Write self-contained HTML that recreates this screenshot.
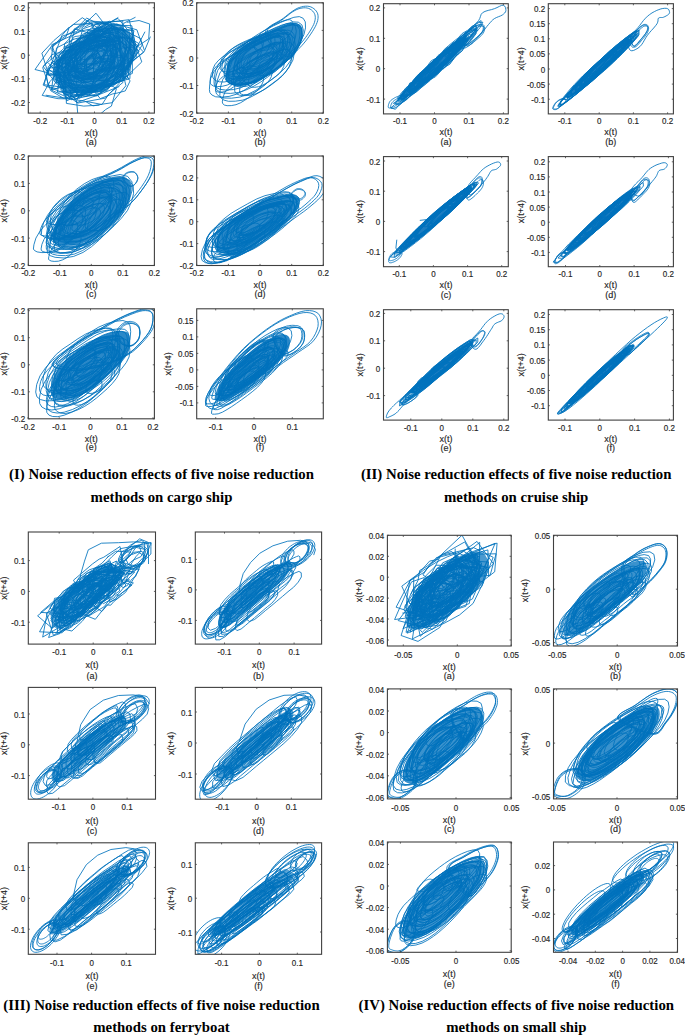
<!DOCTYPE html><html><head><meta charset="utf-8"><style>html,body{margin:0;padding:0;background:#fff;width:685px;height:1036px;overflow:hidden}svg{display:block}</style></head><body>
<svg width="685" height="1036" viewBox="0 0 685 1036">
<rect width="685" height="1036" fill="#fff"/>
<g fill="none" stroke="#0072BD" stroke-width="0.6" stroke-linejoin="round">
<g clip-path="url(#c_I_a)">
<g transform="scale(0.1)"><path fill="#3A92CD" stroke="none" d="M545 743l6-46 12-54 20-50 31-40 39-37 42-35 41-32 44-31 46-30 48-33 51-34 50-27 51-19 50-13 49-5 47 5 45 13 39 19 31 26 25 32 18 36 13 41 6 45 0 45-6 44-13 44-18 42-26 40-32 37-36 36-40 34-44 31-47 28-47 23-50 19-52 14-56 11-58 7-54 1-49-7-44-13-38-18-31-22-25-26-19-26-12-22-7-23z"/><path stroke-width="8.5" d="M1504 366l-62 151-105 88-141 51-142 27-142-118 36-107 100-146 122-74 96 75 139 73 38 116 M777 977l42-57 88-41 127-73 130 80-50 175-57 34-77 66-119 29-82-33-13-152 72-119 M1212 694l89 115-48 100-82 22-44 8-124 47-96-114 72-133 71-24 53-11 128-48 56 138 M1052 419l80 34-32 165-10 69-82 31-71 57-140-30-77-72 40-124 68-36 69-20 69-27 116-96 M976 442l216-35-50 154-34 96-34 85-106 19-103 19-108-82 57-147 101-50 82-60 M712 335l155-154 121 59 95 177-29 139-60 95-102 147-212-49-206-2 96-260 49-132 71-83 M1173 548l-43 121-96 162-169 80-157-32-83-189 121-115 24-138 151-36 79 37 151 63-13 225 M743 683l3-118 110-59 45-47 75-11 219-68-37 190-63 138-91 77-155 1-134-105 M953 630l-115 57-88-7-44-114 70-63 37-82 60-36 59 10 103-43 22 99-18 81-40 85-73 37 M929 603l98-45 68-4 146 31-80 165-28 55-56 63-55-12-70 45-103-21-78-113 118-101 88-70 M1182 811l-161 79-114-3-211-54-116-210 113-102 129-177 250-89 315 179-123 286-176 143 M566 752l91-212 125-154 130-15 207 38 48 98-45 147-135 66-112 86-96-42-236-12 M1186 740l-115 59-145 71-298 3 108-222-28-121 168-76 173-142 92 89 95 198-114 176 M1050 837l-165 103-242 12-63-280 94-186 81-65 196-173 157-22 150 269-32 260-218 153 M1181 414l86 44-33 139-74 80-134 21-57-52-45-96 66-72 77-38 58-30 71-11 M866 301l140 12 226-24 45 253 8 204-156 115-266 27-220 62-116-275 81-139 97-94 110-64 281-168 M903 479l136 43-10 134-73 123-72 41-77 8-124-26-38-89 43-127 75-77 54-66 170-18 M905 354l193-106 200 83-15 346-111 115-179 110-330 24-45-296 129-187 175-53 M1239 655l-113 104-149 140-117 67-164-36-165-142 108-243 100-122 204-20 189-140 185 191-150 256 M871 823l-172-91 64-135 103-96 102-20 223-49 23 206-127 75-43 114-135 57-145-136 M816 824l-99 125-31 40-105-2-159-33 79-140 64-69 106-41 89 84 14 105 M1123 702l-59 45-60 26-67 71-185-56 26-157-11-78 75-95 120-45 170-18 53 118-85 132-83 79 M1252 574l-86 131-94 111-105 37-323 65-75-218 210-197 62-75 98-127 241-117 139 166 31 154-79 277 M687 572l168-102 95-50 78-23 163-13 14 229 24 129-122 65-123-2-154 20-226-129 184-123 M1005 673l-64 60-164 57-89-170 127-122 64-32 72-50 92-7 73 105-77 135-38 57 M886 357l115-11 311-57 43 257-158 208-133 158-212-11-278 20 58-346 142-184 235-64 M661 936l-26-155 120-114 181-118 169 111 118 44 36 153-137 170-101 15-91 17-80-47-393-60 M661 611l-17-173 106-104 54-27 70-98 232 15 52 226-111 92-128 95-162 11-106-67 M1268 223l123-18 106 35-10 149-124 81-52 3-130 11-84-56 95-128 48-69 115-59 M787 922l-132-243 77-205 143-21 206-173 107 140 135 140 1 174-277 122-250 101-177-144 M1304 602l-5 185-196 53-244 10-187-136 158-142 107-130 190-210 242 66 53 152-154 247 M1051 848l-131 69-226 55-59-104 15-191 115-142 158-81 230 3 55 257-170 118-148 118 M1017 445l173 40 58 171-153 209-123 93-138-18-201 41-126-74-80-230 92-131 175-50 55-207 191 57 156 26 M793 450l52-11 67-57 186 73-112 154-70 77-136 39-111-121 57-93 68-93 M1282 598l-44 205-245 80-290 105-191-88 141-244 42-156 198-76 153-138 294 21-73 300 M937 300l42 228-117 189-180-1-193 41-70-225 119-126 118-101 81-61 174-6 83 213 M697 700l116-42 32-54 87-68 142 77 36 118-101 123-63 19-169 81-56-96-79-113 146-109 M571 889l-88-23-19-114 22-71 97-9 77-46 70 21 64 77-67 87-47 49-58 20-53-11 M863 428l140-63 118 22 6 138-30 93-102-3-54 60-145 77-36-185 52-91 54-59 M553 647l170-161 182-110 269-87 192 172-95 260-122 122-247 42-180-12-240-245 M901 467l81-34 166 11 33 195-80 133-123 83-90-68-130 33-130-49 41-130 77-107 135-35 93-130 M937 375l291-2 163 139-175 232-155 94-131 17-243 5-104-116 7-203 203-78 193-213 M996 238l184 16 256 267-212 168-160 215-158-42-193 25-177-145 29-263 175-87 136-37 307-181 M961 305l221 31 156 188-65 209-196 118-97 71-219 8-272-239 171-167 137-45 73-136 198-66 M842 273l78-45 24 63 1 91-69 47-46 43-123 38-15-129 48-89 51-30 100-66 M1272 790l-128-73-209 108 0-205 12-163 104-37 79-143 102 31 135 163-6 106-108 121-106 80 M1012 849l-147 12-158-30-58-247 155-98 148-91 249 26 32 259-139 108-141 26 M1122 610l-192 29-59 76-95-36-86-18-184-170 119-131 142-45 193-183 148 191-57 223-66 128 M1073 692l-65 40-41 47-67 20-87-10-48-63 33-75 51-40 30-45 99-37 72 89 11 53-60 42 M1201 342l6 246 27 194-249 133-336 11-76-241 79-200 137-52 38-144 183-65 218-13-2 211 M652 847l-116-63 37-184-56-153 187-85 116-55 225-39 91 132-2 193-74 79-156 77-161-40-234-83 M1321 371l-97 323-162 105-92 64-168 9-195-65 95-167-5-127 112-33 168-150 115 67 157 82 M942 818l-40 72-108 92-61-137-217 52 25-207 45-86 105-78 132-55 160 45 33 90-66 158-56 147 M784 474l48-47 166-18-37 147-21 80-106 61-62 65-80-103-97-45 130-104 47-45 82-48 M995 1051l-158 10-173-27-10-256 77-116 124-35 66-62 218 34 70 79 21 146-142 116-68 105-153-30 M919 487l62-19 157-26 37 90-116 76-36 82-63 56-148-49-8-129 53-54 89-76 M1097 361l14 258-115 78-145 53-160 31-341-86 168-238 150-106 180-115 152-13 168 55 30 162 M823 538l75-66 105-26 80 113-14 91-33 43-95 73-80-17-100-69 65-100 67-65 M569 682l51-140 39-69 87-108 96-11 90-51 247-23 28 204-175 178-68 97-126 6-273 67 4-264 M979 476l99 37 65 91-59 72-73 15-45 36-93 4-13-123 66-54 43-45 121-80 M837 690l49-104 42-22 81-59 101-3 32 134-56 46-25 31-49 51-53-23-93-4-3-113 M988 473l242 98-100 258-166 128-243 4-290-110 88-228 180-57 74-32 149-188 154 71 M1193 865l-222 89-202 71-157-117-21-136 137-158 123-20 159-16 142 60-40 138-109 144 M858 740l-117-24 47-159 80-57 61-23 99-19 91 64-25 116-51 52-63 39-84 12-41-40 M1450 317l-135 261-121 225-182 127-298 68-40-315-40-134 81-86 141-60 162-172 209 23 103 315 M957 364l127-31 138 54 48 202-116 67-120 117-196 17 12-231 47-114 123-93 M837 612l120-114 84-63 118-57 62 51 76 68-88 142-74 70-106-2-77-17-134-29 101-119 M782 584l40-79 49-16 186-50 29 154-115 113-46 23-72 74-133-75-24-124 95-58 M944 239l348-42 54 224 72 198-201 193-133 53-268 92-260-221 163-238 160-117 154-123 M1258 593l-69 243-135 145-279 50-95-152-238-32 41-179 186-197 186-32 276-175 104 284 20 246 M632 473l109-45 180-99 152-25 203 162-141 243-119 208-130 0-128 72-193-149-134-177 210-180 140-26 M1117 679l-104 88-103 9-160 40-64-172 39-119 76-45 123-66 248-8-47 160-33 137 M637 719l-125-125 17-134 128-85 35-99 131-99 172 114 123 110-99 199-173 58-154 73-231-26 M903 520l102-87 68 25 77 142-89 115-44 38-98-4-65 7-100-68 50-80 36-86 48-23 49-2 M1227 525l7 280-162 10-70 65-90 14-186-3-44-236 71-132 101-50 213-120 208 30-44 265 M1080 718l-42 70-112 10-177-30 17-141-17-88 83-46 136-83 164 17 43 120-95 140-97 115 M1007 765l-182 8-106-122 104-185 97-97 143-39 233 58 13 184-81 74-131 39-105 37 M849 811l-70-37-46-96 9-58 61-49 43-50 119-16 41 78 23 83-56 82-62 23-91 15 M813 765l-117-16-20-108 133-149 39-70 142-65 113 29 12 156-57 76-89 102-86 29-110-62 M871 402l224-152 223 7 34 176-60 197-103 129-88 82-119 20-315 147-62-220-33-175 138-138 128-110 123-36"/></g>
</g>
<g clip-path="url(#c_I_b)">
<g transform="scale(0.1)"><path fill="#2A88C8" stroke="none" d="M2259 749l3-28 4-34 8-35 13-34 20-32 25-31 28-30 30-28 30-26 32-24 34-22 35-22 36-20 37-19 38-18 38-18 38-17 38-18 38-16 36-14 35-13 35-11 33-8 28-2 24 5 20 11 16 15 11 22 4 29 0 35-5 39-11 37-15 36-21 36-25 35-26 33-30 30-32 28-34 27-35 27-36 27-38 28-38 25-38 23-37 20-38 19-37 15-37 11-39 8-41 4-38 0-32-2-25-6-21-8-16-11-13-13-7-12-4-14 0-17z"/><path stroke-width="8.5" d="M2381 806l38-19 39-18 38-17 37-14 35-12 30-4 22 7 14 18 4 32-7 38-17 36-25 35-31 31-35 28-38 30-41 28-41 24-43 18-47 9-42 1-28-7-16-14-4-17 4-24 8-37 16-39 27-34 33-31 34-26 36-22 M2773 802l-52 40-55 40-56 32-55 25-57 14-58 4-44-5-29-13-17-18-4-22 2-38 9-52 25-50 42-47 46-41 51-34 53-31 57-28 57-26 56-25 53-19 49-14 37 5 24 21 10 37-6 55-19 53-32 51-40 46-47 40 M2552 792l-36 25-37 20-37 13-38 4-32-3-19-9-12-12-6-13 0-17 1-28 8-33 20-31 28-28 31-24 34-21 36-19 36-17 37-17 36-16 36-13 30-5 21 8 11 20-1 33-11 37-19 34-24 32-27 27-32 26-34 27 M2427 822l25-25 27-22 29-19 33-17 33-16 32-14 32-13 29-9 25-3 17 8 10 16 1 28-7 31-16 30-21 28-25 24-29 22-30 22-31 21-31 16-31 12-34 5-30 0-20-5-13-9-6-11 0-16 3-27 8-30 20-27 M2107 783l30-64 52-61 58-54 66-46 71-42 75-35 75-34 74-33 69-25 65-17 49 4 33 28 10 51-12 74-31 69-48 66-54 57-60 48-62 48-66 48-67 42-69 35-74 22-77 8-57-4-38-18-20-23-5-30 3-47 10-67 M2680 567l30-17 31-15 32-16 32-13 30-12 27-5 20 6 12 15 2 29-7 33-17 31-22 29-26 25-30 23-31 24-33 22-33 17-33 12-33 3-29-3-16-8-9-12-2-13 2-16 4-25 8-27 17-25 22-24 24-20 28-18 M2636 385l67-31 64-26 60-20 52-7 38 14 23 32 6 55-11 65-29 62-44 61-54 53-61 48-67 49-68 44-68 34-67 24-71 10-64-1-42-12-25-21-10-25 3-35 9-57 21-61 41-56 52-51 55-44 59-38 64-34 67-32 M2799 359l8 37-7 54-21 51-35 49-40 43-45 36-48 35-50 34-49 29-49 23-51 14-54 4-41-3-27-11-16-16-4-20 1-34 8-48 22-46 37-43 42-39 46-33 51-30 54-27 54-26 55-24 51-19 48-14 36 4 24 20 M2748 382l2 33-8 39-19 37-26 34-31 30-35 28-37 28-39 25-39 20-39 15-41 5-36-1-23-8-14-12-4-15 2-20 4-32 12-35 23-31 29-29 31-25 34-22 37-20 38-19 38-18 38-16 36-13 32-5 22 8 13 19 M2290 737l9-58 21-63 43-57 53-53 56-44 61-39 66-36 68-33 70-35 70-32 69-27 62-13 46 11 29 34 6 62-16 75-38 70-53 66-62 56-68 49-69 50-71 43-69 35-68 25-74 10-65-1-43-12-27-22-9-25 3-36 M2913 346l11 36-6 54-19 52-34 50-40 44-47 39-49 37-53 37-52 32-54 25-55 16-58 5-44-3-28-14-16-18-2-23 4-37 10-51 25-48 40-44 44-39 48-34 51-29 54-26 54-25 54-24 51-19 48-14 37 2 26 19 M2441 811l-1-13 1-19 5-27 13-25 20-24 23-22 26-18 28-16 30-14 29-14 29-13 28-10 27-9 22 0 17 9 7 19-2 30-10 30-20 29-24 25-27 21-29 21-29 19-29 17-28 13-30 8-31 2-23-2-14-8-8-9 M2999 358l-15 71-33 66-46 64-55 55-64 53-70 54-73 48-73 40-74 27-79 11-69-1-46-14-28-23-11-27 3-39 10-62 24-68 46-61 58-55 60-46 65-40 69-37 71-34 71-34 70-30 67-23 57-9 40 16 23 37 2 61 M3032 183l21 36 2 60-16 68-33 65-46 61-55 53-63 48-66 48-68 42-66 34-67 25-73 13-68 3-47-8-32-18-13-24 2-37 10-60 24-66 47-59 55-53 58-44 61-39 66-37 69-35 71-34 69-29 65-23 54-7 39 17 M2333 896l-77 5-57-8-36-19-20-25-3-31 4-49 12-68 33-64 53-61 59-53 65-45 70-39 73-35 73-32 71-31 67-23 62-17 48 4 34 25 15 46-4 69-23 69-41 67-52 61-62 53-68 53-73 52-74 43-73 34-76 19 M2653 743l-36 28-37 24-37 21-38 13-39 5-35-1-22-8-13-12-6-13 0-19 2-30 9-34 22-32 30-29 33-25 34-20 37-18 36-16 36-17 36-15 35-13 32-7 24 5 14 18 2 33-9 38-20 36-26 34-31 28-33 26 M2445 734l-29-8-18-15-7-16 2-25 6-38 14-43 28-38 36-35 38-30 41-26 44-23 46-21 44-20 43-17 41-13 35-5 26 8 16 22 4 37-8 44-21 42-29 41-37 35-41 33-44 33-46 30-45 24-46 17-50 8-43-1 M2205 625l40-28 44-26 46-24 47-23 48-22 45-17 43-12 32 2 22 18 9 32-5 46-17 46-28 44-34 39-41 34-44 34-47 33-47 28-47 22-49 12-49 3-36-5-23-13-12-16-1-20 3-32 9-43 22-41 33-38 37-33 M2617 378l15 21 2 37-9 43-22 41-30 39-35 32-39 30-41 30-42 26-42 21-41 15-43 6-39-1-26-7-16-13-8-14 1-21 3-34 12-39 26-35 33-33 35-27 38-24 40-21 42-19 42-21 41-18 41-15 35-7 27 8 M2506 689l-19-6-12-9-6-11 0-15 2-26 10-29 19-27 25-24 26-20 28-19 31-17 32-16 33-17 33-14 31-12 27-5 20 8 10 16 2 29-7 33-16 31-22 30-26 26-31 24-32 24-34 21-32 15-32 9-32 3-28-2 M2515 475l37-24 41-21 41-20 41-18 40-17 38-13 33-5 24 8 15 20 2 35-9 42-21 39-29 36-33 31-37 29-39 29-40 26-40 21-41 15-43 6-38 0-24-8-15-13-6-15 1-20 3-33 11-37 24-34 30-32 34-27 M2366 782l-19-10-10-13-2-16 3-26 7-35 16-34 27-31 30-29 34-24 37-22 39-19 40-18 38-17 37-12 34-10 27 1 21 12 11 24 0 38-12 38-24 39-31 34-37 29-39 28-40 26-39 21-38 17-39 10-41 3-30-4 M2585 440l76-36 74-30 70-25 62-10 47 13 30 35 9 64-11 76-33 74-52 73-65 62-74 58-79 58-81 51-80 40-79 28-84 11-74-2-48-15-28-26-9-30 6-43 12-65 25-71 48-64 59-58 63-49 67-44 73-39 76-36 M2220 573l43-29 46-27 48-24 50-24 50-24 49-20 47-16 37 1 25 17 9 35-6 52-19 49-31 48-37 42-43 37-47 37-51 35-51 29-49 20-49 9-47-2-32-9-20-15-12-15-4-18 0-30 4-42 18-41 33-40 39-35 M2767 585l-12 28-20 27-25 24-29 21-29 21-30 19-30 16-31 12-33 7-30 1-21-5-11-10-3-12 3-18 6-26 11-28 19-25 22-22 24-19 26-18 29-15 29-14 30-13 27-11 26-8 23-3 17 6 12 13 4 23-4 29 M2708 428l-15 45-27 44-32 40-40 37-44 37-49 39-52 32-53 26-54 13-54 1-37-8-22-16-10-20 0-22 4-33 9-46 22-43 37-40 40-35 44-28 46-24 47-21 45-20 46-20 43-17 42-13 34 1 23 15 10 30-3 46 M2467 586l30-30 33-27 37-22 38-20 40-18 38-17 37-14 36-12 32-6 25 6 18 16 6 32-4 39-18 39-27 38-35 33-39 29-42 29-41 25-40 19-39 13-42 5-36-1-24-7-16-13-6-13 1-21 3-32 11-36 24-34 M2577 740l-30 16-31 12-32 5-29-1-18-6-11-11-2-12 3-17 5-25 10-27 18-24 22-21 23-19 26-17 28-15 29-14 29-14 28-11 27-10 23-3 17 5 11 14 3 24-5 29-13 28-20 27-24 23-27 22-29 22-31 20 M2371 671l5-38 13-41 25-37 34-36 36-31 42-27 45-25 47-22 47-20 44-17 41-13 36-5 26 9 17 22 4 38-9 46-23 44-32 41-38 35-42 31-44 32-44 29-45 24-45 18-50 9-44 0-28-8-17-16-4-17 3-25 M2328 724l23-48 38-45 44-40 49-34 53-30 55-25 54-23 53-22 49-18 47-13 38 1 29 16 13 35-4 53-20 52-35 52-42 44-48 38-50 37-52 36-51 31-53 26-55 16-58 5-43-4-28-13-15-19-2-22 3-36 8-50 M2377 681l-4-18 1-30 7-43 20-41 32-38 36-35 41-31 45-30 50-28 53-27 55-28 53-21 49-15 37 3 24 20 8 38-7 54-21 51-33 50-40 43-47 37-49 35-51 32-49 25-46 19-46 9-47 0-35-5-23-11-13-15 M2635 643l34-16 35-15 33-14 32-11 30-6 23 4 16 15 5 29-6 37-18 35-26 33-31 28-34 25-35 26-36 22-36 19-35 13-38 6-33-2-20-8-10-13-2-14 2-19 4-28 9-30 19-28 25-27 27-23 32-20 34-18 M2685 764l-76 55-78 47-75 36-74 23-77 9-67-3-45-14-29-22-12-26 0-37 5-60 20-68 44-63 58-58 62-50 68-43 74-38 75-34 74-33 70-28 67-22 58-8 45 13 29 34 10 60-10 73-32 71-49 70-62 61-73 55 M3033 301l-9 77-28 73-46 72-56 63-65 56-71 55-76 55-77 44-76 34-77 18-78 3-57-9-38-19-23-24-7-29 0-49 10-71 33-68 57-65 64-55 70-47 74-41 76-35 76-36 77-34 73-29 70-21 54 3 36 27 14 52 M2278 904l-29 12-32 5-29 1-19-5-11-9-3-12 2-16 4-24 9-27 18-24 22-23 23-19 26-17 29-16 29-14 30-14 29-12 28-9 23-4 18 6 11 14 2 25-6 30-15 29-22 26-24 23-28 20-28 20-29 19-28 15 M2890 240l61-8 43 18 24 40 0 67-19 77-38 72-53 67-62 57-68 51-72 52-73 45-71 35-70 23-73 8-64-3-41-14-26-22-11-24 1-35 5-57 16-64 39-59 52-56 58-49 65-46 72-42 78-38 78-38 77-33 72-24 M2645 394l52-23 50-19 47-16 42-6 31 9 22 23 8 42-5 52-21 51-35 50-44 44-52 41-56 41-57 35-56 29-56 20-61 10-55 1-37-9-24-16-9-21 3-31 9-49 20-53 37-47 46-42 47-35 49-30 52-27 53-24 M2484 415l62-36 66-34 67-33 70-33 66-27 62-18 47 4 30 26 9 48-10 68-25 64-40 63-47 55-56 50-61 50-68 50-69 41-69 32-70 16-71 2-50-10-32-19-17-23-3-28 4-45 11-62 31-59 50-54 54-48 59-40 M2445 774l-60 13-61 2-43-8-27-17-13-20-1-25 4-38 9-53 25-49 40-47 45-42 50-35 55-32 58-28 58-27 58-26 55-21 53-17 43 0 32 18 16 37-1 58-19 59-36 58-46 51-55 45-59 43-61 42-60 33-59 26 M2690 273l37-19 39-18 38-16 35-13 32-8 26-2 19 9 11 18 3 30-5 34-14 34-23 32-28 29-34 27-36 28-38 24-38 21-38 15-43 8-39 2-27-5-18-11-7-14 2-21 6-35 14-37 26-34 32-30 33-25 35-23 M2494 633l2-18 4-24 12-23 19-22 21-20 24-16 25-14 27-13 26-12 27-12 25-10 24-7 20 0 14 9 6 17-2 27-10 26-16 26-21 23-23 20-26 19-27 19-27 16-27 13-28 7-29 1-20-3-13-7-7-10 0-12 M2210 980l-12-25 2-37 8-60 21-66 44-61 56-55 60-47 65-41 69-37 72-34 72-34 71-30 68-25 60-11 45 13 28 35 5 62-15 74-37 71-52 66-61 56-69 51-70 50-72 44-70 36-70 26-75 11-68 1-46-12-29-21 M2652 334l8-32 25-28 35-25 41-23 39-21 32-21 25-20 25-20 23-18 23-16 22-14 21-12 22-9 21-6 21-5 20-2 19 0 17 2 17 5 16 8 15 10 13 11 11 13 8 13 6 14 3 15 1 16-1 17-3 19-6 19-8 21-11 23-14 24-15 25-16 24-16 23-16 23-17 22-18 22-19 22-20 21-20 20-19 23-20 26-20 25-21 20-24 10-25-4-34-24-42-40-44-50-39-54-29-51-12-41 M2669 326l8-29 23-25 32-23 37-21 35-19 30-20 23-18 23-18 21-17 21-15 20-12 20-11 19-8 20-6 19-4 18-2 17 0 16 2 15 4 15 7 14 9 12 11 10 12 7 12 5 12 3 14 1 15-1 16-3 16-5 18-7 19-11 21-12 22-14 23-14 22-15 21-15 21-16 20-16 21-17 19-18 19-18 19-18 20-18 24-18 24-20 18-21 9-24-4-31-22-38-37-40-46-36-49-27-46-11-38"/></g>
</g>
<g clip-path="url(#c_I_c)">
<g transform="scale(0.1)"><path fill="#2A88C8" stroke="none" d="M523 2372l6-42 13-53 18-54 26-51 32-50 36-49 39-45 44-44 48-41 54-41 58-39 56-33 52-24 50-19 47-13 48-9 45-4 38 4 32 14 26 23 17 28 8 34-1 38-7 41-13 42-19 45-24 43-28 39-32 37-33 37-36 38-37 38-40 36-41 34-44 31-45 28-49 24-50 19-51 13-53 5-52-1-45-4-32-6-24-10-18-12-13-10-6-13z"/><path stroke-width="8.5" d="M488 2566l12-44 23-41 31-38 37-36 46-33 44-24 41-13 38-6 30 7 18 22 3 29-8 35-19 37-25 31-29 31-32 30-35 26-38 20-41 13-42 2-31-4-18-9-8-9 3-26 M396 2318l47-58 57-52 69-49 66-34 59-19 56-8 44 11 27 30 7 43-10 51-25 54-37 48-44 48-49 47-54 42-60 31-64 21-66 2-48-7-26-14-11-15 5-42 20-67 37-63 M1295 1978l-7 46-20 49-28 45-36 41-39 44-45 40-51 35-56 23-57 7-51-5-30-10-18-12-5-18 8-53 25-58 40-55 47-48 56-43 61-38 56-25 53-16 50-4 34 20 13 35 M581 2309l24-90 47-85 64-80 78-71 95-67 91-47 82-27 78-13 61 15 36 43 6 61-17 71-36 74-50 64-58 64-65 64-73 57-81 43-85 25-87 0-62-11-34-19-16-18 2-53 M1100 1971l50 32 22 52-7 68-28 76-45 71-58 63-63 64-69 59-76 49-83 36-87 16-83-4-49-12-28-18-6-30 15-82 38-89 58-86 72-76 87-71 98-61 88-36 81-20 73-1 M522 2232l66-94 79-84 96-77 107-66 95-39 89-21 78-1 55 34 25 57-5 73-29 83-48 77-62 70-70 73-78 66-85 55-93 39-97 18-92-4-55-14-30-20-7-34 18-92 43-99 M896 1948l65-28 60-13 52 2 35 25 15 40-5 49-20 55-32 51-42 47-46 47-51 43-55 36-61 26-65 13-61-2-37-9-20-13-4-23 12-61 28-66 42-62 52-57 64-54 74-46 M810 2169l-44-3-25-9-14-10-2-17 9-44 20-47 31-45 38-41 46-38 52-35 48-22 47-13 41-2 28 18 12 30-5 39-17 42-24 39-32 35-34 36-39 34-42 27-47 19-47 7 M736 2309l-15-8-3-16 10-42 22-44 31-41 36-35 40-32 45-28 41-18 38-9 33 0 22 15 9 25-3 31-11 34-18 33-25 30-29 32-34 30-38 25-41 17-43 8-41-2-26-5 M732 2320l-44 34-48 25-52 16-53 1-38-6-20-12-8-12 4-34 16-53 28-50 37-47 45-43 56-40 54-28 48-13 43-4 32 11 20 25 5 33-7 39-18 43-27 37-33 39-40 39 M995 2241l-58 49-63 40-69 28-70 10-64-6-37-13-20-15-6-23 9-64 25-71 43-70 57-67 74-63 86-56 77-33 71-16 61 3 41 30 16 47-8 59-25 64-38 60-49 53-53 54 M545 2466l17-69 29-72 44-70 56-65 73-63 84-52 74-28 66-12 57 3 41 26 21 41-1 54-21 64-39 60-50 53-54 53-58 49-63 43-72 35-77 17-73-2-40-14-16-21 2-30 M725 2179l56-62 71-58 79-50 71-30 66-15 56 3 35 29 12 45-9 54-23 58-32 53-39 49-45 53-55 53-63 45-71 31-73 11-65-8-35-16-18-17-3-26 12-64 28-70 45-68 M705 2526l-101 0-68-19-29-29-9-27 11-63 30-97 52-90 68-83 82-74 98-67 94-48 85-29 84-17 69 9 47 40 11 63-18 78-40 83-56 70-63 71-71 73-81 69-93 54-102 33 M698 2182l38-37 47-36 47-25 43-14 40-5 29 9 18 23 2 31-9 35-18 38-25 32-30 32-33 31-36 27-40 21-42 13-43 1-31-5-17-9-8-10 3-27 12-44 23-42 30-39 M992 1925l44-6 34 10 20 25 3 34-8 40-20 42-28 37-33 37-39 37-42 31-46 24-48 14-49 1-37-5-22-9-11-9 0-31 14-53 28-50 38-47 46-42 55-39 53-27 48-14 M568 2452l-34-5-19-9-9-10 3-29 14-48 26-44 34-41 40-37 49-35 47-25 43-14 40-6 31 8 19 22 3 32-9 36-19 39-26 33-30 32-34 33-37 28-41 23-45 14-46 3 M804 2085l-31 35-36 36-39 32-42 28-46 20-49 10-47-2-27-8-12-12 0-19 11-45 21-47 29-46 37-42 46-41 55-36 50-21 45-9 38 2 25 20 12 29-3 36-13 41-24 39 M937 1912l78-27 76-14 61 11 37 39 7 58-16 69-34 72-47 63-56 63-64 64-73 56-80 41-82 22-83-2-59-12-34-17-18-16 0-51 23-87 49-84 65-76 76-67 90-60 84-45 M774 2290l-15 39-23 37-29 33-33 34-36 33-41 28-45 21-49 9-46-1-27-7-16-10-3-17 8-45 21-50 33-47 40-42 48-38 54-32 47-19 42-9 38 1 25 18 11 28-4 36 M592 2018l84-62 83-46 75-24 70-9 52 15 33 39 7 54-13 62-31 68-46 59-55 57-62 55-65 46-69 33-71 19-73 1-53-8-30-15-14-16 3-46 20-75 38-72 52-70 65-65 M1158 2148l-61 66-68 66-75 59-84 46-90 29-94 4-70-9-39-17-20-19 3-59 27-97 52-93 70-87 84-78 103-72 98-51 89-28 82-10 62 18 37 48 4 65-19 74-39 78-52 67 M660 2492l-48-14-25-20-4-31 16-82 37-88 57-84 70-77 87-71 98-60 87-36 80-19 71 1 49 31 23 52-6 67-28 75-44 70-56 62-63 65-69 60-76 50-84 38-89 16-83-5 M906 1947l63-27 58-12 49 3 30 27 11 39-5 47-17 50-25 48-35 46-43 50-51 47-58 39-64 25-64 9-59-7-33-12-17-15-4-22 12-59 27-64 41-61 51-55 62-51 71-45 M593 2341l-1-26 14-63 28-67 41-64 53-60 67-55 76-46 67-27 61-13 54 0 39 23 20 38-4 52-22 59-36 54-46 48-49 48-52 44-56 40-65 31-70 15-66-2-36-12-17-17 M446 2359l-27-5-16-8-5-16 8-44 21-48 31-46 39-41 47-37 52-32 46-17 41-8 34 3 23 18 10 27-3 33-13 38-21 35-28 32-32 33-35 30-39 26-43 19-45 9-45-1 M488 2512l-24-20-2-32 17-80 39-86 56-80 68-71 82-66 91-55 81-34 75-17 67-1 47 28 23 48-4 62-24 71-40 66-53 61-60 64-67 59-74 51-84 36-87 16-81-5-46-15 M995 2079l51-37 50-28 46-15 42-7 32 10 18 26 1 33-10 38-20 40-26 34-31 34-34 33-39 29-42 22-45 14-46 2-36-4-21-8-10-9 2-30 15-49 27-46 35-43 41-39 M489 2411l41-95 62-91 77-80 93-73 102-62 91-38 85-22 79-4 58 29 29 53-4 72-29 83-49 77-64 70-69 71-76 66-84 57-94 40-96 16-90-7-50-17-25-23-5-34 18-88 M765 1893l77-55 75-41 69-24 66-11 51 12 31 35 5 51-15 60-32 62-44 53-49 52-54 50-58 46-65 37-72 25-76 6-57-6-30-15-12-18 7-48 25-77 43-71 53-64 62-59 M496 2258l57-103 76-97 94-88 116-83 112-59 100-32 94-12 68 23 38 56 3 74-20 83-38 86-54 76-66 79-79 80-90 71-100 51-103 27-103-3-72-16-41-22-21-21 2-63 27-107 M1116 1938l-19 66-32 67-43 58-51 60-60 60-67 54-77 44-84 31-92 8-70-3-42-15-16-20 11-61 36-94 56-85 66-74 73-66 87-63 86-49 80-29 75-12 54 19 29 45 0 59 M645 2109l66-79 79-70 94-65 89-47 81-26 77-12 59 15 36 41 6 60-17 70-37 73-50 63-58 61-64 60-70 53-76 41-83 28-88 6-67-5-40-14-20-17 3-56 28-93 52-87 M633 2154l75-95 91-89 116-86 113-62 103-33 94-10 68 24 39 56 4 74-20 84-42 89-60 76-71 75-79 72-85 62-92 48-98 32-105 7-80-6-47-18-21-21 6-67 33-109 58-103 M1151 1841l70 14 42 45 6 68-22 79-43 83-56 69-64 68-70 69-78 60-86 46-91 28-93 0-67-11-38-19-20-19 1-57 25-97 53-93 71-86 85-77 102-70 97-51 89-32 87-17 M932 2251l-31 28-32 24-36 19-38 13-41 3-31-3-17-8-7-9 3-26 12-41 23-39 29-36 35-33 43-30 41-21 37-11 34-5 27 7 18 18 5 26-7 32-16 34-24 29-27 29 M844 2363l-65 10-58-5-32-13-13-17 1-25 15-57 29-60 41-55 47-48 56-42 61-36 52-21 50-12 46-3 35 15 21 29 2 41-13 49-27 48-38 45-43 48-50 44-55 38-62 27 M640 2144l26-39 33-36 41-33 46-29 41-16 37-9 34 0 24 14 11 24-3 32-13 35-22 33-27 30-29 30-32 27-36 24-39 18-42 8-39-2-22-7-11-10-2-14 7-38 17-42 M872 1971l68-29 63-15 55 1 36 26 14 42-8 52-23 57-34 52-42 47-46 47-51 44-56 38-62 26-65 12-61-3-36-10-20-14-5-22 10-60 27-66 42-64 53-59 66-54 75-48 M745 2013l94-77 107-67 96-42 90-23 80-1 55 35 26 56-2 73-26 84-45 80-62 75-73 78-83 72-92 59-99 40-101 14-92-9-52-19-26-24-3-38 21-92 45-99 65-92 77-83 M704 2079l6-37 18-42 27-39 34-34 40-31 44-26 38-15 35-7 31 0 23 13 11 21 0 29-10 33-19 32-25 30-30 31-33 27-35 23-39 15-40 7-37-3-23-5-13-8-3-14 M1297 1986l-46 91-59 78-69 78-79 79-89 70-99 51-102 26-102-3-72-15-43-20-25-18-2-62 25-109 58-105 81-99 96-87 117-82 112-60 103-36 99-18 76 19 43 55 3 79-26 88 M487 2178l31-48 49-50 57-49 56-46 55-42 57-40 60-37 60-35 63-32 66-30 64-27 57-27 50-26 44-26 41-24 39-20 38-18 36-15 33-11 28-4 24 1 20 6 15 12 8 19 1 29-5 36-10 41-15 39-19 38-23 40-27 39-27 37-27 36-27 34-30 33-32 32-35 30-37 28-40 28-42 30-45 33-47 35-49 35-52 32-56 30-60 29-59 23-56 14-55 3-54-5-48-14-36-22-26-34-17-44-6-48 10-48 M512 2155l30-45 46-48 54-46 54-44 52-40 54-38 56-36 58-33 60-30 62-28 61-27 55-25 47-25 42-25 39-22 37-20 36-16 35-15 31-10 26-4 23 1 19 5 15 12 8 18 1 27-5 35-10 38-14 38-18 36-23 38-25 37-26 36-25 33-26 33-28 32-31 30-33 28-35 27-38 27-40 28-43 32-44 33-47 33-50 30-53 29-57 27-57 23-53 13-52 3-51-5-46-13-34-22-25-32-16-41-6-46 10-46 M474 2175l32-49 49-51 59-51 57-47 56-43 59-40 60-39 62-35 64-33 68-30 65-28 59-28 51-27 45-26 42-24 39-21 39-18 37-15 34-11 28-5 25 1 20 6 16 13 8 19 2 29-6 38-11 41-14 40-20 39-24 40-27 40-28 39-27 36-28 35-30 34-33 33-36 30-38 29-41 28-43 31-45 34-48 36-51 36-53 32-57 30-61 30-61 24-57 14-56 3-55-5-49-14-37-23-27-34-18-45-5-50 10-48 M1236 1786l0-6 1-7 2-6 3-6 4-6 4-5 5-5 6-5 5-4 6-3 6-3 6-3 7-2 8-2 8-1 8-1 8 0 7 0 7 1 6 2 5 3 5 3 5 5 4 5 4 6 4 6 3 6 2 7 2 6 1 6 0 6-1 7-2 6-2 7-3 7-3 7-4 6-4 6-4 5-4 5-4 4-4 4-5 3-6 3-5 3-6 2-5 1-6 0-6 0-6-2-6-4-7-5-8-7-8-7-7-8-7-9-7-8-5-9-4-7-3-7 M1226 1786l-1-7 1-7 3-6 3-7 4-6 5-6 6-5 5-5 6-5 6-3 6-4 7-2 8-3 9-2 8-1 9-1 8 0 8 0 7 1 6 2 6 3 5 4 6 5 4 6 5 6 4 6 3 7 3 7 1 7 1 6 0 7-1 7-1 7-3 7-3 8-4 7-4 7-4 6-4 6-4 5-5 4-5 4-5 4-6 3-5 3-6 2-7 2-6 0-6-1-6-2-7-4-8-6-8-7-8-8-9-8-7-10-7-9-6-9-5-8-2-7"/></g>
</g>
<g clip-path="url(#c_I_d)">
<g transform="scale(0.1)"><path fill="#2A88C8" stroke="none" d="M2166 2447l2-28 7-34 12-36 16-33 22-29 27-29 31-28 32-26 34-24 37-24 39-22 40-23 41-25 43-25 43-24 41-20 39-15 38-12 37-10 35-9 36-10 35-10 32-7 28-1 25 3 21 8 18 11 11 15 5 19 0 24-5 26-9 24-15 23-20 23-23 23-26 25-30 27-33 29-34 29-34 27-33 25-32 23-32 23-34 22-36 25-38 24-38 24-38 21-37 18-39 16-37 13-36 9-36 4-37-1-32-5-26-7-18-11-11-14-6-19z"/><path stroke-width="8.5" d="M2375 2183l87-50 83-37 77-24 74-20 69-17 54 2 40 20 16 36-7 51-26 49-45 47-58 53-69 58-67 52-65 46-71 47-75 47-75 38-74 29-72 11-68-4-44-18-18-32-1-50 17-68 37-63 57-56 67-52 75-46 82-49 M2839 2181l-34 45-52 49-65 55-70 55-64 44-64 42-69 46-72 43-75 37-76 27-78 10-66-7-34-23-9-42 13-65 33-72 55-59 67-54 72-46 77-44 82-47 81-42 74-26 69-18 68-19 60-10 48 8 32 23 9 41-12 49 M2150 2517l-52-6-31-16-12-26 1-40 14-53 28-47 43-43 50-40 59-36 63-38 67-38 63-28 58-16 54-13 50-11 38 3 27 16 12 26-3 37-17 36-30 34-40 39-51 45-50 42-51 37-56 38-60 38-60 31-59 21-55 8 M2493 2246l34-10 30-5 24 5 14 13 3 21-8 24-16 23-24 23-30 28-33 28-31 25-34 24-38 26-40 24-40 19-39 11-38 1-30-6-15-14-5-21 5-32 15-36 27-31 34-28 38-24 41-23 42-23 42-21 37-12 35-9 M2482 2513l-52 23-50 14-48 1-39-9-19-18-5-27 6-42 18-46 32-40 43-36 48-33 54-31 57-35 58-31 54-19 50-14 49-14 42-6 31 9 18 20 1 31-13 35-24 31-34 32-41 37-45 38-43 33-45 32-51 34-52 31 M2135 2578l-18-30-1-49 17-66 38-61 56-54 65-49 73-43 77-46 82-46 77-35 72-22 70-20 66-16 52 0 39 18 18 33-4 48-23 46-42 45-54 51-67 57-66 52-64 44-69 46-73 45-73 36-72 27-68 11-66-5-42-17 M2420 2356l-35-7-18-15-5-24 5-37 15-41 29-35 37-32 43-29 48-28 51-29 50-25 45-15 42-10 40-10 36-6 28 6 19 14 5 24-7 30-21 27-30 29-39 33-41 33-38 28-39 26-43 29-45 27-45 21-44 14-43 2 M2327 2534l-72 1-55-15-25-29-3-42 12-63 28-66 46-57 59-53 68-48 77-47 85-51 85-44 77-26 70-15 63-13 53-3 39 13 26 26 8 39-8 45-27 42-43 45-58 56-67 57-64 49-68 47-76 51-78 45-78 35-74 21 M2818 2168l-42 38-50 42-49 37-47 32-50 33-53 32-53 27-53 21-52 10-51-2-34-10-17-21-3-36 11-50 28-46 44-42 51-38 57-33 59-33 62-34 57-24 52-14 49-13 48-12 39-1 30 12 15 23-1 34-16 34-31 34 M2690 2224l-26 22-26 21-25 17-27 19-30 19-29 16-31 12-30 6-29-1-18-7-7-13 1-21 10-29 17-25 25-22 26-19 29-18 31-18 33-20 32-15 30-10 29-9 28-6 20 1 14 8 5 15-3 20-10 19-17 18-22 20 M2771 2179l-52 43-48 36-50 34-56 38-57 33-58 27-55 16-55 1-43-10-21-19-5-31 7-47 20-50 35-44 46-41 53-37 59-36 65-40 67-37 62-23 59-16 56-15 47-6 35 11 19 22 1 36-15 40-29 36-39 37-48 42 M2812 2018l57-11 44 7 28 21 6 38-14 46-33 41-45 43-56 49-60 50-57 42-59 41-65 43-66 38-65 28-62 15-59 0-47-12-24-22-8-33 5-52 21-57 40-50 55-47 62-41 68-38 72-42 71-36 66-24 62-18 63-19 M2513 2417l-27 17-27 14-27 10-25 4-25-1-15-7-7-11-1-18 6-24 14-23 21-20 24-18 27-17 29-16 31-18 29-12 26-8 26-7 24-6 18 1 14 7 6 12-3 18-9 17-15 16-20 18-23 21-24 18-22 16-25 17 M2693 2218l-38 34-44 39-44 35-42 32-48 34-53 36-54 29-55 22-53 10-51-2-35-12-17-20-6-35 9-51 26-48 44-44 54-39 60-35 63-34 65-34 57-23 53-13 49-13 48-11 37 1 26 14 9 26-7 36-20 34-33 32 M2655 2393l-65 42-67 38-67 30-66 21-68 6-57-8-29-21-8-36 11-59 30-63 47-53 58-47 62-43 69-42 74-46 78-43 71-26 66-16 60-13 47-2 32 17 18 26 2 38-10 41-24 36-36 40-50 49-60 51-57 43-61 40 M2341 2521l-78 30-75 13-72-5-46-19-20-33 0-53 20-73 41-65 61-59 70-53 79-47 83-49 89-51 84-37 78-24 74-20 70-17 55 2 40 20 17 36-5 51-25 50-45 47-58 54-70 60-69 55-67 48-73 49-79 50-79 40 M2512 2167l74-44 74-39 68-25 65-18 63-18 56-9 43 9 27 23 7 38-13 45-30 41-45 44-57 52-62 51-59 44-62 42-67 45-70 40-69 31-66 18-64 2-51-13-24-24-5-37 10-57 26-60 45-52 55-47 63-42 68-40 M2727 2120l24 8 18 13 7 22-3 27-16 25-28 28-39 34-42 32-39 26-39 23-40 25-40 23-41 19-42 15-45 6-38-3-20-12-6-23 5-36 18-41 29-34 36-31 41-29 45-27 50-31 51-26 45-15 41-8 37-8 31-2 M2414 2292l12-28 20-24 26-22 29-19 31-18 34-20 34-18 32-12 30-9 30-9 26-4 20 4 13 10 3 18-6 21-15 20-22 20-27 24-29 23-27 20-28 18-30 19-30 17-30 13-29 9-30 1-24-4-13-9-4-16 4-25 M2369 2207l75-42 80-45 78-40 71-25 68-19 67-20 60-11 47 9 28 24 3 42-17 49-36 44-48 45-59 52-62 52-59 46-62 43-70 48-72 42-71 32-68 18-65 0-51-14-27-23-9-36 5-57 23-63 44-54 59-51 68-46 M2603 2296l-39 26-41 23-40 18-39 11-38 2-30-8-14-14-1-23 7-33 16-36 26-29 31-27 36-25 39-23 43-27 44-23 40-16 39-10 38-11 33-5 25 5 17 13 5 22-6 27-18 25-27 26-35 31-38 31-36 26-37 24 M2493 2306l-39 15-37 7-37-2-25-8-11-15 0-27 10-37 23-33 33-29 36-25 39-22 40-22 41-23 39-18 37-12 36-11 35-10 28 0 21 9 9 16-2 25-12 24-21 24-28 26-35 30-34 27-34 23-36 24-38 24-38 20 M2564 2311l-41 26-40 20-40 15-38 5-36-3-24-9-11-16-2-26 8-37 19-34 31-31 37-28 41-26 45-27 48-29 47-22 44-15 43-12 41-10 30 1 20 13 5 23-7 30-17 28-27 26-31 28-36 32-36 28-35 25-38 25 M2716 2057l58-7 41 14 23 29 0 44-18 49-35 44-47 44-57 53-62 52-59 47-63 46-72 51-76 46-78 37-74 22-71 1-55-15-23-29-3-42 14-62 29-66 47-55 59-51 66-46 74-45 81-50 82-45 77-28 73-20 69-18 M2957 2121l-43 46-57 52-69 58-68 52-64 45-70 47-75 48-76 40-76 30-72 12-69-5-42-20-16-33 2-51 18-68 37-62 55-56 65-51 76-47 81-48 87-49 80-33 74-20 68-17 65-15 52 1 41 17 20 32-2 48-22 47 M2548 2064l83-44 77-27 72-19 71-20 61-9 48 9 31 26 5 43-15 51-37 47-52 48-64 56-68 56-63 47-66 46-73 51-78 47-78 37-76 23-72 1-56-15-25-29-3-43 12-62 29-68 47-56 60-53 69-48 77-45 84-50 M2371 2491l-59 22-56 9-54-5-34-15-16-25-1-39 13-55 30-50 46-45 54-41 61-36 65-38 68-38 64-29 60-18 58-17 56-14 43 1 31 15 12 29-6 41-21 38-35 37-44 41-53 46-52 42-52 37-56 38-61 39-61 30 M2380 2390l4-26 12-29 20-24 26-22 29-20 33-20 35-21 36-19 33-12 30-8 29-7 25-3 18 5 11 12 2 18-6 21-14 18-20 20-26 24-28 23-27 20-28 19-30 21-32 18-32 15-31 9-31 1-24-5-12-11-2-17 M2721 1940l65-13 59-10 45 5 34 20 14 32-5 46-22 44-41 42-53 48-63 53-61 47-59 41-63 43-69 46-72 40-75 35-76 19-76 1-51-13-25-29-4-51 17-72 38-66 61-59 71-55 81-48 87-49 90-48 81-32 72-17 M2533 2336l-61 41-62 34-64 26-61 12-57-4-35-17-13-28 4-43 18-57 33-51 49-45 54-40 61-35 63-36 67-37 61-26 56-17 54-14 51-12 40 1 29 15 12 26-5 38-19 36-33 35-41 38-50 44-48 40-49 37-54 39 M2392 2417l-61 11-58-4-36-16-15-27 1-43 15-58 32-52 47-47 54-44 63-40 69-41 75-44 70-33 67-20 63-17 59-14 46 1 35 17 15 30-4 44-21 42-40 41-50 46-61 50-59 45-57 38-59 39-64 40-63 32-63 24 M2402 2412l-8-17 1-27 10-36 18-32 28-29 34-26 40-25 43-24 45-25 41-17 38-11 36-9 34-8 29-1 22 8 11 17-2 26-13 25-24 24-31 28-36 29-34 27-33 23-36 25-39 26-40 22-40 16-38 6-36-3-20-12 M2205 2622l-29 2-24-4-13-9-5-15 2-25 9-27 20-24 26-23 30-20 33-18 35-21 34-17 32-11 29-8 29-8 26-4 18 4 11 12 0 18-8 21-15 19-22 19-25 22-26 22-25 18-25 18-28 19-30 18-30 13-29 9 M2910 2120l-17 49-35 45-49 46-60 52-65 53-60 45-63 43-69 46-71 42-71 32-69 20-69 3-56-10-29-23-10-37 8-59 26-65 48-56 62-51 69-45 74-42 79-47 78-41 73-27 70-20 69-21 61-11 46 10 27 26 3 43 M2640 2316l7 15-2 22-11 21-20 21-24 23-30 25-30 23-28 21-31 21-35 23-34 18-34 13-32 5-30-3-19-10-6-15 1-22 8-31 16-27 25-25 29-23 33-21 36-21 39-22 36-16 34-9 31-9 30-7 23 1 18 9 M2120 2473l10-65 30-71 52-60 65-55 74-49 80-46 85-50 86-44 78-28 74-20 71-20 62-9 47 12 29 26 5 44-15 51-35 47-51 48-64 57-69 57-65 48-68 46-74 49-76 46-78 36-76 23-75 5-62-11-32-25-8-42 M2369 2479l3-31 12-35 23-30 32-29 38-26 42-24 46-27 45-22 40-13 37-9 35-9 31-4 24 6 16 12 4 22-6 26-17 23-25 25-33 30-36 30-35 25-35 24-39 26-40 22-39 17-37 10-36 0-29-7-15-12-6-20 M2337 2383l-42 29-44 26-45 21-43 13-43 2-34-7-17-14-5-24 6-37 17-40 30-34 38-31 42-27 45-25 47-27 47-23 42-14 38-10 39-11 33-5 27 5 18 13 4 23-6 28-19 25-27 27-36 32-38 31-36 28-38 26 M2704 2259l-43 33-46 32-50 33-52 29-50 21-47 12-45 0-37-9-20-16-7-25 3-41 17-44 31-39 42-37 48-32 53-31 57-34 57-30 53-20 51-15 50-15 43-6 32 8 18 19 1 32-13 36-25 31-34 32-42 38-45 38 M2691 2203l-31 26-30 23-32 22-35 22-35 20-34 15-34 10-34 2-29-5-14-11-4-19 6-30 15-32 24-27 29-24 32-22 35-21 39-24 39-22 37-14 35-10 33-8 26-2 18 7 11 14 1 20-7 23-13 20-21 21-27 26 M2528 2401l-59 30-58 22-55 9-52-5-32-15-13-25 1-39 14-53 29-47 43-43 50-39 58-36 62-37 66-39 63-28 59-17 55-15 52-12 40 3 28 16 11 27-5 38-18 37-33 35-42 39-52 44-50 40-50 36-54 37-58 37 M2145 2413l7-59 26-65 47-56 62-51 69-46 75-42 79-46 79-40 71-24 66-16 64-18 56-8 45 8 31 22 11 37-7 46-28 42-44 46-61 56-69 57-65 47-67 44-73 46-72 40-71 30-68 18-68 2-56-10-29-23-10-37 M2083 2480l18-42 30-48 38-49 43-45 48-40 56-37 59-35 58-36 60-38 63-38 61-37 56-35 51-31 47-29 45-26 42-24 40-22 37-20 36-17 34-15 35-15 34-14 32-9 29-3 26 7 25 13 20 19 12 20 3 24-5 28-11 30-15 29-21 28-27 27-30 28-33 28-33 27-36 27-38 27-40 29-43 31-45 33-47 33-50 33-53 32-55 32-57 33-56 32-57 34-56 36-56 33-53 26-52 19-52 14-46 7-34-3-24-16-14-26-5-32 6-37 M2072 2465l18-41 29-47 38-48 42-45 47-39 54-36 58-34 58-36 59-37 61-37 60-37 55-34 50-30 46-28 44-26 41-24 39-22 37-19 35-17 34-15 34-14 33-14 32-9 28-2 26 6 24 13 20 18 11 21 3 23-4 28-11 29-15 28-20 27-27 27-30 28-31 27-33 27-35 26-38 27-39 28-42 31-44 32-47 32-48 32-52 32-55 32-56 31-55 32-55 34-56 35-54 32-52 26-51 18-51 14-45 7-34-3-23-15-14-26-5-32 6-36 M2038 2515l20-45 32-52 41-53 46-48 52-43 60-39 63-39 63-38 65-41 67-41 66-40 60-37 55-34 51-31 48-28 45-26 43-24 40-21 38-18 38-17 37-16 37-15 34-10 31-2 28 7 27 14 21 20 13 22 3 26-5 30-11 32-17 31-22 30-29 30-33 30-35 29-36 30-38 29-41 29-44 32-46 33-48 35-51 35-53 36-57 34-60 35-61 35-60 35-61 37-61 38-60 36-57 28-56 20-55 16-50 7-37-4-26-16-15-28-5-36 6-39 M2913 1943l0-4 1-5 3-5 4-5 5-6 5-5 6-5 7-5 6-5 6-4 6-3 5-2 5-2 6-1 6 0 6 0 5 0 6 1 6 1 6 2 5 2 5 2 4 2 4 2 3 3 3 2 3 4 3 3 2 4 2 4 2 5 1 4 1 4 0 4-1 4-1 4-2 4-3 5-3 5-4 5-4 5-5 5-5 4-6 4-5 4-6 2-6 2-5 1-7-1-7-1-8-3-9-3-8-4-9-5-8-4-8-5-7-6-5-4-4-5-2-5 M2912 1955l0-5 1-5 3-5 4-6 5-6 6-5 6-6 7-5 6-4 7-4 6-4 6-2 5-2 6-1 5 0 7 0 6 0 6 1 6 1 6 2 5 2 5 2 5 2 4 2 3 3 3 3 3 3 3 4 3 4 2 5 1 4 2 4 0 5 0 4 0 4-2 5-2 4-2 5-4 5-4 5-4 5-5 5-6 5-5 4-6 4-6 2-6 2-6 1-7-1-7-2-9-2-9-4-9-4-9-4-8-5-8-6-7-5-6-5-4-5-2-4"/></g>
</g>
<g clip-path="url(#c_I_e)">
<g transform="scale(0.1)"><path fill="#2A88C8" stroke="none" d="M504 3902l3-32 7-38 11-40 17-39 22-38 27-39 30-38 33-35 34-30 37-28 39-27 39-27 42-29 42-30 43-29 42-24 39-19 38-15 36-13 36-9 36-7 36-5 33-1 26 4 19 9 13 15 9 18 6 23 3 29 0 34-4 35-9 33-13 29-18 28-21 27-22 28-25 28-28 28-29 28-31 28-31 29-32 28-33 29-34 26-36 26-37 25-38 23-39 20-42 18-44 17-44 13-38 8-34 2-30-3-27-7-21-11-17-13-11-16-7-20z"/><path stroke-width="8.5" d="M563 3543l66-54 73-48 78-54 76-46 69-30 65-19 65-11 54 2 30 20 14 37 3 57-12 62-29 52-40 50-48 51-53 51-56 52-61 51-67 48-72 41-80 34-76 19-58-3-43-17-25-28-8-42 8-64 25-73 44-71 58-67 M468 4124l-2-48 16-68 35-66 51-66 58-55 65-45 68-46 71-47 65-32 59-19 55-10 52-2 34 11 18 26 8 39-1 53-15 49-31 44-39 44-47 44-50 43-51 43-54 39-56 36-64 33-71 28-63 15-53-2-37-14-21-27 M700 3829l-22-4-13-10-7-15 1-23 7-30 14-30 22-30 25-26 30-22 32-22 34-23 32-16 28-9 28-6 26-3 19 5 10 11 5 19 0 27-9 25-16 22-20 23-24 21-24 22-26 22-26 20-30 20-32 16-35 12-29 4 M823 3773l-23 0-18-5-12-9-5-15 2-25 9-30 19-29 24-26 27-21 29-19 31-21 30-19 27-12 27-8 26-6 22 1 12 8 5 15 1 23-4 25-11 21-16 20-19 20-22 21-23 21-25 20-26 17-28 15-30 11-29 7 M605 3787l-4-21 5-32 14-37 22-35 29-32 33-26 35-24 37-26 38-23 34-16 32-9 32-6 27 1 15 10 8 17 2 28-4 31-14 26-19 25-24 26-28 26-29 26-31 26-34 23-35 20-40 16-38 9-29-1-21-8-13-14 M904 3558l31-19 28-12 26-7 25-4 20 2 11 9 5 15 1 22-4 24-11 21-16 19-19 20-21 20-23 19-23 19-25 17-27 15-30 13-30 9-25 2-20-4-12-9-6-16 3-26 11-30 19-29 25-27 27-22 29-19 31-22 M658 3797l-41 10-31-3-24-10-14-15-5-22 4-35 14-41 24-39 33-37 37-29 40-27 42-30 43-27 40-20 38-13 40-10 34-1 18 12 8 23 0 34-8 38-19 30-24 29-28 30-31 29-32 30-35 29-38 26-41 22-44 17 M1045 3654l-36 35-39 36-43 34-45 30-47 26-52 20-50 13-39-1-31-9-18-17-7-28 6-43 18-50 32-47 39-44 44-36 47-32 51-37 52-32 47-22 45-14 44-8 36 2 19 16 8 26 2 38-8 42-18 34-25 34-32 34 M1116 3620l-55 60-64 60-69 60-72 56-76 50-79 42-88 36-86 23-69 2-55-14-34-27-12-47 10-76 33-86 56-82 70-75 76-60 81-54 86-60 86-54 79-36 75-24 75-14 62 2 34 24 16 42 5 64-10 71-31 59-44 58 M689 3833l-10-21-1-33 11-46 22-45 33-44 40-38 45-31 47-31 48-31 44-22 41-14 39-10 40-5 28 4 16 16 8 28-1 39-12 37-24 32-30 33-34 32-35 31-37 32-40 30-42 29-47 23-51 18-43 6-33-5-22-14 M704 3768l1-27 8-37 18-37 27-36 31-31 36-27 38-27 42-30 39-21 37-14 35-9 34-3 22 7 10 17 4 26-3 34-12 30-19 27-23 27-28 26-29 28-31 27-34 25-36 23-39 19-42 14-34 4-27-5-17-12-8-18 M902 3495l54-28 50-19 48-11 46-5 32 8 17 21 8 33 1 46-11 42-25 38-31 40-40 41-44 42-48 43-52 38-55 34-59 26-61 19-49 4-37-11-23-19-10-27 3-41 14-53 26-52 39-52 45-43 51-37 54-37 57-40 M1124 3395l-18 36-28 34-34 34-38 34-39 33-40 31-43 29-45 25-50 20-48 13-37-1-27-11-15-18-3-28 6-40 17-46 27-43 35-42 39-34 45-32 49-35 50-32 45-20 42-12 43-8 36 1 21 12 11 23 5 36-6 41 M1070 3376l34 11 17 26 6 40-3 53-17 48-30 42-38 43-44 43-47 42-50 43-53 39-56 36-61 30-67 23-55 8-44-7-30-17-14-28 0-44 14-59 28-59 44-59 51-51 58-42 62-44 67-46 62-33 58-22 55-12 53-4 M805 3646l35-29 38-27 42-30 43-27 38-17 36-10 35-5 28 3 14 13 6 21 0 31-6 33-15 28-21 26-25 27-28 27-31 28-32 27-36 25-38 22-43 18-41 11-32 0-24-9-13-14-5-23 5-35 15-40 24-38 31-36 M761 4015l-81 41-88 32-74 12-60-8-40-22-21-35-3-57 16-80 37-79 58-80 68-69 79-59 86-61 92-63 86-46 78-27 74-14 67-1 40 20 16 39 1 56-10 71-25 61-39 53-46 53-53 53-57 54-61 55-67 52-73 49 M1025 3768l-43 41-45 40-47 41-50 38-54 34-58 28-63 20-50 6-39-9-26-17-13-26 0-40 11-55 26-54 39-55 47-48 55-39 59-41 62-43 58-31 55-20 53-14 52-6 35 7 19 24 7 37-3 53-18 47-31 41-38 41 M928 3637l-31 40-35 38-40 38-41 38-44 40-47 37-53 36-57 28-62 21-49 5-38-9-23-19-12-25 0-39 11-53 24-53 39-54 46-45 54-38 56-38 60-39 54-29 51-19 51-13 49-7 36 6 18 21 7 36-5 51-19 45 M549 4090l-5-36 8-54 21-61 37-59 47-56 54-45 60-43 66-49 68-45 63-31 62-22 63-15 54-2 32 17 16 34 5 53-10 60-28 51-40 49-48 49-54 48-55 47-59 45-60 39-63 32-68 25-63 14-48-4-35-17-20-24 M686 3749l10-41 20-41 31-41 35-34 40-29 42-31 46-32 43-24 41-15 38-9 37-2 22 8 10 20 3 28-4 37-12 33-21 28-25 29-29 28-32 29-33 29-36 26-38 24-41 20-45 16-38 6-31-3-21-11-11-18-1-30 M695 3639l54-40 58-41 62-43 59-32 55-21 53-13 51-6 35 9 18 23 8 38-2 51-15 47-29 41-36 42-44 43-46 42-50 42-52 38-56 34-59 27-63 21-52 5-40-8-26-18-13-27 0-41 14-56 27-55 41-55 48-47 M978 3448l31-8 30-4 21 5 9 14 3 23-3 30-11 27-18 23-21 24-23 22-25 24-27 23-29 23-31 20-34 17-37 12-29 3-23-5-15-10-6-16 1-24 8-32 15-31 24-31 26-27 31-22 33-23 35-25 33-19 32-13 M788 3462l91-62 89-53 79-32 73-19 71-8 57 6 30 26 12 43 2 63-13 68-31 57-43 55-52 55-59 56-62 57-67 56-73 52-79 47-90 40-88 26-71 3-55-15-34-28-13-48 8-75 30-86 53-85 70-79 79-63 86-57 M1032 3408l56-11 53-4 35 12 17 26 7 40-3 54-17 49-31 44-38 43-44 44-48 44-50 46-56 43-60 40-66 33-71 24-57 7-43-12-25-22-10-32 4-47 15-60 29-59 41-58 49-51 58-44 63-46 69-48 64-34 59-21 M880 3903l-70 43-76 34-81 27-66 8-54-9-36-21-19-33-1-53 16-73 35-73 53-72 62-63 72-53 77-56 84-59 79-44 74-29 72-17 68-7 45 14 22 33 9 51-5 69-21 62-39 55-48 55-58 55-61 55-65 53-68 48 M1013 3813l6 15 1 23-4 25-11 20-15 20-19 21-22 21-23 21-25 21-27 18-29 16-31 12-30 6-22-1-18-6-10-10-4-16 2-25 10-29 17-29 23-27 27-22 29-19 31-22 31-20 29-12 26-7 26-4 21 1 11 9 M1068 3697l25-6 24-2 17 4 9 11 4 18 0 24-7 23-13 20-17 20-21 21-23 21-25 22-26 19-28 17-29 13-32 10-26 3-20-3-14-9-7-13 0-21 6-28 14-28 22-28 24-24 28-19 29-20 31-21 28-15 27-9 M629 3805l34-55 43-52 50-42 56-40 61-46 63-40 58-28 55-16 53-9 42 4 21 21 6 34-2 47-12 50-24 41-32 38-36 39-41 39-43 41-48 39-51 36-54 31-62 25-58 15-45-1-34-13-19-20-7-33 7-49 19-56 M577 3922l-28-23-13-32 2-50 17-65 31-64 48-63 54-55 63-46 67-47 72-49 67-35 61-21 57-10 52-2 33 15 14 29 6 41-4 54-15 49-28 42-34 45-43 46-48 48-54 50-59 46-65 43-70 34-76 25-60 6-47-11 M1113 3613l-38 42-45 43-48 44-52 41-55 36-57 31-64 25-60 16-49-1-36-12-22-21-7-34 8-53 22-60 39-57 47-53 53-43 56-39 62-45 62-41 59-27 55-18 54-10 44 3 23 20 10 32 1 47-9 51-22 42-31 41 M1273 3406l19 37 7 59-8 67-28 56-42 56-52 57-61 58-65 59-70 57-74 51-79 42-86 33-80 17-59-6-42-22-21-33-2-48 14-68 31-75 47-70 59-65 64-53 70-48 75-55 77-49 71-35 69-23 71-16 60-2 35 19 M557 4039l-18-29-2-46 14-66 31-65 49-65 57-56 65-45 69-47 72-48 67-35 61-23 60-13 56-5 37 12 17 28 5 44-6 58-20 51-32 44-39 45-45 45-49 45-52 47-56 43-61 40-67 32-72 26-60 9-48-8-33-18 M1203 3647l-19 57-33 51-43 51-52 53-57 54-62 54-67 49-70 43-76 36-82 27-67 9-54-9-36-21-17-35 1-54 19-73 36-73 55-71 61-60 69-51 75-54 81-57 77-43 71-27 68-15 63-4 40 16 17 34 6 49-4 64 M637 3999l-19-11-10-18-1-28 8-39 20-38 30-39 34-32 37-26 40-28 42-30 41-23 39-17 39-12 37-5 26 5 12 18 4 28-4 37-13 34-21 29-26 28-29 29-32 29-33 30-37 26-38 24-40 18-43 13-35 3-28-5 M1253 3329l16 30 6 45-5 59-18 53-34 47-41 47-48 47-52 48-55 47-58 45-63 40-70 34-75 27-63 10-50-7-34-19-17-31-1-50 15-67 32-67 49-68 57-58 66-49 73-51 77-53 72-38 65-22 62-12 57-2 37 15 M1048 3488l53-14 50-7 40 4 22 19 10 29 2 45-8 48-22 41-32 39-38 39-44 39-44 39-48 37-49 34-53 31-61 26-59 18-48 2-36-11-21-20-6-33 8-51 22-57 35-55 44-52 49-42 56-39 61-45 61-39 56-25 M460 3811l22-83 44-81 62-78 68-66 76-56 82-60 89-65 86-52 83-35 81-22 76-8 49 16 22 38 7 58-7 77-26 68-43 60-53 59-63 59-66 58-69 56-72 51-75 46-81 38-89 32-76 14-63-6-43-21-22-36 1-61 M1244 3521l-19 53-33 46-41 46-48 47-51 47-55 46-58 43-61 39-68 33-74 27-64 13-53-4-37-17-21-29-2-49 15-69 33-69 52-68 59-59 67-50 73-51 78-55 73-39 67-24 63-12 58-1 35 16 14 33 4 47-6 60 M866 3821l-30 16-32 13-31 8-24-1-18-7-10-11-4-17 4-27 10-29 18-30 25-27 27-22 29-19 32-22 31-19 28-13 27-8 27-5 23 0 14 7 6 15 2 24-4 26-13 22-17 21-20 21-23 22-24 21-26 21-27 20 M889 3590l56-14 46-1 27 15 13 29 4 47-8 51-22 44-33 42-40 43-46 43-49 44-52 40-55 36-57 29-61 21-56 11-42-5-30-15-16-22-4-33 9-49 21-54 34-51 42-47 47-39 51-36 55-41 57-39 55-29 54-20 M990 3812l-18 25-22 25-26 24-27 25-29 25-30 24-34 21-35 17-39 12-31 4-23-6-15-11-8-16 1-25 7-33 16-34 24-33 29-28 32-24 36-24 37-26 35-19 33-12 32-8 31-4 21 5 11 14 5 22-3 32-10 28 M844 3858l-58 35-66 28-63 17-49-1-35-15-19-23-4-36 9-53 21-59 37-57 46-53 53-43 57-40 62-43 62-39 57-25 53-16 53-9 44 1 25 17 11 30 2 46-10 52-24 42-34 41-39 40-43 41-46 42-49 41-53 39 M527 3639l20-32 43-38 54-42 54-40 53-39 57-38 59-38 58-37 58-36 59-34 57-33 54-30 52-26 49-23 46-20 43-16 38-14 35-10 32-7 28-1 25 2 22 7 17 12 11 20 5 31-2 38-8 43-14 40-21 39-28 39-32 39-32 35-30 32-31 28-33 28-39 26-47 26-52 25-55 23-55 21-56 18-59 16-58 13-54 10-52 5-49 2-47-2-42-5-44-8-45-11-33-16-11-22 M519 3643l19-31 42-38 54-41 52-39 53-38 56-38 58-38 57-36 57-35 58-34 56-32 53-29 51-26 48-22 46-20 42-16 38-14 34-10 31-6 27-2 25 3 22 6 17 13 11 19 4 30-2 38-7 42-14 39-21 39-28 38-31 38-32 35-29 31-30 28-33 27-38 26-46 25-51 25-54 23-54 20-56 18-58 16-56 13-54 9-51 5-48 2-46-2-42-5-43-8-44-11-33-15-10-22 M561 3628l19-30 40-36 51-39 51-38 50-36 54-37 56-36 54-34 55-34 55-33 54-31 51-28 49-24 46-22 44-18 40-16 36-13 33-10 30-6 26-1 24 2 21 6 16 12 11 19 4 28-2 37-7 40-13 38-20 37-27 37-30 36-31 33-28 30-29 27-31 26-37 24-43 25-50 23-51 22-52 20-54 17-55 15-55 13-51 8-49 6-46 1-44-1-40-6-42-7-42-10-31-15-10-21 M1180 3349l2-11 3-12 6-13 7-12 8-11 9-11 9-10 9-8 9-6 11-6 11-5 12-4 12-3 11-2 11 0 11 0 10 2 10 3 10 4 10 5 9 6 9 7 7 8 5 9 4 10 2 13 2 13 1 15-1 15-2 14-2 13-4 12-5 11-7 11-9 11-9 10-10 9-10 8-10 6-10 4-11 3-11 1-11-1-12-2-12-3-11-4-11-5-9-6-9-8-9-9-9-11-8-12-7-12-6-12-3-13-2-11 M1160 3339l2-12 4-13 6-14 7-13 9-13 10-11 10-11 9-8 11-8 11-6 12-5 13-5 13-3 12-2 13-1 11 1 11 2 11 3 11 4 11 6 10 7 9 7 7 9 6 10 4 11 3 13 2 15 1 16-1 16-2 16-3 14-4 13-6 12-7 12-9 12-10 11-11 9-11 9-11 7-11 4-11 3-13 1-12 0-13-2-13-4-12-4-11-6-11-7-9-8-10-10-10-12-9-13-7-13-6-13-4-14-2-12 M1165 3349l2-12 4-13 5-13 8-12 9-13 9-11 9-10 10-9 10-7 11-6 12-5 12-4 13-3 12-2 12-1 11 1 10 1 11 3 11 5 10 5 10 6 9 8 7 8 6 10 4 11 3 13 1 14 1 16-1 15-1 15-3 14-4 13-6 12-7 11-9 12-10 10-10 10-11 8-11 7-10 4-11 3-12 1-12-1-13-2-12-3-12-4-11-6-10-6-10-8-9-10-9-12-9-12-8-13-5-13-4-13-2-12"/></g>
</g>
<g clip-path="url(#c_I_f)">
<g transform="scale(0.1)"><path fill="#2A88C8" stroke="none" d="M2147 3977l4-21 8-28 11-32 14-31 19-31 22-33 25-34 28-33 29-33 33-32 34-33 35-33 36-33 37-34 38-33 38-30 38-28 39-25 38-22 35-19 31-15 29-12 27-8 25-2 23 2 22 7 18 12 12 16 5 23 0 28-5 31-10 30-14 28-20 28-24 28-26 28-29 28-32 28-35 28-35 29-36 28-38 29-39 28-36 27-34 25-33 24-32 23-32 21-34 22-34 21-33 18-30 14-28 8-26 3-22 0-17-2-12-2-6-4-2-8z"/><path stroke-width="8.5" d="M2182 4138l-36 4-23-1-8-6 2-26 14-43 25-46 35-49 42-48 48-48 52-48 55-50 56-42 55-33 47-23 38-11 32 2 27 15 13 26-1 41-13 39-27 39-38 41-49 42-54 42-58 42-52 37-47 32-46 29-47 27-42 16 M2662 3731l-20 7-17 1-11-1-4-3 0-12 5-20 11-23 18-24 22-25 25-23 26-23 27-23 26-19 26-16 23-12 21-8 18-2 16 5 7 13-2 22-10 21-16 20-20 20-24 20-25 20-27 21-25 18-23 17-24 16-23 13 M2401 3791l23-28 28-28 31-30 33-30 34-26 34-21 29-15 25-8 20 1 16 9 6 18-3 27-11 25-19 24-23 24-29 24-30 25-33 25-31 23-29 21-29 20-30 17-25 9-20 0-11-3-1-7 3-16 9-26 13-26 20-28 M2518 3852l-32 32-39 32-41 32-43 33-41 30-37 26-37 25-38 22-32 12-27 1-15-4-4-7 4-21 11-33 18-35 27-37 31-36 36-37 39-38 44-40 44-35 46-29 40-22 34-12 28 0 23 12 8 25-5 36-16 35-26 33 M2728 3508l-2 32-12 36-21 31-27 30-32 30-36 30-40 31-40 30-37 28-35 24-37 23-35 18-31 7-24 2-14 0-6-9 3-26 13-36 24-39 32-40 38-40 42-39 44-39 45-37 46-31 42-24 36-15 28-5 24 8 12 20 M2506 3553l10 10 1 18-6 22-11 19-17 19-20 19-24 20-26 21-27 21-25 18-23 16-25 15-22 11-19 3-14-1-6-2-1-7 3-18 10-23 16-23 19-24 23-23 25-23 25-22 26-22 26-18 26-15 21-10 19-4 16 3 M2619 3745l-41 37-46 38-51 38-50 36-44 31-41 27-42 26-40 19-35 8-27 0-13-2-3-12 5-31 16-41 27-43 35-44 41-43 45-45 50-46 52-44 53-38 51-29 41-18 34-5 28 9 18 21 2 36-11 41-22 37-32 37 M2117 3979l8-38 23-63 38-65 50-67 58-65 65-63 69-63 72-65 73-55 74-46 63-32 54-18 45 0 38 18 18 37-3 55-20 55-39 53-52 55-66 56-71 56-76 57-71 52-65 47-66 44-69 42-61 24-51 5-30-3-8-13 M2276 3700l27-39 33-38 38-39 42-39 45-40 45-33 44-26 38-19 31-9 26 1 21 11 9 24-4 34-16 33-25 32-32 31-37 30-39 31-41 31-39 29-35 27-38 26-39 24-34 13-29 3-17-1-5-7 2-20 11-34 18-36 M2746 3516l-3 39-15 38-27 37-36 37-45 38-48 39-52 38-48 35-44 32-45 30-47 29-42 17-36 4-22-1-6-8 4-25 15-43 25-45 34-47 40-45 46-45 49-45 52-47 52-39 52-32 44-21 36-11 31 2 24 13 12 26 M2268 3948l-44 4-27-1-10-8 1-29 15-52 29-55 43-60 52-59 60-58 63-58 66-57 66-49 66-40 56-29 48-15 40 0 32 18 13 34-6 52-21 49-37 47-46 47-55 47-60 48-65 48-60 44-55 41-56 37-58 34-50 20 M2572 3492l68-45 58-30 48-16 40 2 32 18 15 33-1 50-17 48-34 48-47 50-61 50-66 50-68 48-61 42-52 35-52 31-53 30-46 17-40 4-23-4-5-11 8-30 18-49 29-50 37-52 42-50 49-52 55-55 61-59 66-53 M2530 3791l-31 19-27 11-22 1-14-1-4-5 1-16 7-26 14-29 21-31 26-31 32-33 35-32 37-33 37-28 37-22 31-15 26-8 23 0 19 8 9 19-2 28-13 28-22 28-28 27-32 26-34 26-35 25-32 23-29 21-30 20 M2438 3893l-63 41-62 36-53 18-42 0-23-7-6-13 6-33 17-54 30-57 42-60 52-60 61-61 65-61 70-62 70-52 69-42 59-29 49-15 40 3 33 19 12 36-5 53-21 50-36 49-45 49-57 50-63 52-70 54-67 51-62 45 M2650 3461l-8 31-17 28-24 28-30 28-35 28-38 29-38 27-33 23-31 21-32 19-29 15-26 5-20 0-10-2-1-10 5-24 14-31 21-32 27-32 30-31 32-31 35-32 36-32 39-28 37-23 32-15 26-6 23 5 13 16 2 26 M2804 3634l-37 49-48 50-59 50-64 51-69 51-63 46-58 42-58 37-59 34-50 18-41 1-24-5-6-11 4-31 16-51 28-54 40-58 49-58 59-58 63-59 67-60 68-51 67-41 58-29 49-16 42 0 34 16 16 34-4 52-20 51 M2637 3579l38-19 32-12 27 1 21 12 7 23-4 35-15 32-24 32-30 30-37 31-39 32-43 32-39 29-36 26-37 24-38 23-33 12-28 3-17-2-5-6 3-20 11-34 19-36 28-38 33-37 37-36 39-37 43-39 43-33 44-28 M2396 3943l-51 30-45 21-38 5-26-5-10-8 2-17 9-37 19-46 30-46 37-48 44-48 50-48 54-51 57-49 59-42 57-33 48-23 42-11 38 5 26 20 7 39-9 48-26 44-39 46-50 46-57 46-62 47-62 44-53 38-51 33 M2698 3470l26 8 14 22 1 34-11 35-24 34-33 36-42 38-47 39-52 40-50 37-46 34-47 31-48 28-40 15-32 0-17-5-3-12 8-27 17-42 26-44 34-44 38-42 43-40 44-40 46-39 45-33 46-28 39-20 34-13 31-2 M2420 3870l-27 13-23 4-17-1-8-3-2-8 4-21 9-27 16-28 23-30 28-31 32-32 35-32 37-30 36-25 34-18 28-12 23-3 20 5 13 14 2 24-7 27-15 26-22 26-29 26-32 26-35 26-34 25-31 22-29 19-29 18 M2329 3898l-31 1-17-3-5-8 2-21 10-36 17-39 27-42 36-44 43-45 49-46 53-47 53-40 53-32 45-23 39-14 34-1 28 13 12 27-4 42-20 41-33 40-41 39-47 37-48 36-49 35-44 33-41 29-42 28-43 26-36 14 M2162 3815l52-55 58-54 62-56 63-51 62-41 58-31 48-21 43-9 38 5 28 20 9 39-9 49-28 47-42 48-53 47-60 48-63 47-62 44-54 39-53 36-55 35-52 27-45 11-34-1-16-4-3-16 9-41 21-52 33-54 45-56 M2224 3916l-38 23-34 14-27 3-20-4-8-4-2-11 4-26 11-33 20-35 29-39 35-39 41-39 44-40 46-38 45-30 44-25 36-17 32-7 29 4 19 16 5 30-9 37-20 34-31 35-37 34-43 35-46 35-47 34-40 29-38 24 M2506 3784l-34 25-32 22-34 22-32 16-28 6-21 1-10-2-2-11 5-25 14-32 22-34 28-34 32-34 35-33 38-34 38-31 38-26 36-20 30-13 25-4 20 6 13 16 0 26-8 29-16 27-23 26-28 27-33 27-36 29-37 28 M2565 3452l48-28 39-19 33-10 29 0 24 12 11 23-2 36-14 35-26 34-34 35-41 35-45 34-47 35-43 31-39 28-39 25-40 23-34 12-29 2-18-2-7-5 1-20 9-34 17-38 28-41 35-41 42-43 46-42 49-42 47-35 M2579 3599l49-26 42-16 36-1 30 14 13 29-4 44-18 43-33 41-41 42-49 41-53 42-56 43-53 39-48 36-50 33-51 30-43 16-35 0-18-6-2-12 7-28 16-44 26-46 34-47 39-46 46-46 50-48 54-49 55-42 57-36 M2469 3625l-27 18-28 17-25 12-20 2-15-2-6-4 0-8 3-19 8-24 15-26 20-27 26-28 29-28 32-29 32-27 33-22 30-17 26-11 21-3 18 4 11 13 1 22-7 26-15 23-20 23-24 23-28 23-31 24-31 23-28 22 M2380 3908l-59 35-50 19-42 3-24-5-6-11 6-32 17-51 28-53 41-57 48-56 56-56 61-57 65-59 66-50 67-42 58-30 49-17 41 0 35 16 14 35-5 52-23 51-39 49-49 48-57 48-61 48-65 48-60 45-55 40-57 39 M2722 3480l22 15 7 26-5 38-16 36-27 34-33 34-40 34-43 35-47 36-43 32-41 29-41 28-42 25-37 14-32 4-21-1-8-5 1-21 10-38 21-41 32-44 38-43 44-44 47-43 50-43 49-37 49-30 43-21 34-11 29 2 M2205 3877l28-55 41-59 52-60 61-59 65-59 67-59 68-51 68-42 60-31 52-20 45-3 37 16 15 36-7 55-25 54-40 50-49 50-59 50-62 51-69 52-64 49-60 44-61 40-60 34-50 16-40 0-23-6-7-11 3-31 14-51 M2662 3453l49-23 42-11 38 5 26 22 5 41-12 49-28 46-42 45-50 45-56 45-60 45-59 44-53 38-51 36-54 34-51 27-44 10-33 0-16-4-2-17 10-40 21-51 35-53 44-54 50-52 56-51 58-53 59-49 60-41 58-33 M2367 3814l4-21 11-26 16-27 22-28 26-27 29-28 31-29 33-27 33-22 31-18 26-12 22-4 19 3 13 12 2 22-6 26-14 24-21 24-27 25-29 24-33 25-32 23-29 21-27 19-29 18-26 13-22 3-16-1-7-3 0-9 M2531 3821l-25 15-22 11-20 5-16 0-8-1-3-6 2-17 8-23 15-25 20-26 24-26 28-26 29-27 30-24 30-19 27-15 22-8 18-2 15 5 9 12 0 19-6 23-12 20-17 19-22 21-24 20-27 21-28 20-24 18-23 16 M2330 3864l-45 17-37 2-22-4-6-10 4-27 13-46 25-48 36-52 45-52 52-52 56-53 61-54 60-46 61-37 53-26 43-15 37 1 30 16 12 32-6 47-19 46-34 43-43 44-51 43-55 44-60 45-55 40-50 37-52 34-53 31 M2549 3824l-34 28-36 29-39 29-35 26-33 24-34 21-33 20-28 9-23 1-13-4-3-7 4-18 9-29 17-30 23-32 27-32 32-32 34-33 38-33 37-29 38-24 33-17 28-10 24 0 20 9 9 19-2 30-12 29-21 27-27 29 M2282 3750l51-41 48-34 49-30 44-24 39-17 35-4 30 10 12 26-6 42-19 40-30 37-36 37-42 37-46 39-52 41-50 40-48 36-49 34-50 29-43 16-35 1-21-3-8-7 2-25 12-43 26-48 38-50 46-50 52-46 51-43 M2419 3811l-40 27-38 20-32 7-24-1-9-4 1-14 8-30 16-37 25-37 31-38 36-37 39-36 40-36 42-33 40-27 38-20 31-13 27-5 24 4 16 14 4 26-6 32-18 30-26 30-32 30-37 30-40 31-41 32-38 28-37 27 M2387 3856l-61 40-58 31-52 13-40 2-20-2-4-18 10-47 26-60 41-61 51-62 59-60 63-60 67-61 69-58 71-50 69-41 58-27 48-10 41 9 26 29 1 49-16 58-34 52-46 51-56 51-63 50-67 51-66 48-59 44-58 39 M2670 3477l-20 22-25 23-28 23-31 23-30 22-27 20-26 18-29 19-27 16-25 6-18 1-8-2 0-10 7-23 13-28 20-27 23-28 25-26 28-25 29-26 29-25 30-19 28-16 23-10 21-5 18 3 13 9 4 19-4 24-13 22 M2306 3659l59-63 67-63 71-65 73-61 74-51 71-40 60-28 53-13 46 7 32 25 7 50-15 61-35 56-52 57-63 56-70 54-73 54-71 50-62 44-58 39-62 38-57 29-50 12-39 0-19-3-5-17 8-45 22-58 38-61 50-64 M2359 3788l28-26 30-28 31-26 32-21 29-17 25-12 22-4 18 4 12 11 2 21-6 26-14 23-21 23-25 23-29 22-30 24-30 22-27 19-26 18-27 17-26 13-21 5-16-1-7-3-1-8 5-20 10-25 16-26 21-27 25-27 M2675 3649l-17 22-21 22-25 23-29 22-31 24-28 20-26 19-26 17-28 16-24 10-21 3-14 0-6-3 0-13 8-25 14-28 22-28 25-28 28-28 30-27 31-29 32-24 33-20 28-14 22-8 19 2 14 10 4 17-4 25-10 23 M2092 3946l22-47 36-55 44-60 46-59 46-60 51-62 52-61 54-56 54-52 57-48 57-45 53-39 48-34 46-29 45-25 45-23 47-22 49-19 47-15 41-8 37-2 33 4 28 10 22 15 16 21 10 27 4 31-2 32-10 35-16 38-22 39-26 35-31 30-36 27-39 26-42 28-43 30-45 31-48 32-48 36-48 39-50 42-51 43-53 41-59 40-62 39-62 36-57 33-53 31-51 31-45 22-35 8-28-11-21-25-10-34 3-41 M2062 3975l23-50 38-59 47-63 48-62 49-64 53-65 56-65 56-60 58-54 61-52 59-47 56-42 52-35 48-31 47-27 48-24 51-22 51-21 49-16 44-9 39-1 35 4 30 11 23 15 16 23 11 28 5 32-3 34-10 38-17 40-23 41-28 37-32 32-39 28-41 28-44 29-45 32-49 33-50 34-51 38-51 41-52 45-54 46-57 43-62 42-66 41-65 39-60 34-57 34-53 32-48 24-37 7-30-11-22-26-11-37 4-42 M2728 3363l2-14 6-13 8-11 11-10 13-9 13-8 14-8 13-7 13-6 15-6 15-5 16-5 16-3 16-3 15-1 14-1 13 1 14 1 13 1 13 3 11 4 11 5 8 7 7 8 5 11 4 14 2 15 0 16 0 17-2 17-4 16-5 14-7 14-8 15-11 14-11 13-13 13-13 12-14 11-13 9-14 8-15 9-16 8-16 6-16 5-15 2-15-2-13-6-13-13-14-18-13-23-13-25-11-26-8-25-6-22-2-19 M2757 3381l2-14 6-13 8-10 11-10 12-8 13-8 13-7 12-7 13-6 14-6 15-5 15-4 16-3 15-3 14-1 14-1 12 0 13 1 13 2 12 3 11 3 10 5 9 7 6 8 5 10 3 13 2 15 1 15-1 17-2 16-3 15-5 14-6 14-9 13-10 14-11 13-12 12-13 12-13 10-12 8-14 9-14 8-15 8-16 6-15 4-15 2-14-2-13-6-12-12-13-17-13-22-12-24-11-25-8-24-6-21-2-18 M2733 3372l2-14 5-12 9-11 10-9 12-9 13-7 12-7 13-7 12-6 14-6 15-5 15-4 15-3 15-2 14-2 14 0 12 0 13 1 12 1 12 3 11 4 10 5 9 6 6 8 5 10 3 13 2 14 1 16-1 16-2 16-3 15-5 14-6 13-9 13-10 14-11 13-12 12-12 11-13 10-12 9-14 8-14 8-15 7-15 7-15 4-15 2-14-2-12-6-13-12-12-17-13-21-12-24-10-25-9-23-5-22-2-17 M2746 3384l2-15 6-13 9-11 11-10 12-9 13-8 14-7 13-7 13-6 14-6 16-5 15-4 16-4 16-2 15-2 14 0 13 0 13 1 13 1 13 3 11 4 11 5 8 7 7 8 5 11 3 13 2 15 1 16-1 17-2 17-3 16-5 14-7 14-8 14-11 14-11 13-13 13-13 12-13 10-13 9-14 9-15 8-16 8-16 7-15 5-16 1-14-2-13-6-13-12-14-18-13-22-12-25-11-26-9-25-6-22-2-18"/></g>
</g>
<g clip-path="url(#c_II_a)">
<g transform="scale(0.1)"><path fill="#1C7DC2" stroke="none" d="M4015 1006l27-16 26-18 26-18 25-18 25-19 24-18 25-20 24-19 24-20 24-20 24-20 23-20 23-21 23-21 22-21 23-22 22-21 21-22 22-23 21-22 21-23 21-23 20-24 21-23 20-24 19-24 20-25 19-25 18-26-20-21-28 16-26 18-25 18-25 18-25 19-25 19-25 19-24 19-24 20-24 20-23 20-24 20-23 21-22 21-23 21-22 22-22 21-22 22-21 23-22 22-21 23-20 23-21 24-20 23-20 24-20 24-19 25-20 25-17 26z"/><path stroke-width="8.5" d="M4453 545l-3 27 25-16 33-22 24-17 24-30 33-19 17-24 33-26 22-20 35-26 18-24 29-29 23-21 19-35 24-24 2-33-38 21-33 25-20 18-24 28-31 21-25 17-28 31-34 23-19 27-24 22-20 22-22 29-22 25-20 33 M4221 730l-26 29-31 12-21 22-11 27-35 11-13 31-23 14-23 28-23 22-19 30-22 25 19 2 37-17 15-13 34-16 24-31 19-14 40-30 12-17 23-27 24-22 27-24 20-25 16-30 11-11 19-24-21 2-25 18-29 12-26 19 M4670 346l-33 38-44 40-54 28-38 38-41 37-42 32-39 42-36 40-33 45-36 38-35 39-35 43 2 46 44-32 44-27 36-29 44-32 44-41 43-28 46-49 40-41 46-40 31-31 28-41 44-39 31-40 34-46-1-42-48 28-42 23 M4338 739l30-36 30-34 42-26 29-40 30-50 33-32-39-6-36 22-48 31-34 30-34 39-43 28-32 34-37 30-36 44-34 25-35 44-34 30-27 35-36 44-36 45 44-5 42-26 31-31 48-25 38-34 39-33 40-31 31-32 29-39 M4476 595l34-29 34-37 32-16 25-48 34-37 23-43 7-32-36 24-44 42-42 13-33 33-33 30-42 31-21 35-56 27-26 37-31 40-28 32-35 32-29 43-29 30 6 39 36-31 37-27 29-23 51-34 38-28 34-42 32-20 41-28 M4279 670l-29 30-29 27-27 30-24 23-29 38-22 25-21 22-25 33 34 3 26-27 34-13 21-27 35-23 29-24 36-24 24-26 23-26 29-33 27-26 29-28 19-24 30-30 21-37-33-4-26 24-41 21-30 24-29 19-24 29-36 29 M4727 256l-51 47-54 32-40 44-42 33-54 44-44 39-37 51-45 36-39 37-40 47-27 52-46 42-47 53 60 1 45-27 39-34 59-40 42-36 40-42 55-46 43-37 30-40 48-41 42-43 45-50 43-52 47-47 30-57-43 5-59 36 M4715 356l28-39-2-38-52 33-42 27-45 36-31 34-40 22-45 37-37 40-33 30-35 33-42 37-29 43-33 42-40 33-24 36 0 48 50-28 37-34 45-31 36-25 37-40 40-28 40-37 37-42 31-29 36-44 34-37 40-41 36-30 M4415 632l40-28 22-26 20-22 23-22 10-14 41-27 16-21 16-23 28-33 14-19-33 4-14 9-27 24-33 25-22 15-18 24-25 9-32 31-19 17-22 20-21 30-19 15-17 29-26 20-16 30 24 2 23-16 26-17 21-19 30-11 M4624 443l21-52 21-35-46 24-40 27-29 22-52 40-40 35-40 34-32 29-41 38-40 34-31 42-41 44-32 29-26 51-35 28 9 35 47-24 46-38 41-33 40-27 32-33 47-30 25-26 34-45 34-32 26-27 31-38 30-35 41-39 M4432 691l52-51 46-40 37-48 54-42 28-52 48-50 39-56 44-50-55-4-55 43-48 34-57 41-43 44-51 40-48 44-51 47-38 34-32 45-46 41-45 47-28 41-37 46-45 56 48 7 46-40 43-35 49-37 52-33 38-26 51-55 M4341 714l24-28 40-17 24-38 28-40 26-29 20-29 29-27 1-32-43 25-31 27-35 8-30 44-28 16-30 29-34 25-35 33-35 27-28 41-29 32-30 42-29 28-20 31-3 37 45-29 32-28 30-24 39-40 34-28 29-22 31-24 M4582 503l41-49 35-43-50-12-49 38-49 36-47 30-52 40-47 39-52 46-37 46-51 48-52 33-45 57-39 60-56 54-32 48-47 63 51-6 57-43 57-36 54-40 47-40 52-46 47-46 51-47 46-54 43-37 49-53 30-44 47-47 M4070 885l-31 52 3 45 55-46 47-29 47-41 51-31 48-39 38-38 47-43 46-39 33-38 42-45 33-46 39-47 34-33 45-55 7-50-50 24-48 36-46 37-56 30-46 50-40 39-55 29-38 51-42 45-41 38-45 51-37 47-31 46 M4380 608l-41 19-36 43-37 25-16 34-30 32-23 31-43 40-16 36 32 2 28-17 47-26 27-38 32-25 41-26 26-31 38-31 31-32 33-30 28-35 30-31 18-30 34-32 26-40-32-3-39 18-26 27-43 35-31 27-31 31-35 35 M4495 603l41-50 32-45 38-53 38-46-43-9-39 35-49 28-56 37-43 38-50 45-45 35-48 44-41 42-42 50-39 37-41 49-35 48-41 39-31 58 40 6 44-36 54-31 48-54 46-24 53-38 50-38 39-43 32-42 49-48 39-40 M4146 917l30-27 38-32 28-30 24-23 27-29 34-36 24-27 19-31 30-26 25-33-29-3-30 17-32 26-31 29-39 14-41 31-17 31-33 25-32 29-24 23-27 31-31 35-28 30-30 36-25 45 33-8 34-25 26-21 44-31 31-25 M4621 448l40-44 28-47-36-1-60 37-29 39-56 28-40 39-44 28-39 44-50 35-33 40-38 43-39 38-46 46-27 50-44 38-31 55 38 4 43-33 48-38 49-38 38-39 54-35 40-36 45-37 34-43 41-44 34-38 40-33 41-54 M4634 442l30-54-54-3-35 32-62 40-42 41-46 35-49 34-44 49-45 46-49 38-47 37-40 55-47 50-37 48-43 40-29 59 47-1 52-37 50-45 54-35 43-33 49-45 50-32 44-40 38-61 48-26 44-53 35-42 32-50 44-39 M4311 757l36-35 24-23 36-24 24-17 28-26 24-37 24-18 18-33 18-27 28-28 18-26-21-2-31 25-28 17-30 18-23 21-31 18-28 27-23 32-37 26-23 27-25 20-19 36-33 19-22 33-24 41 35 0 31-15 25-35 37-16 M4460 605l23-26 21-24 22-33 24-23-36 1-33 27-26 16-28 16-33 27-21 27-26 14-24 31-22 22-31 27-19 21-25 25-19 27-13 28-35 22 25 12 32-20 27-19 29-17 25-28 19-28 31-23 30-15 23-31 26-24 26-26 M4576 462l-39-6-41 26-36 32-44 34-44 32-47 50-39 31-43 38-45 32-31 46-40 36-35 40-38 36-30 41-35 49 40 9 46-31 40-34 49-27 38-34 46-36 48-40 36-35 37-46 41-34 33-40 33-42 35-44 33-41 33-37 M4395 653l25-21 31-24 22-13 11-27 36-18 10-30 23-26 24-13 24-34 20-23 3-32-25 17-34 26-18 16-32 27-24 20-23 18-26 25-27 26-31 13-9 30-31 24-14 21-23 27-23 27 5 21 22-10 24-28 33-13 23-21 M4519 566l24-36 23-21 20-23 16-26-30-8-19 24-29 18-35 16-11 22-32 18-24 26-23 23-25 20-20 27-23 30-20 18-25 29-22 15-20 36 25 5 31-30 26-6 23-32 31-10 27-28 22-19 28-15 18-27 22-26 20-30 M4460 606l34-41 30-37-4-27-49 22-29 24-37 34-41 32-39 28-31 23-34 34-29 28-36 36-24 31-33 31-33 41-29 33-38 33 15 42 29-21 38-33 34-19 49-37 29-22 43-43 26-20 28-33 40-32 30-36 32-34 34-40 M4661 390l-2-37-29 28-39 14-34 31-27 24-32 29-39 16-33 34-26 36-24 29-40 40-23 22-32 29-26 41-24 39-2 34 33-31 37-29 36-24 37-26 24-28 45-35 23-22 28-31 35-33 30-24 21-32 36-31 23-28 23-32 M4329 692l-27 28-21 33 20 5 32-19 33-28 26-18 34-26 38-21 17-27 32-27 13-26 31-17 17-28 32-30 24-31 29-30 22-30-34-4-31 22-22 18-41 26-14 27-29 23-36 20-35 22-14 22-36 28-16 37-15 29-40 13 M4501 459l-31 29-50 42-26 36-39 36-36 38-35 43-34 44-28 33 1 35 45-10 40-39 39-29 39-33 41-37 42-33 31-27 46-52 41-31 33-35 32-54 39-28 40-46 29-39-2-45-44 27-39 32-50 36-46 37-34 39-42 27 M4335 726l37-26 27-26 25-24 24-32 27-33 29-31 21-29 19-28-27 2-37 30-43 12-28 26-15 24-29 17-23 30-37 21-26 30-31 31-24 24-21 29-35 35-20 30-26 33 29-3 38-21 29-17 33-17 25-40 36-17 26-37 M4117 861l1 31 53-19 36-34 35-26 32-27 40-34 32-26 44-34 27-36 41-32 27-32 25-28 27-40 36-42 30-28-3-40-38 33-37 28-34 23-33 22-43 34-31 34-33 26-39 31-36 33-28 35-38 38-32 35-37 40-22 36 M4351 738l38-34 49-47 50-40 31-41 38-42 42-47 37-41 43-46 42-51 0-52-52 36-56 32-29 29-56 39-52 54-41 30-55 38-33 45-44 43-38 43-42 35-35 41-41 56-45 50-1 51 50-35 54-33 50-35 40-36 54-45 M4677 348l-48 24-47 44-53 36-47 36-45 33-42 44-52 43-43 48-48 50-44 40-56 50-31 46-40 54-26 55 52-9 49-40 52-30 43-38 49-40 54-25 46-50 45-49 53-45 35-44 40-44 37-48 33-33 33-55 47-46-44-18 M3947 1045l-38 33 45 15 28-35 45-35 29-19 35-36 30-30 41-29 23-28 43-27 22-32 35-33 22-33 37-33 25-36 32-49-27 0-42 28-34 32-36 27-47 20-27 32-33 35-39 26-30 31-27 38-25 25-38 45-25 30-43 31 M4470 627l40-37 30-43 42-36 32-46 29-41 0-42-50 34-40 27-41 35-37 40-48 23-28 39-47 31-41 41-35 31-35 44-44 42-32 40-36 39-36 42 3 39 42-31 57-30 45-39 43-22 30-43 41-31 42-45 39-27 32-32 M4499 585l40-52 34-52-49-2-59 31-36 42-49 31-46 45-41 31-37 39-51 44-49 39-39 38-39 47-34 44-35 47-28 40-36 42 35 10 50-30 38-24 47-45 55-42 40-41 41-40 50-32 40-38 47-47 33-44 38-37 42-52 M4535 529l25-31-5-33-40 28-43 20-34 37-29 22-34 24-36 34-31 33-29 24-32 30-30 38-21 22-39 42-35 30-27 29 7 44 37-26 40-20 37-34 31-30 34-29 30-31 38-22 32-35 32-40 35-23 28-29 27-35 27-35 M4530 585l40-34 35-43 32-36 40-38 45-52 33-45 8-56-49 42-47 27-47 30-43 44-49 40-41 28-43 43-43 39-46 48-40 38-43 47-39 36-39 53-25 49 2 41 57-42 46-39 52-32 36-27 50-45 36-30 51-29 34-49 M4431 520l-26 22-31 47-47 28-22 32-31 25-34 38-34 32-41 39-28 44-32 32-30 42 41-4 51-22 33-43 45-30 43-28 27-34 29-20 34-36 40-26 20-37 32-26 30-40 31-31 32-38 30-44-35 3-47 27-19 25-49 25 M4452 624l28-31 27-35 26-33 37-46-39-1-35 23-33 26-41 32-31 27-39 31-32 37-40 24-28 35-24 29-35 37-36 26-28 39-29 35-24 40 26 13 42-31 36-25 37-30 33-33 32-34 36-22 35-34 30-33 35-35 36-37 M4374 659l38-24 46-29 26-30 39-36 35-18 20-28 35-38 43-39 18-31 33-30 30-36 28-34-3-32-35 18-29 25-40 28-37 33-33 33-41 36-29 16-40 44-19 22-35 38-33 27-31 40-30 27-25 35-5 47 44-30 38-25 M4308 660l-28 29-39 33-28 39-36 39-38 37-35 40 6 45 32-24 42-29 50-31 33-39 50-33 34-25 23-33 43-33 38-35 29-35 35-39 29-35 41-46 35-42-6-37-53 29-32 30-51 45-30 30-42 26-32 33-38 23-35 32 M4581 429l-53 38-47 43-53 36-44 41-48 33-36 33-47 46-48 41-36 46-47 43-35 51-36 43-33 36-46 45 55 4 45-21 42-40 52-31 42-40 55-40 42-35 43-46 39-38 42-42 43-42 38-51 47-46 43-50 36-44-49-15 M4221 846l51-38 55-33 39-46 35-34 48-47 43-44 52-47 29-43 39-50 28-43 40-49-49-5-47 37-53 34-39 38-54 37-40 43-51 39-39 38-39 38-49 47-38 44-51 47-35 56-42 42-33 50 49-1 58-36 50-43 46-37 M4524 581l26-34 28-24 25-25 24-33 30-23 15-36-5-22-28 30-36 14-31 23-29 19-22 28-26 21-31 29-34 17-15 31-36 23-23 29-15 28-23 31-36 38 7 30 35-21 28-33 22-13 34-23 27-22 40-28 24-26 29-28 M4490 556l6-28-38 12-26 21-20 23-43 29-28 12-27 30-31 24-29 32-24 24-28 28-22 31-29 31-21 27-23 28 6 26 35-19 30-24 24-24 25-32 36-15 34-20 24-28 23-18 26-29 24-31 21-29 30-24 21-27 24-28 M4588 403l15-23 26-25 30-25 28-25 26-26 27-25 26-25 20-23 12-22 7-21 7-20 14-16 24-13 32-10 33-8 29-9 26-11 24-12 22-10 17-2 12 7 9 15 4 18 1 15-4 12-8 11-11 10-13 10-17 9-21 8-22 9-19 10-16 12-14 14-13 15-16 18-18 22-19 25-21 26-21 26-24 26-26 27-25 25-24 21-22 17-21 14-19 8-17 0-16-11-15-19-9-25 0-24 M4626 416l3-9 5-11 8-11 10-12 10-11 12-12 11-11 10-10 10-9 11-9 11-9 12-9 11-7 11-7 11-6 9-4 10-4 9-2 9-1 9-1 7 1 7 1 6 2 4 4 3 4 1 6 0 8 0 8-2 8-3 9-3 9-5 8-5 8-7 9-8 9-9 9-10 9-10 8-10 9-10 8-10 9-11 9-12 10-11 10-12 8-11 7-10 5-9 3-9 0-10-3-9-4-8-6-7-6-6-8-3-8 0-8 M4617 400l3-9 5-11 8-11 10-12 11-12 11-12 11-11 11-10 10-9 11-10 12-9 11-8 12-8 11-7 11-6 10-4 9-4 9-2 10-1 8-1 8 1 7 1 6 2 4 4 3 4 1 7 0 7 0 8-2 9-3 9-3 9-5 8-6 9-7 8-8 9-9 9-10 9-10 9-10 9-10 8-10 9-12 10-11 9-12 10-12 9-11 7-10 5-10 3-9-1-9-2-9-4-9-6-7-7-5-8-4-8 0-8 M4603 412l3-9 6-11 8-12 10-12 11-12 12-13 11-11 11-10 11-10 11-9 12-10 12-9 12-8 11-7 11-6 10-4 10-4 10-2 9-2 9 0 8 0 7 2 6 2 4 4 3 4 2 7 0 7-1 9-1 9-3 9-4 9-5 9-5 8-8 9-8 10-10 9-10 9-10 9-10 9-11 9-10 9-12 10-12 10-12 10-12 9-12 7-10 5-10 3-9 0-10-2-10-5-8-6-8-7-5-8-4-8 0-9 M3907 1081l-1-3-1-5 1-5 1-7 1-7 3-7 3-8 3-7 4-6 4-6 5-5 6-5 7-6 7-4 8-5 8-5 8-4 7-4 8-3 6-3 6-2 7-3 6-2 7-2 6-1 6-1 5-1 4 1 3 1 3 1 1 3 1 4-1 5-1 5-1 6-3 6-2 6-4 7-4 5-4 6-5 5-6 6-7 6-7 6-8 6-8 6-8 5-7 5-7 4-7 4-6 3-7 2-6 3-7 2-6 1-6 1-5 0-4 0-3-1-3-3 M3884 1076l-1-4-1-5 1-6 1-7 1-8 3-7 3-8 3-8 4-7 5-6 5-5 7-6 7-5 8-5 8-5 8-5 9-5 8-4 8-3 7-3 6-3 7-3 7-2 7-2 6-1 6-1 6-1 4 0 4 1 2 2 2 3 0 4 0 5-1 6-2 6-2 7-3 6-4 7-4 6-4 6-5 6-7 6-7 7-8 6-8 6-9 6-8 6-8 5-8 5-7 3-6 3-7 3-7 3-7 2-7 2-6 1-5 0-5-1-3-1-3-2"/></g>
</g>
<g clip-path="url(#c_II_b)">
<g transform="scale(0.1)"><path fill="#1C7DC2" stroke="none" d="M5673 987l25-16 25-17 24-17 24-17 23-18 24-18 23-18 23-19 23-18 23-19 22-19 22-19 23-20 21-19 22-20 21-21 21-20 21-21 21-21 20-21 21-21 20-22 20-22 19-22 20-22 19-22 19-23 18-23 18-25-17-19-26 16-25 17-24 17-24 18-23 17-24 18-23 18-23 19-23 18-23 19-22 19-22 19-22 20-22 19-22 20-21 21-21 20-21 21-21 21-20 21-20 21-20 22-20 22-20 22-19 22-20 23-19 22-18 23-18 25z"/><path stroke-width="8.5" d="M6248 508l26-26 26-28 27-29 26-30 27-32 1-29-34 22-32 24-32 24-31 25-29 24-28 25-28 24-28 26-28 27-27 28-27 28-26 29-23 27-22 28 3 24 34-23 31-22 29-22 28-22 28-23 28-23 27-25 27-25 27-26 M6125 504l-20 22-18 22-18 21-16 22 23 0 24-17 22-16 22-17 22-17 22-18 23-19 22-20 22-22 21-21 20-21 18-21 19-21 17-22 18-23-21-2-23 16-22 16-23 18-23 18-23 19-22 20-23 20-21 21-22 21-20 21 M6088 581l-24 26-23 26-23 26-21 26 1 25 31-20 28-20 27-21 27-21 27-22 27-22 26-24 26-24 25-25 25-25 25-26 23-27 24-27 23-28 0-26-30 19-29 21-28 21-29 22-27 23-28 23-26 24-27 25-25 25-25 26 M6258 478l24-28 22-28 0-26-32 20-30 22-30 23-29 22-28 24-27 23-27 24-26 25-26 25-25 26-25 26-24 27-24 28-24 29-1 27 31-20 30-21 29-22 28-22 29-24 28-23 27-25 27-25 27-26 26-27 25-27 25-27 M6212 444l-28 21-28 22-27 21-25 21-26 22-25 22-24 23-24 23-23 24-23 24-22 25-21 25-22 26 0 25 27-18 27-19 26-19 27-21 26-21 26-23 25-22 25-24 25-24 24-24 23-25 24-26 22-26 22-27-1-24-30 19 M6129 484l-36 32-35 33-34 34-32 33-31 34-30 34-30 35-30 36-1 36 38-25 39-27 38-30 37-30 37-30 35-30 34-31 34-31 33-33 33-33 33-35 32-35 30-35 28-35-2-32-40 26-38 27-35 27-36 27-35 28-36 30 M6133 499l-41 32-42 34-42 36-40 36-39 38-37 37-36 37-35 37-35 40-37 41-36 44-3 41 45-28 44-32 44-34 43-34 41-34 41-35 39-35 39-37 39-37 39-39 36-39 36-40 33-39 32-40-1-38-44 28-42 29-41 31 M6073 663l43-42 42-43 40-44 39-44 37-45 35-46-44-2-48 33-46 34-46 34-46 37-46 38-45 39-44 41-43 42-41 41-40 43-40 43-39 45-40 46-38 49 43 4 49-35 50-36 48-38 46-38 45-38 44-38 43-39 42-41 M6018 599l-39 34-38 35-38 36-37 38-37 38-36 39-36 40-34 40-31 42 40 1 45-32 43-32 41-32 40-33 39-32 39-33 38-35 38-36 38-38 36-37 34-38 33-38 32-38 30-41-38-2-41 29-41 30-40 30-40 32-40 33 M5905 723l-34 38-35 39-34 41-3 40 42-26 40-28 40-30 40-31 41-33 41-34 40-36 40-37 39-38 37-39 36-39 35-39 33-39 32-40-1-37-46 30-44 32-42 32-41 33-40 33-39 34-38 34-36 34-35 35-34 35-34 36 M6362 372l-25-2-28 20-29 22-28 22-26 21-26 22-25 22-24 22-23 23-24 23-24 25-24 25-23 26-22 26-21 27 26 1 30-21 28-22 28-22 25-21 25-21 23-21 23-21 23-21 23-23 24-24 24-25 24-27 24-27 22-29 M5925 773l28-23 27-23 26-24 26-25 24-25 24-25 24-26 23-27 23-27 23-29-25-3-29 20-28 21-29 22-28 22-27 23-27 24-26 24-26 25-25 25-24 25-24 26-24 27-23 28-22 29 26 2 29-21 28-21 29-21 27-23 M6020 592l-31 31-31 32-30 33-30 34-31 35-29 38 31 4 36-25 36-26 36-27 35-28 36-29 36-31 35-32 35-34 33-33 32-34 29-33 28-33 27-32 25-35-34-1-36 26-36 26-35 27-35 28-34 29-34 29-33 30-31 31 M5960 741l23-20 22-20 23-22 22-22 22-22 20-23 20-22 18-23 18-24-22-2-24 16-23 17-24 18-24 18-24 21-24 21-24 22-23 22-22 22-21 23-21 23-22 24-21 25-20 26 24 1 27-19 26-20 26-20 24-20 24-20 M6283 386l-49 31-47 34-46 35-45 35-45 37-45 38-44 39-43 40-42 41-40 42-40 43-38 42-36 43-35 43 3 40 50-34 48-35 46-36 45-35 43-36 41-35 40-37 40-37 40-38 40-40 41-42 40-44 39-45 38-46 1-43 M6146 585l40-39 39-40 37-41 37-41 35-41 34-42-2-39-48 32-46 34-44 34-43 34-42 35-40 34-39 35-39 36-38 38-39 38-38 40-37 42-38 43-37 44-2 42 46-28 44-32 44-33 44-34 44-36 44-37 42-38 42-40 M6185 540l29-33 29-34 28-36-32-2-37 26-35 26-35 28-34 27-32 27-32 28-31 29-31 29-30 30-30 31-28 30-26 31-26 31-25 33 30 3 33-23 33-23 33-25 32-26 33-27 33-29 31-29 31-30 30-30 29-30 30-32 M5971 646l-37 32-37 33-36 34-34 34-33 34-32 34-29 34-30 35-28 36-1 34 39-25 37-26 37-27 37-28 37-30 36-32 37-32 35-33 35-34 33-35 32-35 32-35 30-36 30-36 0-35-40 25-38 27-37 28-37 29-38 30 M6120 541l-32 23-32 24-31 24-29 24-28 24-28 24-27 24-28 26-26 27-26 27-24 26-22 26-20 25-19 27 27 1 28-20 27-19 27-21 28-22 28-23 27-24 27-25 25-24 25-25 25-26 25-28 27-29 27-31 26-32-27-3 M6193 441l-37 29-36 30-35 30-35 31-33 32-33 32-31 32-30 33-29 32-27 33-26 33 2 30 38-26 36-26 35-27 34-26 33-27 32-28 32-28 32-30 32-31 33-32 32-33 32-36 32-36 31-37 1-35-39 25-38 27-38 29 M6084 576l-38 26-38 27-37 28-38 30-37 31-38 33-37 34-36 34-36 36-34 36-34 37-32 37-32 38-31 40 36 3 42-29 40-30 40-31 39-32 38-32 37-33 35-32 34-34 33-33 33-34 31-34 32-36 31-36 30-40-33-4 M5859 847l23-25 23-25 23-26 22-26 21-28-24-3-28 20-28 20-28 21-27 22-27 23-26 23-26 24-25 23-25 25-25 26-26 28-27 29-27 31-26 33 25 4 31-21 32-24 31-24 31-25 29-25 28-25 26-25 26-25 24-25 M6091 528l-47 42-45 43-44 43-43 44-41 45-40 45-39 45-38 47 1 43 52-34 50-36 48-36 47-37 47-38 46-39 45-41 44-41 44-43 44-44 43-46 42-46 42-48 41-50 1-47-52 34-51 36-50 38-50 39-49 40-48 42 M5746 927l32-23 33-24 33-26 32-26 31-27 31-28 30-28 29-29 28-29 27-29 27-30 26-31 26-31 0-29-35 22-32 24-33 24-31 25-31 25-31 26-30 27-30 28-29 28-28 30-28 29-27 30-27 31-26 32-1 31 34-22 M6006 632l-29 28-28 29-27 29-26 30-26 31-26 33 27 5 31-21 32-23 32-23 32-26 33-28 32-28 32-29 30-29 29-30 29-30 28-31 27-31 25-30 23-31-33 1-36 26-34 26-32 25-30 24-29 25-29 24-29 26-28 28 M6215 507l34-42 35-45-40-4-45 30-43 31-44 32-45 35-46 38-45 39-46 42-43 42-42 42-39 42-38 42-36 43-36 43-35 46 40 5 46-31 45-33 46-34 45-36 47-38 45-40 45-41 43-42 41-42 39-42 36-41 36-41 M6298 414l-43-4-48 33-47 35-47 35-47 37-46 39-46 40-45 41-44 42-44 44-43 45-43 46-42 47-40 48-39 50 46 3 53-36 51-38 49-39 49-39 47-40 45-41 45-40 43-42 41-42 41-43 40-43 39-45 38-45 37-48 M5870 728l-39 39-38 40-37 40-34 40-32 39-30 40 42 0 45-31 42-31 40-30 40-31 41-33 41-35 43-38 42-40 41-41 39-41 38-42 38-43 38-45 37-47-40-6-47 33-47 34-47 37-46 37-45 39-43 38-42 39-40 39 M5851 851l45-33 43-33 43-35 41-35 40-36 39-36 37-36 37-36 37-39 38-40 40-44 41-46 41-51-37-7-45 30-47 34-46 36-46 37-45 37-43 39-43 39-42 40-40 41-38 40-37 41-35 41-34 41-31 42 41 2 46-33 M6112 549l-25 24-23 24-22 24-20 23-20 23-18 22-17 24 24 0 27-19 25-19 25-19 24-20 23-19 22-20 22-20 22-21 22-21 21-22 22-24 23-25 23-26 23-29-21-5-25 17-25 18-27 20-26 21-27 22-26 23-26 24 M5989 613l-35 37-35 37-36 39-36 41-36 43-2 41 43-28 43-30 43-32 42-33 42-35 41-35 40-36 38-37 37-36 35-37 35-37 34-38 34-39 34-41 2-41-42 27-42 29-41 31-42 33-41 34-41 35-39 36-38 36-37 36 M6088 613l-25 17-24 18-23 18-23 19-22 18-22 20-22 19-22 21-21 21-21 22-20 22-19 21-17 22-17 22 23 1 23-17 23-17 22-16 23-18 22-18 23-20 22-20 21-21 21-21 20-21 19-21 19-22 20-23 18-24-21-2 M6282 406l-1-21-25 17-24 18-24 17-23 19-23 18-22 19-21 19-22 20-21 21-22 22-23 23-23 25-23 25-22 27 0 24 27-18 27-20 27-20 25-21 25-20 24-21 23-21 22-21 22-21 21-22 20-21 19-22 19-22 18-23 M6146 584l45-50 43-51 0-48-55 37-54 39-51 39-50 39-49 39-48 41-47 42-48 44-46 46-43 45-40 44-35 42-32 40-30 39 5 37 51-33 45-33 44-33 44-34 43-34 44-37 43-38 43-40 44-42 44-44 45-47 45-49 M5981 728l28-27 28-27 29-30 29-31 28-31 26-31 23-31-32 1-35 25-33 24-30 24-30 24-30 24-29 26-30 27-29 27-27 28-25 28-24 27-24 27-25 29-25 32 25 5 30-20 31-22 31-24 31-26 31-26 29-26 29-26 M5909 689l-40 39-40 40-38 42-38 41-37 43-36 45-2 42 47-30 45-32 45-33 45-35 44-36 45-37 44-39 43-41 42-41 41-43 40-42 38-43 36-43 35-43-3-40-50 34-47 34-46 35-44 35-43 35-43 37-42 37-41 39 M5679 932l-37 42-37 43-3 41 42-26 42-31 43-32 42-33 41-34 40-35 39-35 37-36 37-35 35-37 35-37 35-38 33-39 32-40-1-36-45 31-43 32-42 32-40 32-38 32-36 32-35 31-35 32-34 34-35 34-36 37-36 39 M5846 794l-27 22-26 22-25 22-24 22-25 23-24 24-24 25-24 26-23 25-22 26-19 26 27 1 28-21 28-20 26-21 25-20 26-21 25-21 25-23 25-24 25-24 23-25 24-26 22-25 22-27 21-27-25-2-29 20-28 21-27 22 M6381 353l3-48-52 33-51 37-51 39-50 40-48 40-46 40-46 40-45 42-46 44-45 45-42 46-39 45-34 42-30 39 9 34 54-37 48-36 44-33 42-32 42-33 43-36 43-38 44-40 43-41 42-43 41-44 42-46 43-48 42-51 M6014 709l36-35 35-36 35-37 33-37 33-38 30-38-1-35-44 29-41 30-40 31-39 31-37 31-37 31-35 32-35 33-33 33-33 34-32 34-32 35-31 36-30 37-2 36 39-25 38-26 37-28 38-29 37-31 38-31 37-33 36-34 M6285 390l11-23 19-22 21-23 23-23 21-23 18-23 19-25 18-24 20-22 20-20 22-17 23-16 24-13 24-12 21-8 20-7 19-4 18-2 16 0 12 3 10 6 6 9 4 12 2 11-3 10-6 8-11 9-14 8-13 7-13 6-11 3-11 0-11 0-10 2-8 4-4 8-1 9 0 11-3 13-7 16-14 19-19 23-22 24-21 24-19 24-16 24-15 25-14 25-15 22-16 18-19 15-22 13-21 10-19 4-14-4-11-13-8-21-5-27 0-28 5-25 M6294 397l2-9 5-10 6-10 8-9 9-10 9-9 9-10 9-9 8-9 10-10 10-10 10-9 10-9 10-8 9-6 9-5 7-3 8-1 7 0 7 1 6 2 5 3 4 3 3 4 2 5 1 6 0 6-1 8-2 7-2 9-4 8-4 8-4 9-6 9-7 9-7 10-8 10-8 10-8 10-8 9-9 11-10 12-10 12-11 13-10 11-10 9-9 6-7 2-8-2-7-6-7-9-6-11-5-13-3-12-2-12 0-11 M6305 385l2-9 5-10 6-9 8-9 8-10 9-9 9-9 8-8 8-9 10-10 9-9 10-9 10-9 9-8 9-6 8-4 8-3 7-1 7 0 6 1 6 2 5 3 4 3 3 4 2 4 1 6 0 6-1 7-2 8-2 8-3 8-4 8-5 8-5 9-7 9-7 9-7 10-8 9-8 10-8 9-9 10-9 12-10 12-10 12-10 10-9 9-9 6-7 2-7-2-7-6-7-9-6-10-4-12-4-12-2-12 0-10 M6313 398l2-9 4-9 6-9 8-9 8-9 9-9 8-9 8-9 9-8 9-10 9-9 10-9 10-9 9-7 9-6 7-5 8-2 7-1 7 0 6 1 6 2 5 2 3 4 3 3 2 5 1 5 0 7-1 7-2 7-2 8-3 7-4 8-4 9-6 8-6 9-7 9-7 10-8 9-8 9-8 9-8 10-9 12-10 12-10 11-9 11-10 8-8 6-7 2-7-2-7-6-7-8-5-11-5-11-4-12-1-12 0-10 M5527 1087l0-4 1-5 1-6 3-6 3-6 4-7 4-7 4-6 4-6 5-6 5-5 5-5 6-4 6-5 6-5 6-4 7-3 6-3 6-3 5-2 6-1 6-1 7 0 6 1 6 1 5 1 5 2 4 2 3 2 1 3 0 3-2 4-2 5-4 5-5 5-5 6-5 5-5 6-6 5-5 5-5 5-6 5-6 5-6 5-6 6-6 5-7 4-6 4-5 3-5 3-5 1-6 2-5 0-5 0-4 0-5-1-3-1-3-2-2-2-1-3 M5534 1082l0-4 1-4 2-5 2-6 3-6 3-7 4-6 4-6 4-5 4-5 4-5 5-4 5-5 6-4 6-4 6-4 6-3 5-3 6-2 5-2 5-1 6-1 6 0 5 1 6 0 5 2 5 1 3 2 3 2 1 3 0 3-2 4-2 4-4 4-4 5-5 5-4 5-5 5-5 5-5 5-5 4-5 5-6 5-5 5-6 5-6 4-6 4-5 4-5 3-5 2-5 2-4 1-5 0-5 1-4-1-4 0-3-2-3-1-2-3-1-2"/></g>
</g>
<g clip-path="url(#c_II_c)">
<g transform="scale(0.1)"><path fill="#1C7DC2" stroke="none" d="M4013 2498l28-16 27-18 26-18 26-18 26-19 25-19 26-19 25-19 25-19 25-20 25-20 24-20 24-21 24-20 24-21 24-21 23-22 23-22 23-21 23-23 22-22 23-23 22-22 22-23 21-24 22-23 21-24 21-24 20-25-17-20-28 17-26 17-27 18-26 19-26 18-25 19-26 19-25 20-25 19-25 20-24 20-25 20-24 20-24 21-24 21-23 21-24 22-23 21-23 22-23 22-22 23-22 22-23 23-21 23-22 23-22 24-21 24-21 24-20 25z"/><path stroke-width="8.5" d="M4294 2296l49-38 48-39 48-40 47-41 46-41 44-43 44-43 43-44 42-44 41-46 40-48-43-3-51 34-50 35-49 36-49 38-49 39-47 40-47 41-46 41-45 43-44 43-43 44-42 45-42 46-39 48 43 3 51-34 50-36 50-36 M4304 2235l27 5 34-22 35-25 35-26 35-28 34-27 32-28 31-27 31-28 31-29 31-30 31-31 29-31 28-31 25-31-33 1-37 26-35 25-32 24-32 24-31 25-31 26-32 27-30 27-30 29-29 28-28 29-29 31-30 32-30 35 M4456 2043l-44 36-45 38-45 40-44 42-45 43-43 44-42 44-42 46-40 49 41 4 51-33 50-36 50-37 50-39 49-40 47-40 44-40 42-39 41-39 39-39 38-40 38-40 37-42 35-42-40-2-47 32-45 32-44 32-43 33-43 33 M4427 2178l38-34 38-34 37-35 37-36 36-38 37-38 35-38 32-40-37-1-44 30-42 30-42 30-40 31-39 32-39 32-39 34-38 34-37 35-35 35-33 36-34 35-33 37-32 39 33 4 40-27 40-28 41-29 40-31 40-32 40-33 M4214 2287l-33 37-6 36 38-23 39-26 39-29 40-30 38-31 37-31 35-30 34-31 35-31 35-34 36-35 36-36 34-37 33-37 0-33-43 28-41 29-39 28-38 29-37 29-37 30-37 32-36 32-35 32-32 33-31 32-32 32-32 35 M4510 2035l-42 27-40 28-40 30-41 30-42 33-41 34-42 36-40 37-41 38-41 40-41 41-41 42-39 44-37 44 42 2 49-34 47-35 47-34 44-35 43-35 42-35 42-36 40-37 40-37 37-38 35-37 33-36 32-36 31-39-36-2 M4404 2078l-49 43-47 43-46 44-45 45-44 45-45 47-44 49-43 51 44 4 54-36 54-39 52-39 52-40 50-41 48-40 48-42 46-42 47-44 45-44 45-46 45-47 43-48 42-51-44-4-52 35-52 37-51 38-52 39-51 41-50 42 M4538 2051l32-37-29-4-38 25-37 28-37 28-36 28-33 27-32 28-32 27-32 28-32 30-32 31-31 31-29 31-26 31-24 30 33-1 36-25 34-25 33-24 32-25 32-25 32-27 31-27 30-27 29-28 30-29 31-31 32-33 33-35 M4229 2348l51-38 51-40 51-42 51-44 50-45 47-46 45-46 44-45 43-46 45-49 45-54-43-6-52 35-54 38-55 40-54 42-52 43-51 43-49 43-48 43-48 46-50 47-49 49-48 51-44 49-41 50 51 0 58-40 54-39 52-39 M4659 1944l36-44-38-3-47 32-45 32-45 33-44 35-44 34-42 36-42 36-41 37-40 38-40 40-40 40-39 41-39 43-36 44 39 2 48-32 46-33 45-34 45-34 44-35 42-36 42-36 41-38 40-38 40-38 38-40 39-41 37-41 M4567 2026l3-40-46 28-44 30-45 31-45 33-47 36-47 38-47 40-45 40-44 42-43 42-43 43-44 44-43 46-42 48-3 43 55-35 53-38 52-39 49-38 47-38 45-37 43-37 43-38 42-39 42-40 41-41 38-40 38-42 37-42 M4332 2147l-46 40-44 39-42 40-40 40-38 39-36 39-35 38-33 39-1 37 46-28 43-30 43-30 43-32 43-33 44-36 44-37 44-38 43-40 44-42 45-43 45-46 44-48 44-48 4-45-54 34-53 38-52 38-50 38-48 39-47 38 M4082 2406l-29 33-2 29 37-23 35-25 35-25 34-26 33-27 32-26 31-27 30-27 30-27 29-28 29-29 28-30 28-30 27-30 1-28-36 23-34 24-34 25-32 24-31 25-30 24-30 26-30 26-30 27-31 29-30 30-31 31-29 32 M4084 2448l48-34 47-34 46-34 45-36 45-36 44-37 44-39 43-40 43-41 41-42 40-42 38-41 37-42 0-39-51 33-48 33-46 34-45 34-45 35-44 36-43 37-43 37-42 39-41 40-41 41-41 42-40 43-38 44-3 40 50-31 M4124 2371l-23 27-2 25 30-19 30-20 28-21 28-21 28-22 28-22 28-24 27-24 27-25 26-25 24-25 24-25 23-26 23-26 1-24-29 18-29 20-28 20-28 21-28 22-28 22-28 24-26 24-27 24-25 25-25 25-25 26-24 26 M4218 2279l-24 26-24 26-23 27 24 3 28-19 28-20 28-21 28-21 28-22 27-23 26-23 26-24 26-24 24-24 23-24 23-25 23-25 22-27-23-2-28 18-27 19-28 20-27 21-28 22-27 23-27 24-26 23-24 24-25 24-23 24 M4518 2007l-25 19-25 19-24 19-25 20-24 21-24 21-23 22-23 23-22 23-22 23-21 24-21 25 22 2 26-18 26-18 26-19 26-20 25-21 25-21 24-21 23-21 23-22 22-22 23-22 22-24 21-23 20-25-22-1-27 18-26 19 M4088 2393l-31 33-30 33-30 33-4 33 37-22 34-23 35-24 36-26 37-28 37-30 38-32 36-33 35-33 34-33 32-33 31-33 32-34 31-36 2-33-40 25-39 28-39 29-38 29-37 29-36 30-34 29-33 30-32 30-32 31-32 31 M4255 2330l52-42 51-43 48-43 48-44 46-44 45-44 45-46 45-48 44-48 42-51-45-3-54 36-52 37-51 38-51 39-51 40-50 42-50 43-48 45-47 44-44 44-42 45-42 45-43 47-43 51 41 7 50-33 51-36 52-38 53-40 M4364 2118l-43 38-44 40-44 42-45 44-45 46-45 48-43 48-3 44 55-36 54-38 52-39 50-39 48-38 45-37 44-38 45-39 45-41 45-42 46-45 45-46 43-47 40-46 1-42-56 36-53 38-51 38-49 38-47 38-46 37-44 38 M4056 2476l51-35 50-36 50-37 49-39 50-41 49-41 47-43 46-43 45-43 45-45 45-46 44-48 43-48 2-44-57 36-54 38-52 39-51 38-48 39-48 38-46 40-47 41-47 43-47 44-45 46-43 45-42 46-40 46-2 43 53-33 M4180 2394l49-38 48-39 48-40 46-40 46-42 45-42 44-43 43-44 42-45 41-46 38-46-45-1-53 36-51 37-49 37-47 36-46 37-46 38-45 39-44 40-43 41-42 42-42 42-41 44-42 45-40 49 40 5 48-32 49-34 49-36 M4403 2196l35-33 34-34 35-36 33-36 33-37 2-33-42 26-41 29-39 29-39 29-37 30-36 30-36 30-35 31-34 32-34 33-34 33-33 35-33 35-32 36-1 33 41-26 40-28 39-29 38-29 36-29 36-30 35-29 35-31 34-31 M4367 2222l32-28 32-29 31-29 29-30 29-29 27-29 27-31 27-32-29-2-35 23-34 25-35 26-33 26-32 27-30 26-30 25-28 26-29 27-29 28-29 30-30 30-28 31-27 33 29 1 34-23 33-23 32-23 32-24 32-25 32-27 M4340 2183l-27 29-26 30-2 27 35-22 33-23 33-24 32-25 31-24 30-25 29-25 29-25 29-27 30-28 29-29 29-30 28-30 27-30 2-29-35 22-33 23-32 23-32 24-32 25-32 26-32 27-31 27-29 28-29 28-27 28-27 29 M3997 2527l47-32 47-33 45-34 44-34 44-35 42-36 42-36 42-37 41-39 41-40 39-40 39-41 37-42 36-43-40-3-47 32-45 33-45 33-45 34-44 35-43 36-42 37-41 38-41 38-39 39-40 40-38 41-39 42-36 44 39 3 M4200 2277l-35 34-34 36-33 36-33 37-3 35 42-26 40-28 40-29 39-30 39-31 38-30 36-32 37-32 35-33 35-34 34-34 34-35 34-37 33-37 2-34-41 26-41 28-39 29-40 29-38 30-38 31-37 32-36 32-35 33-35 34 M4567 2063l41-40 40-41 40-41 38-42 36-42 1-38-49 31-47 33-46 34-45 34-44 34-43 36-43 36-41 37-41 38-40 39-40 39-39 41-40 42-38 44-5 41 48-29 46-32 47-34 45-34 46-36 44-36 44-37 42-38 43-39 M4302 2192l-27 25-26 26-26 25-24 25-22 24-22 25-21 26 25 2 28-19 28-19 27-20 27-21 28-22 28-23 28-24 27-25 26-25 25-25 24-24 23-25 22-25 22-27-25-2-28 19-28 20-27 19-28 21-28 22-28 23-28 24 M4284 2302l49-39 47-40 45-39 44-39 42-39 43-41 43-43 45-45 46-48 46-51 7-47-52 31-52 37-53 38-52 40-50 41-48 40-45 40-44 40-41 39-41 40-42 41-43 43-43 46-44 49-7 46 50-30 50-35 50-37 50-38 M4523 1995l-43 31-44 34-43 35-41 35-41 36-39 35-39 37-39 38-38 39-37 39-35 39-30 38 42-2 47-33 43-32 42-30 39-31 39-30 38-32 39-33 38-35 37-35 36-35 34-36 35-37 36-40 37-43-31-7-40 26-42 29 M4017 2508l47-33 47-34 46-34 44-34 43-35 42-35 42-36 40-37 41-38 40-39 40-41 41-43 42-44 40-48-39-4-47 31-48 35-49 36-47 37-45 38-43 37-41 36-40 36-39 37-39 39-40 40-40 42-40 43-38 45 40 3 M4331 2233l30-20 28-21 28-20 28-22 28-22 27-22 27-24 26-23 25-25 25-24 25-25 24-26 24-27 23-28-24-2-30 20-29 21-28 21-29 22-27 22-27 23-27 23-26 24-26 24-25 25-25 25-24 26-24 26-22 28 25 1 M4011 2501l57-35 55-39 53-40 53-40 51-41 48-40 47-41 46-41 46-42 46-43 46-46 47-48 46-49 47-51 5-49-53 33-53 36-53 38-53 40-53 41-52 43-52 44-50 45-48 45-46 46-46 45-44 47-44 48-43 49-3 45 M4576 2054l47-48 43-46 40-45 38-45-1-42-55 35-51 35-50 36-51 37-51 40-51 43-49 42-46 43-44 42-43 42-44 43-46 47-50 52-51 55-9 52 54-34 56-38 56-42 54-41 52-42 51-41 50-42 51-44 50-47 50-47 M3949 2574l52-35 51-35 52-38 52-40 52-41 51-43 51-44 49-45 49-46 47-47 47-48 46-48 44-50 42-51-48-1-57 39-54 38-53 40-52 39-51 41-50 42-51 43-49 45-48 45-45 46-44 46-43 46-42 47-42 50 44 5 M4343 2230l31-22 30-23 29-23 30-24 30-25 29-26 28-26 26-26 25-26 25-26 24-27 26-28 3-28-30 19-31 21-31 22-31 24-30 24-29 24-28 24-28 24-28 26-28 27-29 28-28 29-27 29-25 29 0 25 35-22 32-23 M4503 2073l-28-4-35 22-35 24-36 26-36 28-37 29-36 30-35 31-34 32-34 31-32 33-32 33-32 33-30 34-29 35 33 1 39-27 38-27 36-27 36-27 35-28 35-29 34-30 33-30 32-31 30-30 30-31 30-32 30-33 30-36 M4523 2063l29-31 29-32 3-31-34 20-33 23-34 24-34 25-34 27-34 28-33 28-32 29-30 29-29 29-28 28-27 29-27 30-28 31-3 29 34-20 32-22 33-23 33-25 33-26 33-27 33-28 31-28 31-29 29-28 29-30 28-29 M4296 2278l29-26 28-26 26-26 25-24 23-25 24-26 24-27 26-30-23-4-29 18-29 21-30 22-30 23-30 24-29 24-29 25-29 26-29 27-30 28-29 30-28 30-26 29-24 30 29 0 34-23 32-23 32-23 31-24 30-24 31-26 M4681 1863l8-16 13-17 15-18 17-18 17-17 15-17 14-15 14-16 13-15 14-14 15-13 16-12 19-12 22-12 22-11 22-9 20-7 15-4 12 0 9 3 7 5 4 7 2 7 1 7-3 7-6 7-8 8-9 8-9 7-8 6-9 3-8 2-9 2-9 1-9 3-8 6-7 8-6 10-6 11-7 12-7 13-10 14-11 16-14 18-15 18-15 18-16 18-14 15-16 16-16 16-16 14-15 13-13 8-10 2-8-5-7-12-4-15-3-18 1-19 4-17 M4650 1924l3-8 6-10 6-9 8-10 8-10 9-10 9-10 8-9 9-10 10-11 10-12 11-11 10-10 10-10 9-7 8-6 7-3 6-2 6 0 5 1 5 2 4 3 3 4 2 5 1 5 1 7 0 8 0 9-2 9-2 10-3 10-5 9-5 9-7 10-8 10-9 10-9 10-10 9-9 9-9 9-10 9-10 10-11 9-11 9-10 8-10 7-8 4-7 1-5-1-5-4-5-7-3-8-2-9-1-9 0-10 2-9 M4669 1946l3-8 5-8 6-9 7-10 8-9 9-10 8-9 8-9 9-10 9-10 10-11 10-11 10-10 9-8 8-8 8-5 7-3 6-2 5 0 5 1 5 2 3 3 3 4 2 4 2 6 0 6 1 8-1 8-1 9-3 9-3 9-4 9-5 9-7 9-7 9-9 10-8 9-10 9-9 9-8 8-9 9-10 9-10 9-11 9-9 7-9 6-8 4-7 2-5-2-5-4-4-6-3-7-2-9-1-9 0-9 2-9 M4661 1921l3-8 5-8 6-9 6-8 8-9 8-9 8-9 8-9 8-9 9-10 9-10 9-10 10-10 8-8 9-7 7-5 6-3 6-1 5-1 5 1 4 2 3 3 3 4 2 4 2 5 0 6 0 7 0 8-1 8-3 9-3 9-3 8-5 8-7 9-7 9-8 9-8 9-9 9-8 8-9 8-8 8-10 9-9 8-10 9-9 7-9 6-8 3-6 2-5-2-4-3-4-6-3-7-2-9-1-8 0-9 2-8 M3886 2613l0-4 1-5 2-6 3-6 3-7 3-6 4-7 4-6 4-6 5-5 4-4 6-4 5-4 6-3 6-3 7-3 6-3 6-2 6-1 6-1 5-1 6-1 6 0 7 0 6 1 5 1 5 2 4 2 2 2 2 3-1 4-1 5-3 6-3 6-4 7-5 6-5 7-6 6-5 6-6 5-6 4-6 5-7 4-8 4-7 4-8 3-7 3-7 2-6 2-5 2-5 0-4 1-5-1-3 0-4-1-3-2-2-2-2-3-1-2 0-4 M3888 2594l0-4 1-4 2-6 2-5 3-7 3-6 4-6 3-5 4-5 4-5 4-4 5-3 5-4 6-3 6-3 5-3 6-2 6-2 5-1 5-1 5-1 6-1 6 0 5 1 6 0 5 1 4 1 4 2 2 3 1 2 0 4-1 5-3 5-3 6-4 6-4 6-5 6-5 6-5 5-5 4-5 5-6 4-7 3-7 4-6 4-7 3-7 2-6 2-6 2-5 1-4 1-4 0-4 0-3-1-4-1-2-1-2-2-2-2-1-3 0-3 M4198 2204l73-9 M3968 2397l-9 83 18 36"/></g>
</g>
<g clip-path="url(#c_II_d)">
<g transform="scale(0.1)"><path fill="#1C7DC2" stroke="none" d="M5673 2517l26-16 25-17 25-17 24-17 24-18 24-18 24-18 24-18 23-19 24-18 23-19 23-20 22-19 23-20 22-20 22-20 22-21 21-20 21-21 22-21 21-22 20-21 21-22 20-22 20-23 20-22 20-23 19-23 18-25-17-19-26 16-25 17-25 17-24 17-25 18-24 18-24 18-23 18-24 19-23 19-23 19-23 19-23 19-22 20-22 20-22 20-22 21-22 20-21 21-21 22-21 21-21 22-20 21-20 22-21 23-19 22-20 23-19 23-19 25z"/><path stroke-width="8.5" d="M5776 2354l-44 43-44 43-41 45-41 45-39 45-36 46 46 2 52-36 50-37 49-38 48-38 45-38 43-38 39-37 38-36 35-35 35-36 36-38 37-39 39-43 39-48-33-9-40 26-43 29-44 32-44 34-46 36-45 38-46 40-45 42 M6193 2004l-47 35-47 36-46 37-46 38-43 39-42 38-39 39-37 38-36 38-33 37-32 37-31 37 2 35 47-30 43-31 41-31 39-30 39-31 38-31 39-33 39-34 39-37 40-38 41-41 41-43 41-45 40-46 4-44-48 29-46 32 M6214 2038l28-29 28-29 27-29 26-30 24-31-30-2-33 23-32 23-32 24-31 24-30 25-30 26-30 26-29 27-28 27-28 28-28 29-27 30-28 32-26 32 29 3 33-23 34-24 33-25 32-25 31-26 30-25 29-26 29-27 29-28 M6136 2138l24-20 23-20 22-19 21-21 22-20 21-22 21-22 22-23 22-24 21-26-21-4-25 17-25 18-25 18-26 20-24 20-25 21-23 21-23 22-22 22-22 22-21 22-21 23-21 24-19 24 22 2 27-18 25-18 25-20 25-19 M5993 2152l-43 39-44 41-43 42-43 44-42 45-39 44-37 44 3 40 55-37 51-37 49-37 46-36 43-35 42-35 41-36 41-37 40-38 40-39 39-40 38-41 38-42 37-44 2-42-47 30-45 31-45 33-45 34-44 35-44 37-44 37 M6046 2125l-40 33-39 35-38 35-38 37-38 38-37 39-37 40-36 41-35 44 39 3 46-32 44-32 44-34 43-34 40-33 40-34 38-34 38-35 38-36 38-38 38-40 36-40 36-40 32-42-40-1-45 31-44 32-42 32-41 32-40 33 M5994 2182l-27 26-27 28-27 29-26 29-26 30-1 28 34-22 32-22 32-24 30-24 30-24 29-25 27-24 27-25 25-24 25-25 24-25 25-26 25-28 24-28 3-28-30 18-30 21-29 21-29 22-29 23-28 24-28 24-28 25-27 26 M5984 2283l44-38 43-39 41-40 38-39 36-39 35-38 34-39 34-41 2-40-45 28-44 30-43 32-44 33-43 35-42 35-41 36-41 37-40 38-42 40-42 42-42 44-41 45-39 46-1 42 52-32 49-35 47-35 46-35 45-36 44-37 M6070 2186l37-32 37-34 38-37 36-37 34-36 30-36 28-34-4-31-44 29-40 28-37 27-37 27-37 29-37 31-37 32-36 33-35 34-33 33-32 34-33 35-32 36-32 38-2 35 41-26 40-28 40-30 39-30 37-30 36-29 35-31 M6055 2104l-43 37-43 39-41 41-39 40-39 41-36 41-36 42-35 43 42 3 47-33 46-33 46-34 43-35 43-35 42-35 42-36 42-39 42-40 43-42 41-43 39-43 34-41 31-41-47 2-49 35-46 33-43 32-42 32-42 34-42 35 M6222 2052l24-26 24-26 22-27 1-26-31 20-30 21-28 21-28 22-28 22-27 22-26 23-26 23-25 24-25 25-25 26-25 26-24 27-23 27 0 26 30-20 30-21 29-21 28-22 27-21 27-23 27-23 26-24 26-24 25-25 25-26 M5633 2529l35 3 40-26 39-28 39-28 40-30 40-33 39-33 39-35 37-35 36-36 35-35 34-36 34-38 34-39 33-41-36-3-43 28-41 31-41 31-41 31-39 32-38 33-38 33-37 35-37 35-35 36-34 36-33 37-31 36-30 39 M5677 2536l41-29 39-30 38-30 36-31 36-30 34-31 33-31 32-32 31-32 30-32 30-32 29-34 30-37-31-4-36 24-36 25-36 27-37 28-36 30-35 30-34 31-33 31-33 32-34 33-33 35-34 36-34 38-32 39 35 4 40-28 M5805 2351l-30 28-29 29-29 29-28 29-27 31-27 31-26 32 29 3 34-24 34-24 33-24 32-25 31-26 31-27 31-27 30-28 29-28 28-29 28-29 27-30 27-31 26-32-29-3-33 22-33 24-33 24-32 25-32 26-31 27-31 27 M6158 2085l-33-4-38 26-38 27-38 28-37 29-37 30-36 30-36 32-35 33-34 33-33 34-33 34-31 35-31 35-29 37 35 2 40-27 39-28 37-28 37-29 36-30 35-30 35-31 34-31 33-32 32-33 32-34 32-35 32-35 30-38 M5857 2341l29-21 29-21 30-23 28-23 27-23 27-23 26-24 25-24 25-24 24-26 24-25 22-26 22-26 0-24-30 19-29 20-27 20-27 21-27 21-27 22-26 23-25 23-25 24-24 24-24 24-24 26-25 27-25 29-3 28 30-18 M5979 2255l27-23 26-24 25-25 26-25 26-26 26-27 26-29 25-29 1-28-32 21-31 22-31 23-29 23-29 23-27 23-27 24-27 23-26 25-26 26-26 27-26 27-25 28-25 29-1 27 32-20 31-22 31-23 29-23 29-23 28-24 M6175 2108l41-42 40-42 38-43 36-43-1-40-51 33-48 34-46 34-44 34-43 35-43 35-42 37-42 38-41 38-39 40-39 40-38 41-38 43-38 44-3 43 47-29 46-32 46-34 46-36 45-36 44-37 43-37 42-38 41-40 41-40 M6386 1855l-43 31-41 31-40 31-38 30-38 32-36 32-36 32-35 34-33 33-32 34-31 33-29 34-29 35 1 32 40-26 38-27 37-27 36-27 35-28 36-29 35-30 37-32 37-34 37-36 37-38 36-38 35-39 32-38-2-35-46 30 M5692 2458l-37 42-6 42 41-24 41-28 42-30 43-33 43-34 42-35 41-36 41-37 40-38 40-39 39-40 38-41 35-40 34-41-2-37-49 31-44 32-43 32-43 32-42 33-41 35-41 35-39 37-37 36-34 35-34 36-33 36-35 39 M5669 2489l42 3 49-34 48-35 47-36 46-37 43-36 42-36 41-36 41-38 40-38 41-41 40-42 41-44 40-44 37-47-42-4-48 33-48 35-47 35-45 36-45 37-43 37-42 37-40 38-40 39-40 41-40 41-41 44-39 45-38 47 M6149 2031l-40 30-41 33-41 34-40 36-39 36-37 37-36 37-33 36-33 37-32 37-31 40 36 4 41-27 40-28 40-30 40-31 41-33 41-34 40-35 39-37 38-37 36-37 34-37 32-37 32-37 30-39-37-3-41 28-40 28-39 29 M5926 2322l40-32 38-34 38-34 36-35 37-36 36-37 36-39 37-40 37-43 3-40-44 27-43 30-43 32-43 33-42 34-41 34-40 35-39 36-38 36-36 36-36 37-34 37-33 38-32 38 0 37 43-28 42-29 41-30 40-31 40-32 M5798 2431l49-36 47-37 46-38 46-38 45-40 45-42 44-42 42-43 41-44 38-43 37-43 36-46-43-3-48 32-47 33-47 34-47 37-47 38-46 40-45 40-43 41-41 41-40 41-41 43-41 44-42 47-39 49 42 5 50-34 49-36 M6087 2179l34-34 33-34 31-35 29-34 27-35-35 0-39 26-36 27-36 26-35 27-35 28-36 30-35 31-35 32-33 33-32 33-31 33-31 34-30 35-30 37 33 3 39-27 39-28 38-29 36-29 36-29 34-29 33-30 33-30 34-32 M6061 2198l26-20 25-20 25-21 24-21 24-21 23-23 23-22 22-23 22-24 22-24 21-25 1-24-27 17-27 19-26 19-26 20-25 20-25 21-24 21-24 22-23 22-23 23-23 23-22 24-22 25-22 25 0 23 28-18 27-19 26-19 M5702 2459l-26 33 31 2 35-24 35-25 33-25 33-26 32-26 31-26 32-28 31-29 32-30 31-31 30-32 30-33 29-33 27-34-33-1-37 26-36 26-35 27-34 26-33 27-32 28-31 27-30 28-30 29-29 30-29 31-29 31-28 32 M5773 2428l35-24 34-23 34-25 35-26 35-27 36-30 36-32 36-33 35-34 35-35 33-35 33-36 32-37 31-39-35-4-41 28-40 29-40 30-39 31-38 32-36 31-34 32-33 31-32 31-30 31-29 32-29 32-28 32-27 35 31 3 M5833 2333l31 4 36-24 36-26 36-26 36-28 36-29 36-31 35-31 33-31 33-33 32-32 31-33 30-33 29-34 28-35-34-2-39 27-37 27-36 27-36 28-34 28-33 29-32 29-32 29-32 31-31 31-31 33-31 33-30 35-30 37 M6087 2105l-29 28-30 30-28 30-28 30-25 30-23 30 32-1 36-25 34-25 31-24 30-24 29-24 29-24 29-25 28-26 27-27 27-27 25-27 25-28 26-29 25-31-25-5-30 20-30 21-31 22-32 24-31 26-31 26-30 27-30 28 M6149 2143l43-41 42-43 42-44 41-45 41-46 40-50-43-4-50 33-49 35-48 36-49 38-47 39-48 40-46 41-46 42-44 44-43 43-42 45-41 45-39 46-38 48 45 3 51-35 50-36 49-37 48-38 47-39 46-39 45-40 43-41 M6137 2031l-47 39-45 40-42 39-41 38-38 39-39 39-42 42-44 47-46 50-47 56 38 10 49-33 51-36 51-40 51-40 49-40 47-40 46-41 46-43 45-43 45-45 42-45 41-45 38-45 36-47-46-1-52 35-49 36-49 36-48 38 M6251 2032l35-39 35-39 32-41-39-2-44 31-43 30-41 32-40 31-39 32-39 33-38 34-38 34-37 36-37 38-37 38-36 39-36 41-34 43 37 4 44-30 44-32 43-33 43-33 40-34 39-34 38-34 38-35 37-35 36-37 37-38 M5973 2274l24-26 23-26 23-26 21-27-26-1-30 20-29 21-27 21-28 21-27 22-27 23-26 23-26 24-25 25-25 25-25 26-24 26-24 27-22 28 26 2 30-20 29-21 29-22 27-21 28-23 26-22 27-24 26-24 26-25 26-26 M5962 2303l37-37 36-37 35-38 34-40 32-41-37-3-43 29-41 30-42 31-40 32-40 33-40 33-38 34-37 35-36 36-35 35-33 36-32 36-31 36-30 38 37 2 41-28 39-29 39-29 38-29 38-31 38-31 37-33 38-35 36-35 M5820 2393l37-25 37-27 36-27 36-28 35-29 34-29 34-30 33-31 32-31 31-32 32-33 30-33 30-35 29-36-33-2-38 25-36 27-36 27-36 27-35 29-34 29-35 30-33 31-33 32-32 33-30 32-30 33-30 34-28 36 33 3 M6180 1994l-36 28-35 29-35 30-33 30-34 31-32 31-30 32-29 31-27 30-24 29-22 31 33-1 35-24 34-25 32-24 32-25 32-25 31-27 31-27 30-28 30-29 30-30 31-32 32-34 33-36 31-38-30-5-36 24-37 27-37 27 M6331 1906l-35 25-33 26-32 27-31 26-29 26-28 26-28 26-28 27-27 29-27 28-26 30-25 29 0 27 34-21 31-22 31-22 29-22 30-24 31-24 31-26 31-28 30-29 29-29 28-30 28-29 27-31 27-32 1-30-35 22-34 25 M6168 2086l29-30 29-31 29-32 28-33 2-31-37 23-36 25-34 26-34 26-32 26-31 26-32 27-32 28-31 29-31 31-30 31-28 30-26 31-25 30 0 30 35-23 34-23 33-23 33-25 33-27 33-27 31-28 31-29 30-28 29-29 M5997 2259l35-30 33-30 32-31 31-32 31-32 31-33 32-35 31-36 3-35-39 24-38 27-38 29-37 29-36 29-34 28-34 30-33 30-33 31-32 32-32 32-31 34-29 33-28 33 1 31 39-25 36-25 35-26 35-26 35-28 34-28 M6314 1899l8-17 14-20 20-22 23-22 22-22 18-19 15-18 14-18 14-17 14-16 14-14 17-13 19-12 22-12 22-10 23-8 20-7 16-4 13-1 10 1 8 3 6 4 4 5 3 6 0 6-3 7-4 9-6 8-7 7-7 6-8 4-9 3-10 1-11 2-9 3-9 5-6 7-4 9-4 10-4 10-5 12-8 13-10 14-12 15-14 17-14 17-14 17-15 16-14 18-14 20-15 20-15 18-15 13-14 7-16 0-18-6-17-11-15-13-10-15-3-16 M6305 1954l3-8 4-9 7-9 7-9 8-9 9-10 8-9 9-10 8-11 9-11 10-12 10-12 10-12 9-10 9-8 8-6 7-4 8-2 6 0 7 1 6 2 5 3 4 4 3 5 2 5 1 7 0 7-1 9-2 9-2 9-3 9-4 9-6 9-6 9-8 9-9 9-8 10-10 9-9 9-9 9-9 9-9 10-10 11-10 10-10 9-9 8-9 5-7 2-6-1-6-4-5-6-4-8-4-9-2-9-1-9 1-9 M6309 1945l3-8 5-9 6-10 8-9 8-10 9-10 9-10 9-10 9-11 9-12 10-12 10-13 10-11 10-11 9-9 9-6 7-4 8-2 7 0 7 1 6 3 5 3 4 4 3 5 2 5 1 7 0 8-1 9-1 9-3 9-3 10-5 9-5 9-7 9-8 10-9 10-9 9-9 10-10 10-9 9-9 9-10 11-11 11-10 10-10 9-10 8-8 6-8 2-6-1-6-4-5-7-5-8-4-9-2-10-1-9 1-9 M6312 1966l3-8 5-9 6-9 8-10 9-10 9-10 9-10 8-10 9-11 10-12 10-13 10-13 11-12 9-10 10-9 8-6 8-4 7-2 8 0 6 1 7 2 5 3 4 5 3 4 2 6 1 7 0 8-1 8-1 10-3 9-3 10-5 9-5 9-7 10-8 10-9 10-9 9-10 10-9 10-10 9-9 10-10 10-11 11-10 11-11 9-9 8-9 6-7 2-7-1-6-4-5-7-5-8-4-9-2-10-1-10 1-9 M5545 2628l1-4 1-6 2-6 2-7 3-7 3-7 4-8 4-7 3-6 4-5 4-5 4-4 4-4 5-4 4-4 5-3 5-3 5-2 4-2 5-1 5-1 5-1 6 0 6 1 5 1 6 1 4 2 4 2 3 3 1 2 0 4-2 4-2 4-4 5-4 6-4 5-5 6-5 5-5 5-5 5-5 5-5 4-6 5-6 5-6 5-5 4-6 5-6 3-5 3-4 2-4 2-4 1-4 1-3 0-4 0-2-1-3-1-1-2-2-2 0-3 M5549 2618l1-4 1-5 2-7 2-6 3-7 3-8 4-7 3-7 4-6 4-5 3-5 4-4 4-4 5-4 4-3 5-3 5-3 5-3 4-1 5-2 4-1 6 0 5 0 6 1 6 1 5 1 4 2 4 2 3 2 1 3-1 3-1 4-2 5-4 5-4 5-4 5-5 6-5 5-5 5-5 4-4 5-5 5-6 5-6 4-6 5-5 4-6 4-5 4-5 3-4 2-4 2-4 1-4 1-3 0-4 0-2-1-3-1-1-2-2-2 0-3"/></g>
</g>
<g clip-path="url(#c_II_e)">
<g transform="scale(0.1)"><path fill="#1C7DC2" stroke="none" d="M4114 3937l24-13 23-13 22-14 23-15 22-14 22-15 22-15 21-15 22-16 21-15 21-16 21-16 21-16 20-17 21-17 20-17 20-17 19-18 20-17 19-18 19-19 19-18 19-19 19-19 18-19 18-19 18-20 18-20 17-21-17-19-24 12-23 14-22 14-22 14-23 15-22 14-21 15-22 15-22 16-21 16-21 15-21 16-20 17-21 16-20 17-20 17-20 18-20 17-19 18-20 18-19 18-19 18-19 19-18 19-19 19-18 19-18 20-18 20-16 21z"/><path stroke-width="8.5" d="M4566 3626l33-30 33-31 33-31 32-32 33-34 31-35 1-35-41 22-39 25-38 26-38 26-37 26-36 28-36 28-36 30-37 31-36 33-36 34-34 34-32 34-31 35 2 35 43-25 41-26 40-26 38-27 38-28 38-28 36-29 35-30 M4247 3814l0 37 42-23 38-24 39-25 39-26 40-29 39-29 39-31 37-32 37-32 36-34 36-34 37-36 37-38 35-38 0-40-46 27-44 28-43 29-41 30-40 28-39 30-38 30-38 31-37 33-36 33-35 34-32 34-31 33-31 34 M4591 3571l1-44-52 29-50 32-49 33-46 33-45 33-44 34-43 34-41 35-41 36-38 36-36 35-34 36-32 35-33 37 0 39 43-23 42-26 41-26 42-29 43-31 42-32 41-33 41-34 40-35 41-37 41-38 43-41 42-43 41-45 M4321 3822l38-32 38-33 37-34 37-35 36-36 34-37 33-36-1-38-46 26-44 28-42 29-40 28-40 29-38 29-38 31-38 31-37 32-37 34-36 34-36 36-35 36-34 38 0 38 45-25 42-27 42-27 41-29 40-29 40-30 39-31 M4218 3824l-20 20-20 19-19 20-18 21 0 21 24-13 23-14 23-15 23-16 23-17 23-17 22-18 21-18 20-18 20-18 20-20 20-19 20-21 19-21-1-21-25 15-25 16-24 16-22 16-22 16-20 15-21 17-21 17-22 18-21 19 M4403 3664l-29 25-28 26-26 26-26 26-25 27-25 27 0 29 33-18 32-20 30-20 31-21 30-22 30-22 30-24 31-25 30-26 31-27 29-29 28-28 27-28 25-29-2-29-37 21-33 22-33 22-32 22-31 22-31 24-30 24-29 25 M4564 3592l33-39-38-8-44 26-43 28-42 28-42 30-41 30-42 32-40 33-41 35-40 35-40 37-39 39-39 39-38 41-36 42 41 8 47-28 46-30 46-31 45-32 43-33 43-34 41-34 39-34 38-35 37-35 36-36 35-36 35-38 M4244 3859l38-26 38-27 37-27 35-27 35-28 34-28 34-30 34-31 36-32 36-36 37-37 36-39 4-40-42 23-42 26-42 28-42 30-40 30-39 30-37 30-36 31-34 30-33 31-32 31-32 33-31 33-31 34-1 35 41-22 39-25 M4230 3805l-23 22-24 24-23 23-22 24-22 26 25 5 28-17 27-17 27-18 27-19 27-19 28-21 27-22 27-23 26-24 24-23 24-24 22-24 22-24 21-25-25-5-29 17-28 18-27 18-28 20-28 21-27 21-26 21-25 22-25 23 M4493 3653l-1-34-40 23-39 25-38 25-37 26-36 27-35 26-33 27-33 28-33 28-33 30-34 32-34 33-34 35-34 36-4 39 39-21 39-24 39-25 40-27 39-29 38-29 38-30 36-31 34-31 33-31 32-31 31-32 30-32 30-33 M4112 3914l-29 31-3 33 34-18 34-21 33-21 34-23 34-25 33-25 33-26 33-28 32-28 30-28 30-29 29-29 28-30 27-30-1-32-37 21-35 23-35 23-34 24-33 25-32 25-31 25-30 25-29 26-29 26-29 28-28 28-29 30 M4641 3460l-33 21-33 23-33 24-33 25-31 26-31 26-29 26-29 27-28 27-27 27-27 29-27 30-1 30 34-18 33-21 33-21 32-22 32-23 33-25 31-25 31-26 29-26 28-27 26-26 27-27 27-28 27-30 3-32-32 17-32 19 M4369 3769l35-29 34-30 34-31 33-32 32-33 32-33 31-34-1-35-42 24-40 26-39 27-38 27-36 26-34 27-33 27-32 27-31 28-30 28-28 28-28 28-27 29-28 30-2 34 33-18 32-18 32-21 34-22 35-25 36-26 36-29 M4517 3529l-41 30-40 31-40 32-40 34-40 35-39 37-38 37-37 38-35 38-34 41 40 7 45-27 44-29 44-29 44-31 42-32 41-33 41-33 38-34 38-34 37-35 37-36 36-37 35-38 33-39-40-6-45 27-43 29-42 28-41 29 M4425 3711l23-17 22-18 22-17 20-18 20-18 20-18 19-18 19-19 18-19 17-20-1-19-24 14-22 14-22 14-21 15-21 15-21 15-21 17-21 17-21 18-20 18-19 19-20 20-19 20-20 21-1 23 23-13 23-14 24-16 24-16 M4548 3607l23-23 22-23 22-24-1-25-30 17-28 18-27 19-26 18-26 19-24 19-24 19-24 20-23 20-23 21-22 22-23 22-22 23-22 24 0 24 28-15 26-17 26-17 26-18 26-18 25-19 24-20 25-20 24-21 24-22 24-23 M4286 3776l-24 28 28 5 31-18 30-19 30-20 30-21 31-22 30-23 30-25 30-25 30-27 29-27 28-28 27-28 27-28 25-31-29-6-33 20-33 21-32 21-32 23-33 24-32 25-31 25-30 27-28 26-26 25-25 26-24 25-24 27 M4334 3805l35-30 35-30 35-32 35-33 35-35 34-35 34-37 1-38-43 24-42 27-41 27-40 28-38 29-38 29-36 29-36 30-35 31-35 32-35 33-35 34-35 37-35 37-2 39 43-24 42-27 42-28 41-28 39-30 38-29 37-30 M4252 3767l-32 37 34 7 40-24 39-26 39-27 37-27 37-27 35-28 34-28 34-29 33-30 33-30 32-32 31-31 29-32 27-34-35-5-38 24-36 23-36 24-36 25-35 27-35 27-34 28-34 29-33 29-32 31-33 31-32 33-33 35 M4123 3919l23 6 26-16 26-16 26-17 26-18 26-20 26-20 26-21 25-22 24-22 24-22 22-22 22-23 21-23 20-24-25-4-28 18-27 17-27 18-25 18-25 19-25 19-24 20-24 20-23 21-23 22-22 22-22 22-22 23-21 25 M4583 3604l32-29 30-30 29-29 27-29 26-30 0-31-37 20-34 21-33 22-34 23-34 25-34 25-32 27-32 27-30 27-30 27-31 29-31 31-31 32-30 33-1 33 39-22 38-25 36-25 35-25 33-24 33-24 32-25 32-27 32-27 M4683 3480l34-37 34-41-40-8-45 26-44 29-45 30-44 32-44 33-42 33-41 34-39 34-40 35-41 38-43 40-42 42-42 43-37 45 45 6 50-32 49-32 46-31 45-32 43-32 44-33 44-35 43-37 42-38 39-38 36-37 35-37 M4244 3846l34-20 35-22 34-22 36-25 36-26 35-28 35-29 33-29 31-29 29-28 28-29 27-28 28-30 26-32-32-5-36 22-35 23-35 24-33 25-33 24-31 24-30 25-30 26-30 26-31 29-30 29-31 30-30 32-30 34 30 9 M4166 3870l-37 43 37 9 45-27 44-29 44-29 42-30 42-31 42-32 41-33 42-35 41-37 40-38 37-37 35-37 33-36 31-39-41-6-45 28-44 28-43 29-43 31-42 32-40 32-38 32-36 32-36 32-36 34-37 35-39 38-39 41 M4347 3729l-22 16-23 16-22 16-22 17-22 18-22 18-22 20-23 20-22 22-21 21-19 21-17 21 25 2 26-16 24-16 24-16 22-16 23-17 22-17 22-18 21-19 20-18 19-19 19-18 18-19 19-20 19-22-20-5-23 14-23 14 M4344 3769l37-27 37-28 36-29 36-30 35-31 35-32 34-33 34-33 34-36 34-37 3-39-41 22-40 25-41 27-40 28-40 29-39 30-38 31-36 31-34 31-32 30-31 31-30 31-30 31-30 34-1 35 37-20 37-23 37-23 37-25 M4516 3629l26-25 25-26 25-26 24-29-26-6-31 18-30 19-30 21-29 21-30 22-28 23-28 23-27 23-25 23-26 24-25 25-25 26-26 27-25 29 26 6 31-19 31-20 30-20 30-22 29-21 28-22 27-23 27-23 26-24 26-24 M4170 3862l-26 25-27 26-26 26-25 27-22 27 30 2 33-20 30-21 30-20 27-20 27-19 28-21 27-22 27-23 27-24 26-25 25-24 24-25 22-25 23-27-27-5-29 18-29 18-30 20-28 21-29 21-28 22-27 22-26 23-27 23 M4566 3504l-39 28-39 29-38 30-37 31-36 31-34 31-35 32-34 34-35 35-35 37-32 38 36 7 43-26 41-27 41-28 39-28 38-29 37-29 37-29 37-32 36-32 34-33 34-33 32-33 32-35 30-36-35-7-40 23-39 25-39 26 M4523 3557l-32 22-31 24-31 24-30 25-30 25-29 26-28 27-27 27-27 27-26 28-24 29 30 5 33-20 33-21 31-21 31-22 31-23 30-23 30-25 29-25 29-26 28-26 28-27 27-28 27-29 26-30-29-6-34 20-32 21-33 22 M4285 3831l37-24 39-27 38-28 38-29 37-31 37-31 38-33 37-35 38-36 37-37 34-37 30-37-42-3-47 29-43 30-41 28-39 28-37 28-37 29-36 29-34 30-33 30-31 30-30 30-30 31-30 33-31 36 30 10 35-20 36-23 M4285 3777l-25 27-1 28 31-17 30-20 31-20 30-22 29-21 27-22 25-21 25-21 24-21 23-22 24-22 23-23 23-24 22-24 0-26-28 16-27 17-26 17-27 18-26 18-27 20-27 22-27 22-26 23-26 23-25 24-24 25-25 26 M4371 3774l34-30 33-31 31-31 31-32 29-32 27-33-34-6-39 24-37 24-36 24-36 26-35 26-35 27-34 28-34 29-32 29-31 30-30 30-30 30-29 32-28 34 32 6 36-21 36-23 35-23 35-25 36-26 35-27 36-29 34-30 M4406 3718l23-18 23-19 24-20 25-22 24-23 25-23 23-25 22-24-1-25-30 18-29 18-27 19-27 19-25 18-25 19-24 20-25 20-23 21-24 21-23 22-22 22-21 23-19 22 3 21 29-17 27-18 26-18 25-17 23-17 23-17 M4253 3817l-21 24 25 4 28-17 27-18 26-18 25-17 25-19 25-19 25-20 25-21 25-22 25-23 25-24 24-24 23-25 21-26-26-3-30 18-30 20-28 19-27 20-26 20-24 19-24 20-24 20-23 21-23 22-23 22-23 23-22 24 M4538 3612l23-25 22-26-25-5-29 17-29 18-28 20-28 20-28 20-27 21-26 22-25 22-26 23-24 23-25 24-24 25-24 25-23 27 27 5 29-19 29-18 29-20 28-20 27-20 27-21 26-21 26-22 25-23 25-24 24-23 24-25 M4372 3663l-33 27-34 28-33 30-33 30-32 32-32 32-31 33-28 35 34 5 40-24 38-26 38-25 36-27 35-26 33-27 32-27 31-27 30-27 28-27 28-28 27-28 27-29 27-31-30-7-33 20-33 20-32 22-33 22-33 24-34 26 M4464 3603l-27 18-27 20-27 20-27 22-28 23-26 24-26 24-23 24-22 24-22 24-21 25 25 6 28-17 27-17 29-19 28-20 29-22 27-22 26-22 24-21 23-22 23-21 23-23 24-24 24-25 23-27-24-5-28 17-28 17-27 19 M4303 3733l-22 22-22 23-21 23-21 26 22 6 26-15 26-16 27-17 28-19 28-21 27-22 27-22 25-23 25-22 23-23 24-23 24-24 24-26 23-27-25-5-29 18-29 18-28 19-28 20-27 20-27 21-27 22-25 22-25 23-23 22 M4589 3478l-37 25-36 27-35 26-35 28-34 29-34 29-33 31-32 31-32 31-30 32-30 33 1 34 39-22 39-24 37-25 36-25 36-26 35-27 34-27 33-28 33-29 32-30 32-30 31-31 31-33 30-33 1-35-38 21-38 24-36 24 M4703 3420l7-16 13-17 17-19 19-19 18-19 17-19 15-18 15-20 14-19 15-19 16-17 16-16 18-14 19-13 20-12 20-11 17-8 15-5 12-2 10 1 9 3 6 5 5 6 3 5 2 6-1 8-2 8-4 8-6 8-7 7-9 7-12 6-14 5-14 6-13 6-10 7-8 7-6 8-5 7-4 9-6 11-8 12-10 15-11 18-12 19-13 20-13 19-13 18-14 18-14 20-14 19-15 17-13 12-12 5-12-2-14-9-12-13-10-16-6-17-1-16 M4717 3425l2-6 3-6 4-7 6-8 6-8 7-8 7-8 6-7 7-7 6-6 5-6 6-6 6-5 5-6 6-5 6-5 5-4 5-3 5-3 4-2 4-1 4 0 4 1 3 1 3 2 3 2 3 3 1 3 1 3 1 4-1 5-1 5-1 5-2 6-3 7-3 7-4 7-3 7-5 7-4 7-5 7-5 8-7 9-6 9-7 8-7 9-7 7-6 6-7 5-5 3-6 1-6-1-6-2-6-3-6-4-5-5-4-5-3-6-2-5-1-6 M4703 3432l2-6 3-7 5-8 6-8 6-9 8-8 7-8 8-8 6-8 7-6 6-7 6-6 6-6 6-6 6-5 6-5 6-5 5-3 5-3 5-2 4-1 4 0 5 0 3 1 4 2 3 3 2 3 2 3 1 4 1 4-1 5-1 5-2 6-2 7-3 7-3 7-4 8-4 7-4 8-5 7-5 8-6 8-7 10-7 9-7 10-8 9-7 8-7 6-7 5-6 3-6 1-6 0-7-2-6-4-7-4-5-5-5-6-3-6-2-6-1-6 M3863 4175l0-6 1-8 3-9 4-11 5-11 6-10 6-10 8-10 9-10 9-11 11-11 12-12 13-13 14-13 16-14 16-14 16-15 16-13 16-15 16-15 16-16 16-14 14-13 13-10 13-7 12-7 11-5 9-2 7 0 3 3 0 7-3 10-6 13-8 14-9 15-10 14-13 14-14 15-16 16-17 15-16 16-16 16-14 15-15 17-14 17-13 16-14 14-12 12-12 9-12 8-11 6-10 5-10 5-9 3-8 4-8 4-7 3-6 1-5 0-3-2 M4018 4030l2-4 4-5 4-5 6-6 6-6 7-7 6-6 7-6 7-6 7-5 7-6 8-6 8-6 8-6 9-5 8-6 8-4 7-4 7-3 6-2 5 0 5 1 5 2 4 2 4 3 3 4 2 4 1 4 0 4-1 5-3 4-4 6-6 5-6 6-8 6-8 7-8 6-8 6-8 5-7 5-8 5-8 5-8 5-8 4-9 5-8 4-8 3-7 3-6 3-6 1-4 1-4 0-4-1-3-2-2-1-2-3-1-3 0-3 0-3 2-4 M4023 4030l2-4 4-4 4-5 5-6 5-5 6-6 7-6 6-5 6-5 6-5 7-5 7-6 7-5 8-5 7-5 8-5 7-5 6-3 7-3 5-1 4 0 5 0 4 2 4 2 4 3 2 3 2 4 1 4 0 4-1 4-2 4-4 4-5 6-6 5-7 6-7 5-7 6-8 5-7 5-6 5-7 4-7 5-8 4-8 4-7 4-8 4-7 3-6 3-6 2-5 1-4 1-4-1-3 0-3-1-2-2-1-2-1-3-1-3 1-3 1-3 M4175 3827l-1-2 1-2 1-2 1-3 2-4 2-3 3-4 3-4 4-4 3-3 4-4 3-3 4-3 3-3 4-2 3-2 4-1 4-2 4-1 5-2 4-1 5-1 4-1 5 0 4-1 3 0 4 1 2 0 2 1 2 1 0 1 0 2 0 3-1 3-1 3-2 4-2 4-2 4-2 3-3 4-3 4-3 3-3 3-3 3-3 2-3 1-4 2-5 2-5 1-5 1-6 2-5 1-6 0-5 1-5 0-4 0-4 0-3 0-3-1-1-1 M4315 3693l0-1 0-2 2-2 1-2 3-3 3-3 3-3 3-4 4-3 4-3 3-3 4-3 3-3 4-2 2-2 3-2 3-1 3-2 3-1 4-1 3-1 3-1 3-1 3-1 3 0 2 0 3 0 1 0 2 0 1 1 0 2 0 1 0 2 0 3-1 3-1 3-1 3-2 3-1 4-2 3-2 3-3 3-2 2-2 3-3 2-3 1-4 2-4 1-4 2-5 1-5 1-6 1-5 1-5 0-4 1-4 0-4 0-3 0-2-1-1-1"/></g>
</g>
<g clip-path="url(#c_II_f)">
<g transform="scale(0.1)"><path fill="#1C7DC2" stroke="none" d="M5690 4045l24-15 23-16 23-17 23-17 23-17 23-17 22-18 22-17 22-18 22-18 22-18 21-19 21-18 22-19 20-19 21-20 21-19 20-20 20-19 20-20 20-21 20-20 19-21 20-20 19-21 19-22 19-21 18-22 18-22-15-17-24 16-24 16-23 17-23 17-22 17-23 17-22 17-23 18-22 18-21 18-22 18-22 18-21 19-21 19-21 19-21 19-20 20-21 19-20 20-20 20-20 20-19 21-20 20-19 21-19 21-19 21-19 22-19 21-17 23z"/><path stroke-width="8.5" d="M5764 4012l35-28 34-28 35-31 35-31 36-33 34-34 33-34 31-34 30-34 29-34 0-30-39 26-37 27-37 28-37 29-36 29-35 31-34 30-33 31-32 31-31 31-31 32-32 33-31 34-31 35-2 32 38-26 37-27 36-27 35-28 M6100 3651l-24 23-22 24-22 23-21 24-21 25-1 22 26-18 26-18 26-19 25-20 26-21 26-21 26-23 25-23 24-24 24-24 24-24 23-25 24-26 24-27 4-26-28 18-28 21-28 21-28 22-28 23-27 23-26 23-25 23-24 24 M5812 3913l-3 27 32-21 30-22 31-23 31-24 30-25 29-25 29-26 27-26 27-25 25-26 25-26 24-26 23-26 23-27 1-23-31 20-29 22-28 21-28 22-27 23-27 22-27 24-27 24-27 25-26 26-27 28-27 28-27 29-26 30 M5945 3768l-34 29-33 28-32 30-34 31-34 33-34 34-33 35-31 34-30 35-1 31 38-25 37-26 35-26 36-28 37-30 37-31 37-32 35-33 33-33 32-32 31-33 32-34 32-35 33-37 3-33-40 27-40 30-39 30-38 31-35 30 M5891 3799l-40 41-40 42-39 42-39 44-38 46 39 3 46-33 46-34 46-36 46-36 45-37 45-39 44-40 43-40 42-41 42-42 41-43 39-43 39-44 36-45-41 0-49 35-47 35-47 36-45 37-45 37-43 38-43 38-42 40-41 39 M6138 3668l21-23 20-22 18-23-21 0-25 17-24 17-23 18-23 18-24 20-23 20-24 21-22 22-21 21-21 21-19 21-21 22-20 23-21 25 19 2 24-17 25-18 25-20 24-20 24-20 23-20 22-20 22-20 22-21 22-22 21-22 M5910 3784l-36 35-35 34-31 34-30 33-29 33-28 33-1 31 39-25 36-26 35-26 36-27 36-29 38-31 37-33 38-34 36-35 35-35 33-35 33-35 31-36 32-36 2-34-40 27-39 28-38 28-38 29-38 31-39 33-38 33-37 35 M5943 3831l27-20 25-21 26-21 25-21 25-22 24-23 25-24 23-24 23-24 22-24 22-25 22-26-23-2-27 19-26 20-27 21-27 21-26 22-25 22-25 23-23 22-24 23-23 23-23 24-24 25-23 26-21 26 24 0 27-20 27-20 M5820 3866l-39 41-39 42-37 42-35 43 40 0 47-33 45-34 44-34 43-35 43-35 43-37 42-38 43-39 43-41 42-42 42-43 41-44 39-45 36-45-43 1-50 36-48 37-47 37-45 37-44 36-42 37-42 38-41 38-41 39-40 41 M6174 3644l36-37 35-38 33-37 31-36-3-31-46 32-42 32-39 30-37 29-36 29-37 31-37 32-38 34-36 35-35 35-33 34-31 35-32 35-34 39-8 38 37-22 37-25 39-29 41-32 42-34 41-36 40-36 38-35 37-36 37-36 M6051 3756l25-23 26-25 25-25 26-26 24-27 23-26 22-27-25 0-30 21-28 21-27 21-27 22-27 22-27 23-27 24-25 24-24 24-24 25-24 24-24 26-24 28-25 29 22 3 29-20 28-22 30-22 28-24 28-23 26-23 26-24 M6111 3689l33-33 31-34 31-34 32-36 31-38-31-2-38 26-37 27-38 29-38 31-38 31-37 32-36 33-35 33-34 34-34 34-33 35-34 36-34 38-34 41 31 3 39-26 39-29 39-30 40-32 40-33 39-34 37-34 35-34 34-34 M6291 3489l2-27-31 20-30 22-31 23-30 24-31 25-30 26-29 26-28 26-28 26-27 27-27 28-27 29-26 28-25 29-1 26 34-23 32-24 30-23 30-23 29-24 28-24 29-25 28-26 28-26 28-28 26-27 26-28 25-28 26-29 M6245 3551l32-40-39 1-45 33-44 33-42 33-40 33-38 32-38 33-38 34-37 34-36 35-36 37-34 36-33 36-31 35-28 36 37-2 41-29 39-30 38-29 37-29 36-30 37-32 37-32 38-35 38-36 38-38 39-39 37-40 35-40 M5995 3798l27-25 27-25 26-26 25-25 24-26 23-25 24-28 25-30-21-4-27 18-27 19-28 21-30 23-31 25-31 27-31 28-30 28-29 29-27 28-27 28-24 27-24 28-23 29 28-1 33-23 31-24 30-23 29-24 29-24 29-25 M6132 3662l32-37 2-34-41 28-39 28-40 30-39 31-38 32-37 32-37 32-35 33-34 33-34 33-34 35-33 35-33 36-31 36-2 33 41-27 39-29 38-29 37-29 37-30 36-30 37-32 37-33 36-35 35-35 34-35 33-36 33-36 M6254 3504l-37 27-37 27-37 29-37 30-37 32-37 32-34 33-32 32-31 31-31 32-32 33-33 36-34 38-6 36 38-24 39-29 39-30 38-30 37-31 36-31 34-30 35-31 34-33 35-34 34-35 33-35 31-35 30-35 2-31-40 26 M5811 3911l-22 25-1 23 29-20 28-20 27-21 26-21 26-21 24-21 25-22 24-22 23-22 24-23 23-24 22-24 23-25 22-25 2-23-27 18-27 19-27 21-26 20-25 21-26 21-25 22-24 23-25 23-24 24-24 24-23 25-22 25 M5855 3854l-23 25-21 24-20 23-19 24 25-2 29-21 26-20 26-20 24-20 24-19 24-21 24-21 24-22 24-23 24-24 23-24 22-24 22-25 21-26-23 0-27 19-26 19-26 20-25 20-26 21-25 22-26 23-26 23-25 25-24 24 M6084 3651l-24 21-24 20-22 21-23 21-22 22-22 22-22 23-22 23-22 24-19 25 22-1 27-19 25-19 25-19 24-19 23-19 24-21 23-20 23-22 22-22 22-22 21-22 20-22 20-23 20-24-20-2-25 17-24 18-25 19-25 20 M6181 3601l25-30-27-1-31 22-31 23-31 24-30 24-30 25-30 26-28 26-29 26-28 28-28 28-28 29-28 30-27 30-25 31 29-1 34-24 32-25 32-25 30-24 30-25 28-25 29-25 28-27 28-27 28-27 26-28 26-29 26-29 M5844 3906l34-26 32-25 31-25 29-23 28-24 28-25 28-25 28-26 27-27 26-27 25-27 24-27 23-27 1-25-31 20-29 22-29 22-29 22-29 23-29 25-29 25-28 26-29 27-29 28-29 29-29 30-27 31-26 29 1 26 37-26 M6174 3601l-22-1-25 17-24 17-25 19-26 20-26 22-26 23-25 22-23 23-22 22-22 23-22 22-22 24-22 25-21 25 22 1 27-20 27-19 25-20 25-20 24-20 24-20 24-22 25-22 24-24 23-23 22-24 21-23 20-23 20-24 M5821 3958l23-21 24-23 23-23 23-23 21-23 22-24 20-24 1-21-28 18-26 20-25 19-25 20-24 19-24 21-24 21-24 21-24 23-24 23-23 24-22 24-22 24-21 25-1 21 28-19 27-20 26-20 25-20 25-20 25-20 24-22 M5839 3922l37-27 36-28 35-28 34-28 33-28 31-28 32-29 32-30 33-32 33-32 32-34 31-35 31-35 3-32-37 24-36 26-36 27-37 28-36 30-36 31-35 31-32 31-31 31-30 30-29 30-30 31-30 34-31 35-4 32 37-25 M5938 3847l33-29 33-29 33-31 33-31 32-33 32-33 29-32 28-32 27-34-30-2-35 24-34 25-34 26-36 28-36 30-35 31-34 31-32 31-31 31-31 31-31 32-32 35-33 36-32 38 30 2 39-28 39-29 37-30 36-29 35-29 M6037 3761l41-36 39-37 39-38 37-38 37-39 36-39 36-40 33-41-37-1-44 31-43 33-42 32-42 34-41 34-40 35-40 35-39 37-38 37-38 38-38 40-38 40-37 42-36 43 37 2 45-31 44-33 43-34 43-34 42-36 41-36 M6150 3658l31-32 31-32 30-33 29-34 1-29-39 26-37 27-35 28-35 27-33 27-32 28-32 28-31 29-32 29-31 31-30 31-30 32-30 32-28 33-2 30 37-25 35-25 35-27 34-26 33-28 33-28 32-28 33-30 31-30 32-31 M6112 3624l-30 26-28 26-26 25-26 26-25 26-26 26-27 29-27 30-28 32 25 3 30-21 31-23 31-24 31-25 30-25 29-25 30-26 29-27 29-29 29-28 27-29 26-28 25-29 24-31-27 0-32 22-31 24-31 24-31 25-31 26 M6185 3612l19-21 17-21 0-19-25 17-23 17-22 16-22 17-23 18-23 20-23 20-23 21-22 21-21 21-20 21-19 21-17 20-17 20 1 18 25-17 23-17 22-17 22-17 21-17 21-18 22-18 22-20 23-21 21-22 22-21 19-22 M5803 3900l-35 40-33 42 39-1 44-31 43-32 42-32 41-33 42-34 42-36 42-37 41-39 41-39 40-41 39-41 38-41 37-41 34-43-40 0-47 34-46 35-44 34-43 35-42 35-42 36-40 36-40 37-40 39-39 39-37 40-37 39 M5887 3887l22-20 22-20 22-21 22-21 21-22 21-22 19-21 18-22 1-19-25 16-23 17-23 17-23 17-23 19-24 20-23 21-21 20-22 20-20 21-20 21-21 22-21 23-22 24-3 22 26-16 25-19 25-19 24-20 23-19 23-19 M5831 3947l26-23 26-23 24-24 24-24 24-24 23-25 24-26 23-27 3-24-28 18-27 19-27 20-27 21-28 22-27 23-28 24-26 25-26 25-25 25-23 25-23 24-23 25-22 26-2 24 29-18 27-20 28-21 27-22 28-22 26-23 M5999 3701l-42 37-42 38-42 40-42 41-42 42-40 43-38 43-36 42 0 36 51-34 48-36 46-35 44-35 42-35 42-36 42-36 41-37 40-39 40-39 39-40 39-41 38-42 37-43 3-39-48 31-45 34-45 34-44 35-44 35-42 36 M6087 3630l-39 35-38 35-37 36-37 37-36 37-35 37-34 38-33 38-2 35 43-28 40-29 40-30 40-31 40-32 41-34 39-35 39-36 37-36 35-36 35-36 33-36 35-38 35-40 5-38-41 27-41 29-41 31-41 32-41 34-41 34 M6069 3736l40-38 40-39 39-40 39-40 37-41 36-40 33-42-39 0-46 33-44 33-42 32-42 34-42 34-43 36-41 38-41 38-38 38-37 38-34 37-34 38-34 38-35 43 34 3 40-27 41-30 42-32 43-33 43-36 43-37 42-38 M6194 3592l3-32-38 25-37 27-37 28-37 29-36 30-35 29-34 31-33 31-33 31-33 32-32 33-32 34-30 34-30 34-1 31 39-27 37-27 36-28 36-27 35-29 34-29 34-30 34-31 33-31 32-32 32-33 32-34 31-34 30-35 M6143 3662l35-37 35-39 34-39 3-36-43 28-42 30-42 32-41 33-41 33-40 35-38 34-37 34-35 35-35 34-34 35-35 37-36 39-37 42-8 41 39-25 40-28 41-31 43-33 42-34 42-36 41-37 39-36 38-37 37-37 35-37 M5981 3735l-24 21-25 23-24 23-22 24-22 23-20 22-21 24-20 24 21 2 26-17 25-19 25-19 26-21 25-21 25-22 24-22 24-22 24-23 23-24 24-24 24-25 22-25 20-25-25 1-29 21-27 21-26 20-24 19-24 20-25 21 M5693 4000l-39 42-38 43-5 40 45-30 44-32 44-34 43-34 42-34 42-35 41-36 42-38 41-38 40-41 40-40 37-41 36-40 35-41 1-36-47 32-45 33-45 33-43 35-43 35-41 36-40 36-38 35-37 36-36 36-38 38-38 40 M5577 4127l20-25 35-37 45-46 49-49 49-49 49-50 53-54 55-55 56-56 55-54 55-53 56-53 56-52 53-49 49-44 45-38 42-33 39-30 37-27 35-24 34-22 33-19 31-16 26-12 19-8 12-3 7 0 2 5-4 9-8 12-14 16-19 20-24 24-28 27-32 30-36 34-42 38-45 41-46 42-46 42-45 42-47 43-47 43-47 44-47 43-47 44-48 45-47 44-47 43-44 39-43 38-43 37-42 34-37 30-32 22-29 18-28 14-23 8-12-1 2-12 M6223 3502l5-8 8-10 11-10 12-11 14-12 15-12 16-12 15-11 14-11 13-9 13-9 14-9 14-9 14-9 14-8 14-8 12-6 11-6 10-4 8-3 6-2 4 0 4 1 2 2 1 3 0 3-1 4-2 5-2 5-3 5-5 6-5 6-6 8-8 7-8 8-9 9-9 8-10 9-10 10-10 9-11 10-12 12-13 12-14 13-13 13-14 12-13 12-13 9-11 8-9 5-9 2-9 1-9-1-8-3-7-4-6-4-5-6-2-7-1-6 3-7 M6227 3511l5-8 8-9 11-11 13-11 14-12 14-12 16-11 15-12 14-10 13-10 13-9 14-9 14-9 14-8 14-8 13-8 13-6 11-6 10-4 7-3 6-2 5 0 3 1 2 2 2 3 0 3-1 4-2 5-3 5-3 5-4 6-5 6-7 7-7 8-8 8-9 8-9 9-10 9-10 9-10 9-11 11-12 11-13 13-14 13-13 12-14 13-13 11-12 10-12 7-9 5-9 3-9 0-9-1-8-2-7-4-6-5-4-6-3-6 0-7 2-7 M6224 3513l5-8 8-10 11-11 13-11 14-12 16-12 15-13 16-11 14-11 14-10 13-9 14-9 14-9 15-9 14-8 14-8 13-7 11-5 10-5 8-3 6-1 5-1 3 1 2 2 2 3 0 4-1 4-2 5-3 5-3 5-4 6-6 7-6 7-8 8-8 8-9 8-10 9-9 10-11 9-10 9-11 11-13 12-13 12-14 14-14 13-14 12-13 12-13 10-11 8-10 5-9 2-10 1-9-1-8-3-7-4-6-5-5-6-2-6-1-7 3-7 M5575 4138l2-3 5-5 6-6 7-7 9-8 9-8 11-9 10-9 10-8 10-9 9-7 7-6 8-7 7-6 8-6 8-6 7-6 7-6 7-5 7-5 5-4 5-3 4-2 3-1 2-1 1 1 0 2 0 2-1 3-2 3-2 4-3 5-3 4-3 5-4 5-4 5-4 5-5 6-6 6-6 7-6 7-7 7-7 7-7 7-7 7-7 6-7 6-7 4-6 5-8 4-9 5-8 4-9 3-8 4-8 2-7 3-6 1-4 0-2 0-1-2 M5583 4126l2-3 4-4 5-6 7-6 8-7 9-8 10-8 9-8 10-8 9-8 8-7 7-6 7-5 7-6 7-6 7-6 7-5 7-5 6-5 6-4 5-4 5-3 4-2 2-2 2 0 1 1 0 1 0 2-1 3-2 3-2 4-2 4-3 4-3 5-4 4-3 5-4 4-5 6-5 6-6 6-6 7-6 6-7 7-6 7-7 6-6 5-6 6-7 4-6 4-7 4-8 4-8 4-8 3-8 4-7 2-6 2-5 1-4 1-3-1 0-2"/></g>
</g>
<g clip-path="url(#c_III_a)">
<g transform="scale(0.1)"><path fill="#5FA7D8" stroke="none" d="M511 6103l14-32 23-30 26-28 27-27 27-26 28-23 29-22 29-23 29-24 29-24 28-24 27-22 25-20 23-20 22-18 25-17 28-15 30-14 30-12 30-9 32-7 34-6 31-1 26 6 21 16 17 23 10 27 3 25-9 25-18 25-22 25-23 23-21 20-24 18-24 18-26 19-27 22-29 24-30 24-27 24-24 24-22 24-22 24-24 24-27 24-29 24-29 24-29 22-29 22-30 22-30 18-26 10-26 2-23-4-21-10-16-19-12-30-7-40-2-43z"/><path stroke-width="8.5" d="M1136 5759l-42 59-147 122-157-37-55-101 189-162 67-48 47-20 162-107 38 198-67 65-69 50 M705 5886l111-62 27 151-78 75-37 36-32 29-42 42-132 126-146-125 163-134 6-41 68-10 51-59 140-89 M1022 5864l-33 90-37 34-17 4-11 11-21 26-85 42-20-85 56-44 21-16 18-8 31-33 64-32 22 84 M953 6004l-64-17 31-62 20-29 31-31 32-31 70-10-34 103-32 36-16 10-34 33-58 44 M872 5824l149-67-23 176-64 35-23 30-49 30-197 125-34-168 123-74 48-53 49-47 109-50 M555 6139l151-203 86-44 30-39 33-16 87-97 267 19-140 151-86 81-37 22-61 69-240 154-37-147 M593 6203l49-239 72-73 56-86 74-46 68 0 229-74 20 122-165 147-60 46-56 39-172 172-153-15 M937 6041l-14 19-32 26-72 77-96-11 32-99 56-59 43-32 28-8 61-58 101 60-97 70-12 20 M846 5902l96-42 16 60-61 50-8 14-13 9-9 11-34 40-73 54-26-77 38-54 30-28 21-21 25-28 M636 6202l7-244 113-102 49-16 36-37 84-40 125-102 186 62-249 195-22 37-34 59-36 22-200 96 M1139 5711l176-56-57 162-83 60-32 42-81 64-185-9 106-148 80-39 16-24 26-48 62-7 M626 6184l-41-179 118-107 100-70 80-79 230-106 63 140-158 163-50 38-35 32-73 65-131 103-168-119 M874 6014l-91 82-235-22 151-212 63-27 26-58 105-79 142-46 125 92-161 138-91 54-1 36-54 64 M1069 5576l89-64 150 9-145 133-14 20-39 28-34 26-138 88-1-127 82-56 35-37 37-39 M641 6228l77-182 150-136 83-67 68-14 90-144 283 7-136 231-118 93-31 36-40-3-114 144-191-77 M944 5783l18-43 43-30 113-64 79 35 25 73-120 109-32 20-39 28-122 119-127-105 72-86 59-57 49-34 M1067 5962l65-69 16-13 21-21 25-9 67-41 73 21-92 84-23 15-13 18-30 36-76 39-21-74 M1052 5963l-30 20-31 19-121 58-37-78 62-71 54-50 33-11 73-68 159-8-121 128-3 37-32 12-22 22 M681 6093l-41-75 72-99 29-35 57-52 76-23 69 73-95 73-35 20-10 26-20 24-136 65 M1183 5943l-20 6-23 31-105 56-61-52 71-63 19-37 41-22 47-31 47-46 60 65-59 70-18 19-14 24 M1216 5817l103 35-149 115-13 19-18 12-36 20-85 97-79-54 93-115 25-26 20-7 36-50 74-62 110-1 M1107 5969l-111 71-18 44-73 57-304 174-13-154 93-143 133-100 45-58 93-72 143-123 148 58-184 259 M746 6031l-113-22 33-86 81-44 26-21 30-23 43-38 123-29-92 142-22 22-28 23-45 51-108-6 M907 6019l-78 57-180-40 120-137 78-65 68-29 175-65 4 102-85 72-59 29-18 60-52 33 M1011 6024l-82 11-53 69-275 192 69-328 93-98 73-61 149-92 256 7-136 203-100 54-45 31 M1159 5834l-161 124-45 57-41 26-50 37-157 161-124-22 46-230 92-101 85-42 52-55 221-90-28 207 M744 6104l50-63 37-27 51-31 97-4-25 70-65 30 2 14-22 17-14 15-61 63-66 9-56-37 119-105 M850 6076l-117 119-134-85 15-115 69-59 83-38 50-37 128-77 187 9-125 171-102 50-38 27-40 67 M848 5953l56-61 59-32 31-51 130-47-11 129-47 62-25 8-27 33-96 50-143-13 120-150 M801 6211l-229-51 95-167 126-80 58-55 46-14 148-114 162-12 15 119-172 153-50 47-40 56-63 56-286 133 M1041 5667l154 64-188 192-37 38-54 44-101 125-201-14 44-133 122-119 78-52 83-83 229-56 M922 5914l47-45 58-47 139-43 30 130-83 60-50 26-38 30-36 45-234 85 149-210 12-47 M973 5684l106-51 177 54-180 169-46 61-70 59-70 60-104 15-100-117 152-112 8-44 47-26 71-24 83-86 M1056 5776l-34 29-6 18-51 39-100 35 33-112 43-43 15-11 16-19 31-19 112-48-34 113-41 43 M869 5811l55-57 164-70 2 203-92 74-60 55-107 104-253 79 142-295 97-40 12-33 71-57 M929 5938l-161 136-121-6 110-211 61-39 19-27 55-50 73-60 135-44-54 204-48 46-36 22-49 41 M1101 5789l29 142-170 149-70 50-68 83-103 97-112-25-99-79 119-148 90-81 91-45 145-106 144 136 M666 6252l-104 11-16-164 98-97 72-57 87-56 249-50-137 189-45 41-55 61-44 7-216 193 M508 6190l103-190 69-32 43-38 75-76 231-24-133 212-30 27-21 32-50 23-36 72-98 68-162-127 M864 6060l-125 149-138-113 73-137 97-87 39-49 46-27 81-79 159 106-100 131-38 44-62 48-34 18 M552 6117l153-193 77-74 48-70 135-71 200-99-68 286-109 74-36 54-72 47-248 145-16-229 M882 5925l31-66 49-28 53-43 61-47 217-43-133 212-28 53-37 34-53 70-149 90-173-62 105-146 104-111 M1150 5790l-136 106-30 39-53 58-196 84 73-203 71-45 23-19 35-21 66-50 166 30-134 126 M941 5991l-17 12-18 14-59 64-102 5 56-123 37-25 40-23 98-78 42 99-77 53-24 8 M824 6136l-43 34-43 39-117 119-226-10 109-194 48-72 97-65 70-44 86-99 243 17-139 176-68 83-38 25 M782 5898l26-12 28-10 84-62 106 52-83 80-42 31-17 18-19 24-61 59-82 26-41-95 62-67 45-44 M863 5821l43-42 116-50 237-83-176 242-36 54-48 38-30 37-57 39-252 179 67-241 83-134 64-38 M637 5956l98-53 25-41 87-53 47 11 217-175 30 141-96 146-65 47-61 35-51 44-124 159-211-66 135-229 M914 5775l51-69 34-21 24-15 71-45 64 44-69 60-25 22-20 18-20 22-35 30-95 23 14-75 M1202 5696l-19 100-61 41-27 23-10 11-31 41-124 60 2-102 78-66 26-40 48-22 77-43 51 68 M1109 5857l-20 92-56 53-28 39-27 27-24 4-40 38-140 47-1-89 88-84 20-21 32-42 65-53 195-39 M981 5940l-18 9-16 16-59 55-38-34 39-82 25-34 28-6 55-49 83-13-59 101-39 30-6 16 M973 5953l-25 47-50 36-357 181 147-323 40-57 66-24 25-41 58-39 118-51 255 50-213 164-51 28-40 71 M721 6067l-94 82-129-67 93-122 51-46 28-30 48-11 49-47 157-32-85 167-34 36-25 21-40 26-149 151 M955 5682l76-25 87-89 90-82 301-59-69 197-164 133-40 37-31 22-73 93-229 177-181-74 151-231 119-114 M608 6042l103-82 48-40 63-46 247-70 16 162-173 131-53 47-77 82-248 127-71-221 161-84 67-90 M694 5965l99-57 23-57 107-57 112-4-64 170-48 33-24 25-40 37-52 38-176 102 15-159 40-70 M981 5990l-58 68-60 58-205 145-112-138-1-114 196-123 72-41 44-105 243-133 48 179-143 183-85 46 M849 6079l-18 3-8 21-59 61-57-74 33-52 32-22 28-28 54-33 96 17-43 62-47 30-14 15 M929 5971l-92 166-28 27-34 13-21 31-38 63-138 63-12-123 67-74 50-31 19-16 31-9 44-29 120-8 M573 6231l16-12 16-16 41-26 96-24-47 96-43 30-13 9-17 20-22 27-114 40 41-120 59-33 M737 5845l101-32-26 167-67 51-26 56-85 50-228-13 187-160 40-53 53-29 113-54 M540 6033l143-107 40-75 57-15 137-77 20 182-69 64-42 15-10 26-34 35-261 198 18-232 94-93 M929 6020l-66 57-211 133 33-245 55-59 3-62 70 1 31-49 60-55 289-33-96 185-146 90-23 62 M635 6066l122-118 54-50 23-43 95-49 65-2 162 73-152 127-24 44-48 48-88 63-288 14 157-161 M913 5998l-36 30-83 28-33-66 43-54 53-28 30-26 76-50 80 59-104 72-2 19-20 31 M1191 5737l-212 229-46 65-29 42-104 99-201 2 81-202 72-99 93-44 68-118 294 14-131 200 M1278 5852l-47 24-47-39 28-62 47-34 19-17 23-27 101-38-46 107-30 18-15 18-33 44 M853 5844l135 133-161 128-61 55-60 51-38 18-241 142 43-233 57-104 77-63 88-92 139-11 212-8 M1293 5795l-64 50-26 29-40 30-75 60-127-33 53-105 77-52 40-2 66-74 149 23-98 104 M1482 5500l-32 105-94 56-73 16-79-20-9-50 50-65 99-81 92-1 46 40 M1461 5498l-34 121-57 52-44 20-59-17-66-54 68-28 53-109 65-30 74 45 M1509 5464l0 76-56 55-75 65-94-14-27-60 54-42 42-62 78-53 81-1-3 36 M1395 5466l14 47-50 54-55 85-76-29-37 6-7-38 35-76 97-46 58-5 21 2 M1441 5558l-29 84-63 32-47 67-71-35-30-32 46-63 66-64 71-25 57 36 M1447 5495l-15 80-54 58-84 45-75 17-13-43 10-81 50-63 96-34 86 20-1 1 M1457 5563l-16 18-55 98-73 58-79 5-34-21-10-63 89-85 59-50 82-10 37 50 M1447 5429l-1 72-38 66-83 38-58 54-53-56 21-73 59-72 64-38 60-16 29 25 M1483 5444l-6 92-69 95-96 47-68-2-76-43 57-90 91-89 81-66 85 36 1 20 M788 5856l19-113 38-132 38-113 131-66 170-5 151-8 131 8 19 71 0 142"/></g>
</g>
<g clip-path="url(#c_III_b)">
<g transform="scale(0.1)"><path fill="#5AA4D6" stroke="none" d="M2193 6165l18-37 27-36 30-37 35-38 38-37 39-36 37-32 37-30 37-31 37-31 37-32 37-29 37-27 37-25 37-23 38-22 38-20 34-15 29-13 25-8 19 1 13 16 7 26-4 30-17 34-27 39-31 37-35 32-38 30-38 30-37 31-37 31-37 31-37 31-37 31-37 31-38 31-37 31-37 31-37 34-38 33-36 26-35 17-33 8-23-5-9-26 2-41z"/><path stroke-width="8.5" d="M2604 5992l45-32 45-27 42-19 28-8 13 14-1 34-25 41-35 39-42 33-42 36-43 37-44 37-44 37-45 39-45 37-42 16-18-20 8-50 30-45 40-45 45-42 43-37 43-37 44-38 M2982 5822l-47 51-55 44-55 47-57 48-57 48-56 45-55 47-54 43-52 20-26-21 7-61 34-56 52-57 61-56 56-45 53-44 53-43 54-39 56-35 55-28 40-16 23 13 2 42-32 53 M2617 5970l-70 58-69 59-70 59-70 60-67 53-60 20-25-33 11-74 37-65 56-67 70-69 70-59 71-58 69-57 68-46 71-43 71-37 58-27 38 11 6 53-47 74-69 70-78 60-71 58 M2447 6035l-55 49-54 44-50 19-21-24 10-60 34-53 46-53 54-51 52-45 53-45 54-47 56-41 58-36 56-28 40-15 20 17-4 46-39 57-51 51-55 42-51 42-50 42-50 44-53 45 M2410 5993l-35 29-34 30-31 18-25 1-5-30 10-34 23-33 34-36 37-34 37-29 36-29 34-25 34-21 34-19 31-14 22-5 10 19-10 30-28 36-34 29-35 29-34 29-35 29-36 30 M2851 5579l-10 32-28 37-36 30-37 31-37 30-36 30-36 30-37 31-37 33-36 22-30 4-5-32 12-38 29-38 38-38 39-35 38-30 37-31 36-28 36-23 37-19 31-14 22-4 10 20 M2603 5901l-54 45-53 44-53 44-55 48-55 45-52 21-25-22 8-60 34-55 48-55 56-54 54-47 56-48 57-48 58-41 58-34 53-25 39-13 21 15 0 44-33 55-50 51-57 45-55 45 M2351 6081l-39 35-38 22-30 2-5-34 13-41 30-39 39-41 42-37 41-33 40-34 40-30 38-25 41-21 33-15 23-3 10 22-11 34-30 39-38 33-39 33-40 33-40 34-40 33-40 33 M2353 6049l53-63 64-63 66-56 66-55 66-53 62-41 63-37 64-32 53-25 37 8 10 46-40 67-63 65-73 56-68 56-66 55-67 57-68 59-70 60-66 52-56 17-20-35 14-75 39-63 M2697 5883l-49 41-49 41-49 41-49 40-48 42-48 38-45 17-22-19 6-53 28-48 44-49 52-49 49-42 49-39 48-38 46-32 47-27 45-23 36-15 22 10 5 34-27 46-41 44-50 40 M2154 6348l22-58 43-55 55-55 55-50 54-44 54-45 53-41 54-35 56-31 46-21 33-6 16 29-14 47-42 55-53 47-56 45-55 47-56 47-56 46-56 47-56 50-53 31-40 1-4-51 M2747 5819l-54 55-61 47-56 46-56 46-54 45-55 46-56 49-58 48-55 23-29-20 5-61 33-56 50-59 62-59 59-50 60-50 60-50 60-42 60-35 57-28 43-16 23 15 0 47-38 59 M2691 5750l38-17 25-3 9 27-14 40-35 44-42 37-43 36-44 36-44 38-44 37-45 37-45 40-43 26-35 3-4-40 18-48 36-45 46-45 45-39 43-35 42-37 44-35 45-30 47-27 M2502 5864l59-50 59-45 59-38 61-34 51-23 36-6 15 34-18 53-48 60-58 50-59 48-59 49-59 50-59 50-59 49-59 52-56 33-43 2-6-53 21-60 44-58 57-60 61-54 60-49 M2596 5806l51-30 47-22 34-12 20 13 2 37-29 48-43 46-51 41-49 41-50 41-50 42-50 43-53 46-52 43-47 17-19-24 12-59 34-51 44-50 51-48 48-41 49-43 50-42 51-36 M2341 6298l-69 41-56 4-9-64 25-75 55-72 72-75 75-69 76-63 76-65 75-56 73-46 72-36 58-23 40-4 19 39-16 60-52 71-69 61-74 62-76 63-75 62-74 61-72 59-74 65 M2434 6137l-69 59-68 55-65 25-32-28 8-74 40-69 61-70 73-71 72-61 72-60 72-60 73-52 75-45 74-38 57-25 36 15 5 56-46 75-69 71-80 62-76 61-73 60-71 57-69 57 M2677 5844l5-36 21-34 31-34 35-33 32-27 33-28 33-28 34-24 33-20 31-14 22-7 12 9 1 24-17 31-26 29-33 27-33 28-34 29-34 28-33 27-33 28-33 26-32 13-15-14 M2678 5925l35-16 23-4 10 23-13 35-33 41-39 33-40 32-38 31-37 32-38 31-38 32-38 35-36 21-28 1-3-34 14-39 28-38 37-38 38-34 38-32 38-33 39-30 40-26 41-23 M2685 5651l43-36 43-36 43-30 43-24 39-18 28-10 15 12 1 32-23 39-35 38-41 33-41 36-43 37-44 36-43 36-42 36-41 31-37 13-17-19 6-45 24-41 35-42 44-42 43-36 M2696 5785l-44 35-42 36-43 36-44 37-43 36-44 39-43 34-39 14-16-21 9-49 28-43 38-42 44-41 41-34 41-34 40-33 39-27 41-24 39-20 32-14 21 7 5 29-23 40-37 39 M2331 5976l45-46 47-41 45-36 44-38 44-32 43-28 44-23 37-17 26-5 12 25-13 38-35 44-42 37-44 36-43 36-43 37-45 38-46 39-47 42-44 27-34 2-4-42 18-47 35-46 M2647 5803l26-12 19-4 8 16-9 26-24 31-30 25-30 24-29 24-28 23-29 24-29 25-29 26-28 17-22 2-4-26 11-30 22-29 28-29 31-28 29-23 29-25 29-22 29-18 30-17 M2554 5903l-38 30-37 34-35 21-28 2-4-34 14-39 28-36 37-38 38-34 37-30 37-32 37-28 37-24 38-21 32-15 22-3 10 21-11 32-29 38-36 31-38 31-37 31-37 31-37 32 M2711 5896l-67 54-65 53-65 55-65 55-67 57-69 62-65 40-51 4-7-61 26-70 52-67 68-68 69-61 66-53 65-54 63-48 64-42 68-37 58-28 41-9 19 36-19 58-54 68-65 56 M2277 6011l29-24 28-24 29-21 27-18 29-15 24-11 17-3 8 16-8 24-22 29-28 24-29 23-28 23-28 24-28 23-28 23-28 25-27 16-21 2-3-25 10-29 20-27 28-29 29-26 M2264 6097l49-64 63-64 65-59 64-53 65-55 65-52 67-45 70-39 59-27 38-5 14 41-24 60-55 68-64 55-64 52-63 54-65 55-66 56-65 54-66 58-60 35-46 1-5-59 24-67 M2089 6217l35-57 51-57 60-55 55-47 55-45 55-46 56-40 58-36 56-28 42-18 25 14 1 43-34 56-50 53-58 46-57 47-56 48-57 47-56 47-57 48-56 46-53 20-24-24 9-62 M2395 6212l-48 40-48 42-45 27-38 4-9-41 14-48 34-47 49-52 52-47 52-43 52-43 51-40 52-33 53-29 44-19 28-3 9 32-18 46-41 51-49 42-49 39-48 41-48 41-49 40 M2343 6137l49-43 48-39 46-38 45-33 45-29 46-25 39-17 25-3 8 27-16 42-37 45-42 36-42 34-42 37-44 39-46 39-46 39-45 39-41 23-32 1-7-39 13-44 32-44 44-47 M2442 6019l57-50 59-47 61-41 65-37 54-26 39-8 17 34-16 54-50 64-62 52-63 52-62 51-61 50-61 50-61 52-64 57-60 37-46 3-3-58 28-67 52-62 61-60 59-53 57-47 M2493 5765l35-29 35-29 34-28 33-23 34-19 32-15 24-10 15 7 2 25-19 33-30 31-34 28-34 28-34 30-35 30-37 31-38 34-38 31-34 13-15-17 8-42 25-37 33-37 38-35 M2296 5946l51-45 50-42 50-43 51-38 50-33 51-27 43-19 29-5 14 28-14 44-40 51-49 43-52 41-50 41-49 42-50 41-49 41-51 46-48 29-38 2-4-45 18-52 38-49 49-51 M2463 6058l-12-12 4-32 18-27 24-28 29-28 27-24 29-24 29-24 28-20 29-17 27-12 20-8 12 7 2 21-16 27-25 27-30 23-29 24-28 23-28 23-28 23-28 24-28 23-26 11 M2198 6125l19-57 38-53 52-57 58-54 59-50 61-53 61-47 61-39 63-35 54-24 37-7 17 34-19 56-53 64-63 52-62 49-59 48-57 47-56 48-57 47-57 51-52 30-40 0-5-50 M2933 5743l-27 47-43 46-52 40-50 41-49 40-48 39-46 38-45 38-45 36-41 15-18-21 8-51 28-44 39-46 47-44 44-38 45-39 47-39 46-33 49-30 47-23 36-16 23 9 5 35 M2702 5713l37-21 31-15 22-4 10 19-10 31-27 36-34 30-36 30-36 31-37 31-37 30-35 27-32 28-29 15-23 0-4-30 10-33 24-33 33-34 35-32 35-28 34-29 34-26 35-23 M2590 5865l31-21 30-15 23-8 13 2 4 18-8 24-20 28-26 23-29 24-29 24-29 23-27 21-26 22-28 24-27 18-25 5-6-23 10-29 22-29 29-30 29-26 29-25 30-26 30-24 M3077 5432l6 9 4 12 2 13-1 14-3 15-6 16-7 17-10 17-12 16-14 16-15 16-16 15-17 13-18 12-19 11-18 9-18 7-18 4-17 3-15 1-14-2-13-4-11-6-8-8-6-9-4-12-2-13 1-14 3-15 6-16 7-17 10-17 12-16 14-16 15-16 16-15 17-13 18-12 19-11 18-9 18-7 18-4 17-3 15-1 14 2 13 4 11 6 8 8 M3136 5417l6 11 5 12 1 13-1 15-3 16-6 17-8 17-10 18-13 17-14 17-16 16-17 16-18 14-19 13-19 11-20 9-19 7-18 5-18 3-16 1-15-2-13-4-11-6-9-9-6-10-5-12-1-14 1-14 3-16 6-17 8-17 10-18 13-17 14-17 16-17 17-15 18-14 19-13 19-11 19-9 20-8 18-5 17-2 17-1 15 2 13 4 11 6 9 8 M3116 5421l5 8 4 10 1 12-1 12-3 14-4 14-7 14-9 15-10 14-12 15-13 13-15 13-15 12-16 11-16 9-16 8-16 6-15 4-15 2-14 1-12-2-11-3-9-5-8-7-5-9-4-10-1-11 0-13 3-13 5-14 7-15 9-14 10-15 12-14 13-14 14-13 16-12 15-10 17-9 16-8 16-6 15-4 15-3 13 0 13 1 11 4 9 5 8 7 M3077 5458l6 9 4 12 2 12-1 14-3 15-6 16-7 17-10 16-12 17-13 16-15 15-16 15-18 13-17 12-19 10-18 9-18 7-17 5-17 2-15 1-14-2-12-4-11-6-8-7-6-10-4-11-2-13 1-14 3-15 5-16 8-16 10-17 12-16 13-16 15-16 16-14 17-14 18-12 18-10 19-9 17-7 18-4 16-3 16-1 14 2 12 4 11 6 8 8 M3110 5449l5 9 3 9 2 11-1 13-3 13-4 13-7 14-8 15-11 14-11 14-13 13-14 13-15 11-15 11-16 9-16 7-15 6-15 4-14 2-14 1-12-2-10-3-9-5-8-7-5-8-4-10-1-11 1-12 3-13 4-14 7-14 8-14 10-14 12-14 13-14 14-12 15-12 15-10 16-9 15-8 16-5 15-5 14-2 14 0 12 1 10 3 9 6 8 6 M3081 5442l5 8 4 10 1 10-1 12-2 13-5 14-7 13-8 14-10 14-11 14-13 13-14 13-14 11-15 10-16 9-15 7-15 6-15 4-14 2-13 1-12-2-11-3-9-5-7-6-5-9-3-9-2-11 1-12 3-13 4-13 7-14 8-14 10-14 11-14 13-13 14-12 14-12 16-10 15-9 15-7 16-6 14-4 15-2 13-1 11 2 11 3 9 5 7 7 M3068 5448l6 9 3 9 2 11-1 12-3 13-5 14-6 14-9 14-10 14-11 14-13 13-14 12-14 12-16 10-15 9-16 8-15 5-15 5-14 2-13 0-12-1-11-3-9-5-7-7-6-8-3-10-1-11 0-12 3-13 5-14 6-14 9-14 10-14 11-14 13-13 14-12 15-12 15-10 15-9 16-7 15-6 15-4 15-3 13 0 12 1 10 4 9 5 7 6 M2264 6120l7 8 5 11 2 12 1 14-2 15-4 16-6 18-9 18-10 18-12 19-13 18-15 17-15 16-17 15-17 14-17 12-17 10-17 8-16 6-15 3-14 1-12-1-11-4-9-6-7-8-4-10-3-13 0-13 1-16 4-16 7-18 8-18 10-18 12-18 13-18 15-18 16-16 16-15 17-14 17-12 17-10 17-8 16-6 15-3 14-1 12 1 11 4 9 6 M2287 6076l7 8 5 10 3 12 0 14-2 16-4 16-6 18-8 18-11 18-11 19-14 18-15 17-15 16-17 16-17 13-17 12-17 11-17 8-16 5-15 4-14 1-12-2-11-3-9-6-7-9-5-10-3-12 0-14 2-15 4-17 6-18 8-18 11-18 11-18 14-18 15-18 15-16 17-15 17-14 17-12 17-10 17-8 16-6 15-3 14-2 12 2 11 4 9 6 M2295 6121l6 8 5 10 3 12 0 13-2 15-4 16-6 17-8 17-9 18-12 17-13 18-14 16-15 16-16 15-16 13-17 12-16 9-16 8-16 6-14 3-13 1-12-1-11-4-8-6-7-8-5-10-2-11-1-14 2-15 4-16 6-16 8-18 10-17 11-18 13-17 14-17 15-16 16-14 16-14 17-11 16-10 16-7 16-6 14-3 14-1 12 1 10 4 9 5 M2309 6059l7 9 6 11 2 13 1 15-2 17-4 17-7 19-9 19-11 20-12 20-15 19-16 18-16 18-18 16-18 15-19 13-18 11-18 8-17 6-16 4-15 1-13-1-12-4-10-7-7-9-5-11-3-13 0-15 2-16 4-18 7-18 8-20 11-19 13-20 14-19 16-19 17-18 18-16 18-15 18-12 18-11 18-9 18-6 16-4 15-1 13 2 11 4 10 6 M2279 6097l7 8 5 10 3 12 0 14-2 15-4 16-6 17-8 18-10 18-12 18-13 18-14 17-16 16-16 15-17 13-16 12-17 10-17 8-15 6-15 3-14 1-12-1-11-4-9-6-6-8-5-10-3-12 0-14 2-15 4-16 6-17 8-18 10-18 12-18 13-18 14-17 16-16 16-15 16-14 17-11 17-10 17-8 15-6 15-3 14-1 12 1 11 4 8 6 M2242 6130l5 6 3 8 2 9 1 10-2 11-3 12-4 13-6 13-8 13-8 14-10 13-11 13-11 12-12 11-13 10-12 8-13 8-12 6-11 4-11 2-11 1-9-1-7-3-7-4-5-6-4-8-1-9-1-10 2-11 3-12 4-13 6-13 7-13 9-14 10-13 11-12 11-12 12-11 12-10 13-9 12-8 13-5 11-5 11-2 10-1 9 1 8 3 7 4 M2395 5866l37-130 74-111 93-93 130-74 148-46 130-9 111 28 37 64-18 56"/></g>
</g>
<g clip-path="url(#c_III_c)">
<g transform="scale(0.1)"><path fill="#5AA4D6" stroke="none" d="M527 7701l19-31 26-30 31-32 35-37 39-39 39-37 38-32 38-31 37-31 38-32 38-32 37-30 38-28 37-25 38-23 39-22 38-20 35-16 29-13 26-10 19 3 13 22 7 34-4 35-17 31-27 31-32 31-35 32-39 31-39 32-38 31-37 31-38 32-37 31-38 32-38 31-37 31-38 32-38 31-38 35-39 35-36 25-35 11-34 2-23-11-9-29 2-41z"/><path stroke-width="8.5" d="M940 7381l-64 52-63 53-59 47-55 8-26-33 8-66 36-49 55-57 66-63 64-52 61-48 57-45 55-35 54-31 52-25 42-18 28 14 10 47-27 43-46 47-59 50-61 53-64 54-64 54 M927 7535l4 41-25 38-40 39-50 40-49 41-49 40-48 40-48 40-48 41-46 37-43 7-18-26 10-53 31-39 42-42 48-46 45-37 44-37 45-38 45-32 46-28 46-23 35-16 23 13 M960 7439l63-52 62-51 62-44 64-39 63-32 47-19 25 22 0 59-39 52-54 52-63 51-62 53-63 54-64 54-64 53-62 53-59 45-54 8-26-33 8-65 34-49 54-56 65-63 63-53 M1362 7245l-65 55-65 54-65 53-64 52-62 51-63 57-60 30-49-6-9-57 22-59 48-52 63-64 66-60 65-52 64-54 64-48 62-41 65-34 53-24 37-5 18 46-15 54-48 51-62 53 M544 7635l62-61 59-52 62-53 63-54 65-47 65-38 61-29 44-16 24 24 0 58-39 52-55 52-64 51-61 52-61 52-63 54-65 55-66 59-65 52-57 8-22-38 17-72 41-53 55-56 M892 7411l24-10 13 12 0 31-21 27-29 26-32 27-31 26-32 26-31 27-33 28-33 28-31 25-29 5-12-18 7-35 20-26 27-29 32-31 31-26 31-27 32-27 32-23 33-20 32-16 M1047 7371l31-13 19 14 2 38-25 35-37 36-45 36-42 36-44 36-43 37-44 36-45 39-43 35-41 8-18-23 6-47 27-36 39-41 46-44 44-36 43-36 43-35 43-30 43-25 41-20 M715 7508l56-48 57-50 59-50 59-41 57-32 53-24 43-17 32 12 16 46-24 44-49 51-69 55-69 56-66 53-64 52-63 52-66 58-67 55-61 13-22-39 21-76 49-56 58-56 60-58 M473 7724l24-33 35-36 42-41 40-34 40-33 40-33 40-29 42-25 41-21 31-14 19 13 2 38-25 34-37 35-43 35-42 34-41 34-41 34-40 33-41 35-39 32-37 7-17-22 7-43 M739 7570l9-30 25-27 34-35 36-31 33-26 33-27 32-25 32-21 34-19 29-13 21-4 11 23-6 27-24 27-33 28-35 30-37 30-35 28-33 26-32 25-30 27-31 15-26-1-7-27 M763 7634l-51-8-5-64 26-64 51-54 64-68 68-62 69-57 68-58 68-51 66-41 67-35 57-26 42-9 24 46-14 57-52 57-70 59-73 58-70 56-67 56-66 55-67 56-70 63-65 34 M1169 7058l10 27-10 32-28 30-35 31-38 31-37 32-39 33-39 34-41 34-42 39-39 20-31-5-3-38 17-39 33-34 40-40 41-36 39-31 38-33 38-28 37-23 37-20 31-14 21-2 M986 7254l36-27 35-22 36-19 30-14 21-3 10 26-9 31-27 29-34 30-37 30-36 31-37 31-38 32-38 32-40 37-38 20-30-4-4-36 16-37 30-32 40-39 39-35 38-30 37-31 M881 7580l-69 57-71 63-71 58-66 15-30-38 14-77 46-59 63-64 72-68 68-57 67-55 66-54 64-43 62-34 57-25 43-16 27 19 8 54-31 48-52 52-65 54-67 56-67 57-68 57 M713 7560l20-28 31-33 37-37 37-32 38-32 38-32 38-27 39-22 37-18 27-11 15 14 0 35-24 32-34 31-39 31-37 30-36 29-35 29-34 29-36 31-35 28-34 8-16-18 3-37 M925 7563l-74 60-72 60-72 63-72 57-68 14-31-38 12-78 44-60 64-66 75-73 72-61 72-61 74-62 74-53 76-45 72-35 53-22 31 25 4 67-43 61-65 61-77 63-75 62-74 61 M1205 7176l11 34-13 38-34 36-43 36-44 37-44 36-43 36-43 36-43 35-44 40-41 21-33-5-5-40 16-40 33-35 42-44 45-41 43-35 44-38 45-34 44-29 45-25 37-16 25-3 M937 7347l-46 38-46 39-48 43-46 24-35-5-4-44 19-45 36-38 46-47 46-42 46-39 47-41 48-38 48-30 48-25 38-16 26-2 12 35-12 39-35 38-45 39-49 40-47 39-47 38 M842 7318l44-33 43-28 46-25 39-19 29-6 14 32-11 39-36 38-45 39-47 38-46 37-45 37-44 38-45 37-45 41-43 21-33-5-5-41 16-42 34-37 44-45 46-42 45-36 45-38 M732 7737l14-44 35-40 48-51 53-49 53-43 53-45 52-38 50-31 52-27 42-19 31-5 14 37-13 44-41 43-52 43-52 42-51 41-48 40-48 39-48 40-49 44-47 25-39-3-9-43 M1073 7364l38-14 20 23-2 55-34 47-49 46-57 46-55 47-56 47-57 48-57 47-59 52-59 48-56 13-27-29 9-63 36-49 54-54 62-59 58-49 57-48 58-50 60-42 60-36 56-26 M1316 7266l32-13 19 14 2 39-26 36-39 36-45 36-43 36-43 35-42 36-43 36-44 38-42 34-40 7-17-23 8-46 25-35 37-39 44-43 43-36 43-36 43-36 43-30 43-25 42-21 M1244 7240l51-24 31 18 2 59-40 55-60 54-67 53-62 52-62 53-64 54-65 56-66 57-62 48-54 7-21-38 12-68 37-50 52-56 64-62 62-53 63-51 62-51 61-42 63-38 63-33 M937 7520l-26-2-5-31 12-31 25-28 33-34 35-32 35-30 36-31 36-28 37-25 38-21 33-15 22-4 10 28-12 33-31 32-38 31-38 30-35 28-34 27-32 27-33 28-35 31-33 17 M840 7482l47-21 35-14 21 17 1 46-29 41-45 41-52 42-50 41-48 39-47 39-47 39-49 43-48 39-46 10-22-24 7-52 28-39 42-44 49-49 49-43 51-43 51-43 51-35 51-30 M1187 7333l41-26 42-23 36-16 25-5 13 30-10 36-33 35-42 35-44 36-42 34-42 34-40 33-40 33-40 37-39 20-31-4-5-37 14-38 31-33 39-41 42-38 41-34 42-36 42-32 M993 7538l-63 51-62 54-63 50-60 14-31-30 6-67 37-52 57-59 68-66 66-55 65-54 65-54 65-46 66-38 62-30 46-19 27 22 4 58-37 53-56 53-67 55-66 54-65 54-64 52 M686 7646l48-51 52-48 52-42 52-43 50-38 49-30 50-26 40-18 30-4 14 35-11 42-37 40-48 42-52 43-51 42-51 42-50 41-49 40-49 44-46 22-37-5-7-44 16-45 35-39 M1131 7340l-50 44-52 44-53 45-55 49-58 49-57 47-56 50-50 23-37-11-3-52 19-51 39-43 52-55 56-52 57-47 57-48 56-42 55-35 55-29 45-19 29-1 10 43-17 48-42 43 M785 7400l28-28 28-25 28-22 27-24 27-21 28-18 28-15 23-10 15-1 6 21-8 23-21 22-25 22-28 23-27 23-27 22-27 23-28 23-28 26-27 14-22-3-3-25 11-27 22-23 M939 7276l48-41 48-36 47-31 50-27 41-19 30-6 15 35-10 41-36 39-47 41-51 43-51 43-52 43-52 43-50 41-49 43-45 21-33-10-2-47 20-46 37-39 47-48 48-44 47-39 M802 7459l35-35 41-40 38-32 39-33 39-32 39-27 38-22 37-17 27-12 18 12 3 34-21 31-33 32-41 33-41 33-39 32-38 31-38 31-38 34-39 32-38 9-18-19 6-42 24-33 M693 7607l-50 25-39-9-3-52 23-52 43-44 53-53 53-48 52-42 51-43 51-39 51-33 53-30 45-21 32-5 16 37-12 44-38 42-51 44-55 46-55 46-55 46-55 46-55 45-55 50 M1323 7302l-46 43-53 43-51 42-50 42-50 42-51 42-51 45-50 39-46 9-21-27 8-54 30-41 45-46 53-51 51-41 49-41 48-39 48-34 50-30 50-26 40-19 25 14 3 46-31 42 M640 7591l62-66 75-73 73-62 74-62 73-60 72-49 72-42 71-35 55-24 33 22 5 66-43 61-66 61-78 62-73 61-72 60-73 61-74 63-75 66-74 58-66 12-28-42 13-79 44-59 M983 7421l-33 27-33 27-33 28-33 28-31 25-29 5-13-18 4-34 19-26 27-29 33-33 33-28 34-28 33-27 33-23 33-20 33-16 26-12 15 10 2 31-20 28-31 29-35 28-34 28 M1089 7530l-54 44-52 43-51 42-53 48-52 27-40-5-4-50 25-53 46-44 53-52 51-44 47-38 47-41 48-39 51-35 52-29 43-19 28-3 13 37-11 41-35 40-47 42-52 44-53 44 M731 7464l16-23 25-25 28-28 29-24 28-24 28-24 29-20 29-17 27-13 21-8 11 10 1 26-17 23-24 23-30 24-28 23-28 24-28 23-28 24-28 24-28 22-25 4-12-14 4-30 M1437 7027l5 7 3 9 1 10 0 10-3 12-4 12-6 12-7 12-9 13-10 12-12 12-12 11-13 10-13 9-14 8-14 6-13 5-13 4-13 2-12 0-10-1-9-3-8-4-7-6-4-7-3-9-2-10 1-10 2-12 4-12 6-12 8-12 9-13 10-12 11-12 12-11 13-10 14-9 13-8 14-6 14-5 13-4 12-2 12 0 11 1 9 3 8 4 6 6 M1450 6996l6 9 4 12 2 13-1 14-3 15-6 16-7 16-10 17-12 16-14 17-15 15-16 15-17 13-18 12-18 11-19 9-18 6-17 5-17 3-15 0-14-1-13-4-10-6-9-8-6-10-4-11-2-13 1-14 3-15 6-16 7-17 10-16 12-17 14-16 15-15 16-15 17-14 18-12 18-10 19-9 18-7 17-5 17-2 15-1 15 2 12 4 11 6 8 8 M1444 7034l5 8 3 9 1 11-1 11-2 12-5 13-6 13-8 14-9 13-11 13-12 13-13 12-14 11-15 9-15 9-14 7-15 5-14 4-14 2-12 1-11-2-10-3-9-4-7-7-5-8-3-9-1-10 0-12 3-12 4-13 7-13 8-13 9-14 11-13 12-12 13-12 14-11 15-10 14-8 15-7 15-6 14-4 13-2 13 0 11 1 10 3 9 5 7 6 M1480 6977l7 10 4 12 2 14-1 14-4 16-5 17-8 17-11 17-12 18-14 16-16 17-17 15-18 14-19 13-19 11-19 9-19 7-18 5-17 3-16 0-15-2-13-4-11-6-9-8-6-10-5-12-1-13 1-15 3-16 6-17 8-17 10-17 12-17 14-17 16-16 17-16 18-14 19-12 19-11 19-10 19-7 18-5 18-2 16-1 14 2 13 4 11 6 9 8 M1433 6967l6 9 4 11 1 12-1 13-3 14-5 15-7 15-9 15-11 15-13 16-14 14-15 14-16 12-16 11-17 10-17 8-17 6-16 5-16 2-14 1-13-2-12-3-9-6-8-7-6-9-4-11-1-12 1-13 2-14 6-15 7-15 9-15 11-16 12-15 14-14 15-14 16-12 17-11 17-10 17-8 17-6 16-5 15-2 15-1 13 2 11 3 10 6 8 7 M1455 7021l5 9 4 10 2 12-1 13-3 14-5 15-7 15-9 15-11 16-13 15-14 14-15 13-15 13-17 11-17 10-17 8-16 6-17 4-15 3-14 0-13-1-12-4-9-5-8-7-6-9-4-11-1-12 1-13 3-14 5-14 7-16 9-15 11-15 12-15 14-14 15-14 16-12 17-12 16-9 17-8 17-7 16-4 15-2 15-1 13 2 11 3 10 6 8 7 M1439 6978l7 10 4 12 1 13 0 14-4 15-5 16-8 17-10 17-12 16-13 17-16 15-16 15-17 14-19 12-18 11-19 8-18 7-17 5-17 3-16 0-14-1-13-4-10-6-9-8-6-10-4-11-2-13 1-15 3-15 6-16 8-17 10-16 11-17 14-16 15-16 17-15 17-14 18-12 19-10 18-9 18-7 18-5 17-3 16 0 14 2 12 3 11 6 8 8 M595 7682l7 8 4 9 3 11 0 13-2 14-3 15-6 16-8 17-9 17-11 17-12 16-14 16-14 15-15 14-16 13-16 11-15 9-16 7-14 6-14 3-13 1-11-2-10-3-8-6-7-7-4-10-3-11 0-13 2-14 3-15 6-16 8-16 9-17 11-17 12-17 14-16 14-15 15-14 16-12 15-11 16-9 16-8 14-5 14-3 13-1 11 1 10 3 8 6 M568 7710l5 6 4 8 1 9 1 10-2 11-3 12-4 13-6 14-8 13-8 14-10 13-11 13-12 12-12 11-13 10-12 9-13 8-12 5-12 5-11 2-10 1-9-1-8-3-7-4-5-6-4-8-2-9 0-10 1-12 3-12 5-13 6-13 8-13 8-14 10-13 11-13 12-12 12-11 12-11 13-8 13-8 12-6 12-4 11-3 10 0 9 1 8 2 7 5 M599 7672l8 10 6 12 3 15 1 16-3 18-4 20-8 20-9 22-12 21-14 22-16 21-17 21-19 19-19 18-20 16-21 14-20 12-20 9-18 7-18 4-17 2-14-2-13-4-11-8-8-9-5-12-4-15 0-16 2-18 5-20 7-21 10-21 12-21 14-22 16-21 17-21 19-19 19-18 20-16 20-14 20-12 20-10 19-6 18-5 16-1 15 2 13 4 10 7 M560 7705l6 8 5 9 2 11 0 12-1 13-4 15-5 15-8 16-9 16-10 16-12 16-13 15-13 15-15 13-15 12-15 11-15 8-15 7-14 5-13 3-12 1-11-1-9-3-8-5-6-8-5-9-2-10 0-13 1-13 4-15 5-15 8-16 8-16 11-16 12-16 13-15 13-14 15-14 15-12 15-10 15-9 14-7 15-5 13-3 12-1 11 1 9 3 8 5 M553 7707l5 7 4 7 2 10 0 11-1 11-3 13-5 14-6 14-8 14-9 14-10 14-12 13-12 13-13 11-13 11-13 9-13 8-13 6-12 4-12 3-10 1-10-1-8-3-7-5-6-6-3-8-2-9-1-11 2-12 3-13 5-13 6-14 8-14 9-14 10-14 12-13 12-13 12-12 13-10 14-10 13-7 13-6 12-5 12-3 10 0 10 1 8 3 7 4 M611 7641l8 9 5 11 3 12 0 15-2 17-4 17-7 19-8 19-11 19-13 20-14 19-15 18-17 17-18 16-18 15-18 13-18 10-18 9-17 6-16 4-14 1-13-2-12-4-9-6-8-9-5-11-3-13 0-14 2-17 4-17 7-19 8-19 11-19 13-20 14-19 16-18 16-18 18-16 18-14 18-13 18-11 18-8 17-6 16-4 14-1 14 1 11 4 9 7 M770 7416l37-169 94-151 132-94 151-47 151-6 113 25 47 65"/></g>
</g>
<g clip-path="url(#c_III_d)">
<g transform="scale(0.1)"><path fill="#5AA4D6" stroke="none" d="M2174 7706l23-35 34-37 37-38 36-38 38-37 37-36 37-32 37-30 37-31 37-31 37-31 38-31 37-31 37-32 37-29 37-28 38-26 35-21 35-20 33-15 24-4 14 15 6 26-4 31-17 34-27 38-31 38-35 37-38 38-39 36-37 32-37 30-37 31-37 31-37 31-37 31-37 30-37 31-37 31-37 33-37 33-37 27-40 22-40 16-30 1-16-20-6-33z"/><path stroke-width="8.5" d="M2451 7552l11 24-13 37-34 43-40 42-42 38-41 34-42 35-42 36-42 35-42 37-43 27-39 9-13-30 16-40 40-42 41-43 43-39 43-34 41-34 42-36 42-34 42-31 40-24 32-10 M2210 7794l-60 55-66 44-62 19-24-40 22-59 62-64 65-64 64-57 61-49 59-49 60-51 61-52 65-47 60-36 47-16 14 36-21 57-51 64-61 61-61 54-59 48-58 48-58 49-59 49 M2687 7225l26-9 10 18-7 28-24 34-33 35-36 33-37 29-35 29-34 28-34 27-33 29-36 23-33 9-11-24 13-33 33-35 35-35 34-31 34-28 34-28 35-30 34-28 34-24 31-17 M2966 7155l2 37-28 46-42 49-50 47-49 41-48 39-47 39-47 39-46 40-47 38-51 24-31-10-1-44 34-45 45-48 49-48 48-41 50-41 49-40 48-41 48-36 46-29 43-22 25 6 M2586 7400l35-28 34-23 31-17 24-7 9 19-10 30-26 34-33 34-34 32-34 28-35 30-36 30-36 32-37 33-38 24-32 6-9-28 16-35 35-36 34-36 35-32 35-29 36-30 36-31 M2729 7406l32-24 31-19 24-8 7 18-11 29-25 32-29 30-29 28-31 25-31 27-32 27-32 26-30 26-30 18-28 7-11-21 9-28 29-32 32-32 33-29 32-25 30-24 29-25 31-26 M2463 7711l-59 49-59 53-61 39-55 13-16-44 26-58 58-60 59-59 58-51 55-46 56-46 56-48 57-49 61-44 58-36 48-18 18 32-17 51-48 62-60 61-61 54-58 48-58 48-58 49 M2688 7265l39-26 36-19 20 6 0 31-25 39-34 39-39 38-38 33-39 33-40 34-40 34-40 34-39 30-42 20-26-9-2-36 29-38 39-41 43-41 41-34 41-33 38-31 39-33 39-30 M2498 7308l60-54 60-49 59-49 58-48 58-48 59-42 57-34 47-17 17 32-17 52-48 61-59 60-59 54-59 48-58 50-60 50-60 50-58 52-60 37-54 11-17-42 21-56 55-58 58-60 M2285 7744l-72 34-42-13-3-60 48-63 63-67 67-66 67-57 68-56 68-57 68-57 67-52 65-40 58-29 32 12-1 52-40 64-58 67-68 65-65 54-65 54-64 54-64 53-65 55-64 53 M2641 7523l-47 43-46 38-47 38-46 39-47 39-45 40-48 30-43 10-14-32 16-44 44-46 46-48 47-43 47-38 47-39 46-39 47-39 48-35 45-26 37-12 12 26-15 42-38 49-46 47 M2583 7554l-58 48-58 47-57 47-55 49-55 32-44 6-7-47 29-56 53-54 50-50 48-45 49-41 50-44 54-47 54-46 56-41 55-33 47-18 21 26-11 46-42 58-58 60-61 55-60 48 M2400 7712l-57 47-58 50-58 47-64 31-37-13 1-56 47-58 58-59 59-57 57-48 56-47 58-49 58-50 59-46 57-37 51-26 29 11 0 45-33 55-50 58-59 57-58 49-58 48-58 48 M2270 7763l-59 34-54 10-19-42 18-55 54-60 59-63 64-58 65-53 64-52 63-53 64-53 67-49 65-40 52-19 17 37-22 60-55 69-65 65-64 58-63 52-63 54-65 54-63 52-60 52 M2785 7450l-30 25-30 25-30 26-31 20-27 6-9-21 11-29 28-30 30-30 30-28 30-24 30-25 30-25 30-25 30-22 29-17 24-8 8 17-9 26-24 31-30 31-30 27-30 25-30 25 M2515 7390l70-59 71-61 72-56 71-47 67-35 38 10 1 56-44 71-65 73-75 71-71 59-70 58-70 60-72 60-73 65-74 60-79 38-43-20 3-71 59-72 72-73 72-70 70-59 70-58 M2612 7514l-72 61-72 64-75 61-80 38-47-16 1-69 57-73 72-75 76-72 73-61 72-58 70-58 69-57 68-51 66-42 61-32 36 9 4 52-39 65-60 70-71 68-69 59-70 58-70 59 M2575 7434l-54 44-53 44-52 41-58 28-36-11-4-48 37-51 52-55 56-56 57-49 58-47 57-47 56-48 57-42 55-36 52-28 32 6 4 43-33 54-50 59-61 58-58 49-58 46-56 46 M2385 7522l37-45 43-46 45-44 44-38 46-40 48-40 46-39 46-34 43-26 39-19 23 6 3 34-24 43-40 46-48 46-47 39-46 38-46 38-46 39-47 41-47 39-50 22-26-14 4-46 M2339 7680l-26-11 2-43 35-45 44-45 45-42 43-36 43-35 42-36 43-36 43-34 43-28 39-21 22 7 1 34-26 42-38 43-45 42-42 37-43 35-43 37-44 38-45 39-45 36-48 22 M2540 7490l-28 24-28 24-26 21-29 13-15-8 1-26 20-26 26-27 27-27 27-22 27-23 27-23 27-23 29-22 27-19 25-13 14 6-2 23-19 27-24 28-28 26-25 22-26 22-27 23 M2382 7645l-67 41-61 14-21-46 24-63 62-66 65-68 68-62 68-55 67-56 67-55 65-53 64-45 60-33 48-15 18 35-15 54-47 64-61 66-67 61-67 57-70 57-68 57-67 55-65 56 M2638 7523l-59 49-59 49-59 52-59 48-63 29-35-16 1-56 44-57 56-59 59-58 59-50 60-50 60-49 58-49 57-42 56-36 54-29 33 6 6 42-33 57-53 61-64 59-60 51-59 48 M2361 7421l73-61 75-63 75-63 73-60 71-48 64-34 50-14 17 41-19 60-54 72-69 71-73 65-71 57-70 58-69 57-70 60-73 67-79 52-72 21-24-51 28-71 72-75 72-74 73-67 M2783 7214l27 8 0 39-31 50-45 51-52 50-50 41-49 41-50 42-51 44-51 45-53 43-57 28-33-13 1-49 41-51 51-53 54-51 51-43 51-41 50-42 49-42 51-39 50-33 46-25 M2572 7612l-72 47-66 18-22-47 26-65 65-70 68-69 69-62 68-55 67-57 68-56 67-56 68-48 65-38 53-20 22 36-19 59-54 71-70 70-71 62-68 55-66 54-65 54-65 55-68 62 M2827 7271l41-31 39-24 33-16 17 10-2 32-24 38-35 39-39 38-38 32-38 31-37 31-38 31-36 31-36 29-39 17-20-10 1-35 27-35 33-36 35-36 36-32 38-33 41-35 41-36 M2690 7334l55-43 55-35 51-28 30 8 1 43-34 54-49 57-57 54-55 47-55 46-56 48-57 47-56 48-55 44-58 26-33-15 1-52 41-54 54-56 56-55 56-47 56-45 55-46 54-46 M2589 7432l-54 44-53 43-52 43-52 44-52 42-57 28-37-9-5-47 38-51 52-55 57-55 56-46 55-44 53-44 53-44 53-42 55-36 51-28 31 5 3 42-33 53-50 57-58 54-54 46 M3017 7169l-1 57-44 68-61 71-72 69-69 58-69 57-69 57-68 56-67 57-67 55-74 35-44-15-3-63 50-65 65-70 70-69 70-60 71-60 73-61 73-63 73-55 69-44 62-30 32 15 M2596 7334l58-50 58-44 57-36 52-27 30 8 3 44-33 55-50 59-60 58-59 50-60 49-58 48-58 47-56 48-57 45-61 29-36-13-1-54 43-56 56-58 59-57 57-48 58-48 58-49 M2686 7441l-38 31-39 33-38 31-37 29-34 30-35 20-30 5-8-27 14-34 33-35 34-34 35-32 34-28 34-28 34-28 34-28 35-26 35-21 30-13 14 17-7 29-26 36-36 38-38 35 M2336 7609l-46 41-48 31-45 13-14-32 18-44 45-47 45-47 46-41 45-36 45-38 45-38 44-36 44-31 39-22 32-8 10 24-12 38-33 43-41 44-44 40-44 35-44 37-43 36-44 38 M2841 7162l40-32 39-27 37-22 31-10 11 21-10 34-31 40-38 41-41 37-40 33-41 34-41 35-41 34-41 37-43 27-37 8-12-30 16-39 39-42 41-41 41-37 41-34 40-33 40-34 M2550 7447l47-48 49-48 49-40 47-39 47-39 47-39 47-37 47-31 45-24 25 6 1 37-30 48-44 49-50 46-47 39-45 37-45 38-46 39-47 41-48 40-53 26-31-10-1-44 36-47 M2520 7491l-65 55-66 54-65 57-67 42-61 15-19-47 24-62 61-65 64-67 66-60 66-55 67-57 69-58 68-58 70-49 65-39 53-17 18 39-21 60-56 71-68 70-69 61-67 55-67 55 M2569 7536l-49 45-52 35-47 12-13-35 20-48 47-49 48-48 47-43 47-39 47-40 48-39 45-37 45-30 40-22 34-10 14 23-11 38-34 46-46 46-47 43-46 36-45 38-45 38-47 40 M2551 7378l63-54 64-53 62-51 62-42 56-32 45-13 17 34-18 53-49 63-62 63-63 55-60 48-58 47-57 47-57 48-60 54-64 42-59 18-22-40 21-56 56-61 59-61 61-57 63-52 M3080 7014l5 8 3 9 1 10 0 11-3 11-4 13-6 13-8 12-9 13-11 13-11 12-13 11-13 11-14 9-15 9-14 6-14 6-14 3-13 2-12 1-11-1-9-3-8-5-7-6-5-8-3-9-1-10 0-11 3-11 4-13 6-13 8-13 9-12 11-13 11-12 13-12 13-10 14-9 15-9 14-6 14-6 14-3 12-3 13 0 10 1 10 3 8 5 7 6 M3096 6938l7 11 5 13 2 15-1 16-4 17-6 18-9 19-11 19-13 19-16 18-17 18-18 16-20 16-20 13-21 12-21 10-20 8-20 5-19 3-18 1-16-2-14-4-12-7-10-9-7-11-4-13-2-14 1-17 3-17 7-18 9-19 11-18 13-19 15-19 18-17 18-17 20-15 20-14 21-12 21-10 20-8 20-5 19-3 18-1 16 2 14 5 12 6 9 9 M3085 6996l5 8 4 10 1 11-1 12-2 13-5 13-6 14-9 14-10 14-11 14-13 13-14 12-14 12-15 10-16 9-15 7-16 6-14 4-15 2-13 1-11-2-11-3-9-5-7-7-5-8-4-10-1-10 1-12 2-13 5-14 6-14 9-14 10-14 11-13 13-13 14-13 14-11 15-10 16-9 15-8 16-5 14-4 15-3 13 0 11 1 11 3 9 5 7 7 M3118 6956l8 12 5 14 2 16-1 18-4 18-7 20-9 20-12 20-15 21-17 20-18 19-20 18-21 16-22 15-23 13-22 11-23 8-21 6-21 4-19 0-17-2-15-5-13-7-11-10-7-12-5-14-2-15 1-18 4-18 6-20 10-20 12-21 15-20 16-20 19-19 20-18 21-17 22-15 23-12 22-11 22-9 22-5 20-4 19 0 18 2 15 4 13 8 10 9 M3136 6988l7 10 4 11 1 13 0 15-4 15-5 16-8 17-10 17-12 17-14 16-15 16-17 15-17 14-18 12-19 11-19 8-18 7-18 5-17 3-15 0-15-1-12-4-11-6-8-8-7-10-4-12-2-13 1-14 3-15 6-17 8-16 10-17 12-17 14-16 15-16 16-15 18-14 18-12 19-11 18-9 19-7 18-4 16-3 16-1 14 2 13 4 11 6 8 8 M3071 6968l7 9 4 11 1 13-1 14-3 15-5 16-8 16-9 16-12 16-13 16-15 16-16 14-17 13-18 12-18 10-18 9-18 7-17 4-16 3-15 1-14-2-12-4-11-6-8-7-6-10-4-11-2-13 1-14 3-15 5-15 8-16 10-17 11-16 14-16 14-15 17-15 16-13 18-12 18-10 18-9 18-7 17-4 17-3 15 0 14 1 12 4 10 6 8 8 M3107 7005l6 9 3 10 2 12-1 14-3 14-5 15-7 15-10 15-11 16-12 15-14 15-15 13-17 13-16 11-17 10-17 8-17 6-17 5-15 2-15 1-13-2-11-3-10-6-8-7-6-9-4-11-1-12 0-13 3-14 6-15 7-15 9-16 11-15 13-16 14-14 15-14 16-12 17-12 17-9 17-9 17-6 16-4 16-3 14 0 13 1 12 4 10 5 8 8 M2278 7670l7 8 5 10 2 12 1 14-2 15-4 17-6 17-9 18-10 18-11 18-14 18-14 17-16 16-16 15-17 14-17 12-17 10-16 7-16 6-15 4-13 1-13-2-10-3-9-6-7-9-5-10-3-12 0-14 2-15 4-16 6-17 8-18 10-18 12-18 13-18 15-17 15-17 16-15 17-13 17-12 17-10 17-8 15-6 15-3 14-1 12 1 11 4 9 6 M2242 7660l6 7 5 9 2 10 0 13-1 13-4 14-5 16-7 15-9 16-11 16-11 16-13 15-14 14-14 13-15 12-15 11-15 9-14 7-14 5-13 3-12 0-11-1-10-3-7-5-6-7-5-9-2-11 0-12 1-14 4-14 5-15 8-16 8-16 11-16 11-15 13-15 14-15 14-13 15-12 15-10 15-9 14-7 14-5 13-3 12-1 11 1 10 3 7 6 M2226 7705l6 7 4 8 2 10 1 12-2 12-3 14-5 14-7 15-9 15-9 15-11 15-12 15-13 13-14 13-14 11-14 10-14 8-14 7-13 4-12 3-12 1-10-1-9-3-7-5-6-7-4-8-2-10-1-12 2-13 3-13 5-15 7-14 9-15 9-16 11-14 12-15 13-13 14-13 14-11 14-10 14-8 14-7 13-4 12-3 12-1 10 1 9 3 7 5 M2310 7677l8 11 6 13 4 15 0 18-2 19-5 21-8 22-10 23-13 23-15 23-17 23-19 22-19 20-21 20-22 17-21 15-22 13-21 10-20 7-19 4-18 2-15-2-14-5-11-7-9-11-6-13-3-15-1-18 2-19 5-21 8-22 11-23 13-23 14-23 17-23 19-22 20-20 21-19 21-18 22-15 21-13 21-10 20-7 19-4 18-2 16 2 13 5 12 7 M2234 7693l5 6 4 9 2 10 0 11-1 12-3 14-5 14-7 14-8 15-10 15-10 14-12 14-13 13-13 13-14 11-14 9-14 9-13 6-13 5-12 2-11 1-10-1-9-3-7-5-6-6-4-9-2-9 0-12 1-12 3-13 5-15 7-14 8-15 10-15 11-14 12-14 12-13 14-13 13-11 14-9 14-9 13-6 13-5 12-2 12-1 10 1 8 3 8 5 M2317 7679l8 9 5 11 3 14 0 15-2 17-4 18-7 19-9 19-11 20-13 21-15 19-16 19-17 18-18 17-19 15-18 13-19 11-18 9-18 6-16 4-15 1-14-2-12-4-10-6-7-9-5-12-3-13-1-15 2-17 5-18 6-19 9-20 12-20 13-20 14-20 16-19 17-18 18-16 19-15 19-13 18-11 19-9 17-6 17-4 15-1 13 1 12 4 10 7 M2395 7408l56-167 111-149 130-92 148-47 148-5 93 24 37 56"/></g>
</g>
<g clip-path="url(#c_III_e)">
<g transform="scale(0.1)"><path fill="#5AA4D6" stroke="none" d="M508 9251l24-36 34-38 37-38 36-38 39-39 38-36 38-33 38-30 37-31 38-32 37-32 38-30 38-27 37-25 38-24 38-27 38-27 36-22 35-20 32-16 26-3 21 14 14 27 0 31-21 35-36 38-38 39-36 38-39 39-38 36-38 33-38 30-37 31-38 31-37 32-38 31-37 32-37 31-39 31-43 35-45 34-43 26-43 17-41 8-27-4-12-21 2-34z"/><path stroke-width="8.5" d="M1108 8964l33-28 34-27 35-24 38-28 36-23 31-12 19 19-11 32-38 40-38 37-38 34-36 28-35 28-33 27-33 27-38 28-35 17-29 1-4-23 15-31 29-32 32-33 33-30 33-27 M1109 8814l65-54 64-43 64-43 63-41 55-29 38 11 11 49-47 61-61 64-64 63-63 54-65 54-65 54-63 52-67 53-71 47-67 19-33-21 8-55 45-60 59-63 65-63 64-55 65-54 M839 8974l46-37 45-30 46-31 46-31 44-25 31 5 9 36-38 47-48 48-48 46-45 38-45 39-47 40-47 41-53 42-54 36-49 13-22-18 9-43 33-44 43-47 48-46 48-41 48-38 M1013 8969l46-31 46-31 43-23 30 6 8 36-36 46-47 48-48 45-46 39-45 37-46 39-45 39-51 41-54 36-50 15-23-17 9-42 34-45 44-46 46-45 47-40 47-38 46-38 45-31 M939 9005l-30 25-30 25-32 27-36 28-36 18-26 1-1-25 17-30 29-31 28-29 29-27 30-25 30-26 30-23 30-19 30-20 27-16 23-8 15 16-7 25-29 30-30 31-31 28-30 25 M833 8978l53-44 53-45 53-36 54-36 53-35 47-26 35 7 12 40-39 51-52 55-56 55-55 46-56 45-54 44-51 43-56 44-60 40-57 17-28-17 9-48 39-50 50-53 53-52 53-45 M533 9359l40-48 48-49 48-46 46-39 46-39 47-39 47-33 48-33 47-31 42-22 28 8 8 37-37 47-48 48-49 46-46 38-45 37-45 37-44 38-51 42-58 42-55 19-27-15 10-45 M1016 8683l69-52 69-45 69-47 61-36 50-14 29 38-18 58-64 68-66 68-68 62-68 56-68 55-66 54-65 52-75 58-73 37-62 6-12-45 28-61 60-66 66-68 68-62 67-56 69-60 M478 9306l15-63 53-65 64-66 67-63 63-52 62-51 61-50 61-42 62-42 63-43 59-33 44 5 16 46-46 61-63 66-66 65-66 55-66 55-66 55-65 55-72 58-77 52-71 21-32-24 M979 9115l-50 41-49 41-54 44-59 41-57 18-28-15 8-46 38-50 49-51 53-51 51-43 51-43 52-43 51-34 51-35 49-32 45-23 30 8 10 39-38 49-50 51-52 50-51 43-50 41 M599 9211l70-72 71-65 71-58 71-61 72-54 71-47 74-52 68-42 58-20 36 38-19 63-71 75-73 74-74 68-74 60-73 60-72 60-73 60-83 64-80 39-63 2-8-53 35-68 66-71 M1269 8702l-67 71-67 68-68 63-68 56-70 59-70 59-71 60-83 64-79 39-62 2-6-53 35-67 65-71 68-69 69-64 69-57 71-61 71-55 71-47 72-49 64-37 50-14 28 42-22 61 M619 9193l34-68 69-73 72-73 72-65 71-58 71-60 71-54 72-49 75-54 71-44 59-20 35 40-22 64-73 77-74 75-74 66-73 60-73 60-71 60-73 60-84 65-81 40-65 4-9-53 M1161 8828l33-24 32-20 31-21 28-17 25-8 17 16-5 25-29 32-31 33-34 32-35 28-34 28-34 28-34 28-40 32-40 21-33 3-5-25 17-34 34-35 35-35 35-32 34-27 33-28 M942 9080l-29 24-30 25-29 26-34 27-36 25-35 12-16-10 5-28 23-30 29-32 32-30 31-27 32-27 32-27 32-22 33-23 32-21 27-14 18 7 2 27-26 32-33 32-31 29-29 25 M527 9258l-23-14 6-37 31-41 41-43 44-43 44-35 42-34 41-34 40-27 42-29 41-28 37-19 24 8 4 33-33 41-40 41-39 38-39 34-40 35-42 35-42 36-45 37-49 32-45 14 M720 9118l52-54 53-49 54-44 54-45 53-41 54-35 54-38 49-29 42-13 25 29-15 46-51 54-53 55-55 49-54 44-54 45-53 44-53 44-62 47-59 29-48 3-7-38 25-50 49-53 M966 8908l-36 31-37 31-40 32-43 29-39 12-19-13 7-34 28-36 35-37 37-36 37-31 37-30 36-30 36-24 37-26 37-25 34-18 23 5 7 28-29 37-37 38-38 36-36 31-37 30 M1108 8807l26 5 9 31-32 40-41 42-42 40-41 34-40 33-40 35-40 35-46 36-48 33-44 13-20-16 9-38 31-40 38-40 41-40 41-35 41-34 41-34 40-27 40-27 40-26 37-20 M1221 8555l21 28-15 43-47 50-49 49-48 44-48 39-49 41-48 40-48 40-56 43-54 26-43 3-6-35 21-45 44-48 47-49 49-44 49-40 49-42 49-37 49-32 50-35 45-27 38-12 M866 8857l65-45 67-46 66-44 61-33 44 8 14 50-50 65-67 70-70 67-68 56-67 55-66 55-65 54-70 55-74 50-69 19-31-23 12-60 49-62 60-64 64-63 64-55 65-54 66-55 M708 9119l19-38 38-41 40-40 39-35 39-32 39-33 39-31 41-27 42-30 38-24 32-11 20 22-11 35-39 42-41 42-41 37-42 34-41 34-40 33-40 32-45 35-45 22-36 2-5-28 M556 9239l42-53 51-54 54-53 54-47 56-47 56-47 55-37 54-35 51-32 45-22 32 8 13 39-38 51-52 54-55 54-55 47-55 45-55 45-54 46-59 48-64 44-60 17-27-20 11-51 M687 9257l-73 22-32-23 16-62 53-65 63-65 63-61 61-54 63-55 66-56 67-46 66-44 62-40 55-27 40 10 15 47-46 61-62 67-68 65-68 57-67 53-64 53-63 52-70 57-77 54 M771 9110l-69 53-64 30-48-1-5-44 26-54 51-56 54-58 59-54 60-49 59-49 58-43 56-35 58-40 55-34 48-17 28 30-17 52-60 61-59 59-58 52-56 47-57 49-59 50-60 51 M599 9135l63-67 68-68 69-59 69-60 72-61 75-53 76-53 77-52 67-35 43 14 7 62-63 75-76 76-74 70-71 59-68 56-69 57-66 56-74 58-78 53-73 22-35-23 11-62 50-65 M567 9271l-37-18 7-56 47-61 62-66 68-65 66-54 64-52 63-50 60-40 60-39 57-37 50-25 33 11 8 47-45 58-57 58-57 57-57 49-58 49-60 52-61 52-68 55-74 51-71 24 M770 9040l33-27 33-28 33-22 33-22 31-20 27-14 18 6 5 26-24 30-30 32-32 32-32 26-32 27-32 27-32 27-35 28-38 27-37 11-17-10 5-30 25-32 32-34 33-32 33-28 M920 8821l68-55 66-45 68-45 67-45 63-35 47 6 18 50-49 65-67 71-71 71-71 61-73 61-75 64-75 65-83 67-90 62-83 24-36-29 18-73 63-76 75-76 77-72 73-59 70-57 M1226 8716l47-32 45-29 41-21 27 8 9 36-35 44-44 47-47 46-46 40-48 39-48 40-46 39-50 39-51 33-47 11-19-18 9-42 34-43 41-44 44-43 44-39 45-39 47-39 48-33 M755 9208l43-52 54-55 55-51 51-43 51-42 51-44 52-37 54-38 52-34 43-21 28 11 7 41-37 49-48 51-50 50-52 44-53 43-52 43-49 41-55 43-60 41-61 21-31-13 7-48 M1005 9014l-53 45-59 47-63 43-60 19-29-17 8-49 41-53 53-55 56-54 55-46 54-46 54-44 54-36 53-36 52-33 45-23 30 9 8 42-40 51-51 52-52 51-51 44-52 44-53 45 M748 9152l-80 41-63 5-8-52 34-67 66-70 69-69 69-63 67-56 69-59 69-53 70-46 71-50 65-38 52-16 28 40-23 62-69 72-68 68-68 61-66 54-67 56-66 57-69 58-82 65 M963 8848l72-50 74-50 72-49 66-35 47 9 15 56-55 71-71 74-75 73-74 63-75 62-74 62-73 61-80 63-85 58-82 25-38-24 13-69 57-72 73-75 76-73 73-61 73-60 71-59 M964 8867l34-27 32-24 32-21 33-23 32-20 28-11 18 17-9 28-33 35-34 35-34 31-33 28-35 30-35 30-36 30-42 32-39 19-30 0-3-26 17-34 33-35 35-35 35-31 34-28 M998 9106l-70 59-72 61-88 70-86 46-70 7-11-53 33-70 68-74 72-76 75-69 77-64 78-68 78-58 76-49 77-52 70-41 58-19 36 42-23 67-78 80-79 77-77 68-74 58-70 58 M749 9082l-34 2-4-27 17-35 35-38 36-37 38-34 37-31 38-32 37-28 37-24 37-26 34-20 28-9 18 20-10 32-36 38-36 37-37 34-38 31-37 32-38 31-37 31-44 33-41 20 M1097 8897l-26 22-26 21-26 22-26 22-28 23-30 19-27 7-12-9 4-24 18-23 22-25 25-26 27-23 28-24 28-24 28-19 28-18 26-16 23-12 15 5 4 22-21 26-27 28-27 26 M1484 8491l6 10 4 12 2 13-2 15-4 16-6 17-9 18-11 18-13 18-15 17-16 17-18 16-19 15-20 13-20 12-19 10-20 8-19 5-18 4-16 1-15-2-13-3-11-6-9-8-7-10-3-12-2-14 2-15 3-16 7-17 9-18 11-17 13-18 15-18 16-17 18-16 19-15 20-13 19-12 20-9 20-8 19-6 17-3 17-1 15 1 13 4 11 6 9 8 M1356 8556l5 6 2 8 1 9-1 10-2 11-5 11-5 12-8 12-8 11-10 12-11 11-12 11-12 9-13 9-14 8-13 6-13 6-12 3-12 3-11 0-10-1-8-2-8-4-5-5-5-7-2-8-1-9 1-10 2-10 5-12 5-11 8-12 8-12 10-11 11-12 12-10 12-10 13-9 13-8 14-6 12-5 13-4 12-2 11-1 10 1 8 3 8 3 5 6 M1435 8571l5 7 3 9 1 10-1 11-3 13-5 12-7 14-8 13-10 13-11 14-12 12-14 12-14 11-15 10-15 9-14 7-15 6-14 5-14 2-12 1-11-1-10-3-8-4-7-6-5-8-3-9-1-10 1-11 3-12 5-13 7-13 8-14 10-13 11-13 12-13 14-12 14-11 14-10 15-9 15-7 15-6 14-4 14-3 12-1 11 1 10 3 8 5 7 6 M1465 8540l5 8 3 9 1 11-1 12-3 13-5 13-7 14-9 15-10 14-12 14-14 13-14 13-15 12-15 11-16 9-16 8-16 6-15 5-14 2-13 1-12-1-11-3-9-5-7-6-5-8-3-10-1-10 1-12 3-13 5-14 7-14 9-14 11-14 12-14 13-14 14-13 15-12 16-10 16-10 15-7 16-7 15-4 14-3 14-1 12 1 10 3 9 5 7 7 M1450 8518l6 9 4 11 1 12-1 14-4 15-6 15-8 17-10 16-12 16-14 16-15 16-16 14-17 14-18 12-18 11-18 9-18 7-18 5-16 3-15 1-14-1-12-4-10-5-8-7-6-10-3-10-2-13 2-14 3-14 6-16 8-16 10-16 12-17 14-16 15-15 16-15 18-13 17-12 19-11 18-9 18-7 17-5 16-3 15-1 14 1 12 3 10 6 8 7 M1437 8538l6 9 3 10 1 12-1 14-3 14-6 15-8 16-10 16-11 16-14 15-14 15-16 14-17 14-17 11-18 11-18 9-17 6-17 5-16 3-14 1-14-1-11-3-10-5-8-8-6-8-3-11-1-12 1-13 3-15 6-15 8-16 10-15 11-16 13-16 15-15 16-14 17-13 17-12 18-11 17-8 18-7 17-5 15-3 15-1 13 1 12 3 10 6 8 7 M1439 8519l6 10 4 11 1 13-1 15-4 15-6 17-9 17-10 17-13 17-14 17-16 17-18 15-18 14-19 13-19 12-19 9-19 8-18 5-17 3-16 1-15-1-13-4-10-5-9-8-6-10-4-11-1-13 1-15 4-15 6-17 9-17 10-17 13-17 14-17 16-17 18-15 18-14 19-13 19-12 19-9 19-8 18-5 18-3 16-1 14 1 13 4 10 5 9 8 M579 9218l7 9 5 10 3 13 0 14-1 16-5 17-6 18-9 19-10 19-12 19-14 19-16 18-16 17-17 16-17 14-18 12-18 11-17 8-17 6-16 4-14 1-13-2-11-4-9-6-8-8-5-11-2-13-1-14 2-16 4-17 7-18 8-19 11-19 12-19 14-19 15-18 17-17 17-16 17-14 18-12 18-11 17-8 17-6 15-3 15-2 13 2 11 4 9 6 M579 9235l6 8 4 8 3 11 0 12-2 13-3 14-5 15-7 15-9 16-10 15-12 16-12 14-13 14-15 13-14 12-15 10-14 9-14 7-14 5-13 2-12 1-10-1-10-3-7-5-6-7-4-9-2-10-1-12 2-13 3-14 6-15 7-16 8-15 10-16 12-15 12-15 14-14 14-13 14-12 15-10 14-8 15-7 13-5 13-3 12-1 10 1 10 3 7 5 M564 9237l6 6 3 8 2 9 1 10-2 12-3 12-5 14-6 13-7 14-9 14-10 13-12 13-11 13-13 11-13 11-13 9-12 7-13 6-12 5-11 2-11 1-9-1-8-3-7-4-5-7-4-7-2-10 0-10 1-12 3-12 5-13 6-14 8-14 9-14 10-13 11-13 12-13 12-11 13-10 13-9 13-8 12-6 12-4 12-3 10-1 9 1 9 3 6 5 M593 9209l8 10 6 12 3 14 0 16-2 18-4 19-8 21-9 21-12 21-14 21-16 21-17 20-18 20-19 17-20 16-20 14-20 12-19 9-19 7-17 4-17 1-14-1-13-5-10-7-8-9-6-12-3-15 0-16 2-18 5-19 7-20 9-21 12-22 14-21 16-21 17-20 18-19 19-18 20-16 20-14 20-12 19-9 19-7 18-4 16-1 14 2 13 4 10 7 M529 9228l4 5 3 7 2 7 0 9-1 9-3 10-4 11-5 10-6 12-7 11-8 11-9 10-9 10-10 9-11 9-10 7-11 6-10 5-9 3-10 2-8 1-8-1-6-2-5-4-5-5-3-6-1-7 0-9 1-9 2-10 4-11 5-11 6-11 7-11 8-11 9-10 10-10 10-10 10-8 11-7 10-6 10-5 10-4 9-2 8 0 8 1 6 2 6 3 M560 9251l7 7 4 10 2 11 1 13-2 14-4 16-5 16-8 16-9 17-11 17-13 17-13 16-15 15-15 14-16 13-16 11-16 10-15 7-15 5-14 4-13 0-11-1-10-3-9-6-6-7-5-10-2-11 0-13 1-14 4-16 6-16 7-17 10-17 11-17 12-16 14-16 14-16 16-14 15-12 16-11 16-10 16-7 14-6 14-3 13-1 12 2 10 3 8 6 M732 8966l38-169 94-151 113-94 132-57 150-19 132 19 75 38"/></g>
</g>
<g clip-path="url(#c_III_f)">
<g transform="scale(0.1)"><path fill="#5AA4D6" stroke="none" d="M2125 9264l22-28 29-32 32-33 32-31 32-29 32-27 34-27 33-28 32-28 33-28 33-27 32-27 33-25 32-24 32-23 32-22 32-21 33-20 32-19 30-17 30-20 28-21 27-15 23-4 22 12 21 23 13 28 2 27-16 26-29 27-35 28-34 28-31 27-33 29-34 27-32 27-33 24-32 24-32 23-32 23-32 23-33 24-32 23-32 24-32 24-33 24-32 23-32 23-33 22-34 23-32 19-28 13-23 6-20 0-15-5-8-10-2-14 3-20 10-23z"/><path stroke-width="8.5" d="M2273 9311l43-41 46-38 45-38 46-39 45-36 45-33 44-29 45-27 40-25 36-22 28 7 21 37-13 37-45 38-45 37-44 37-42 33-42 29-41 30-41 30-41 30-41 31-44 30-45 30-36 15-26-1-10-14 7-28 23-36 42-44 M2298 9266l44-35 43-32 42-31 45-29 43-26 41-29 35-14 28 25 8 39-32 37-47 37-43 38-43 36-43 32-43 32-45 33-45 33-44 33-44 30-44 29-39 21-29 3-17-9-1-22 15-32 34-41 45-44 45-39 47-37 44-38 M2284 9407l-62 41-54 29-38 3-20-15 2-32 23-45 47-56 59-59 60-52 62-50 60-51 59-49 59-44 59-43 62-41 62-39 60-43 52-22 43 32 14 55-47 53-69 55-64 55-64 51-61 45-60 44-61 45-61 45-61 45-61 43 M2455 9150l-32 25-34 24-33 24-34 25-35 26-35 26-37 25-34 19-23 4-12-9 4-21 16-28 31-34 35-34 33-28 33-27 33-29 33-28 33-26 34-23 33-21 31-17 27-18 22-8 19 19 7 28-20 25-32 26-31 28-32 27 M2714 8954l-53 43-51 43-51 42-50 37-49 34-48 35-48 35-48 35-47 34-50 33-44 24-31 3-17-11 2-26 19-36 37-44 47-47 46-41 49-40 48-42 49-41 49-38 49-36 51-32 48-29 46-31 38-15 33 27 11 43-35 41 M2756 8825l-32 23-32 25-33 24-33 22-31 20-23 6-14-4-4-13 6-20 16-25 27-31 30-29 32-27 33-28 34-28 32-25 32-23 32-21 33-21 33-21 32-22 26 1 20 26-8 29-37 30-37 30-36 30-34 26-32 22-32 24 M2449 9080l44-35 43-31 44-30 44-27 42-27 41-27 34 3 29 33-8 36-44 38-48 41-49 40-48 37-46 32-45 31-43 31-43 31-43 31-43 31-45 28-35 13-23-3-7-16 10-30 25-36 41-43 42-40 44-36 43-37 44-38 M2759 8748l45-30 40 2 33 37-6 40-48 43-51 45-54 47-56 44-55 40-56 40-55 40-55 40-55 40-55 37-55 36-43 15-28-5-8-21 12-38 33-46 52-54 54-50 55-45 55-45 53-44 51-40 50-36 50-33 50-29 47-30 M2543 8996l54-45 54-41 54-37 53-33 51-30 47-32 42-16 36 27 15 45-34 42-55 46-53 47-56 46-55 41-56 41-56 41-57 42-57 42-57 42-61 41-53 29-38 4-19-14 4-32 24-45 47-54 57-56 57-48 56-46 56-47 M2300 9273l-18-2-5-12 7-21 18-27 31-32 31-30 32-27 33-27 32-28 33-25 32-24 31-20 31-19 29-18 27-17 21 5 17 25-7 25-31 27-32 27-32 27-32 25-31 23-32 22-31 23-31 23-32 24-32 22-33 22-26 9 M2718 8991l-63 46-64 46-64 47-64 47-63 47-65 44-64 41-49 17-33-6-9-25 14-43 37-53 59-63 61-58 64-52 64-55 64-55 64-52 64-47 64-42 63-38 58-35 53-34 42 9 32 51-15 52-61 53-63 54-63 54-63 50 M2389 9172l-38 28-38 29-39 26-39 25-30 11-19-4-5-15 9-26 23-32 36-38 37-35 38-31 37-32 38-32 37-29 36-26 37-24 36-22 34-21 31-21 27 4 20 28-7 30-35 31-37 31-38 33-37 30-38 27-38 27-38 28 M2210 9448l-50 34-45 24-32 4-17-11 1-26 18-36 37-45 47-48 48-42 49-41 50-44 51-42 50-38 49-34 49-29 45-26 41-27 35-12 30 26 12 41-31 38-50 40-46 42-50 40-48 37-49 35-49 35-49 35-48 36-48 34 M2167 9437l9-25 22-32 37-38 37-35 38-31 38-32 38-32 37-30 37-27 37-25 36-22 33-19 29-18 22 7 15 31-12 31-36 30-35 30-35 29-34 27-33 25-34 25-35 27-37 27-37 29-39 27-40 26-30 12-21-2-7-15 M2727 8821l8 30-25 29-37 31-36 30-36 30-35 26-35 25-35 26-35 25-35 26-35 24-35 24-32 17-22 2-12-8 1-18 13-26 27-33 34-34 34-29 35-29 35-30 35-29 35-27 35-25 35-22 34-21 33-22 27-11 24 19 M2380 9108l52-46 53-43 53-38 52-34 49-28 44-26 39-23 29 10 21 43-15 42-50 42-48 41-48 40-47 37-46 34-47 36-49 37-51 39-52 39-53 37-52 32-37 12-22-8-4-22 13-35 29-41 44-47 45-44 48-42 50-44 M2588 9187l-61 44-61 45-62 46-61 44-64 42-56 31-40 4-21-14 2-33 23-47 49-57 60-60 60-52 63-52 61-53 62-51 61-46 61-43 61-38 59-35 54-38 47-18 40 33 14 53-43 50-65 52-60 53-62 51-61 45-60 44 M1993 9440l-11-7 1-17 12-24 24-29 31-31 31-27 32-26 32-28 32-26 32-23 30-21 31-19 29-17 27-19 24-9 20 16 7 27-22 25-33 26-30 27-32 26-30 22-30 22-30 22-31 23-31 24-32 22-33 23-29 16-21 2 M2439 9169l-56 40-53 37-56 36-51 27-40 8-28-7-6-25 16-40 45-55 60-60 62-52 62-50 60-49 58-47 56-43 57-40 58-37 57-34 52-37 43-16 35 33 11 51-40 46-58 48-54 48-56 48-57 44-59 42-60 43-58 41 M2525 8961l-33 23-34 23-30 16-21 1-10-8 2-18 13-26 27-30 32-32 32-28 32-27 33-28 33-28 33-26 33-23 33-21 31-18 29-19 23-9 20 19 7 28-22 26-33 27-31 28-33 27-32 25-33 24-33 24-34 25-34 25 M2592 9076l0-18 12-26 27-33 36-36 36-31 37-30 36-30 35-30 36-26 34-24 36-23 34-20 32-23 28-11 24 19 8 30-24 29-38 31-35 31-37 30-35 26-36 25-35 26-36 26-35 26-34 24-37 25-32 17-24 3-13-7 M2151 9428l-33 11-22-4-7-16 8-28 23-34 38-42 40-39 43-37 44-38 46-40 46-37 46-33 45-30 45-27 41-25 37-24 30 7 23 36-12 38-45 38-46 39-46 38-45 34-43 31-42 31-43 30-42 32-43 31-43 30-43 28 M2515 9182l-41 35-41 35-40 31-40 30-40 30-42 32-44 33-45 35-47 33-48 31-37 15-26-3-8-17 10-30 27-39 44-46 46-43 47-37 46-38 45-37 42-32 42-30 40-26 41-24 37-23 35-23 28 6 21 33-11 34-41 35 M2825 8956l-42 39-46 39-48 36-48 36-50 35-48 35-48 34-46 33-49 32-44 25-34 5-19-9-1-24 19-37 40-47 50-48 50-42 49-39 47-39 46-38 45-33 44-31 44-28 42-24 40-27 34-13 30 22 13 37-26 34-44 37 M2487 9005l32-26 31-23 30-21 31-19 29-17 28-19 25-11 22 16 10 25-20 25-32 26-31 28-33 27-32 24-33 24-33 23-32 23-31 23-31 21-31 21-28 14-21 3-13-6-1-15 10-22 24-29 31-32 32-28 34-28 33-27 M2427 9228l-57 42-59 44-61 46-62 46-61 46-62 42-61 37-45 16-32-6-11-21 8-38 31-49 56-61 61-58 64-53 65-53 63-53 62-49 61-43 61-41 63-39 59-38 55-37 43 8 30 52-20 54-66 55-64 53-62 52-59 46 M2189 9402l-43 8-25-12 1-32 24-47 50-58 63-61 61-52 62-50 60-51 59-48 57-43 56-38 55-34 52-29 48-32 40-15 35 31 13 47-37 44-56 46-53 47-56 47-55 42-57 40-57 42-57 43-59 44-59 44-64 44-58 33 M2799 8823l13 45-36 43-56 45-53 46-55 45-53 39-52 37-53 38-52 38-52 38-51 37-54 36-48 27-35 5-21-11 1-27 18-39 41-49 52-52 53-46 54-45 54-45 53-44 52-39 52-36 52-33 50-30 48-33 41-17 37 27 M2258 9219l54-54 54-47 56-46 55-47 55-46 54-40 54-37 52-33 51-29 46-31 40-15 35 28 11 46-36 43-56 45-53 46-53 44-53 39-52 38-53 38-53 40-54 41-55 39-57 39-51 28-36 5-20-12 1-29 21-42 43-51 M2919 8857l-63 53-63 52-61 48-60 42-59 42-58 42-57 41-57 41-56 39-58 36-44 16-30-5-9-21 12-38 33-48 55-57 57-53 57-46 56-47 56-48 55-45 57-42 59-42 61-39 58-38 56-38 45 5 33 47-14 51-61 52 M2969 8802l-54 47-56 49-59 50-59 45-58 41-56 39-55 39-53 37-52 37-51 35-51 31-38 13-24-7-5-22 14-36 30-42 47-50 47-45 48-41 50-44 52-46 53-45 56-42 56-39 56-34 52-32 48-32 40 6 32 43-10 45 M2268 9278l-47 34-46 35-48 32-47 30-35 12-23-5-5-20 11-31 28-39 43-46 44-41 46-38 45-39 46-40 46-36 46-34 46-31 47-29 44-28 41-27 35 4 27 36-9 38-46 40-49 41-49 42-49 38-47 34-48 34-47 34 M2230 9380l11-22 22-26 28-28 28-25 29-23 29-25 28-24 29-21 28-20 28-18 28-16 26-19 22-8 20 15 7 24-21 24-30 24-29 25-29 24-29 21-28 21-28 20-29 21-28 21-29 21-29 20-26 14-19 2-10-7 1-15 M2873 8651l59-34 53-36 45-16 39 34 14 52-41 49-62 52-60 52-63 52-62 47-62 44-62 45-62 44-61 45-62 45-65 44-60 34-44 7-24-13 1-33 26-49 52-60 64-63 62-54 64-51 62-54 62-52 62-48 63-44 62-39 M2392 9094l54-39 54-37 54-33 49-31 45-28 35 8 27 44-13 43-51 45-51 44-53 46-54 43-54 39-54 39-54 39-53 38-52 37-52 36-54 34-43 16-31-1-13-17 9-35 30-45 52-55 55-50 56-46 55-45 54-46 53-43 M2522 8924l47-30 45-27 41-24 37-23 28 9 21 38-12 38-44 38-44 37-44 39-44 35-45 33-46 34-47 35-48 35-47 36-48 33-48 30-36 13-25-5-7-18 10-31 26-39 44-47 46-44 47-39 49-41 48-42 48-38 48-35 M2720 8866l12 44-36 43-55 44-52 45-53 43-51 38-51 37-51 37-51 37-51 38-50 35-52 35-45 23-32 3-18-11 1-27 18-37 37-46 49-49 49-44 53-43 52-45 52-44 52-39 51-35 52-33 49-29 47-32 40-16 34 28 M2318 9330l2-14 10-19 20-24 25-24 25-22 25-20 25-22 25-21 25-19 25-18 26-17 25-16 25-17 21-9 19 13 7 22-18 22-27 22-27 23-27 23-27 20-27 19-27 19-26 19-26 19-25 18-26 17-23 12-16 1-8-7 M2523 9084l14-26 27-32 33-34 34-29 35-28 34-29 34-29 34-26 34-25 37-24 36-23 34-24 30-13 24 19 8 32-27 31-39 31-37 32-36 30-36 26-35 26-36 26-36 26-36 27-35 25-35 23-31 15-21 1-10-9 2-19 M2948 8856l-54 43-50 44-52 42-50 38-50 36-51 37-50 37-51 38-51 36-53 36-47 25-33 4-18-12 2-28 20-38 40-48 50-50 50-43 52-43 51-44 51-42 51-39 50-36 51-32 49-29 46-31 39-15 32 28 11 44-35 42 M3147 8533l6 11 2 13-2 15-5 18-8 19-12 20-15 22-17 22-20 22-23 23-24 22-26 21-26 19-27 19-27 16-27 14-26 12-24 9-23 6-20 4-18 1-16-3-12-5-9-8-6-10-2-14 2-15 5-17 8-19 12-21 15-21 18-22 20-23 22-22 24-22 26-21 27-20 27-18 27-16 26-14 26-12 24-9 23-7 21-3 18-1 15 2 12 5 9 8 M3104 8509l6 12 2 14-2 17-5 20-10 21-13 22-16 24-20 25-22 25-25 25-27 24-28 23-30 22-30 20-30 18-29 16-29 13-27 10-25 7-23 4-20 1-17-2-14-6-10-9-6-12-2-14 2-17 5-20 10-21 13-23 16-23 20-25 22-25 25-25 27-24 28-23 30-22 30-20 30-18 29-16 29-13 27-10 25-8 23-4 20 0 17 2 14 6 10 9 M3138 8462l6 12 2 15-2 18-5 19-10 22-13 23-17 24-20 25-23 26-25 25-27 25-29 24-30 22-31 20-31 19-30 16-29 13-28 11-25 7-24 4-20 1-17-3-14-6-10-9-7-12-2-15 2-17 5-20 10-21 13-23 17-25 20-25 23-25 25-25 28-25 29-24 30-22 30-21 31-18 30-16 29-14 28-10 25-7 24-4 20-1 18 2 13 6 11 9 M3136 8488l7 13 2 16-1 18-6 20-10 23-14 24-18 26-21 26-24 26-26 27-29 26-30 24-31 24-32 21-32 20-32 16-30 14-29 11-27 8-25 4-21 1-18-3-15-6-10-9-7-13-2-15 2-19 6-20 10-23 13-24 18-26 21-26 24-26 26-27 29-26 30-24 32-24 32-21 32-20 31-16 31-14 29-11 26-8 25-4 21-1 18 3 15 6 10 9 M3157 8509l6 12 3 15-2 17-6 19-9 22-13 23-17 24-20 25-22 25-26 25-27 24-28 24-30 22-31 20-30 19-30 16-29 13-27 10-26 7-23 4-20 1-17-2-14-6-10-9-6-12-2-15 1-17 6-20 9-21 14-23 16-24 20-25 23-25 25-25 27-25 29-23 29-22 31-21 30-18 30-16 29-13 27-10 26-8 23-4 20 0 17 2 14 6 10 9 M3057 8534l4 8 2 10-1 11-4 13-6 14-9 15-11 16-13 16-15 17-16 16-18 17-19 15-20 15-20 13-20 12-20 11-19 8-18 7-16 5-16 3-13 0-11-2-9-3-7-6-4-8-2-10 2-11 3-13 6-14 9-15 11-16 13-17 15-16 17-17 18-16 18-15 20-15 20-13 20-12 20-11 19-9 18-6 17-5 15-3 13 0 11 1 9 4 7 6 M3108 8558l5 8 3 9 2 10-1 11-2 12-4 12-6 13-8 13-9 13-10 12-11 12-13 12-13 10-14 9-14 8-14 7-14 5-14 4-13 2-12 0-11-2-10-3-8-5-7-6-5-8-3-9-1-10 0-11 2-12 4-12 6-13 8-13 9-13 10-12 12-12 12-12 13-10 14-9 14-8 14-7 15-5 13-3 13-2 12-1 11 2 10 3 8 5 7 6 M3128 8534l5 7 2 7 1 8 0 9-2 10-3 10-5 11-6 10-7 11-9 10-9 10-11 9-11 9-11 7-12 7-11 5-12 4-11 3-10 2-10 0-9-1-8-3-7-4-6-5-4-6-2-8-2-8 1-9 2-10 3-10 5-10 6-11 7-10 9-11 9-10 10-9 11-8 12-8 11-6 12-6 11-4 12-3 10-2 10 0 9 2 8 2 7 4 5 5 M3124 8509l5 8 4 10 1 10 0 12-2 13-5 13-6 14-8 13-10 14-11 13-12 13-13 12-14 11-15 10-15 8-15 7-15 6-14 4-14 2-13 0-12-2-10-3-9-5-7-7-5-8-4-10-1-10 0-12 3-13 4-13 6-14 8-13 10-14 11-13 12-13 13-12 14-11 15-10 15-8 15-7 15-6 15-4 13-2 13 0 12 2 10 3 9 5 7 7 M3142 8533l5 7 3 8 1 10-1 10-2 10-3 12-6 11-6 12-9 12-9 11-10 11-12 10-12 10-12 8-13 7-13 6-13 5-12 3-12 2-11 0-10-1-9-3-7-4-6-6-5-7-3-8-1-10 0-10 2-10 4-12 5-11 7-12 8-12 10-11 10-11 11-10 13-10 12-8 13-7 13-6 13-5 12-3 12-2 11 0 10 1 8 3 8 5 6 5 M2239 9275l7 8 4 10 2 12 0 14-2 14-4 15-6 17-8 16-10 17-12 16-13 16-15 16-15 14-16 13-17 12-16 10-17 9-16 6-16 4-14 2-13 0-12-2-11-5-8-6-6-9-5-10-2-12 0-13 2-14 4-16 6-16 9-17 10-16 11-17 14-16 14-15 15-15 17-13 16-12 17-10 16-8 16-6 16-4 14-3 14 1 12 2 10 4 8 7 M2236 9283l6 8 4 10 2 12 1 13-2 14-5 15-6 16-8 16-10 16-11 17-13 15-14 15-15 15-16 13-16 11-17 10-16 8-16 6-15 4-14 2-13 0-12-2-10-4-8-7-7-8-4-10-2-11 0-14 2-14 4-15 6-16 8-16 10-16 12-17 13-15 14-15 15-15 16-13 16-11 16-10 16-8 16-6 15-4 15-2 13 0 11 2 10 4 9 7 M2245 9194l8 11 6 13 3 16 0 17-3 19-5 20-8 21-11 22-13 22-16 22-17 21-19 20-20 18-21 18-21 15-22 13-22 11-21 8-20 6-19 3-17-1-16-3-13-5-11-9-9-11-6-13-3-16 0-17 3-19 6-20 8-21 11-22 13-22 15-21 17-21 19-20 20-19 21-17 22-16 22-13 21-11 21-8 21-6 19-2 17 0 15 3 14 6 11 8 M2265 9286l7 8 4 10 2 11 0 13-2 14-4 15-6 16-8 16-10 16-11 16-13 16-14 15-15 14-16 12-16 12-16 10-16 8-15 6-15 4-15 2-12 0-12-2-10-5-8-6-6-8-5-10-2-12 0-12 2-15 4-15 6-15 8-16 10-16 12-16 12-16 14-15 15-14 16-13 16-11 16-10 16-8 16-6 15-4 14-2 13 0 11 2 10 4 8 7 M2227 9238l6 9 5 11 2 12 0 13-2 15-4 16-7 17-8 16-11 18-12 17-13 16-15 16-16 14-16 14-17 12-17 10-17 9-17 6-15 5-15 2-14 0-12-3-10-4-9-7-7-8-4-11-3-12 0-14 3-15 4-15 6-17 9-17 10-17 12-17 14-16 14-16 16-15 17-13 17-12 17-11 17-8 16-7 16-4 15-2 13 0 12 2 11 5 9 6 M2282 9276l8 10 5 13 3 15 0 16-2 19-6 19-8 20-10 21-13 21-14 20-17 21-18 19-19 18-20 16-21 15-21 13-20 10-21 8-19 5-18 3-17 0-15-3-13-6-10-8-8-10-6-13-3-15 0-17 3-18 5-19 8-20 11-21 12-21 15-21 16-20 18-19 20-18 20-17 20-14 21-13 21-10 20-8 20-5 18-3 16 0 15 3 13 5 11 9"/></g>
</g>
<g clip-path="url(#c_IV_a)">
<g transform="scale(0.1)"><path fill="#4A9AD0" stroke="none" d="M4064 6230l5-43 14-53 18-52 21-51 24-50 29-48 34-45 38-43 39-42 42-38 43-36 45-37 49-39 51-39 48-33 45-25 43-18 42-13 46-7 46-2 38 9 27 22 18 33 11 38 2 46-6 52-15 50-24 46-32 43-37 41-40 39-45 36-44 36-44 37-43 38-43 37-43 39-42 39-45 33-49 25-50 18-49 12-48 7-46 0-36-7-22-10-12-18z"/><path stroke-width="8.5" d="M4209 6074l54-158 78-32 55-56 106-72 334 63-105 215-135 115-145 79-327 161 38-247 95-154 M4552 5486l1 162-52 62-41 13-34 28-87 70-110-72 72-108 60-36 61-61 95-30 69 85 M4333 5753l119-65 289-124-74 314-141 87-74 29-117 68-121-116 62-148 77-47 M4242 5916l84-122 128-93 143-79 164 182-176 218-72 68-165 101-159-145 6-119 98-80 M4530 5907l11-46 34-28 98-33 108 42-53 95-60 44-48 40-30 15-200 100 55-205 82-72 M4472 5704l277-31-56 362-212 84-82 155-219 140-169-59 117-369 106-165 142-79 301-88 M4309 5829l64-92 148-34 178 105-92 158-125 59-136 191-192-149 70-119 75-106 65-54 M4584 6070l-163 82-307-21 106-259 53-100 158-68 244-159 124 265-74 179-160 76 M4711 5820l-85 89-66 43-85 50-173 66 50-218 75-101 92-94 253-109-18 245-131 80 M4690 5929l-84 70-112 85-187 149-152-215 126-159 103-93 172-119 206 157-124 174 M4417 5794l137-154 241 84-74 205-104 106-113 110-275 120-40-275 99-117 112-70 140-169 M4621 6024l-93 44-43 44-79 75-204 176-63-319 55-134 98-36 35-71 233-214 170 139-64 278-149 44 M4590 5709l4 82-41 45-27 24-31 35-34 11-113 72-25-100 73-63 21-44 21-22 29-31 88-46 47 67 M4505 6027l-110 124-258 93-15-251 31-126 161-127 93-184 331-79 194 96-114 292-182 123-51 76-159 130 M4211 5890l66-17 59-71 111-110 167 75-50 136-94 122-69-13-41 85-86 53-152-52 76-199 34-49 M4162 6086l139-242 109-74 128-120 255 39-36 164-95 159-108 10-118 127-239 40 26-307 M4366 6011l-37 56-88 64-86-40 27-163 64-60 46-58 53-41 54 20 121 73-88 122-62 41 M4645 5762l50 199-184 116-69 19-224 194-168-121 84-174 108-166 134-42 113-136 197 33-30 282 M4741 5877l-165 126-120 120-333 84 41-305 152-170 189-80 320 32-173 281 M4508 5651l63-51 48-14 120 46-31 74-47 63-49 42-54 56-174-42 55-113 52-49 50-31 M4723 5667l-113 196-80 88-106 62-161 113-144-123 89-181 68-49 103-26 280-183 5 242 M4356 5584l292-165 127 236-139 159-167 90 0 108-172 115-198-88-81-177 164-123 114-128 91-20 M4479 6063l-191 110-141-161 87-153 91-89 57-67 261-150 122 243-166 165-69 40-74 15 M4260 6255l-143 21-44-250 110-86 56-77 58-4 252-125 49 167-147 143-69 74-165 140 M4440 6010l-123 72-14-155 64-56 56-52 101-103 124 68-57 94-35 43-46 39-60 37-66 48 M4517 5722l69 39-3 91-90 87-27 21-56 61-132 20 33-159 57-75 32-14 87-42 122 77 M4253 6157l-101-205 125-162 99-105 159-39 244 28-71 157-78 85-115 89-132 99-360 27 M4465 5989l-119 67-288 106 11-182 28-168 140-111 127-79 108-53 221-86 101 146-182 203-139 93-79 69 M4436 5732l170-145 188 211-131 187-84 73-120 79-241-71 102-172 22-101 88-108 M4489 6008l-120 44-69-81 1-87 74-81 92-87 116-57 96 100-53 112-71 72-81 62 M4667 5773l-60 132-57 44-48 57-178 73-14-160 97-77 46-71 168-53 11 167 M4438 5724l52-16 105-90 44 137-7 54-89 28-14 47-38 8-173 32 62-155 63-52 M4434 6103l-53-239 112-159 52-56 151-122 275-96-24 287-154 118-73 45-70 39-107 115-206-51 M4501 6033l-80 92-199 199-184-227 95-210 154-115 125-72 132-133 229 229-100 144-143 118-136 100 M4525 5987l-73 37-121 100-49-156 45-76 64-63 99-61 180-36-96 198-58 57 M4473 5965l-36 12-124 20 51-115 31-33 57-52 76-44 47 50-22 80-54 34-6 24-25 27 M4393 5805l44-34 47-26 82-86 153 34-13 114-40 77-97 72-87 47-109 95-60-104 58-152 44-55 M4332 5830l55 91-53 71-29 40-35 4-41 41-90 29-12-94 54-93 56-30 87-72 59 100 M4329 5888l64-77 39-43 50-46 289-175 33 201-153 149-41 118-126 70-187 35-17-146 26-124 M4281 5785l63-56 95-60 356-107-50 204-185 169-93 80-164 121-130-211 70-132 76-54 M4354 5853l34-56 195-172 154 193-108 154-104 95-74 22-180 181-55-172 30-143 87-117 M4191 5884l28-26 20-72 134-64 97 125-30 86-75 54-49 61-188 145-80-131 79-119 49-63 37-26 M4301 6175l-15-229 105-84 31-53 64-89 183-69 32 124-94 178-65 39-97 130-95 23-121-133 M4458 5623l116-64 44 156-81 68-30 38-88 65-163-13 78-139 35-50 57-36 164-84 M4328 5827l125-136 191-36-41 297-77 89-69 45-103 66-210-40 46-195 107-39 77-131 M4691 5864l-99 96-58 55-56 45-218 33 19-192 43-64 81-98 149-67 197-70-67 273 M4085 6205l110-267 134-149 150-113 291-59-37 253-140 93-75 75-135 112-271 5 M4883 5584l-148 315-129 92-115 115-461 180 195-377 60-120 111-59 128-126 355-105 8 264 M4338 5787l89-159 118-52 225-162 165 225-191 178-64 31-43 64-170 123-173 40 40-303 M4604 5855l-2 198-116 90-27 65-63 41-149 24-62-68 110-147 65-31 34-71 65-12 99-11 M4526 5728l78-72 79-75 60-39 218-4-60 215-115 11-21 53-77 73-235 29 101-150 52-93 M4131 5960l70-61 57-45 49-30 84-42 44 99-63 73-51 37-45 24-101 78-8-151 M4107 5945l73-140 17-100 73-42 96-84 194-51 7 182-31 115-103 74-53 6-72 105-175-30 5-200 M4292 6004l44-19 36-2 129-68 15 151-87 49-37 49-95 51-98-16 46-102 38-55 31-26 M4156 6157l27-164 114-181 71-16 54-45 129-83 314 1-147 230-95 89-53 40-83 39-117 169-202-99 M4384 5731l208-142 298 93-234 243-155 77-136 198-142-60-61-196 128-130 69-62 179-148 M4428 5957l-27 31-14 31-53 8-123 24 16-90 69-45 14-45 68-52 121 23-87 121 M4348 5741l126-84 111-127 192 92-27 184-142 124-92 41-257 184-57-209 62-125 75-80 83-43 M4583 5912l-111 61-185 206-326-107 142-270 136-77 81-92 96-89 204-192 195 351-173 174-113 95 M4498 5957l-72 86-119-39 50-111 45-40 34-38 84-53 117 75-48 89-55 37-26 17 M4406 6152l-306 170 77-259 55-185 95-46 45-101 96-94 290-99-31 335-101 104-66 102-114 104-320 74 M4235 6110l-20 28-116 55-13-65 33-64 27-56 36-8 112-104 39 131-44 57-26 22-44 16 M4790 5738l-181 231-84 65-48 41-103 46-221 79 58-264 140-130 57-33 218-200 187 85-139 298 M4363 5784l63-37 306-207 61 204-143 232-103 85-63-9-239 201-65-224 86-187 113-112 M4303 6058l-72 101-285 36 118-269 51-107 126-43 123-124 184 6-22 187-141 140-71 66-122 141 M4404 5928l-46 160-42 43-52 39-69 63-119 22 12-96 52-78 23-32 26-27 38-20 115-65 60 110 M4229 5889l193-135 180 181-181 171-82 54-79 62-200 102 56-266 66-92 77-65 M4502 5819l246-41-90 285-122 39-39 53-92 62-222-25 104-191 56-42 45-19 102-80 241-117 M4241 6109l30-236 106-91 19-86 62-65 85-22 409-177-144 329-137 171-98 24-156 117-237-59 M4620 5693l-14 203-106 118-95 37-39 91-201 23-4-127 33-121 87-51 62-26 67-49 212 56 M4250 5885l37-78 137-74 373-310-4 394-155 150-46 106-118 90-136 50-269-104 143-254 M4411 6055l-94 19 20-135 25-58 37-33 73-56 171-22 12 80-57 77-67 56-70 47-93 55 M4515 6012l-116 131-172 0 73-231 15-69 76-63 142-39 190 46-79 135-86 79-75 102 M4383 6112l-94 125-145 25-3-169 98-104 62-62 144-104 94 61-42 173-66 41-84 88 M4451 5804l74-66 117 24-34 119-34 41-55 31-66 36-109-43 45-66 14-43 67-35 M4518 5593l368 28-62 209-144 155-131 99-226 208-341-86 192-249 88-130 75-29 94-113 361-160 M4131 5933l86-74 65-38 82-20 108 102-117 76-39 29-55 59-80 34-90-75 80-106 M4370 6189l-217-92 99-235 83-100 36-77 147-26 296-17-125 289-97 87-87 51-160 123 M4250 5970l54-39 123-99 204 23-100 212-94 90-48 29-101 53-216 93 94-247 76-87 96-122 M4403 5777l32-80 93-118 108-67 181 118-79 195-58 89-71 22-74 67-196 53-150-68 170-249"/></g>
</g>
<g clip-path="url(#c_IV_b)">
<g transform="scale(0.1)"><path fill="#3A92CD" stroke="none" d="M5631 6323l0-34 8-44 14-47 15-42 19-35 22-32 25-31 27-32 29-33 32-33 34-33 35-31 36-29 37-29 38-27 37-26 37-25 37-24 37-22 37-22 38-21 39-22 37-18 35-13 32-7 31-3 28 2 20 8 13 16 8 22 2 27-5 28-10 30-17 32-22 34-25 34-28 32-32 34-34 32-35 31-37 29-38 28-38 27-36 28-33 27-32 28-31 28-34 28-36 29-38 30-38 28-36 24-35 20-34 17-33 13-28 6-25 0-22-5-17-12z"/><path stroke-width="8.5" d="M5588 6388l-23 2-18-8-4-24 8-40 13-34 20-28 25-30 30-31 32-29 36-27 36-25 36-22 35-20 35-17 30-8 25 2 13 13 2 24-7 26-17 30-22 29-29 30-32 28-35 26-33 25-29 26-32 26-35 25-31 19-29 12 M6009 6020l19 15 5 28-8 32-22 38-30 38-38 38-41 35-44 31-40 32-36 32-40 33-44 33-40 24-38 16-29 3-22-10-4-31 12-52 19-43 27-36 31-36 37-37 40-35 42-32 43-30 43-27 43-25 43-22 39-12 33 0 M5623 6177l26-32 31-33 34-33 38-30 39-28 38-26 39-23 39-21 36-15 32-4 23 6 10 19 0 28-13 31-23 34-30 34-36 33-39 29-38 28-34 29-33 28-38 30-38 27-35 19-31 9-24-2-14-17 5-40 15-46 21-34 M5847 6124l37-39 41-37 42-33 43-31 44-30 43-26 45-24 40-17 34-3 24 9 9 23-2 31-15 35-24 37-32 36-38 36-42 33-43 31-37 32-37 31-42 34-43 31-42 24-38 14-32 1-18-18 4-46 19-55 26-41 34-38 M5878 5921l29-34 34-36 37-34 40-32 40-29 40-27 41-25 43-25 42-19 37-8 30 3 14 20 0 31-15 36-27 39-36 38-41 37-43 33-43 30-37 31-36 31-41 32-41 29-39 21-34 11-27-3-14-19 6-44 17-50 24-37 M6079 5841l53-38 54-34 55-33 57-31 51-18 45-2 26 17 7 36-11 44-31 50-41 50-51 49-53 43-55 39-50 39-45 38-48 39-53 40-49 30-46 20-36 4-27-12-7-37 15-63 24-54 32-43 38-45 45-46 49-42 52-40 M6107 5992l-34 30-38 30-41 31-38 24-36 17-30 4-23-8-7-28 10-49 17-42 26-35 31-37 38-37 39-34 43-31 41-28 42-26 42-24 42-22 37-11 32 0 17 15 4 28-10 32-22 37-29 36-36 36-39 32-41 30-37 30 M5788 6000l51-61 60-62 65-61 69-54 71-50 70-46 70-41 71-40 68-29 59-10 44 10 20 36-2 51-26 59-43 63-56 61-66 60-69 54-70 51-61 52-61 53-71 58-72 51-68 38-60 20-47-4-26-31 9-76 30-87 41-65 M6363 5842l31-15 27-7 23 2 13 10 4 21-5 23-14 26-20 28-27 27-30 27-33 25-31 25-28 26-33 27-35 28-34 22-33 15-26 4-19-8-3-26 11-44 19-37 24-30 27-30 31-29 31-27 34-24 32-22 32-19 32-18 M6053 5793l71-45 75-43 71-33 63-11 47 10 20 37-3 54-28 61-45 65-58 64-68 62-72 55-71 52-63 53-62 53-71 56-71 49-66 35-58 19-46-4-26-31 9-75 29-86 40-64 52-60 59-62 64-59 68-54 70-51 70-47 M6134 5945l-33 26-30 27-33 26-35 26-32 19-30 13-25 3-18-8-6-24 9-42 15-35 23-30 26-30 32-31 33-28 34-26 35-23 34-22 36-21 36-19 32-10 27 0 15 12 3 23-8 28-18 31-24 30-30 31-33 28-35 26 M5918 6071l21-32 25-30 30-30 32-28 33-26 33-24 33-22 34-21 36-21 33-15 30-5 22 5 9 18-1 24-12 29-20 30-26 31-32 30-35 27-35 27-32 27-31 26-35 28-35 24-32 16-28 8-23-2-12-15 4-37 14-42 M6159 5959l-31 26-32 23-30 23-27 24-30 25-33 27-34 22-33 18-28 7-22-5-5-25 11-44 18-37 24-31 28-29 31-30 31-28 34-26 34-24 35-22 35-21 35-18 30-7 24 2 12 14 2 23-9 26-17 30-24 28-29 29 M6174 5869l24-5 19 3 8 14-1 21-11 23-18 25-22 25-26 23-28 21-27 20-23 20-24 20-27 21-26 19-25 13-22 6-16-2-10-12 3-28 10-31 14-24 19-23 22-24 25-23 26-21 27-19 27-18 27-16 28-16 27-12 M6008 5827l36-24 34-22 33-18 34-18 30-12 27-3 19 6 7 18-2 24-13 27-20 29-26 28-29 27-31 24-31 24-28 25-29 26-34 29-36 26-34 20-31 12-24-1-15-14 4-38 14-43 20-33 26-30 31-32 33-30 35-27 M6069 5806l52-30 48-21 40-5 27 11 8 29-6 37-19 41-29 41-36 41-41 40-46 36-47 36-43 37-42 36-48 38-47 32-44 22-38 11-30-2-18-20 4-49 18-58 27-43 34-41 40-42 44-40 46-38 48-35 49-33 49-31 M5882 6361l-19-2-10-13 5-31 12-36 17-26 21-24 24-25 26-24 27-21 28-21 28-18 29-18 29-16 28-13 25-4 18 3 8 15-1 21-10 24-18 26-23 25-27 25-29 22-28 21-25 21-25 22-29 23-29 21-28 15-24 8 M6087 5928l55-41 55-36 54-32 52-27 50-24 43-9 35 4 20 18 6 33-8 38-23 43-32 43-42 45-48 43-53 41-51 41-47 41-50 40-54 40-48 26-42 16-33 0-25-14-7-36 12-60 19-51 29-43 36-45 46-48 51-46 M5869 6229l-52 42-53 37-49 27-43 14-35-2-19-23 5-55 20-63 29-48 37-45 44-48 49-45 52-42 54-38 53-34 53-31 54-31 51-22 45-6 33 8 14 27-2 39-21 45-33 47-42 46-49 45-52 40-52 38-45 39-46 39 M6482 5684l-19 61-40 68-53 68-66 67-73 62-78 56-72 56-65 56-70 56-75 57-73 46-71 34-60 13-48-11-15-54 21-96 39-84 54-68 64-68 70-67 72-62 76-58 77-55 79-52 81-49 83-45 71-20 58 3 29 31 4 55 M5739 6266l-7-39 14-65 21-54 32-46 40-48 48-49 53-47 57-42 57-39 57-36 58-34 60-33 54-18 48-3 28 17 7 40-14 47-34 54-44 52-54 51-54 45-57 41-52 41-48 43-52 42-57 43-51 31-47 18-36 2-27-14 M5869 6067l-24 11-21 6-17-2-11-11 3-27 10-32 15-25 19-23 23-24 25-22 27-20 26-18 26-17 26-16 27-16 26-11 23-4 17 3 9 12 0 19-8 22-14 24-21 24-25 24-29 22-28 22-26 21-25 20-27 20-26 18 M5893 6247l-56 29-48 14-38-5-20-27 8-64 25-72 34-55 43-50 50-52 54-50 57-45 59-42 58-39 59-36 62-35 57-26 51-8 38 8 16 32-3 43-22 50-36 53-46 52-55 51-58 46-60 45-54 47-53 46-61 48-61 42 M6103 5995l-32 24-28 24-28 24-33 27-34 25-31 18-28 8-20-2-11-16 6-36 14-40 19-29 23-27 26-28 30-28 31-24 32-23 32-21 31-18 33-19 31-14 29-6 22 3 11 15 0 24-12 27-21 31-28 29-32 28-32 24 M6124 5910l31-9 26 0 15 11 3 23-8 27-18 31-25 30-30 29-31 26-34 24-30 24-28 25-30 25-34 25-31 19-29 13-24 3-18-6-6-22 7-40 14-34 20-28 25-30 31-31 32-28 35-25 35-23 34-21 34-20 34-18 M6175 6054l-22 24-26 24-28 21-27 19-24 20-23 18-25 19-25 17-23 12-22 7-18 1-12-9 0-26 8-31 14-24 20-24 23-24 26-23 27-20 27-19 26-17 26-15 27-16 27-12 23-5 18 3 9 13 0 19-9 23-17 25 M6115 5689l62-37 61-34 62-31 53-15 48 0 28 19 9 39-9 46-29 54-41 55-55 55-60 52-65 48-60 48-55 48-60 49-66 49-60 37-56 24-45 5-34-14-9-46 17-77 28-66 40-55 49-55 57-57 61-52 65-47 64-42 M6196 5812l41-22 37-12 33-2 20 11 6 26-7 32-21 36-29 36-36 37-38 33-42 31-40 33-36 33-40 33-44 34-41 23-36 15-27 1-20-12-3-32 13-51 19-42 27-35 31-35 36-35 38-33 40-29 40-26 39-24 40-24 M6486 5730l-14 40-29 46-42 47-51 45-53 39-53 37-44 36-43 36-50 40-50 36-49 27-42 14-32-3-15-24 9-55 23-62 29-45 34-40 38-43 43-42 48-40 51-38 51-35 51-29 51-28 47-18 41-6 32 7 16 24 3 34 M6376 5909l2 22-7 26-17 29-22 28-29 28-30 27-33 24-31 25-28 26-32 28-37 29-35 23-33 17-28 4-20-7-4-27 11-44 17-38 24-31 27-31 32-32 34-29 36-27 36-24 35-21 34-18 34-16 28-7 23 3 13 13 M6170 6035l-44 31-37 31-36 29-40 31-39 26-35 17-31 8-23-4-13-18 5-41 15-46 21-35 26-32 31-35 35-34 38-32 41-31 42-29 42-26 45-26 42-19 37-6 28 5 12 22-1 31-15 36-27 39-35 38-41 38-43 32 M6083 6101l-66 55-72 58-69 44-64 29-50 5-34-19-5-54 24-88 35-72 45-58 53-59 59-59 63-55 67-51 68-48 69-45 72-44 73-40 65-20 55-1 30 25 4 49-19 57-41 64-51 61-61 59-64 54-67 49-62 51-57 53 M6056 6016l29-33 34-34 37-32 39-28 38-26 38-23 38-21 37-19 33-8 28 0 16 13 4 24-7 28-18 33-25 32-33 33-35 31-39 27-35 28-32 27-34 28-37 28-35 22-34 15-27 4-22-6-7-26 9-45 16-39 24-33 M6152 6063l-62 46-54 47-55 47-62 50-61 42-57 29-48 13-38-4-22-27 6-64 23-73 33-55 43-52 50-55 57-53 60-49 63-45 63-43 65-40 67-40 64-29 56-9 39 11 15 36-7 50-28 55-42 57-51 55-57 53-60 47 M5925 5965l71-54 71-49 69-45 70-43 74-43 72-33 65-15 51 6 24 35 1 52-26 62-44 67-59 66-69 65-75 59-76 58-68 59-69 59-78 63-78 53-70 36-60 15-45-9-23-36 12-81 32-91 44-68 54-63 63-64 67-61 M5947 6173l-32 29-34 27-34 25-30 27-31 27-36 30-37 26-34 19-29 8-21-4-11-17 6-38 15-43 20-32 24-29 29-30 32-30 34-26 35-22 32-20 31-17 32-17 30-13 28-5 23 2 13 14 3 21-10 27-20 31-28 30 M6335 5889l-77 62-78 56-71 57-65 59-73 62-81 63-75 46-66 27-49 0-33-25-2-60 24-92 34-76 44-61 52-63 63-66 69-64 77-59 78-55 79-52 82-50 86-47 78-28 68-5 40 25 9 56-21 68-51 77-65 74-76 71 M5987 6108l-26 20-26 21-24 21-24 22-29 24-29 21-27 15-23 6-17-3-8-14 6-31 14-35 17-25 20-23 22-23 24-21 25-21 26-18 26-18 26-16 27-16 26-11 22-3 16 4 6 14-1 20-10 22-16 23-20 23-23 22 M6279 5827l52-2 30 20 8 43-15 51-36 59-49 57-58 56-61 50-63 46-57 46-53 48-59 50-65 50-61 37-54 23-42 2-29-18-5-47 18-75 26-62 36-51 44-54 53-56 60-52 64-49 65-44 63-39 65-36 65-34 58-19 M6266 5854l-56 47-59 42-54 42-48 42-54 44-58 45-55 35-52 23-41 5-30-14-6-42 18-71 27-59 36-49 42-49 50-50 53-47 58-43 58-41 58-36 58-33 59-31 52-15 45-1 26 19 8 37-11 45-30 52-41 51-53 52 M5948 6285l-36 28-35 21-32 15-26 4-20-7-6-26 11-44 16-38 24-31 28-31 31-32 34-29 36-28 37-25 37-24 38-23 38-20 33-10 28 1 14 14 2 26-10 29-20 33-26 31-31 31-34 29-35 25-33 27-30 26-33 28 M6424 5638l46-6 33 11 13 30-2 40-20 46-33 50-44 49-53 48-56 41-55 39-48 39-45 37-51 39-52 36-49 28-47 17-39 2-24-19 2-54 20-66 30-50 39-48 46-49 51-49 55-44 57-41 57-38 57-34 59-32 53-22 M6229 5668l8-31 18-25 24-21 28-19 27-17 24-16 22-16 22-15 22-12 21-12 22-10 20-9 20-8 20-8 19-6 19-4 17-2 16 0 14 4 13 6 13 9 10 10 8 13 6 14 4 16 2 18 0 21-3 22-5 21-7 22-10 21-14 22-16 22-17 22-18 21-17 21-17 20-18 19-18 18-19 19-19 17-20 18-21 20-22 25-23 25-22 19-21 9-20-6-20-27-22-44-20-54-17-57-11-53-2-42 M6215 5676l9-32 19-26 25-22 28-19 28-18 25-17 23-17 22-14 23-14 23-12 22-10 21-10 21-8 21-8 20-6 19-5 18-2 16 1 15 4 14 6 12 9 11 11 9 13 6 14 4 17 2 19-1 22-2 22-5 23-8 22-10 22-14 22-17 23-18 23-18 22-18 22-18 20-18 20-19 19-20 19-20 19-20 17-22 22-23 26-23 25-24 20-22 10-20-7-21-27-22-46-22-56-17-59-12-56-2-43 M6241 5673l8-29 18-24 23-20 25-18 26-16 23-16 21-15 21-14 21-12 21-11 20-9 19-9 20-8 19-7 18-6 18-4 16-2 15 1 14 3 12 6 12 8 10 10 8 12 5 13 4 16 2 18-1 19-2 21-4 20-7 21-10 20-13 21-15 21-17 21-17 20-16 20-17 19-16 18-18 18-18 17-18 17-19 16-20 20-21 24-21 23-22 19-20 8-19-6-19-25-21-42-19-51-16-55-11-51-2-40"/></g>
</g>
<g clip-path="url(#c_IV_c)">
<g transform="scale(0.1)"><path fill="#3A92CD" stroke="none" d="M4027 7778l0-34 8-43 13-46 16-43 19-39 23-38 25-36 26-36 26-34 27-33 28-32 30-31 31-29 31-28 33-28 35-26 35-25 38-25 37-22 38-20 38-19 38-16 38-13 34-8 33-3 31 2 27 7 20 12 14 21 7 27 2 31-4 33-11 35-18 38-22 38-23 37-25 34-27 33-29 32-30 31-31 29-33 28-33 27-33 27-32 28-32 29-32 28-34 26-36 26-38 25-38 23-36 19-35 15-35 13-32 8-28 1-25-5-22-10-18-17z"/><path stroke-width="8.5" d="M4403 7538l-44 38-44 35-42 36-43 35-48 33-49 28-46 19-40 7-32-9-19-26 5-51 19-59 27-51 34-47 35-45 39-42 42-38 45-35 48-32 49-27 49-21 46-13 42-2 33 12 16 29 1 41-18 47-29 51-36 45-40 42 M4758 7345l-2 35-16 39-25 42-30 36-32 33-35 30-35 28-33 28-34 27-37 24-37 20-34 13-29 4-24-8-13-20 3-38 13-44 20-38 25-36 26-34 29-33 32-30 35-29 39-26 40-24 41-20 39-12 35-2 27 9 12 26 M4373 7322l48-35 51-32 51-26 51-19 43-5 35 10 17 26 0 41-13 45-26 48-30 44-33 40-37 38-40 35-42 37-41 37-45 33-48 30-45 21-43 13-35-1-28-15-9-35 10-57 21-54 31-50 35-47 38-43 41-41 43-38 M4376 7206l60-50 67-48 71-43 72-35 68-20 57 2 40 22 13 48-6 61-28 66-39 67-45 59-51 57-57 52-60 51-59 52-60 48-67 45-67 37-63 26-56 10-46-11-28-35 7-71 27-83 41-72 50-66 50-60 53-56 56-53 M4578 7183l50 7 30 29 10 50-12 58-33 67-41 63-50 57-54 54-58 50-59 50-57 50-63 47-68 42-63 29-58 17-46-4-35-25-7-52 19-79 30-72 42-65 45-61 49-58 54-53 57-49 62-45 66-41 66-33 66-25 58-8 M4509 7511l-28 22-26 23-27 22-31 21-30 17-28 11-25 4-20-6-11-17 3-31 12-37 17-31 20-30 22-27 24-26 26-24 28-22 30-20 31-17 30-13 29-8 26-1 20 8 9 18 1 25-11 30-18 31-22 28-24 26-27 24 M4336 7727l-54 51-61 49-69 47-66 34-62 21-49-2-37-24-8-53 20-82 33-75 44-67 48-62 52-58 54-52 58-47 61-42 63-38 64-32 65-26 59-12 53 5 31 26 9 51-15 59-37 68-45 62-50 55-52 50-55 46-54 48 M4601 7092l63-9 53 9 31 32 8 54-14 63-37 71-44 66-52 61-57 56-61 52-61 53-61 54-66 50-72 46-68 33-64 19-51-2-38-26-10-55 20-85 33-78 45-71 50-67 54-62 58-58 62-52 67-48 71-44 71-35 70-27 M4586 7414l-25 32-29 28-29 25-30 24-29 25-29 25-34 24-34 20-32 14-28 5-21-8-10-20 5-37 15-40 18-34 22-32 23-30 25-28 28-27 31-25 33-23 34-18 34-14 31-8 28 0 23 8 11 19 1 28-12 33-20 34 M4529 7162l73-20 64 0 46 21 20 49-4 65-30 74-45 76-53 67-59 63-64 56-66 54-64 56-65 53-73 49-73 41-68 28-61 10-48-13-28-39 7-77 28-88 41-77 51-72 53-67 58-64 63-59 68-54 74-52 77-44 78-36 M4738 7438l-46 49-50 43-51 42-49 43-50 39-55 37-54 28-48 16-41 2-30-14-15-32 7-55 21-63 28-52 34-50 36-47 40-45 44-43 48-39 53-36 55-32 56-27 54-16 48-3 38 12 19 33 1 46-20 55-33 57-40 52 M4287 7454l24-31 25-29 27-27 29-25 31-24 35-23 35-19 36-16 33-6 28 4 16 15 4 28-7 32-19 36-23 34-26 30-29 29-31 25-31 27-30 26-33 24-35 22-33 15-30 8-24-2-18-13-3-27 10-41 17-38 22-34 M4596 7247l35-12 30-4 27 4 16 15 6 27-7 31-18 36-23 34-26 31-29 28-31 26-31 27-31 28-34 27-38 25-35 18-34 10-26-2-18-15-3-29 11-44 17-40 23-36 25-34 27-32 29-29 32-27 34-25 36-21 36-17 M4625 7501l-66 56-66 52-63 54-64 53-72 50-74 43-70 30-63 13-51-11-30-38 7-78 29-91 44-78 53-74 56-67 59-62 63-56 67-52 71-48 74-42 76-36 73-24 67-5 52 16 25 45-1 65-29 75-48 78-56 69-63 63 M4568 7131l71-33 67-21 63-5 48 15 21 44-3 61-31 71-47 72-52 62-56 57-58 50-59 50-57 52-60 52-68 48-68 37-61 21-50 4-38-18-21-38 6-67 21-77 32-66 42-65 46-62 53-59 59-54 63-49 68-44 69-38 M4430 7405l-31 28-32 26-31 28-33 28-36 26-37 21-35 14-30 4-22-8-13-21 4-38 14-43 20-38 24-36 26-33 29-32 32-28 33-26 36-24 37-20 38-17 35-10 32-2 24 9 11 23-1 32-15 36-23 38-27 33-29 30 M4272 7576l14-44 21-38 26-35 27-33 29-29 31-27 31-24 34-23 36-20 36-17 35-12 32-3 26 7 13 21 1 30-13 36-22 38-27 34-30 32-32 28-34 27-32 27-32 26-37 24-35 20-34 13-30 5-23-6-14-19 3-38 M4321 7549l-33 22-32 17-30 11-25 3-19-8-11-18 4-33 13-38 18-33 22-31 22-28 25-26 26-25 29-23 31-22 33-20 33-16 32-10 28-1 21 9 9 21-2 28-12 32-20 33-22 29-25 28-28 25-29 25-29 25-29 24 M4175 7631l-34-10-18-29 7-56 22-62 29-54 35-49 36-47 39-45 43-42 48-41 54-39 57-35 59-30 56-18 50-2 36 15 14 39-6 51-27 57-39 57-42 49-45 43-46 38-45 36-42 38-45 38-51 36-52 32-50 22-43 8 M4570 7498l-31 27-34 25-36 23-34 15-30 9-24-4-18-13-3-28 10-42 15-38 22-34 24-33 26-30 28-29 31-26 33-24 35-23 36-18 37-15 33-7 30 3 17 15 6 27-7 33-20 38-24 35-28 32-30 29-32 26-32 27 M4125 7821l10-52 22-59 28-48 33-44 32-42 35-39 38-37 42-36 47-34 49-29 49-22 45-12 39 2 28 15 11 31-1 40-17 46-27 46-31 43-36 40-41 38-43 36-42 37-43 36-49 34-49 28-46 18-39 6-30-12-14-30 M4414 7409l51-32 51-27 52-21 47-8 41 5 24 22 8 39-9 46-27 54-33 49-38 46-43 43-46 39-47 41-46 42-51 38-55 34-50 23-46 12-35-6-25-21-4-43 16-63 25-56 34-51 35-47 38-44 41-41 44-38 48-35 M4601 7317l30 0 23 9 11 22-1 30-13 34-20 36-25 32-28 31-30 28-33 27-31 29-33 28-38 26-37 21-36 15-30 5-24-8-14-21 5-39 15-46 22-38 26-36 28-33 29-31 31-27 32-25 35-24 36-19 36-16 34-10 M4338 7671l-59 33-55 21-47 7-38-12-23-31 3-60 19-70 31-62 39-59 42-58 48-54 54-52 59-46 63-43 65-36 65-28 59-14 52 2 36 20 14 42-5 55-26 60-38 61-43 55-47 50-51 45-53 44-51 46-53 44-60 40 M4279 7576l37-15 33-7 30 2 19 14 5 28-7 33-20 39-24 35-29 32-30 29-33 26-31 26-31 27-33 25-37 23-34 16-32 10-26-1-20-12-5-27 9-43 16-40 24-36 26-34 28-31 29-29 32-26 33-23 35-22 36-19 M4659 7083l65-8 55 11 30 35 6 58-16 66-39 74-46 68-54 62-58 58-64 52-62 53-61 53-67 49-71 44-66 30-61 18-49-5-35-26-8-55 20-83 32-76 43-68 47-65 50-61 55-59 62-55 68-53 74-49 75-39 75-29 M4244 7788l-22 3-17-5-9-15 3-29 11-33 15-27 18-27 20-24 21-23 23-21 24-20 27-18 28-16 28-13 26-7 23 0 17 7 7 18-1 23-10 27-16 27-19 24-22 23-23 21-24 20-23 21-25 20-27 19-27 15-26 10 M4373 7320l52-23 51-19 48-8 44 2 30 19 13 38-7 47-28 57-37 54-45 49-48 43-49 39-47 38-46 39-49 36-53 33-50 24-46 14-37-2-28-19-8-40 13-61 21-57 31-53 35-51 40-48 45-45 49-41 52-35 54-30 M4353 7598l-24-6-14-19 3-37 14-44 20-38 26-35 26-33 29-31 30-28 33-26 36-25 37-21 38-17 35-10 31 0 22 10 10 24-2 31-14 35-21 37-25 32-29 31-31 28-32 26-31 28-33 26-35 24-36 20-34 13-29 5 M4666 7422l-49 55-52 52-55 47-56 48-55 50-61 45-65 41-61 28-56 16-45-3-34-23-10-49 17-76 28-70 41-64 45-61 49-56 53-52 57-47 60-43 64-40 64-33 66-27 59-10 51 6 29 29 8 51-15 59-36 66-41 61 M4420 7645l-59 49-60 46-65 42-64 35-61 25-55 10-44-11-27-34 5-67 24-80 38-69 46-66 49-61 53-57 57-52 61-47 65-45 68-38 69-32 66-20 60-4 47 14 24 41 2 57-24 67-41 71-51 65-58 59-62 53-63 49 M4617 7085l25 9 12 24-1 32-16 38-24 39-28 34-31 31-32 28-33 26-31 27-32 26-36 24-35 20-33 12-28 4-22-8-12-20 4-36 13-42 19-36 23-34 24-33 28-31 30-29 33-27 37-25 38-22 38-18 37-11 33-2 M4658 7222l33 0 25 11 12 25 0 34-14 38-22 40-26 37-31 35-35 33-38 32-37 34-38 32-44 31-44 24-41 17-36 6-29-8-16-23 4-46 17-53 26-46 31-43 32-39 35-37 37-32 39-29 41-26 41-21 41-17 37-9 M4635 7424l-17 35-20 32-25 31-28 29-31 28-32 28-32 29-35 26-38 24-35 16-32 9-25-3-19-14-3-30 11-44 17-40 24-35 26-34 26-31 29-28 31-27 33-24 36-22 35-18 36-13 30-4 26 6 14 16 4 27-6 31 M4340 7347l58-51 63-49 70-46 71-39 73-31 66-13 55 8 30 34 4 58-20 66-43 73-47 65-52 57-54 52-58 49-56 50-57 52-63 49-69 45-65 30-59 17-45-6-33-26-7-53 20-80 30-72 42-65 45-61 48-58 53-55 M4479 7576l-38 31-36 32-38 30-41 29-42 23-40 16-35 6-28-7-18-21 4-44 16-52 25-44 30-42 31-39 34-36 36-34 39-31 42-29 44-25 44-19 40-11 35 1 25 13 10 28-2 37-16 40-24 42-28 38-33 35-36 33 M4278 7327l56-51 59-46 64-42 65-37 67-30 63-19 57-2 43 15 20 41 0 55-25 65-40 67-46 60-53 56-56 51-59 49-58 52-60 50-67 47-68 38-62 24-53 7-41-16-22-38 8-70 27-79 37-68 45-64 47-60 52-55 M4289 7611l-21 3-17-4-12-12 1-26 7-31 13-27 18-27 19-26 22-25 24-22 26-21 29-19 29-17 30-13 27-8 25 0 17 9 6 19-3 26-13 28-19 28-20 25-22 22-22 20-24 19-22 19-23 19-26 17-25 14-24 10 M4645 7297l-30 49-33 45-36 39-38 35-38 32-38 33-38 34-42 31-45 29-41 19-38 11-30-4-22-17-5-34 11-51 19-47 26-43 29-41 33-39 36-37 39-34 42-33 47-30 47-26 50-22 45-9 38 4 22 21 4 39-14 46 M4519 7205l58-26 54-16 48-1 36 15 16 37-2 48-22 55-35 57-39 51-45 47-48 43-49 41-48 43-51 42-56 39-57 32-53 21-46 8-36-12-20-31 7-59 22-68 32-58 38-55 41-51 44-48 47-44 52-40 55-38 57-32 M4213 7405l44-49 46-44 49-40 52-37 55-34 55-29 57-24 52-10 45 5 26 24 8 43-11 51-31 58-36 54-43 49-46 45-49 41-49 42-49 43-52 39-57 35-54 26-50 15-41-1-31-19-9-43 15-67 26-63 37-57 41-53 M4263 7596l-14-17 2-35 12-41 20-36 25-34 26-32 28-28 29-26 31-23 33-21 33-19 34-16 33-10 30-2 23 7 12 20 1 28-13 34-21 35-25 32-28 29-31 26-31 25-29 24-29 24-33 22-34 19-31 14-29 6-24-5 M4506 7153l6-24 15-21 21-19 24-16 27-16 27-15 23-15 23-15 23-15 25-15 24-14 23-12 23-10 21-8 19-7 20-5 18-4 18-1 16 0 14 2 11 6 10 8 7 11 6 13 4 15 2 17 0 17-2 17-4 18-8 20-9 21-11 22-12 22-14 21-14 20-15 19-17 19-18 19-18 18-20 17-19 17-18 16-18 18-18 20-18 20-18 18-18 13-18 5-18-4-20-18-23-28-25-37-22-41-19-41-12-38-4-30 M4515 7168l6-24 15-21 22-19 25-17 27-16 27-15 24-16 23-15 24-16 25-15 25-14 24-12 23-11 21-8 20-7 20-5 19-4 18-1 16 0 14 3 12 5 9 8 8 11 6 14 4 15 2 17 0 18-2 17-4 19-8 20-9 22-11 22-13 22-14 21-14 21-15 19-17 20-19 19-19 18-20 18-19 17-19 17-18 17-18 21-19 21-18 18-18 13-19 6-18-5-21-18-23-29-25-38-23-41-19-42-13-39-4-31 M4521 7163l6-23 15-20 20-18 24-16 25-15 26-14 23-15 21-14 23-15 23-14 24-13 23-12 21-10 20-8 19-6 19-5 18-4 17-1 15 0 14 2 11 5 9 8 7 11 6 12 4 15 2 16 0 17-2 16-5 18-7 19-9 20-10 21-12 21-13 20-14 20-14 18-16 18-18 19-18 17-18 17-19 16-18 16-17 17-17 19-17 19-18 18-17 12-17 5-18-4-19-17-23-27-23-36-22-39-18-40-12-36-4-30 M3878 7932l2-15 4-18 6-21 7-22 8-22 10-21 10-19 11-16 11-15 13-13 15-12 15-11 15-10 16-7 15-6 15-4 16-1 16 1 17 2 17 4 16 6 14 8 12 9 8 10 5 12 2 16 1 17-2 18-4 19-5 19-8 18-8 16-12 15-15 16-17 15-19 15-20 14-19 13-18 10-15 8-15 5-14 3-13 2-13 0-12-2-11-2-10-3-9-3-8-3-8-3-7-4-6-5-4-5-4-8-1-9 0-11 M3896 7921l2-13 4-16 5-19 6-20 8-19 8-19 9-18 10-14 10-13 12-12 13-11 14-10 13-8 15-7 13-5 14-4 13-1 15 1 16 2 15 4 14 5 13 7 10 8 8 9 4 11 2 14 0 15-1 17-3 17-5 17-7 16-8 14-10 14-14 14-15 14-17 13-17 13-18 11-16 9-14 7-13 5-12 3-12 1-12 0-10-1-10-2-9-3-8-3-8-2-7-3-6-4-5-4-5-5-3-6-1-9 0-10 M3872 7926l2-15 4-17 6-20 7-21 8-22 9-20 10-19 10-16 11-14 13-12 14-12 15-11 15-9 15-8 15-5 14-4 15-1 16 1 17 2 17 4 15 6 14 7 11 9 7 10 5 12 3 15 0 16-2 18-3 18-6 19-7 17-8 16-11 14-15 16-17 15-18 14-19 14-18 12-18 10-15 7-14 6-13 3-13 1-13 0-11-2-11-2-10-3-9-3-8-2-7-4-7-3-6-5-4-5-3-7-2-9 0-11"/></g>
</g>
<g clip-path="url(#c_IV_d)">
<g transform="scale(0.1)"><path fill="#3A92CD" stroke="none" d="M5761 7760l-1-31 8-39 14-40 16-38 18-34 23-32 25-32 27-32 29-33 32-33 34-33 35-31 35-30 38-28 37-27 38-26 37-25 37-24 37-22 37-22 38-21 39-22 37-18 34-13 33-7 31-3 27 2 21 8 13 16 6 22 2 27-3 28-7 29-12 33-17 34-19 33-24 33-27 32-30 33-31 32-30 33-32 33-33 33-34 31-36 29-37 29-38 27-38 26-37 26-37 24-37 23-37 20-38 19-40 18-37 13-33 5-30-3-28-12-22-17z"/><path stroke-width="8.5" d="M6539 7089l-22 23-22 24-24 22-26 21-26 19-26 17-26 15-27 12-24 6-20-6-12-14 3-24 10-27 13-23 18-22 21-23 24-23 26-20 26-19 26-17 27-16 27-16 26-11 23-4 17 3 7 14 0 20-8 22-13 24-18 23 M5802 7752l-50-27-14-53 21-77 34-71 47-63 57-64 66-64 69-58 72-53 72-48 71-46 73-43 76-42 70-25 62-5 37 21 11 48-9 58-30 68-45 68-60 66-63 66-66 66-70 59-75 55-73 49-73 46-73 38-75 30-62 1 M6021 7357l38-35 41-32 42-31 41-28 42-25 43-24 40-17 36-5 26 6 12 21 1 30-9 34-19 37-28 38-35 37-36 39-40 36-42 33-43 30-42 28-43 25-45 22-41 12-34-9-20-23 5-41 20-46 25-39 31-36 34-37 M6307 7384l-39 42-41 41-45 39-47 35-48 33-46 29-47 23-46 18-38-2-29-19-8-33 13-48 20-44 27-39 34-40 41-41 44-39 47-34 47-31 46-28 46-26 48-26 43-14 38-3 24 13 7 30-6 37-18 43-29 42-38 42 M6137 7226l21 0 11 9 2 19-4 21-11 25-16 23-20 24-22 23-23 24-25 22-28 21-27 18-27 17-27 15-28 11-23 0-18-10-5-20 8-29 14-26 17-23 21-24 24-23 25-21 26-20 27-19 27-18 27-16 29-15 25-8 M6484 7231l-21 63-36 67-50 65-60 65-63 67-68 63-73 57-75 50-71 45-70 39-74 35-70 20-60-11-40-35 2-65 27-78 41-66 54-65 64-66 69-63 73-56 73-53 74-49 74-46 78-46 75-34 65-11 47 11 18 40-3 57 M5883 7483l65-67 70-64 74-58 75-54 76-52 77-50 83-49 79-37 69-13 49 12 17 44-5 61-24 66-37 70-51 67-60 67-63 71-71 70-79 63-82 58-79 51-77 41-78 34-71 16-58-18-35-42 6-71 31-81 44-69 55-66 M6691 7069l-12 61-31 71-46 69-62 68-65 68-68 68-73 60-76 54-74 49-72 44-73 36-74 29-60 0-47-29-13-52 22-77 33-69 45-62 54-62 62-64 67-61 74-57 74-53 76-51 79-48 81-44 72-23 63-2 35 25 9 52 M5996 7533l20-41 27-37 34-37 38-36 40-33 41-30 41-27 39-24 40-22 40-20 34-10 30 0 18 13 4 26-5 30-14 35-23 34-30 34-32 35-35 35-37 31-39 29-39 28-40 25-41 23-43 20-38 4-31-13-10-28 11-44 M6026 7700l-67 33-63 19-54-10-33-33 4-60 26-69 36-59 48-56 55-58 61-55 64-50 65-45 63-41 63-37 65-35 60-27 54-9 41 8 19 32 1 45-14 52-30 58-43 56-53 57-55 57-59 55-64 49-64 44-63 42-63 37 M5929 7475l57-57 60-54 63-48 63-43 61-41 62-37 65-38 62-28 55-10 41 8 15 34-3 48-20 54-32 57-45 54-50 53-51 53-55 52-59 47-61 45-62 43-63 39-69 36-64 21-55-9-34-33 5-60 27-70 38-60 49-56 M6243 7189l57-34 57-30 50-16 44-1 26 17 8 36-6 42-21 50-32 50-45 50-48 49-50 49-53 42-54 39-53 35-53 34-55 30-58 25-48 4-39-19-10-40 18-60 28-53 37-47 42-47 47-47 50-43 53-41 54-39 54-35 M6234 7282l41-40 43-36 45-32 44-30 44-26 44-25 44-24 40-12 34-1 20 14 6 28-6 34-17 40-26 39-34 38-36 38-38 39-41 36-44 33-45 31-44 29-46 25-47 20-40 2-32-16-9-32 13-49 22-44 30-39 35-40 M6063 7315l39-28 38-26 38-24 38-22 39-20 34-10 29 0 15 14 3 26-6 29-15 33-21 33-28 32-30 33-32 34-35 31-39 29-38 27-39 25-39 21-41 17-33 1-27-14-8-28 12-42 19-38 25-34 31-34 34-34 37-31 M6123 7565l-33 17-35 15-28 1-23-12-7-24 10-35 15-32 21-29 26-29 29-29 32-27 33-24 33-22 33-21 33-19 33-17 30-10 26-1 16 11 4 21-5 26-12 29-20 30-25 29-28 29-29 29-31 26-33 25-33 22-32 21 M6312 7153l46-14 40 0 23 17 4 35-8 41-20 46-30 46-39 44-42 45-45 46-48 42-52 39-52 36-51 32-52 27-53 21-43 1-34-21-10-37 15-54 23-50 32-44 39-45 45-46 49-42 53-39 52-36 52-33 52-30 54-27 M6038 7738l-68 34-67 25-51-4-37-32-4-52 26-71 34-62 42-53 47-52 53-52 56-48 59-45 60-41 59-38 61-36 64-35 58-21 53-5 34 15 13 38-4 47-21 57-37 58-50 58-55 59-59 60-63 55-68 51-68 47-67 43 M6411 7310l-29 43-38 42-39 42-42 43-45 39-48 37-50 35-49 32-50 27-52 22-44 2-35-17-12-35 13-53 22-49 33-44 39-45 46-45 49-41 51-37 51-34 49-30 50-28 50-26 45-13 38 0 21 17 4 33-8 39-20 44 M5859 7701l-9-26 8-38 15-35 22-33 28-33 33-35 37-33 40-30 40-28 40-25 41-22 40-21 36-11 31 0 18 12 5 27-6 31-16 36-24 35-32 35-33 34-35 34-36 30-38 27-37 25-37 22-37 19-37 15-32 1-25-13 M6147 7628l-62 39-62 32-62 24-50-1-39-26-10-45 19-64 28-58 37-52 45-53 53-53 57-50 62-46 61-42 61-39 62-35 62-33 55-16 47 0 27 21 5 41-9 47-23 54-35 54-46 52-49 54-52 54-58 51-62 47-62 43 M5786 7688l35-68 46-60 54-60 61-61 64-55 69-51 68-47 68-43 70-41 71-39 64-20 56-2 33 21 9 45-10 55-28 63-42 62-55 62-58 60-61 61-65 55-69 51-68 48-69 45-72 39-73 31-61 3-47-27-12-51 22-76 M6426 7337l-57 62-60 62-64 61-69 55-71 51-71 49-72 42-75 37-68 18-56-15-32-39 7-68 29-75 38-63 49-61 58-64 66-62 71-57 73-51 72-46 70-40 72-38 66-27 59-9 44 10 20 35 1 50-18 58-33 64-49 61 M5850 7666l28-64 32-52 40-50 47-52 52-52 58-49 62-45 61-41 61-35 62-33 56-22 49-5 36 10 16 30 1 42-13 49-27 53-40 53-48 53-52 54-55 53-60 48-63 45-62 43-62 36-65 31-57 13-44-16-23-37 10-60 M6231 7542l-29 19-28 17-30 15-28 7-21-6-13-16 4-28 13-30 16-25 20-24 22-24 25-24 27-22 29-21 28-19 28-17 30-16 27-12 25-5 19 4 9 14 0 20-7 24-14 27-21 25-24 25-25 26-26 24-28 22-28 20 M5915 7421l73-61 76-54 74-49 73-45 75-43 79-45 76-30 72-13 47 16 18 47-8 62-34 76-54 75-68 73-71 70-70 69-74 63-79 60-79 57-80 52-82 43-81 32-63-3-47-35-9-61 26-84 37-74 48-65 58-66 67-67 M5983 7598l-12-24 8-40 17-38 26-34 31-36 37-35 38-31 40-28 38-26 38-23 39-22 39-22 35-11 31-1 18 12 5 25-5 30-15 35-23 34-31 34-33 34-34 33-36 29-37 26-36 24-35 22-37 20-40 18-35 5-31-10 M6339 7426l-59 60-63 54-68 50-67 46-67 43-68 36-70 29-58 2-46-25-14-48 18-72 30-65 42-58 51-60 60-62 65-57 71-53 70-49 71-44 71-41 71-36 62-17 52 1 29 25 5 47-11 54-28 62-40 60-53 59-56 59 M6087 7342l35-25 36-23 37-22 38-21 34-11 29-1 17 11 4 25-6 29-15 33-22 33-29 32-30 31-32 32-34 28-35 25-35 23-34 21-34 17-34 14-29 0-23-13-8-24 9-35 15-33 21-30 26-30 31-31 32-29 36-26 M5897 7832l-70 29-57 3-44-26-11-50 22-72 33-64 43-57 49-56 57-58 61-54 66-50 66-46 67-43 67-39 69-35 59-18 51 0 29 23 8 43-9 52-26 59-39 59-51 58-55 58-58 58-62 53-66 48-66 46-65 42-68 37 M5924 7764l-54 0-41-26-12-47 18-67 28-61 38-55 48-57 58-57 62-54 66-48 65-43 64-38 64-36 64-33 59-19 52-3 31 19 8 42-8 50-26 58-38 58-51 56-53 57-56 57-61 52-65 49-65 46-64 41-66 34-65 25 M6177 7519l-38 22-39 17-31 0-23-15-4-29 14-40 19-35 24-31 27-30 30-30 32-28 35-27 35-24 35-21 35-20 35-19 32-10 28-1 17 10 6 22-4 27-14 32-21 32-29 31-30 31-31 31-32 28-36 27-35 26-37 24 M6151 7546l-43 30-43 27-43 22-45 18-37 2-32-14-12-29 9-45 18-42 27-39 35-40 42-40 44-37 46-32 44-29 44-26 44-26 45-24 41-14 36-2 20 15 4 30-8 36-20 40-27 39-34 38-35 37-37 38-40 35-43 32 M6449 7077l71-23 63-3 37 23 11 50-9 60-30 69-45 70-61 69-66 69-69 68-74 62-78 56-75 49-74 45-74 37-75 29-60-1-47-30-12-54 23-79 34-70 46-62 54-63 63-64 68-60 73-56 75-53 75-49 77-46 79-43 M6269 7277l61-27 56-10 43 7 19 31 0 46-17 54-33 60-46 56-54 56-54 56-56 54-62 50-65 47-65 46-65 39-68 33-61 14-47-16-25-38 9-62 26-67 33-55 43-54 50-56 58-55 63-51 65-46 64-41 63-36 65-35 M6091 7346l45-35 46-34 46-31 47-29 49-28 45-20 39-5 28 9 9 26-3 35-14 39-21 40-30 39-36 40-38 41-41 39-45 36-46 32-45 29-45 25-46 22-44 12-36-8-24-23 2-41 18-49 26-41 33-40 39-40 42-40 M6041 7421l44-33 44-30 43-27 44-25 44-22 39-12 34 0 19 14 6 28-6 33-16 39-24 38-34 39-37 38-38 38-41 35-44 31-42 28-42 26-42 22-44 18-37 2-30-15-9-30 11-45 19-41 27-37 32-38 39-39 41-35 M6075 7535l19-24 23-25 26-25 28-22 28-20 28-18 28-16 28-15 26-10 22-3 17 5 5 15-1 20-8 23-13 24-19 23-21 23-22 23-24 22-25 20-27 19-26 19-27 16-28 14-27 8-22-4-14-14 1-25 10-29 15-24 M6411 7384l-57 58-58 56-61 53-65 48-65 47-67 45-69 39-71 31-59 2-45-26-12-50 20-72 31-64 41-58 49-59 59-61 65-58 70-52 70-48 69-41 69-38 68-33 59-17 53-1 31 22 8 43-9 53-28 62-41 60-55 59 M6294 7141l58-35 55-25 47-7 31 11 7 34-8 43-19 47-27 47-35 44-40 44-41 45-46 43-50 39-51 34-49 30-46 25-49 22-47 13-42-5-31-21-2-42 15-52 26-46 38-46 45-47 49-45 52-40 52-38 53-37 55-35 M6408 7368l-52 56-55 57-61 53-64 48-65 44-64 40-63 32-64 25-53-1-40-26-11-46 20-67 30-61 41-54 49-53 55-54 58-49 61-45 60-42 62-40 63-39 67-38 60-21 53-4 31 19 7 43-10 51-26 59-39 57-50 56 M6238 7337l47-26 41-12 34 2 18 17 1 32-9 36-18 40-25 39-33 38-35 38-38 39-42 36-44 32-44 28-42 26-42 21-44 18-38 3-33-14-12-28 10-46 19-42 29-39 35-40 40-39 43-36 45-34 45-31 45-30 47-28 M6429 7398l-55 58-59 57-62 51-65 46-63 41-62 39-63 33-67 29-56 4-45-22-13-46 21-70 33-63 43-55 50-54 54-55 58-52 62-49 64-48 67-46 70-44 71-39 62-19 52 2 27 25 4 47-11 53-26 60-39 59-52 58 M6177 7190l-2-21 14-20 26-20 34-19 37-19 36-19 29-18 25-18 26-18 25-18 25-18 25-16 24-15 24-13 24-11 24-10 23-9 23-8 22-5 20-4 19-1 18 1 17 3 17 5 14 7 13 9 10 11 8 12 4 15 1 17-2 19-3 21-5 21-7 22-8 21-9 21-12 23-13 23-14 23-16 22-16 22-16 20-16 21-14 23-15 23-16 21-19 16-25 10-31 2-43-8-56-17-62-23-63-27-56-29-44-27-24-23 M6203 7192l-2-19 13-19 24-18 32-18 34-17 33-18 27-16 23-17 24-17 23-17 24-16 23-15 22-14 23-12 21-10 22-10 22-8 21-7 20-5 19-4 18-1 16 1 17 3 15 5 13 6 12 9 10 10 7 11 3 14 1 15-1 18-3 19-5 20-6 20-7 19-9 20-11 21-12 22-13 21-15 21-15 20-15 19-14 19-13 22-14 21-15 19-18 15-23 10-28 1-40-7-52-16-58-21-58-26-52-26-41-25-22-22 M6185 7182l-2-20 14-20 26-19 33-19 37-19 34-18 29-18 25-18 25-18 25-17 24-18 25-16 24-14 23-13 24-11 23-10 23-9 22-7 22-6 20-3 19-1 17 1 17 3 16 5 15 7 12 9 10 10 8 12 3 15 2 16-2 19-3 20-5 21-7 22-7 20-10 21-11 22-13 23-14 23-15 22-16 21-16 20-16 21-14 22-14 23-16 20-19 16-24 10-31 2-42-8-55-16-61-23-62-27-55-28-43-27-24-23 M5546 7909l2-14 4-17 6-19 6-21 8-21 9-20 9-18 10-15 11-13 12-12 13-11 14-10 15-9 14-7 15-6 15-4 16-3 18-2 19-1 18 1 18 3 16 4 13 7 9 9 5 12 3 16 0 19-1 20-4 21-6 20-7 20-8 16-11 16-14 15-16 15-17 13-18 13-18 11-17 10-16 7-15 5-15 3-15 1-15 0-14-1-13-2-12-3-10-3-8-3-8-3-7-3-5-5-4-5-3-7-1-8 0-11 M5530 7911l2-14 4-17 5-19 7-20 8-21 9-20 9-18 10-15 11-13 12-12 13-11 14-10 14-9 15-7 15-6 14-4 16-3 18-2 19-1 18 1 18 3 16 4 13 7 9 9 5 12 3 16 0 19-2 20-3 21-6 20-7 19-8 17-11 15-14 15-16 15-17 14-18 12-18 11-17 10-16 7-15 5-15 3-15 1-14 0-14-1-13-2-12-3-10-3-8-3-8-3-7-3-5-4-4-6-3-7-1-8 0-11 M5542 7930l3-15 4-17 5-21 7-21 9-22 9-21 10-19 10-16 12-14 12-12 14-12 15-11 15-9 15-7 16-6 15-5 17-3 19-2 19-1 20 1 19 3 16 5 14 7 9 9 6 13 3 17 0 19-2 22-4 22-5 21-8 20-9 18-11 16-14 16-17 15-18 15-19 13-19 12-18 10-17 7-15 6-16 3-16 1-16 0-14-2-14-2-12-3-11-3-9-3-8-3-7-3-5-5-5-6-2-7-2-9 0-11"/></g>
</g>
<g clip-path="url(#c_IV_e)">
<g transform="scale(0.1)"><path fill="#3A92CD" stroke="none" d="M4027 9318l0-34 8-43 13-46 16-43 18-39 22-38 26-36 27-36 29-34 33-33 34-32 33-31 32-29 32-28 32-28 34-26 36-25 37-25 38-22 37-20 38-18 39-16 37-13 35-9 32-7 32-3 27 1 20 9 13 19 8 27 2 32-4 33-12 35-17 38-22 39-24 36-24 34-28 33-29 31-30 32-31 33-33 33-33 33-33 31-32 30-31 28-33 27-33 26-36 26-37 25-38 23-38 19-38 15-40 13-38 8-32 1-26-5-23-10-16-17z"/><path stroke-width="8.5" d="M4330 9057l-37 39-38 38-38 35-39 32-44 31-45 25-48 17-41 6-29-10-15-25 6-46 18-54 25-45 31-43 38-39 39-37 38-33 38-31 42-28 43-24 44-19 41-12 37-7 28 6 12 26 0 37-16 42-26 43-30 39-34 37 M4658 9038l-34 24-35 20-38 14-33 6-23-7-12-20 5-37 15-42 20-36 24-33 29-31 31-29 29-26 30-26 34-23 35-21 36-15 33-10 30-5 22 5 10 21-1 31-14 34-21 35-24 30-28 30-30 30-31 29-29 27-30 25 M4157 9096l42-54 51-52 50-50 52-47 57-43 62-38 61-30 61-21 54-13 49-4 33 19 13 45-7 54-31 64-41 61-51 56-55 55-57 55-55 49-53 46-58 43-63 42-64 30-65 17-46-6-28-27 0-52 22-75 30-66 37-58 M4073 9247l34-64 44-60 53-57 57-52 53-47 55-44 61-41 62-36 64-29 61-20 53-9 39 10 16 40-5 55-25 61-38 62-41 54-47 52-51 56-54 56-55 52-57 48-64 44-65 35-66 21-56 4-39-15-20-36 7-65 24-75 M4326 9155l-14 31-21 31-23 27-24 25-25 25-26 24-24 22-25 20-28 20-29 17-31 11-27 4-19-5-10-16 3-30 11-35 15-29 20-28 24-26 26-25 25-24 26-23 30-21 32-19 32-16 31-10 27-5 20 5 7 21-3 29 M4331 9169l-37 17-38 10-28-1-20-12-5-28 9-43 16-39 22-37 29-34 33-32 32-29 32-27 34-24 36-22 36-18 37-15 34-10 31-3 18 13 5 28-8 35-21 38-25 36-29 31-31 31-32 31-31 29-30 27-33 25-36 23 M4354 8895l18-30 22-28 27-27 26-25 27-22 28-20 30-18 29-14 29-9 24-4 21 1 11 12 3 23-6 25-15 29-19 26-21 24-23 24-24 24-23 22-24 21-26 21-29 19-30 15-31 9-24 1-16-10-5-22 8-35 13-32 M4216 9019l32-39 38-35 36-34 36-30 38-28 41-26 41-20 42-16 36-8 32-1 18 15 5 33-9 37-21 42-26 38-31 35-33 35-36 36-35 33-35 30-38 28-40 25-42 19-42 11-32-1-23-13-7-31 11-48 18-45 26-42 M4478 8824l49-24 47-15 42-7 30 8 12 31-3 42-19 47-30 48-33 42-38 40-41 42-41 39-40 36-41 32-45 31-46 25-49 17-43 6-30-9-15-25 6-48 18-56 26-47 32-43 38-41 40-38 39-37 40-34 46-33 49-29 M4446 8773l54-31 53-22 48-11 39-2 25 14 8 35-5 45-19 47-28 47-32 42-37 41-42 43-43 40-41 36-41 31-45 30-47 27-51 20-48 11-37-4-22-22 1-50 18-60 28-52 36-49 42-46 46-43 43-41 45-39 52-37 M4649 8689l-5 33-18 39-23 37-29 34-32 36-37 35-35 33-35 29-37 27-40 25-41 19-43 13-33 0-21-15-4-32 13-50 22-45 27-40 32-36 35-33 33-30 33-29 35-27 39-25 39-19 38-15 34-7 30-1 17 15 6 29 M4286 9194l-40 4-27-11-12-26 5-45 17-52 22-43 30-42 35-39 40-37 37-34 39-30 42-27 43-23 43-18 40-13 38-7 29 4 14 25 0 37-17 42-27 45-31 38-35 37-37 38-38 37-36 34-39 33-44 31-45 26-46 16 M4495 9225l-55 52-52 46-53 40-57 38-58 30-60 19-54 7-39-11-23-29 3-59 21-69 31-61 42-58 52-54 55-49 51-44 51-40 57-37 57-32 59-27 56-18 51-9 39 6 18 34 1 49-20 57-34 59-40 54-47 52-52 54 M4313 9178l-33 33-33 33-33 30-37 29-40 27-41 18-41 10-30-2-20-15-6-29 9-47 15-43 24-40 30-39 38-36 37-33 35-29 38-26 40-24 40-19 40-15 36-9 32-2 18 14 4 33-11 37-23 41-28 37-29 33-31 33 M4768 8698l-26 29-28 29-29 30-29 27-29 25-31 24-34 22-35 15-35 9-26-1-17-13-3-27 10-40 15-37 22-33 26-31 30-28 29-26 28-23 30-21 31-19 32-16 33-13 30-9 27-3 17 10 7 24-6 30-17 34-22 32 M4033 9356l-26-41 7-79 27-89 39-78 53-74 64-70 71-66 66-59 69-54 75-50 77-44 79-35 74-23 67-12 49 10 20 49-5 69-33 76-49 77-54 67-59 64-63 66-65 65-64 61-68 57-76 54-78 43-80 26-69 8-48-18 M4606 8875l-35 36-37 37-37 34-35 31-39 29-42 28-44 20-45 13-33-2-22-15-5-33 12-51 20-47 27-42 32-39 38-37 37-34 36-31 39-28 42-26 42-21 43-17 38-9 34-3 21 15 6 32-8 39-23 44-29 41-33 36 M4331 9266l-48 28-50 18-43 5-27-13-10-29 10-51 22-55 26-45 30-41 35-38 37-37 37-35 39-32 43-29 43-23 43-17 40-11 35-4 28 5 15 24 2 35-13 40-24 45-30 39-36 39-39 40-40 39-39 36-40 33-46 34 M4433 8819l62-31 63-24 56-14 49-2 27 23 7 50-13 57-34 63-40 58-47 53-49 53-54 55-53 51-53 47-58 43-63 40-63 28-64 15-46-4-31-24-6-48 17-73 27-67 38-61 46-57 55-54 54-50 53-45 58-43 62-39 M4427 8786l29-15 29-10 25-5 22-1 12 11 3 23-6 26-15 30-18 26-22 24-23 25-24 25-25 23-24 22-27 20-29 19-30 14-31 9-23-1-16-10-4-22 8-36 13-32 19-29 23-28 26-25 26-24 25-22 28-19 29-18 M4486 8959l-37 37-37 35-39 31-42 29-44 24-45 16-40 5-29-8-15-24 5-45 18-52 24-45 31-41 37-38 38-36 36-33 38-31 41-29 44-25 43-18 39-10 33-2 22 9 8 28-3 36-15 39-22 39-26 35-29 36-34 38 M4413 9258l-65 37-68 24-60 9-43-12-22-34 6-67 25-77 35-66 46-63 55-57 58-53 55-49 56-45 62-42 64-38 66-30 63-21 57-11 43 7 19 40-3 57-27 65-40 65-47 58-51 54-55 56-56 55-55 49-56 46-62 43 M4291 8842l64-56 66-51 71-47 74-43 77-36 75-29 71-17 54 5 24 47-4 68-35 79-52 79-57 67-60 63-64 66-64 63-63 60-67 55-73 52-75 40-76 23-65 4-43-19-23-40 6-74 24-85 36-73 49-71 62-68 68-62 M4730 8857l-39 58-47 51-50 53-53 52-52 48-51 43-55 42-60 39-62 29-64 19-50 0-34-20-9-46 16-74 28-67 39-62 48-58 56-53 54-49 53-45 57-42 61-37 60-30 62-23 54-13 47-2 28 23 8 47-12 55-33 62 M4256 9099l-20-26 1-51 16-60 26-54 37-52 46-49 50-44 46-39 47-37 50-34 54-32 55-26 53-19 48-9 33 8 11 37-8 50-26 54-35 52-36 44-38 43-41 45-43 45-44 42-47 39-51 35-52 27-53 17-46 4-33-10 M4644 8828l21 21 5 41-11 45-26 51-31 47-37 43-40 45-45 45-45 41-43 37-47 34-50 31-51 22-52 14-41-1-28-16-7-38 14-61 24-56 33-51 40-47 45-43 44-40 43-38 46-35 51-33 52-27 52-20 45-10 39-1 M4509 9148l-65 57-70 53-77 49-77 35-79 20-60-3-39-27-9-60 22-91 35-83 49-76 58-70 67-65 66-61 65-57 70-52 77-50 78-41 80-32 71-19 62-4 36 29 9 62-18 72-43 81-52 73-60 66-63 66-67 67-66 61 M4734 8498l43 3 20 36-3 54-27 62-41 62-44 53-48 50-50 52-52 50-50 47-52 43-58 41-60 33-62 22-56 7-40-11-23-29 2-60 21-71 32-63 44-60 54-55 57-49 53-42 52-38 54-36 57-33 60-29 60-24 57-15 M4736 8805l-38 62-43 53-48 51-51 53-53 52-51 47-54 44-59 41-60 32-62 21-54 5-38-13-20-32 6-61 21-70 31-61 41-58 50-54 55-50 51-46 54-43 58-39 60-35 62-28 59-20 54-10 40 7 17 38-3 54-25 60 M4432 9081l-37 34-37 32-40 32-45 32-49 26-52 18-40 3-29-13-8-36 12-57 21-53 30-49 37-46 43-43 44-41 43-37 46-34 50-29 48-22 47-15 41-7 34 1 19 19 4 38-11 43-26 48-32 43-36 39-38 37-39 37 M4344 8787l50-37 54-33 54-26 53-19 46-9 41-1 23 20 7 41-10 48-27 53-33 50-39 46-43 46-48 48-46 43-46 40-50 37-53 33-54 23-54 13-41-3-27-19-6-41 14-63 23-57 32-52 40-50 47-47 47-43 46-41 M4723 8960l-60 66-65 69-69 67-67 61-69 55-76 53-78 42-82 28-72 10-52-14-29-41 7-80 30-94 43-80 56-76 67-70 70-65 67-60 68-56 77-53 79-46 81-37 76-24 66-10 48 13 20 51-5 69-31 76-47 78-53 68 M4228 9087l5-30 13-33 16-28 19-25 22-23 23-21 21-20 23-20 26-18 27-16 27-13 27-9 23-3 17 4 6 17-1 23-11 27-16 27-18 23-21 23-22 24-24 24-23 22-25 21-27 20-29 16-30 10-25 3-17-8-6-17 M4286 8908l53-52 52-49 51-45 56-43 61-38 62-31 61-23 54-12 46-1 25 24 5 49-14 56-33 61-40 56-45 50-48 50-51 50-50 47-49 43-54 41-58 38-61 29-62 17-47-1-32-20-8-46 16-71 27-65 38-59 45-55 M4386 9028l-38 35-40 33-45 32-47 27-50 19-44 8-31-9-16-26 7-49 19-56 27-48 33-44 38-41 41-38 39-35 40-33 45-31 46-28 48-22 46-15 41-8 31 6 14 28-2 42-19 46-30 48-34 42-38 39-40 40-41 38 M4488 8713l69-38 68-28 63-17 56-8 42 10 18 42-1 57-25 65-40 67-45 60-52 57-57 61-60 60-59 56-62 53-70 50-72 40-74 24-63 5-41-18-18-42 11-73 28-82 36-69 46-65 55-61 60-58 59-54 61-49 67-45 M4461 9036l-28 24-31 24-34 22-34 15-36 10-26-2-18-12-4-26 10-40 15-37 22-33 26-32 30-29 29-27 29-25 31-22 33-21 34-17 33-12 30-7 26-1 15 13 4 26-7 30-17 34-22 31-25 28-27 29-29 30-29 27 M4345 8862l50-47 52-43 58-40 60-32 59-24 54-15 49-7 40 5 21 33 5 47-16 56-33 61-43 56-51 54-56 55-56 51-53 44-53 39-56 37-58 30-60 21-53 6-37-12-18-32 8-61 23-68 30-58 38-54 46-52 50-50 M4728 8902l-48 59-52 57-56 59-58 57-57 52-60 48-65 45-66 35-67 21-59 5-41-15-21-35 6-67 24-77 35-66 46-63 56-58 59-53 55-48 56-44 62-42 64-39 67-32 66-24 60-14 46 6 20 40-3 59-27 66-42 68 M4114 9397l-64 1-45-25-13-59 21-95 35-87 51-80 61-75 72-70 71-64 69-59 74-54 79-47 77-36 77-26 65-11 56 1 32 30 8 60-14 67-39 77-47 70-56 65-62 66-67 66-66 62-64 56-71 53-77 51-80 38-83 25 M4600 8914l-21 32-25 30-28 30-31 32-31 28-30 27-33 24-34 21-35 15-35 8-26-3-17-13-3-27 10-41 17-37 22-34 26-31 30-28 29-26 28-24 30-21 33-20 32-17 33-13 30-8 27-3 17 11 6 24-5 30-16 34 M4111 9380l-52-13-29-40 7-79 29-92 42-79 55-75 66-69 70-65 65-59 68-55 75-51 78-45 79-35 74-23 65-10 47 13 19 49-4 67-30 75-46 76-52 67-59 65-64 67-68 66-65 59-68 54-74 51-77 42-80 28-71 11 M4467 8694l4-27 17-23 26-19 31-18 33-16 32-15 28-16 25-15 25-15 26-13 25-13 24-11 24-10 22-8 22-8 22-6 21-6 20-3 19-2 16 1 14 5 11 8 9 11 8 14 5 17 4 17 1 19 0 18-3 20-5 21-7 22-9 23-10 23-11 22-12 22-13 20-15 20-16 19-17 19-18 19-18 18-18 18-17 21-17 24-17 25-18 23-20 17-21 8-23-4-29-19-36-33-39-42-38-47-33-48-24-43-10-34 M4490 8686l5-24 15-21 24-18 28-17 31-14 30-15 26-14 23-14 23-13 23-13 24-12 22-10 22-9 21-8 20-7 20-6 20-5 18-3 17-2 16 1 12 4 11 8 8 11 7 13 5 15 3 16 2 17-1 17-2 18-5 20-6 20-8 22-10 21-10 20-11 20-13 19-13 18-15 18-16 18-16 17-16 17-17 16-16 19-16 23-16 23-16 21-18 16-20 7-21-3-27-18-33-31-37-39-35-43-30-44-22-40-10-32 M4484 8694l5-26 16-22 25-19 30-18 33-15 31-15 27-15 24-15 25-14 24-13 25-13 24-11 23-9 22-8 21-8 21-6 21-5 19-4 18-1 16 1 14 4 11 8 9 11 7 14 5 16 3 17 2 18 0 18-3 19-5 20-7 22-8 22-10 23-11 22-12 20-13 20-14 19-16 19-16 19-17 18-18 17-17 18-17 20-17 24-17 24-17 22-19 17-20 8-23-4-28-19-36-32-37-41-37-46-32-46-23-42-11-33 M3887 9455l2-16 4-19 6-22 7-24 9-24 8-22 10-21 9-17 9-14 11-13 11-12 11-10 12-8 12-7 13-5 12-4 14-1 15 0 16 2 17 4 15 5 14 7 11 9 8 11 4 13 2 17 0 19-2 20-4 21-5 20-6 19-8 17-9 15-12 15-14 15-15 14-15 13-16 11-15 10-13 7-13 5-13 3-12 2-12-1-12-1-11-2-10-3-8-3-8-3-8-2-6-3-6-4-4-6-4-7-1-9 0-11 M3864 9476l2-16 5-20 6-23 7-24 8-25 10-23 9-21 10-18 9-15 11-13 11-12 12-11 12-8 13-8 13-5 13-3 14-2 16 1 17 2 16 3 16 6 14 7 12 9 8 11 4 14 3 17 0 20-2 21-4 21-6 21-6 20-8 17-10 16-12 16-14 15-16 14-16 13-16 12-15 10-14 8-13 5-13 3-13 1-13 0-12-1-11-3-10-2-9-3-8-3-8-3-7-3-6-4-4-6-3-7-2-9 0-12 M3870 9467l3-17 4-21 6-24 8-25 9-26 10-25 10-22 10-19 10-15 11-14 12-13 13-11 12-9 14-8 13-5 14-4 15-2 17 1 17 2 18 4 17 6 15 8 12 9 8 12 5 14 2 18 0 21-2 22-4 22-6 22-7 21-8 18-10 17-13 17-15 16-16 15-17 14-17 12-16 11-15 8-14 5-14 3-13 2-14 0-12-2-12-2-11-3-9-3-9-3-8-3-7-4-6-4-5-6-3-7-2-10 0-13 M4169 8904l0-4 1-6 4-7 5-8 6-8 8-8 7-9 9-9 8-8 7-7 8-7 6-5 6-5 6-4 6-3 6-4 6-2 7-3 6-2 5-1 6-1 5-1 5 0 5 0 4 1 5 1 4 1 5 2 4 3 4 3 3 3 3 4 2 3 1 5 0 4-1 4-2 6-3 6-4 7-5 7-5 8-6 7-7 8-7 7-7 7-8 6-7 5-8 4-8 3-9 3-10 2-11 1-11 1-11 0-10 0-10-1-9-1-6-2-5-3-3-3"/></g>
</g>
<g clip-path="url(#c_IV_f)">
<g transform="scale(0.1)"><path fill="#3A92CD" stroke="none" d="M5708 9285l18-34 27-37 32-38 34-37 39-37 39-36 37-32 37-31 37-30 37-31 37-32 37-30 37-26 37-24 36-25 39-27 38-27 34-21 28-15 24-8 20 2 17 14 13 25 2 29-17 33-28 39-32 36-35 32-38 31-38 30-37 31-37 31-37 31-37 31-38 32-37 29-36 27-37 24-37 25-37 26-38 27-35 22-35 20-32 16-24 4-13-14-6-25z"/><path stroke-width="8.5" d="M5698 9408l35-35 36-32 35-29 35-30 35-27 35-23 36-25 30-17 20-3 15 18-7 30-28 35-34 30-36 29-36 29-35 31-36 27-35 23-36 25-33 20-27 10-8-19 11-31 28-36 M5747 9337l45-38 45-36 44-37 44-30 44-31 44-29 30-13 20 12 6 33-28 43-40 40-43 35-42 35-43 36-42 34-41 28-40 27-40 25-37 21-24-3-5-27 21-38 37-43 45-44 M6172 8918l65-53 64-44 65-44 63-42 47-21 35 12 16 45-38 63-59 61-69 55-67 55-67 56-65 53-64 44-64 43-63 42-59 31-34-7-2-47 38-61 57-66 68-64 67-56 66-55 M5765 9222l30-25 31-26 30-23 31-21 31-22 26-14 18-3 12 17-7 26-25 30-30 26-31 25-30 25-30 26-30 23-30 20-31 22-28 17-23 7-7-16 10-26 23-30 30-30 30-28 M6235 8962l-41 41-46 36-43 36-43 36-42 35-43 29-43 30-41 28-40 21-23-4-3-31 24-40 39-44 47-44 45-38 44-36 43-36 43-29 45-31 43-30 33-15 23 9 7 33-28 44 M6354 8793l24 38-17 58-56 67-64 54-65 52-62 53-64 54-64 49-62 41-62 43-55 31-42 12-13-34 19-52 46-60 57-60 61-56 62-52 63-55 65-50 66-45 69-50 56-33 38-5 M6275 8905l6 22-18 30-27 29-32 26-32 26-32 27-32 27-33 23-33 24-35 25-34 19-21-1-2-25 21-34 34-37 38-35 36-29 34-27 32-26 31-20 32-22 30-19 22-10 15 7 M6221 8951l-29 36-35 29-35 29-35 29-35 30-35 26-35 24-36 26-35 21-27 10-8-20 12-31 30-36 35-36 35-31 34-29 35-31 37-28 36-25 37-26 29-16 20-1 13 20-8 30 M5862 9310l-28-16 6-57 46-68 62-69 70-66 67-57 67-56 68-56 67-47 70-48 68-47 53-26 42 10 20 47-39 68-64 67-76 61-74 62-75 63-74 61-74 51-73 49-69 45-60 29 M6074 8987l47-40 47-36 48-33 52-39 45-27 31-6 19 27-13 44-42 51-49 41-49 40-48 41-49 41-48 36-46 29-45 31-41 24-34 11-13-23 11-37 35-46 46-47 49-44 47-38 M6075 8996l39-32 39-27 39-26 37-24 27-12 19 9 7 28-23 37-35 36-39 31-39 33-38 32-39 32-38 27-39 27-38 25-34 18-20-5 0-29 23-36 33-39 40-38 39-34 40-33 M6210 8824l77-53 76-51 55-25 39 17 13 57-49 75-70 71-78 62-75 63-75 64-77 64-77 55-79 55-78 53-72 39-41-10-2-58 48-75 71-80 84-79 80-66 78-64 77-62 75-52 M6159 8896l50-35 40-21 26-1 17 28-12 42-40 49-46 40-49 40-48 40-48 42-49 37-49 33-50 35-46 28-38 14-14-25 13-41 37-49 49-51 51-47 52-42 52-45 51-38 51-33 M5969 9300l-72 50-71 42-47-1-9-49 39-68 66-76 80-77 79-66 78-65 78-63 74-49 72-47 67-42 45-16 30 20 11 52-42 68-63 64-72 57-69 57-69 58-68 56-68 46-69 49 M6067 8964l43-33 43-29 44-31 34-19 24-2 17 22-8 36-32 41-41 36-44 36-44 36-43 36-42 31-41 26-42 31-42 26-36 15-15-20 12-37 36-45 45-45 45-40 44-35 43-36 M6220 8865l41-7 28 35-15 59-56 69-67 57-69 55-66 56-68 58-68 52-67 45-68 48-63 37-50 17-17-36 20-56 52-68 67-68 69-62 68-56 68-57 67-50 66-45 70-50 58-33 M6316 8903l-35 44-43 38-46 38-45 38-47 40-46 35-46 30-46 33-43 26-34 11-11-24 15-40 37-47 46-46 47-41 45-36 43-37 43-32 43-28 45-32 37-22 28-6 20 22-7 36 M5815 9327l22-61 59-73 71-71 72-64 69-55 68-59 69-53 70-47 72-52 56-31 37-3 24 40-17 59-54 67-64 56-67 55-67 58-70 60-70 54-70 47-72 51-66 40-54 19-18-37 M6128 9099l-65 55-66 47-68 47-66 45-59 30-31-11 3-51 42-64 59-66 68-64 64-54 65-53 64-53 64-46 67-48 68-46 50-24 36 13 12 49-44 68-64 63-70 54-65 54-64 55 M6325 8798l18 29-11 43-40 49-47 41-49 41-50 42-51 44-51 39-51 33-50 35-46 27-36 12-12-27 16-43 39-50 49-50 50-45 50-41 50-44 51-39 51-35 52-36 41-23 27-2 M6068 9043l-46 31-44 30-44 28-39 21-24-5-1-33 26-42 40-46 48-45 46-38 45-37 45-37 45-32 46-32 45-31 33-14 21 11 7 34-29 45-40 41-45 37-45 37-45 39-45 38 M6233 9014l-20 33-31 32-36 28-35 30-35 29-34 28-34 23-34 24-34 23-32 17-17-5 1-26 21-34 31-34 36-34 33-28 34-29 35-28 34-24 34-24 33-22 24-10 18 7 8 24 M6201 8999l-37 39-42 34-42 35-43 36-42 35-42 29-43 29-43 30-43 25-26-3-2-32 29-44 43-46 48-44 43-36 42-35 43-37 45-32 46-33 44-29 29-11 17 14 4 34-28 42 M6221 9003l-45 39-48 39-47 39-47 39-46 34-45 30-46 33-44 27-35 13-11-25 16-41 39-48 47-45 45-40 44-36 43-37 43-33 43-29 45-32 37-21 28-5 22 20-5 35-33 44 M6041 8979l74-50 74-48 68-44 47-18 32 20 10 54-44 69-63 66-73 57-70 59-70 59-71 57-68 47-69 47-68 46-66 36-42-3-9-47 36-65 61-73 78-75 77-66 78-65 78-63 M5866 9154l39-46 48-46 47-40 48-40 47-38 46-32 47-31 45-30 32-14 21 12 6 35-30 46-43 42-47 36-43 36-43 36-43 37-44 31-45 31-45 30-41 23-24-5-3-32 25-41 M5922 9223l39-34 37-31 38-33 38-29 38-25 39-27 31-18 22-3 16 20-6 31-30 38-37 32-39 32-39 32-39 33-38 29-38 25-40 28-37 23-29 10-10-21 13-33 32-40 39-39 M5685 9376l1-55 45-69 64-72 74-70 71-61 71-60 72-60 71-48 71-47 65-43 46-18 32 18 13 50-41 66-61 63-71 56-68 58-69 59-70 58-71 50-72 51-72 49-66 35-35-10 M6238 8800l11 43-40 60-57 56-62 47-56 46-54 45-55 47-56 40-57 39-54 36-47 23-24-10 0-41 31-51 46-54 57-54 56-48 56-46 56-46 55-37 57-40 58-41 46-23 33 9 M5826 9274l17-45 42-53 51-52 53-47 51-43 52-44 52-40 52-35 55-39 46-27 32-5 22 27-11 46-44 54-53 44-54 44-53 44-52 44-52 39-51 35-53 37-50 30-39 14-13-28 M6398 8700l52-19 33 22 10 60-49 76-69 71-79 62-76 63-76 64-75 61-74 51-75 52-76 52-71 39-41-8-2-56 47-74 68-77 80-76 76-65 78-67 80-68 81-57 82-56 76-50 M6410 8927l-34 28-34 28-34 28-33 26-34 23-36 26-34 21-26 9-8-19 13-31 30-36 34-34 35-30 32-26 32-27 32-24 30-20 32-22 26-15 20-4 16 14-3 25-25 32-31 28 M6218 9097l-68 56-68 46-68 47-69 47-65 36-38-6-1-52 44-68 65-72 74-68 68-58 68-57 69-58 70-49 71-49 68-45 47-20 33 17 12 51-40 66-61 63-71 57-70 58-70 58 M6056 9070l-30 21-31 22-29 18-23 7-7-16 10-26 24-31 30-30 31-27 29-24 30-25 29-22 29-20 31-22 26-16 19-3 12 16-7 26-25 31-31 25-30 24-29 25-29 25-29 22 M6460 8705l31 22 14 53-39 68-60 66-75 62-77 65-79 65-77 62-74 49-74 50-74 51-73 41-46-4-5-55 46-74 71-80 82-77 79-67 79-67 80-67 79-54 77-51 70-43 45-15 M5850 9257l-9-27 16-43 39-49 47-47 48-44 47-39 49-42 48-37 49-32 49-35 39-21 27-3 19 26-10 40-39 48-46 40-48 39-48 40-48 42-49 37-49 33-49 35-46 28-36 11 M6104 9032l-47 39-47 39-45 33-45 30-46 33-45 28-38 14-12-24 16-41 40-48 47-47 46-41 44-37 45-39 47-37 48-34 49-35 39-21 25-1 16 26-10 40-36 46-44 38-47 39 M5680 9319l51-57 57-55 56-48 57-48 58-49 58-41 58-39 55-36 38-15 27 14 11 41-33 55-51 52-59 47-57 47-57 48-57 48-57 40-59 40-57 39-52 28-27-10 3-45 37-56 M6325 8817l39-3 28 40-15 61-58 73-71 61-74 60-73 59-72 60-69 53-71 48-75 54-73 46-57 21-15-41 29-67 63-75 72-72 70-62 67-58 71-63 74-58 75-52 76-54 59-31 M6124 9061l-27 24-29 25-30 23-28 18-29 20-25 15-21 6-7-14 7-24 22-28 29-29 29-26 29-23 28-23 27-20 27-18 28-20 24-14 17-3 11 14-5 23-22 28-27 23-28 23 M5873 9262l-67 42-57 26-29-14-2-51 37-63 58-69 73-71 74-62 73-59 70-55 68-45 69-47 70-49 54-27 40 13 12 52-47 71-66 67-72 57-68 57-69 62-73 63-75 53-73 49 M6007 9006l65-55 65-54 66-46 68-47 65-44 46-19 30 16 8 51-44 66-61 60-66 52-61 51-62 54-64 55-67 49-70 50-69 48-61 32-32-12 5-54 44-66 61-67 68-65 66-55 M6732 8425l4 12-1 15-6 19-11 21-16 23-20 25-25 26-29 27-32 28-35 28-37 27-39 26-40 25-40 23-39 20-39 19-36 15-34 12-32 9-27 5-24 1-19-2-15-5-9-9-5-13 1-15 6-18 11-21 16-24 21-24 25-27 29-27 32-28 35-27 37-27 39-27 40-24 40-23 39-21 38-18 37-15 34-12 31-9 28-5 24-2 19 2 14 6 10 9 M6732 8457l4 13-1 16-6 19-11 21-16 23-21 26-26 26-29 28-33 28-35 28-38 28-39 26-41 26-40 23-40 21-39 18-38 16-34 12-32 9-28 5-24 2-20-2-14-6-10-9-5-12 1-16 6-19 12-21 16-24 21-25 25-27 30-27 32-29 36-28 38-27 39-27 40-25 41-23 40-21 39-19 37-15 35-13 32-8 28-6 24-1 19 2 15 5 10 9 M6670 8562l5 10 1 12-3 15-7 17-10 18-14 19-17 21-19 21-22 21-24 21-26 21-28 20-28 19-28 17-28 16-28 13-27 11-25 9-22 6-21 4-18 0-15-2-11-5-8-8-5-10 0-12 3-15 6-17 10-18 14-19 17-21 19-21 22-21 25-21 26-21 27-20 28-19 28-17 29-16 27-13 27-11 25-9 23-6 20-4 18 0 15 2 11 5 8 8 M6676 8468l5 10 0 12-3 15-6 16-10 17-13 19-16 20-19 21-22 20-23 21-26 20-26 20-27 18-28 17-27 15-27 13-26 11-24 8-23 6-20 3-17 1-14-2-11-5-8-7-5-10 0-12 3-15 6-16 10-17 13-19 17-20 19-21 21-20 24-21 25-20 26-20 27-18 28-17 27-15 27-13 26-11 24-8 23-6 20-3 17-1 14 2 12 5 7 7 M6616 8526l3 8 1 11-3 12-5 14-9 15-11 17-14 17-17 18-18 17-20 18-22 18-23 16-24 16-23 15-24 13-23 11-22 9-21 8-20 5-17 3-15 0-12-2-10-4-7-6-3-9-1-10 3-13 5-14 9-15 11-16 14-17 17-18 18-18 20-18 22-17 23-17 24-16 23-14 24-13 23-11 22-10 21-7 20-5 17-3 15 0 12 1 10 5 7 6 M6686 8525l4 9 0 11-2 13-6 14-9 16-12 17-15 18-17 19-19 18-21 19-23 18-24 18-24 16-25 15-25 14-24 12-23 9-22 8-20 5-18 3-16 1-13-2-10-5-7-6-4-9 0-11 2-13 6-14 9-16 12-17 14-18 18-19 19-18 21-19 23-18 24-18 24-16 25-15 25-14 24-11 23-10 22-8 20-5 18-3 16-1 13 2 10 5 7 6 M6596 8550l4 6 2 7 0 9-1 9-4 10-5 11-6 12-8 11-9 12-11 12-11 11-12 11-13 10-13 9-14 9-13 7-13 5-12 5-12 3-10 1-10 0-8-1-7-4-5-4-4-6-2-7 0-9 2-9 3-10 5-11 6-12 8-11 10-12 10-12 11-11 13-11 12-10 14-10 13-8 13-7 13-6 12-4 12-3 11-2 9 1 8 1 7 3 5 5 M6687 8522l6 10 4 12 0 14-3 15-5 17-8 18-11 19-13 20-16 19-17 19-19 19-20 18-21 17-22 15-22 14-22 12-21 9-21 8-19 5-18 2-16 0-13-3-12-5-8-8-6-9-3-13-1-13 3-16 5-17 8-18 11-19 13-19 16-20 17-19 19-19 20-18 22-17 21-15 22-14 22-12 22-9 20-8 19-4 18-3 16 0 13 3 12 5 8 8 M6584 8592l3 6 2 7 0 7-2 9-3 9-4 11-6 10-7 11-9 11-10 10-10 11-11 10-12 9-12 9-13 8-12 6-12 5-11 5-11 2-10 2-9 0-7-2-6-3-5-4-4-6-1-6-1-8 2-9 3-9 4-10 6-11 8-11 8-10 10-11 11-11 11-10 12-9 12-9 12-7 12-7 12-5 12-4 10-3 10-1 9 0 8 1 6 3 5 4 M6610 8528l5 8 2 10 1 12-3 13-4 14-7 16-9 16-11 16-13 16-15 17-16 15-17 15-18 15-18 13-18 11-19 10-18 8-17 6-16 4-15 2-13 0-12-2-9-4-8-7-5-8-2-10-1-12 2-13 5-14 7-16 9-15 11-17 13-16 15-16 16-16 17-15 17-15 19-13 18-11 19-10 18-8 17-6 16-4 15-2 13 0 12 2 9 4 8 7 M5765 9274l6 8 5 10 2 11 0 13-2 14-4 14-6 16-8 16-9 16-11 15-13 16-13 14-15 14-15 13-16 11-16 9-16 8-15 6-15 4-14 2-13 0-11-3-10-4-8-6-6-8-5-10-2-11 0-13 2-14 4-15 6-15 7-16 10-16 11-16 13-15 13-15 15-13 15-13 16-11 16-10 16-8 15-5 15-4 14-2 13 0 11 2 10 4 8 7 M5747 9311l5 8 4 9 2 10 0 12-1 13-4 13-5 14-8 15-8 14-11 15-11 14-13 13-13 13-14 11-14 11-15 8-15 7-14 6-13 4-13 1-12 0-10-2-9-4-7-6-6-7-4-9-2-10 0-12 1-13 4-13 6-15 7-14 8-15 11-14 11-14 13-13 13-13 14-11 15-11 14-8 15-8 14-5 13-4 13-1 12 0 10 2 9 4 8 5 M5750 9285l5 7 4 8 2 10 0 11-2 11-3 13-5 13-7 14-8 13-9 14-11 13-12 12-12 12-13 11-14 9-14 9-13 6-13 5-13 4-12 1-11 0-9-2-9-3-7-6-5-7-4-8-2-10 0-11 2-12 3-12 5-13 7-14 8-13 10-14 10-13 12-13 13-11 13-11 13-9 14-9 13-6 13-5 13-4 12-1 11 0 10 2 8 3 7 6 M5757 9290l6 8 4 9 2 11 0 12-2 13-3 14-6 15-7 15-9 15-11 15-12 14-13 14-14 13-14 12-15 11-16 9-15 7-14 6-14 4-14 2-12-1-10-2-10-4-8-6-5-7-5-10-2-11 0-12 2-13 4-14 5-15 8-15 9-15 10-15 12-14 13-14 14-13 15-12 15-11 15-9 15-7 15-6 14-4 13-2 12 1 11 2 9 4 8 6 M6041 8914l5 8 2 12-2 15-5 18-9 20-12 23-15 24-18 25-20 27-23 27-24 27-26 26-26 26-27 24-27 23-27 20-25 18-24 15-23 12-20 9-18 5-15 2-12-2-8-5-5-8-2-12 2-15 5-18 9-20 12-23 15-24 18-25 20-27 23-27 24-27 26-26 26-26 27-24 27-23 27-20 25-18 24-15 23-12 20-9 18-5 15-2 12 2 8 5 M6099 8843l7 10 2 14-3 18-6 21-10 24-14 26-18 29-21 30-24 31-27 32-28 31-30 31-32 31-31 28-32 27-31 24-30 21-29 17-26 15-24 10-21 6-17 2-14-2-10-6-7-10-2-14 3-17 6-21 10-24 14-27 18-28 21-30 24-31 27-32 28-32 30-31 32-30 31-29 32-26 31-24 30-21 29-18 26-14 24-10 21-7 17-2 14 2 10 6"/></g>
</g>
</g>
<defs>
<clipPath id="c_I_a"><rect x="28.3" y="2.8" width="126.1" height="110.3"/></clipPath>
<clipPath id="c_I_b"><rect x="196.7" y="2.8" width="126.6" height="110.3"/></clipPath>
<clipPath id="c_I_c"><rect x="28.3" y="156" width="126.1" height="109.5"/></clipPath>
<clipPath id="c_I_d"><rect x="196.7" y="156" width="126.6" height="109.5"/></clipPath>
<clipPath id="c_I_e"><rect x="28.3" y="308.8" width="126.1" height="110"/></clipPath>
<clipPath id="c_I_f"><rect x="196.7" y="308.8" width="126.6" height="110"/></clipPath>
<clipPath id="c_II_a"><rect x="383.5" y="3.7" width="124.8" height="110.2"/></clipPath>
<clipPath id="c_II_b"><rect x="548.3" y="3.7" width="125.1" height="110.2"/></clipPath>
<clipPath id="c_II_c"><rect x="383.5" y="156.6" width="124.8" height="110.1"/></clipPath>
<clipPath id="c_II_d"><rect x="548.3" y="156.6" width="125.1" height="110.1"/></clipPath>
<clipPath id="c_II_e"><rect x="383.5" y="309.7" width="124.8" height="110.4"/></clipPath>
<clipPath id="c_II_f"><rect x="548.3" y="309.7" width="125.1" height="110.4"/></clipPath>
<clipPath id="c_III_a"><rect x="28.3" y="532" width="127.2" height="112.1"/></clipPath>
<clipPath id="c_III_b"><rect x="195.3" y="532" width="126.3" height="112.1"/></clipPath>
<clipPath id="c_III_c"><rect x="28.3" y="687.4" width="127.2" height="111.8"/></clipPath>
<clipPath id="c_III_d"><rect x="195.3" y="687.4" width="126.3" height="111.8"/></clipPath>
<clipPath id="c_III_e"><rect x="28.3" y="842.8" width="127.2" height="111.5"/></clipPath>
<clipPath id="c_III_f"><rect x="195.3" y="842.8" width="126.3" height="111.5"/></clipPath>
<clipPath id="c_IV_a"><rect x="387.4" y="535.3" width="123.8" height="110.7"/></clipPath>
<clipPath id="c_IV_b"><rect x="553.5" y="535.3" width="124" height="110.7"/></clipPath>
<clipPath id="c_IV_c"><rect x="387.4" y="688.9" width="123.8" height="110"/></clipPath>
<clipPath id="c_IV_d"><rect x="553.5" y="688.9" width="124" height="110"/></clipPath>
<clipPath id="c_IV_e"><rect x="387.4" y="842" width="123.8" height="110.3"/></clipPath>
<clipPath id="c_IV_f"><rect x="553.5" y="842" width="124" height="110.3"/></clipPath>
</defs>
<g font-family="Liberation Sans, sans-serif" font-size="8.0" fill="#262626" stroke="#262626" stroke-width="0.15">
<path d="M40.2 113.1v-1.6 M40.2 2.8v1.6 M67.4 113.1v-1.6 M67.4 2.8v1.6 M94.5 113.1v-1.6 M94.5 2.8v1.6 M121.7 113.1v-1.6 M121.7 2.8v1.6 M148.9 113.1v-1.6 M148.9 2.8v1.6 M28.3 7.8h1.6 M154.4 7.8h-1.6 M28.3 31.5h1.6 M154.4 31.5h-1.6 M28.3 55.2h1.6 M154.4 55.2h-1.6 M28.3 78.8h1.6 M154.4 78.8h-1.6 M28.3 102.5h1.6 M154.4 102.5h-1.6" stroke="#404040" stroke-width="0.8" fill="none"/>
<rect x="28.3" y="2.8" width="126.1" height="110.3" fill="none" stroke="#404040" stroke-width="1.1"/>
<text transform="translate(40.2 123.9) scale(1 1.12)" text-anchor="middle">-0.2</text>
<text transform="translate(67.4 123.9) scale(1 1.12)" text-anchor="middle">-0.1</text>
<text transform="translate(94.5 123.9) scale(1 1.12)" text-anchor="middle">0</text>
<text transform="translate(121.7 123.9) scale(1 1.12)" text-anchor="middle">0.1</text>
<text transform="translate(148.9 123.9) scale(1 1.12)" text-anchor="middle">0.2</text>
<text transform="translate(25.1 11.3) scale(1 1.12)" text-anchor="end">0.2</text>
<text transform="translate(25.1 35) scale(1 1.12)" text-anchor="end">0.1</text>
<text transform="translate(25.1 58.7) scale(1 1.12)" text-anchor="end">0</text>
<text transform="translate(25.1 82.3) scale(1 1.12)" text-anchor="end">-0.1</text>
<text transform="translate(25.1 106) scale(1 1.12)" text-anchor="end">-0.2</text>
<g font-size="9.0">
<text x="91.35" y="135.9" text-anchor="middle">x(t)</text>
<text x="91.35" y="144.7" text-anchor="middle">(a)</text>
<text transform="translate(6.6 57.95) rotate(-90)" text-anchor="middle">x(t+4)</text>
</g>
<path d="M196.7 113.1v-1.6 M196.7 2.8v1.6 M228.4 113.1v-1.6 M228.4 2.8v1.6 M260 113.1v-1.6 M260 2.8v1.6 M291.7 113.1v-1.6 M291.7 2.8v1.6 M323.3 113.1v-1.6 M323.3 2.8v1.6 M196.7 2.8h1.6 M323.3 2.8h-1.6 M196.7 30.4h1.6 M323.3 30.4h-1.6 M196.7 58h1.6 M323.3 58h-1.6 M196.7 85.5h1.6 M323.3 85.5h-1.6 M196.7 113.1h1.6 M323.3 113.1h-1.6" stroke="#404040" stroke-width="0.8" fill="none"/>
<rect x="196.7" y="2.8" width="126.6" height="110.3" fill="none" stroke="#404040" stroke-width="1.1"/>
<text transform="translate(196.7 123.9) scale(1 1.12)" text-anchor="middle">-0.2</text>
<text transform="translate(228.4 123.9) scale(1 1.12)" text-anchor="middle">-0.1</text>
<text transform="translate(260 123.9) scale(1 1.12)" text-anchor="middle">0</text>
<text transform="translate(291.7 123.9) scale(1 1.12)" text-anchor="middle">0.1</text>
<text transform="translate(323.3 123.9) scale(1 1.12)" text-anchor="middle">0.2</text>
<text transform="translate(193.5 6.3) scale(1 1.12)" text-anchor="end">0.2</text>
<text transform="translate(193.5 33.9) scale(1 1.12)" text-anchor="end">0.1</text>
<text transform="translate(193.5 61.5) scale(1 1.12)" text-anchor="end">0</text>
<text transform="translate(193.5 89) scale(1 1.12)" text-anchor="end">-0.1</text>
<text transform="translate(193.5 116.6) scale(1 1.12)" text-anchor="end">-0.2</text>
<g font-size="9.0">
<text x="260" y="135.9" text-anchor="middle">x(t)</text>
<text x="260" y="144.7" text-anchor="middle">(b)</text>
<text transform="translate(175 57.95) rotate(-90)" text-anchor="middle">x(t+4)</text>
</g>
<path d="M28.3 265.5v-1.6 M28.3 156v1.6 M59.8 265.5v-1.6 M59.8 156v1.6 M91.3 265.5v-1.6 M91.3 156v1.6 M122.9 265.5v-1.6 M122.9 156v1.6 M154.4 265.5v-1.6 M154.4 156v1.6 M28.3 156h1.6 M154.4 156h-1.6 M28.3 183.4h1.6 M154.4 183.4h-1.6 M28.3 210.8h1.6 M154.4 210.8h-1.6 M28.3 238.1h1.6 M154.4 238.1h-1.6 M28.3 265.5h1.6 M154.4 265.5h-1.6" stroke="#404040" stroke-width="0.8" fill="none"/>
<rect x="28.3" y="156" width="126.1" height="109.5" fill="none" stroke="#404040" stroke-width="1.1"/>
<text transform="translate(28.3 276.3) scale(1 1.12)" text-anchor="middle">-0.2</text>
<text transform="translate(59.8 276.3) scale(1 1.12)" text-anchor="middle">-0.1</text>
<text transform="translate(91.3 276.3) scale(1 1.12)" text-anchor="middle">0</text>
<text transform="translate(122.9 276.3) scale(1 1.12)" text-anchor="middle">0.1</text>
<text transform="translate(154.4 276.3) scale(1 1.12)" text-anchor="middle">0.2</text>
<text transform="translate(25.1 159.5) scale(1 1.12)" text-anchor="end">0.2</text>
<text transform="translate(25.1 186.9) scale(1 1.12)" text-anchor="end">0.1</text>
<text transform="translate(25.1 214.3) scale(1 1.12)" text-anchor="end">0</text>
<text transform="translate(25.1 241.6) scale(1 1.12)" text-anchor="end">-0.1</text>
<text transform="translate(25.1 269) scale(1 1.12)" text-anchor="end">-0.2</text>
<g font-size="9.0">
<text x="91.35" y="288.3" text-anchor="middle">x(t)</text>
<text x="91.35" y="297.1" text-anchor="middle">(c)</text>
<text transform="translate(6.6 210.75) rotate(-90)" text-anchor="middle">x(t+4)</text>
</g>
<path d="M196.7 265.5v-1.6 M196.7 156v1.6 M228.4 265.5v-1.6 M228.4 156v1.6 M260 265.5v-1.6 M260 156v1.6 M291.7 265.5v-1.6 M291.7 156v1.6 M323.3 265.5v-1.6 M323.3 156v1.6 M196.7 156h1.6 M323.3 156h-1.6 M196.7 177.9h1.6 M323.3 177.9h-1.6 M196.7 199.8h1.6 M323.3 199.8h-1.6 M196.7 221.7h1.6 M323.3 221.7h-1.6 M196.7 243.6h1.6 M323.3 243.6h-1.6 M196.7 265.5h1.6 M323.3 265.5h-1.6" stroke="#404040" stroke-width="0.8" fill="none"/>
<rect x="196.7" y="156" width="126.6" height="109.5" fill="none" stroke="#404040" stroke-width="1.1"/>
<text transform="translate(196.7 276.3) scale(1 1.12)" text-anchor="middle">-0.2</text>
<text transform="translate(228.4 276.3) scale(1 1.12)" text-anchor="middle">-0.1</text>
<text transform="translate(260 276.3) scale(1 1.12)" text-anchor="middle">0</text>
<text transform="translate(291.7 276.3) scale(1 1.12)" text-anchor="middle">0.1</text>
<text transform="translate(323.3 276.3) scale(1 1.12)" text-anchor="middle">0.2</text>
<text transform="translate(193.5 159.5) scale(1 1.12)" text-anchor="end">0.3</text>
<text transform="translate(193.5 181.4) scale(1 1.12)" text-anchor="end">0.2</text>
<text transform="translate(193.5 203.3) scale(1 1.12)" text-anchor="end">0.1</text>
<text transform="translate(193.5 225.2) scale(1 1.12)" text-anchor="end">0</text>
<text transform="translate(193.5 247.1) scale(1 1.12)" text-anchor="end">-0.1</text>
<text transform="translate(193.5 269) scale(1 1.12)" text-anchor="end">-0.2</text>
<g font-size="9.0">
<text x="260" y="288.3" text-anchor="middle">x(t)</text>
<text x="260" y="297.1" text-anchor="middle">(d)</text>
<text transform="translate(175 210.75) rotate(-90)" text-anchor="middle">x(t+4)</text>
</g>
<path d="M28 418.8v-1.6 M28 308.8v1.6 M59.2 418.8v-1.6 M59.2 308.8v1.6 M90.5 418.8v-1.6 M90.5 308.8v1.6 M121.8 418.8v-1.6 M121.8 308.8v1.6 M153 418.8v-1.6 M153 308.8v1.6 M28.3 310.7h1.6 M154.4 310.7h-1.6 M28.3 337.7h1.6 M154.4 337.7h-1.6 M28.3 364.8h1.6 M154.4 364.8h-1.6 M28.3 391.8h1.6 M154.4 391.8h-1.6 M28.3 418.8h1.6 M154.4 418.8h-1.6" stroke="#404040" stroke-width="0.8" fill="none"/>
<rect x="28.3" y="308.8" width="126.1" height="110" fill="none" stroke="#404040" stroke-width="1.1"/>
<text transform="translate(28 429.6) scale(1 1.12)" text-anchor="middle">-0.2</text>
<text transform="translate(59.2 429.6) scale(1 1.12)" text-anchor="middle">-0.1</text>
<text transform="translate(90.5 429.6) scale(1 1.12)" text-anchor="middle">0</text>
<text transform="translate(121.8 429.6) scale(1 1.12)" text-anchor="middle">0.1</text>
<text transform="translate(153 429.6) scale(1 1.12)" text-anchor="middle">0.2</text>
<text transform="translate(25.1 314.2) scale(1 1.12)" text-anchor="end">0.2</text>
<text transform="translate(25.1 341.2) scale(1 1.12)" text-anchor="end">0.1</text>
<text transform="translate(25.1 368.3) scale(1 1.12)" text-anchor="end">0</text>
<text transform="translate(25.1 395.3) scale(1 1.12)" text-anchor="end">-0.1</text>
<text transform="translate(25.1 422.3) scale(1 1.12)" text-anchor="end">-0.2</text>
<g font-size="9.0">
<text x="91.35" y="441.6" text-anchor="middle">x(t)</text>
<text x="91.35" y="450.4" text-anchor="middle">(e)</text>
<text transform="translate(6.6 363.8) rotate(-90)" text-anchor="middle">x(t+4)</text>
</g>
<path d="M215.7 418.8v-1.6 M215.7 308.8v1.6 M254 418.8v-1.6 M254 308.8v1.6 M292.3 418.8v-1.6 M292.3 308.8v1.6 M196.7 320.4h1.6 M323.3 320.4h-1.6 M196.7 336.9h1.6 M323.3 336.9h-1.6 M196.7 353.4h1.6 M323.3 353.4h-1.6 M196.7 369.9h1.6 M323.3 369.9h-1.6 M196.7 386.4h1.6 M323.3 386.4h-1.6 M196.7 402.9h1.6 M323.3 402.9h-1.6" stroke="#404040" stroke-width="0.8" fill="none"/>
<rect x="196.7" y="308.8" width="126.6" height="110" fill="none" stroke="#404040" stroke-width="1.1"/>
<text transform="translate(215.7 429.6) scale(1 1.12)" text-anchor="middle">-0.1</text>
<text transform="translate(254 429.6) scale(1 1.12)" text-anchor="middle">0</text>
<text transform="translate(292.3 429.6) scale(1 1.12)" text-anchor="middle">0.1</text>
<text transform="translate(193.5 323.9) scale(1 1.12)" text-anchor="end">0.15</text>
<text transform="translate(193.5 340.4) scale(1 1.12)" text-anchor="end">0.1</text>
<text transform="translate(193.5 356.9) scale(1 1.12)" text-anchor="end">0.05</text>
<text transform="translate(193.5 373.4) scale(1 1.12)" text-anchor="end">0</text>
<text transform="translate(193.5 389.9) scale(1 1.12)" text-anchor="end">-0.05</text>
<text transform="translate(193.5 406.4) scale(1 1.12)" text-anchor="end">-0.1</text>
<g font-size="9.0">
<text x="260" y="441.6" text-anchor="middle">x(t)</text>
<text x="260" y="450.4" text-anchor="middle">(f)</text>
<text transform="translate(171 363.8) rotate(-90)" text-anchor="middle">x(t+4)</text>
</g>
<path d="M400 113.9v-1.6 M400 3.7v1.6 M434.5 113.9v-1.6 M434.5 3.7v1.6 M469 113.9v-1.6 M469 3.7v1.6 M503.4 113.9v-1.6 M503.4 3.7v1.6 M383.5 7.9h1.6 M508.3 7.9h-1.6 M383.5 38.3h1.6 M508.3 38.3h-1.6 M383.5 68.7h1.6 M508.3 68.7h-1.6 M383.5 99.1h1.6 M508.3 99.1h-1.6" stroke="#404040" stroke-width="0.8" fill="none"/>
<rect x="383.5" y="3.7" width="124.8" height="110.2" fill="none" stroke="#404040" stroke-width="1.1"/>
<text transform="translate(400 124.35) scale(1 1.12)" text-anchor="middle">-0.1</text>
<text transform="translate(434.5 124.35) scale(1 1.12)" text-anchor="middle">0</text>
<text transform="translate(469 124.35) scale(1 1.12)" text-anchor="middle">0.1</text>
<text transform="translate(503.4 124.35) scale(1 1.12)" text-anchor="middle">0.2</text>
<text transform="translate(380.3 11.4) scale(1 1.12)" text-anchor="end">0.2</text>
<text transform="translate(380.3 41.8) scale(1 1.12)" text-anchor="end">0.1</text>
<text transform="translate(380.3 72.2) scale(1 1.12)" text-anchor="end">0</text>
<text transform="translate(380.3 102.6) scale(1 1.12)" text-anchor="end">-0.1</text>
<g font-size="9.0">
<text x="445.9" y="135.35" text-anchor="middle">x(t)</text>
<text x="445.9" y="144.85" text-anchor="middle">(a)</text>
<text transform="translate(362.8 58.8) rotate(-90)" text-anchor="middle">x(t+4)</text>
</g>
<path d="M564.8 113.9v-1.6 M564.8 3.7v1.6 M599.2 113.9v-1.6 M599.2 3.7v1.6 M633.4 113.9v-1.6 M633.4 3.7v1.6 M667.6 113.9v-1.6 M667.6 3.7v1.6 M548.3 8.6h1.6 M673.4 8.6h-1.6 M548.3 23.7h1.6 M673.4 23.7h-1.6 M548.3 38.8h1.6 M673.4 38.8h-1.6 M548.3 53.9h1.6 M673.4 53.9h-1.6 M548.3 69h1.6 M673.4 69h-1.6 M548.3 84.1h1.6 M673.4 84.1h-1.6 M548.3 99.2h1.6 M673.4 99.2h-1.6" stroke="#404040" stroke-width="0.8" fill="none"/>
<rect x="548.3" y="3.7" width="125.1" height="110.2" fill="none" stroke="#404040" stroke-width="1.1"/>
<text transform="translate(564.8 124.35) scale(1 1.12)" text-anchor="middle">-0.1</text>
<text transform="translate(599.2 124.35) scale(1 1.12)" text-anchor="middle">0</text>
<text transform="translate(633.4 124.35) scale(1 1.12)" text-anchor="middle">0.1</text>
<text transform="translate(667.6 124.35) scale(1 1.12)" text-anchor="middle">0.2</text>
<text transform="translate(545.1 12.1) scale(1 1.12)" text-anchor="end">0.2</text>
<text transform="translate(545.1 27.2) scale(1 1.12)" text-anchor="end">0.15</text>
<text transform="translate(545.1 42.3) scale(1 1.12)" text-anchor="end">0.1</text>
<text transform="translate(545.1 57.4) scale(1 1.12)" text-anchor="end">0.05</text>
<text transform="translate(545.1 72.5) scale(1 1.12)" text-anchor="end">0</text>
<text transform="translate(545.1 87.6) scale(1 1.12)" text-anchor="end">-0.05</text>
<text transform="translate(545.1 102.7) scale(1 1.12)" text-anchor="end">-0.1</text>
<g font-size="9.0">
<text x="610.85" y="135.35" text-anchor="middle">x(t)</text>
<text x="610.85" y="144.85" text-anchor="middle">(b)</text>
<text transform="translate(523.9 58.8) rotate(-90)" text-anchor="middle">x(t+4)</text>
</g>
<path d="M399.3 266.7v-1.6 M399.3 156.6v1.6 M433.4 266.7v-1.6 M433.4 156.6v1.6 M467.6 266.7v-1.6 M467.6 156.6v1.6 M501.7 266.7v-1.6 M501.7 156.6v1.6 M383.5 161h1.6 M508.3 161h-1.6 M383.5 191.2h1.6 M508.3 191.2h-1.6 M383.5 221.4h1.6 M508.3 221.4h-1.6 M383.5 251.6h1.6 M508.3 251.6h-1.6" stroke="#404040" stroke-width="0.8" fill="none"/>
<rect x="383.5" y="156.6" width="124.8" height="110.1" fill="none" stroke="#404040" stroke-width="1.1"/>
<text transform="translate(399.3 277.15) scale(1 1.12)" text-anchor="middle">-0.1</text>
<text transform="translate(433.4 277.15) scale(1 1.12)" text-anchor="middle">0</text>
<text transform="translate(467.6 277.15) scale(1 1.12)" text-anchor="middle">0.1</text>
<text transform="translate(501.7 277.15) scale(1 1.12)" text-anchor="middle">0.2</text>
<text transform="translate(380.3 164.5) scale(1 1.12)" text-anchor="end">0.2</text>
<text transform="translate(380.3 194.7) scale(1 1.12)" text-anchor="end">0.1</text>
<text transform="translate(380.3 224.9) scale(1 1.12)" text-anchor="end">0</text>
<text transform="translate(380.3 255.1) scale(1 1.12)" text-anchor="end">-0.1</text>
<g font-size="9.0">
<text x="445.9" y="288.15" text-anchor="middle">x(t)</text>
<text x="445.9" y="297.65" text-anchor="middle">(c)</text>
<text transform="translate(362.8 211.65) rotate(-90)" text-anchor="middle">x(t+4)</text>
</g>
<path d="M565.5 266.7v-1.6 M565.5 156.6v1.6 M599.8 266.7v-1.6 M599.8 156.6v1.6 M634.1 266.7v-1.6 M634.1 156.6v1.6 M668.4 266.7v-1.6 M668.4 156.6v1.6 M548.3 161.8h1.6 M673.4 161.8h-1.6 M548.3 176.9h1.6 M673.4 176.9h-1.6 M548.3 192h1.6 M673.4 192h-1.6 M548.3 207.1h1.6 M673.4 207.1h-1.6 M548.3 222.2h1.6 M673.4 222.2h-1.6 M548.3 237.3h1.6 M673.4 237.3h-1.6 M548.3 252.4h1.6 M673.4 252.4h-1.6" stroke="#404040" stroke-width="0.8" fill="none"/>
<rect x="548.3" y="156.6" width="125.1" height="110.1" fill="none" stroke="#404040" stroke-width="1.1"/>
<text transform="translate(565.5 277.15) scale(1 1.12)" text-anchor="middle">-0.1</text>
<text transform="translate(599.8 277.15) scale(1 1.12)" text-anchor="middle">0</text>
<text transform="translate(634.1 277.15) scale(1 1.12)" text-anchor="middle">0.1</text>
<text transform="translate(668.4 277.15) scale(1 1.12)" text-anchor="middle">0.2</text>
<text transform="translate(545.1 165.3) scale(1 1.12)" text-anchor="end">0.2</text>
<text transform="translate(545.1 180.4) scale(1 1.12)" text-anchor="end">0.15</text>
<text transform="translate(545.1 195.5) scale(1 1.12)" text-anchor="end">0.1</text>
<text transform="translate(545.1 210.6) scale(1 1.12)" text-anchor="end">0.05</text>
<text transform="translate(545.1 225.7) scale(1 1.12)" text-anchor="end">0</text>
<text transform="translate(545.1 240.8) scale(1 1.12)" text-anchor="end">-0.05</text>
<text transform="translate(545.1 255.9) scale(1 1.12)" text-anchor="end">-0.1</text>
<g font-size="9.0">
<text x="610.85" y="288.15" text-anchor="middle">x(t)</text>
<text x="610.85" y="297.65" text-anchor="middle">(d)</text>
<text transform="translate(523.9 211.65) rotate(-90)" text-anchor="middle">x(t+4)</text>
</g>
<path d="M410.8 420.1v-1.6 M410.8 309.7v1.6 M441.8 420.1v-1.6 M441.8 309.7v1.6 M472.8 420.1v-1.6 M472.8 309.7v1.6 M503.8 420.1v-1.6 M503.8 309.7v1.6 M383.5 313.4h1.6 M508.3 313.4h-1.6 M383.5 340.8h1.6 M508.3 340.8h-1.6 M383.5 368.2h1.6 M508.3 368.2h-1.6 M383.5 395.6h1.6 M508.3 395.6h-1.6" stroke="#404040" stroke-width="0.8" fill="none"/>
<rect x="383.5" y="309.7" width="124.8" height="110.4" fill="none" stroke="#404040" stroke-width="1.1"/>
<text transform="translate(410.8 430.55) scale(1 1.12)" text-anchor="middle">-0.1</text>
<text transform="translate(441.8 430.55) scale(1 1.12)" text-anchor="middle">0</text>
<text transform="translate(472.8 430.55) scale(1 1.12)" text-anchor="middle">0.1</text>
<text transform="translate(503.8 430.55) scale(1 1.12)" text-anchor="middle">0.2</text>
<text transform="translate(380.3 316.9) scale(1 1.12)" text-anchor="end">0.2</text>
<text transform="translate(380.3 344.3) scale(1 1.12)" text-anchor="end">0.1</text>
<text transform="translate(380.3 371.7) scale(1 1.12)" text-anchor="end">0</text>
<text transform="translate(380.3 399.1) scale(1 1.12)" text-anchor="end">-0.1</text>
<g font-size="9.0">
<text x="445.9" y="441.55" text-anchor="middle">x(t)</text>
<text x="445.9" y="451.05" text-anchor="middle">(e)</text>
<text transform="translate(362.8 364.9) rotate(-90)" text-anchor="middle">x(t+4)</text>
</g>
<path d="M565 420.1v-1.6 M565 309.7v1.6 M599.8 420.1v-1.6 M599.8 309.7v1.6 M634.6 420.1v-1.6 M634.6 309.7v1.6 M669.4 420.1v-1.6 M669.4 309.7v1.6 M548.3 314.5h1.6 M673.4 314.5h-1.6 M548.3 329.7h1.6 M673.4 329.7h-1.6 M548.3 344.9h1.6 M673.4 344.9h-1.6 M548.3 360.1h1.6 M673.4 360.1h-1.6 M548.3 375.3h1.6 M673.4 375.3h-1.6 M548.3 390.5h1.6 M673.4 390.5h-1.6 M548.3 405.7h1.6 M673.4 405.7h-1.6" stroke="#404040" stroke-width="0.8" fill="none"/>
<rect x="548.3" y="309.7" width="125.1" height="110.4" fill="none" stroke="#404040" stroke-width="1.1"/>
<text transform="translate(565 430.55) scale(1 1.12)" text-anchor="middle">-0.1</text>
<text transform="translate(599.8 430.55) scale(1 1.12)" text-anchor="middle">0</text>
<text transform="translate(634.6 430.55) scale(1 1.12)" text-anchor="middle">0.1</text>
<text transform="translate(669.4 430.55) scale(1 1.12)" text-anchor="middle">0.2</text>
<text transform="translate(545.1 318) scale(1 1.12)" text-anchor="end">0.2</text>
<text transform="translate(545.1 333.2) scale(1 1.12)" text-anchor="end">0.15</text>
<text transform="translate(545.1 348.4) scale(1 1.12)" text-anchor="end">0.1</text>
<text transform="translate(545.1 363.6) scale(1 1.12)" text-anchor="end">0.05</text>
<text transform="translate(545.1 378.8) scale(1 1.12)" text-anchor="end">0</text>
<text transform="translate(545.1 394) scale(1 1.12)" text-anchor="end">-0.05</text>
<text transform="translate(545.1 409.2) scale(1 1.12)" text-anchor="end">-0.1</text>
<g font-size="9.0">
<text x="610.85" y="441.55" text-anchor="middle">x(t)</text>
<text x="610.85" y="451.05" text-anchor="middle">(f)</text>
<text transform="translate(523.9 364.9) rotate(-90)" text-anchor="middle">x(t+4)</text>
</g>
<path d="M59.2 644.1v-1.6 M59.2 532v1.6 M93.2 644.1v-1.6 M93.2 532v1.6 M127.3 644.1v-1.6 M127.3 532v1.6 M28.3 560.6h1.6 M155.5 560.6h-1.6 M28.3 591.4h1.6 M155.5 591.4h-1.6 M28.3 622.2h1.6 M155.5 622.2h-1.6" stroke="#404040" stroke-width="0.8" fill="none"/>
<rect x="28.3" y="532" width="127.2" height="112.1" fill="none" stroke="#404040" stroke-width="1.1"/>
<text transform="translate(59.2 655.35) scale(1 1.12)" text-anchor="middle">-0.1</text>
<text transform="translate(93.2 655.35) scale(1 1.12)" text-anchor="middle">0</text>
<text transform="translate(127.3 655.35) scale(1 1.12)" text-anchor="middle">0.1</text>
<text transform="translate(25.1 564.1) scale(1 1.12)" text-anchor="end">0.1</text>
<text transform="translate(25.1 594.9) scale(1 1.12)" text-anchor="end">0</text>
<text transform="translate(25.1 625.7) scale(1 1.12)" text-anchor="end">-0.1</text>
<g font-size="9.0">
<text x="91.9" y="668.4" text-anchor="middle">x(t)</text>
<text x="91.9" y="679.2" text-anchor="middle">(a)</text>
<text transform="translate(6.6 588.05) rotate(-90)" text-anchor="middle">x(t+4)</text>
</g>
<path d="M224.5 644.1v-1.6 M224.5 532v1.6 M259.3 644.1v-1.6 M259.3 532v1.6 M294.1 644.1v-1.6 M294.1 532v1.6 M195.3 559.4h1.6 M321.6 559.4h-1.6 M195.3 589.9h1.6 M321.6 589.9h-1.6 M195.3 620.4h1.6 M321.6 620.4h-1.6" stroke="#404040" stroke-width="0.8" fill="none"/>
<rect x="195.3" y="532" width="126.3" height="112.1" fill="none" stroke="#404040" stroke-width="1.1"/>
<text transform="translate(224.5 655.35) scale(1 1.12)" text-anchor="middle">-0.1</text>
<text transform="translate(259.3 655.35) scale(1 1.12)" text-anchor="middle">0</text>
<text transform="translate(294.1 655.35) scale(1 1.12)" text-anchor="middle">0.1</text>
<text transform="translate(192.1 562.9) scale(1 1.12)" text-anchor="end">0.1</text>
<text transform="translate(192.1 593.4) scale(1 1.12)" text-anchor="end">0</text>
<text transform="translate(192.1 623.9) scale(1 1.12)" text-anchor="end">-0.1</text>
<g font-size="9.0">
<text x="258.45" y="668.4" text-anchor="middle">x(t)</text>
<text x="258.45" y="679.2" text-anchor="middle">(b)</text>
<text transform="translate(173.6 588.05) rotate(-90)" text-anchor="middle">x(t+4)</text>
</g>
<path d="M58.7 799.2v-1.6 M58.7 687.4v1.6 M92.9 799.2v-1.6 M92.9 687.4v1.6 M127.1 799.2v-1.6 M127.1 687.4v1.6 M28.3 714h1.6 M155.5 714h-1.6 M28.3 744.8h1.6 M155.5 744.8h-1.6 M28.3 775.6h1.6 M155.5 775.6h-1.6" stroke="#404040" stroke-width="0.8" fill="none"/>
<rect x="28.3" y="687.4" width="127.2" height="111.8" fill="none" stroke="#404040" stroke-width="1.1"/>
<text transform="translate(58.7 810.45) scale(1 1.12)" text-anchor="middle">-0.1</text>
<text transform="translate(92.9 810.45) scale(1 1.12)" text-anchor="middle">0</text>
<text transform="translate(127.1 810.45) scale(1 1.12)" text-anchor="middle">0.1</text>
<text transform="translate(25.1 717.5) scale(1 1.12)" text-anchor="end">0.1</text>
<text transform="translate(25.1 748.3) scale(1 1.12)" text-anchor="end">0</text>
<text transform="translate(25.1 779.1) scale(1 1.12)" text-anchor="end">-0.1</text>
<g font-size="9.0">
<text x="91.9" y="823.5" text-anchor="middle">x(t)</text>
<text x="91.9" y="834.3" text-anchor="middle">(c)</text>
<text transform="translate(6.6 743.3) rotate(-90)" text-anchor="middle">x(t+4)</text>
</g>
<path d="M222.3 799.2v-1.6 M222.3 687.4v1.6 M256.8 799.2v-1.6 M256.8 687.4v1.6 M291.3 799.2v-1.6 M291.3 687.4v1.6 M195.3 712h1.6 M321.6 712h-1.6 M195.3 743h1.6 M321.6 743h-1.6 M195.3 774h1.6 M321.6 774h-1.6" stroke="#404040" stroke-width="0.8" fill="none"/>
<rect x="195.3" y="687.4" width="126.3" height="111.8" fill="none" stroke="#404040" stroke-width="1.1"/>
<text transform="translate(222.3 810.45) scale(1 1.12)" text-anchor="middle">-0.1</text>
<text transform="translate(256.8 810.45) scale(1 1.12)" text-anchor="middle">0</text>
<text transform="translate(291.3 810.45) scale(1 1.12)" text-anchor="middle">0.1</text>
<text transform="translate(192.1 715.5) scale(1 1.12)" text-anchor="end">0.1</text>
<text transform="translate(192.1 746.5) scale(1 1.12)" text-anchor="end">0</text>
<text transform="translate(192.1 777.5) scale(1 1.12)" text-anchor="end">-0.1</text>
<g font-size="9.0">
<text x="258.45" y="823.5" text-anchor="middle">x(t)</text>
<text x="258.45" y="834.3" text-anchor="middle">(d)</text>
<text transform="translate(173.6 743.3) rotate(-90)" text-anchor="middle">x(t+4)</text>
</g>
<path d="M57 954.3v-1.6 M57 842.8v1.6 M91.6 954.3v-1.6 M91.6 842.8v1.6 M126.2 954.3v-1.6 M126.2 842.8v1.6 M28.3 867.4h1.6 M155.5 867.4h-1.6 M28.3 898.3h1.6 M155.5 898.3h-1.6 M28.3 929.2h1.6 M155.5 929.2h-1.6" stroke="#404040" stroke-width="0.8" fill="none"/>
<rect x="28.3" y="842.8" width="127.2" height="111.5" fill="none" stroke="#404040" stroke-width="1.1"/>
<text transform="translate(57 965.55) scale(1 1.12)" text-anchor="middle">-0.1</text>
<text transform="translate(91.6 965.55) scale(1 1.12)" text-anchor="middle">0</text>
<text transform="translate(126.2 965.55) scale(1 1.12)" text-anchor="middle">0.1</text>
<text transform="translate(25.1 870.9) scale(1 1.12)" text-anchor="end">0.1</text>
<text transform="translate(25.1 901.8) scale(1 1.12)" text-anchor="end">0</text>
<text transform="translate(25.1 932.7) scale(1 1.12)" text-anchor="end">-0.1</text>
<g font-size="9.0">
<text x="91.9" y="978.6" text-anchor="middle">x(t)</text>
<text x="91.9" y="989.4" text-anchor="middle">(e)</text>
<text transform="translate(6.6 898.55) rotate(-90)" text-anchor="middle">x(t+4)</text>
</g>
<path d="M221.6 954.3v-1.6 M221.6 842.8v1.6 M259.4 954.3v-1.6 M259.4 842.8v1.6 M297.3 954.3v-1.6 M297.3 842.8v1.6 M195.3 864.4h1.6 M321.6 864.4h-1.6 M195.3 898.2h1.6 M321.6 898.2h-1.6 M195.3 932h1.6 M321.6 932h-1.6" stroke="#404040" stroke-width="0.8" fill="none"/>
<rect x="195.3" y="842.8" width="126.3" height="111.5" fill="none" stroke="#404040" stroke-width="1.1"/>
<text transform="translate(221.6 965.55) scale(1 1.12)" text-anchor="middle">-0.1</text>
<text transform="translate(259.4 965.55) scale(1 1.12)" text-anchor="middle">0</text>
<text transform="translate(297.3 965.55) scale(1 1.12)" text-anchor="middle">0.1</text>
<text transform="translate(192.1 867.9) scale(1 1.12)" text-anchor="end">0.1</text>
<text transform="translate(192.1 901.7) scale(1 1.12)" text-anchor="end">0</text>
<text transform="translate(192.1 935.5) scale(1 1.12)" text-anchor="end">-0.1</text>
<g font-size="9.0">
<text x="258.45" y="978.6" text-anchor="middle">x(t)</text>
<text x="258.45" y="989.4" text-anchor="middle">(f)</text>
<text transform="translate(173.6 898.55) rotate(-90)" text-anchor="middle">x(t+4)</text>
</g>
<path d="M403.3 646v-1.6 M403.3 535.3v1.6 M457.3 646v-1.6 M457.3 535.3v1.6 M511.2 646v-1.6 M511.2 535.3v1.6 M387.4 535.3h1.6 M511.2 535.3h-1.6 M387.4 556.3h1.6 M511.2 556.3h-1.6 M387.4 577.2h1.6 M511.2 577.2h-1.6 M387.4 598.1h1.6 M511.2 598.1h-1.6 M387.4 619h1.6 M511.2 619h-1.6 M387.4 640h1.6 M511.2 640h-1.6" stroke="#404040" stroke-width="0.8" fill="none"/>
<rect x="387.4" y="535.3" width="123.8" height="110.7" fill="none" stroke="#404040" stroke-width="1.1"/>
<text transform="translate(403.3 657.6) scale(1 1.12)" text-anchor="middle">-0.05</text>
<text transform="translate(457.3 657.6) scale(1 1.12)" text-anchor="middle">0</text>
<text transform="translate(511.2 657.6) scale(1 1.12)" text-anchor="middle">0.05</text>
<text transform="translate(384.2 538.8) scale(1 1.12)" text-anchor="end">0.04</text>
<text transform="translate(384.2 559.8) scale(1 1.12)" text-anchor="end">0.02</text>
<text transform="translate(384.2 580.7) scale(1 1.12)" text-anchor="end">0</text>
<text transform="translate(384.2 601.6) scale(1 1.12)" text-anchor="end">-0.02</text>
<text transform="translate(384.2 622.5) scale(1 1.12)" text-anchor="end">-0.04</text>
<text transform="translate(384.2 643.5) scale(1 1.12)" text-anchor="end">-0.06</text>
<g font-size="9.0">
<text x="449.3" y="670.2" text-anchor="middle">x(t)</text>
<text x="449.3" y="678.9" text-anchor="middle">(a)</text>
<text transform="translate(362.1 590.65) rotate(-90)" text-anchor="middle">x(t+4)</text>
</g>
<path d="M557.3 646v-1.6 M557.3 535.3v1.6 M617.2 646v-1.6 M617.2 535.3v1.6 M677.1 646v-1.6 M677.1 535.3v1.6 M553.5 535.8h1.6 M677.5 535.8h-1.6 M553.5 589.2h1.6 M677.5 589.2h-1.6 M553.5 642.6h1.6 M677.5 642.6h-1.6" stroke="#404040" stroke-width="0.8" fill="none"/>
<rect x="553.5" y="535.3" width="124" height="110.7" fill="none" stroke="#404040" stroke-width="1.1"/>
<text transform="translate(557.3 657.6) scale(1 1.12)" text-anchor="middle">-0.05</text>
<text transform="translate(617.2 657.6) scale(1 1.12)" text-anchor="middle">0</text>
<text transform="translate(677.1 657.6) scale(1 1.12)" text-anchor="middle">0.05</text>
<text transform="translate(550.3 539.3) scale(1 1.12)" text-anchor="end">0.05</text>
<text transform="translate(550.3 592.7) scale(1 1.12)" text-anchor="end">0</text>
<text transform="translate(550.3 646.1) scale(1 1.12)" text-anchor="end">-0.05</text>
<g font-size="9.0">
<text x="615.5" y="670.2" text-anchor="middle">x(t)</text>
<text x="615.5" y="678.9" text-anchor="middle">(b)</text>
<text transform="translate(528.2 590.65) rotate(-90)" text-anchor="middle">x(t+4)</text>
</g>
<path d="M400.4 798.9v-1.6 M400.4 688.9v1.6 M456 798.9v-1.6 M456 688.9v1.6 M511.6 798.9v-1.6 M511.6 688.9v1.6 M387.4 689.4h1.6 M511.2 689.4h-1.6 M387.4 711h1.6 M511.2 711h-1.6 M387.4 732.6h1.6 M511.2 732.6h-1.6 M387.4 754.2h1.6 M511.2 754.2h-1.6 M387.4 775.8h1.6 M511.2 775.8h-1.6 M387.4 797.4h1.6 M511.2 797.4h-1.6" stroke="#404040" stroke-width="0.8" fill="none"/>
<rect x="387.4" y="688.9" width="123.8" height="110" fill="none" stroke="#404040" stroke-width="1.1"/>
<text transform="translate(400.4 810.5) scale(1 1.12)" text-anchor="middle">-0.05</text>
<text transform="translate(456 810.5) scale(1 1.12)" text-anchor="middle">0</text>
<text transform="translate(511.6 810.5) scale(1 1.12)" text-anchor="middle">0.05</text>
<text transform="translate(384.2 692.9) scale(1 1.12)" text-anchor="end">0.04</text>
<text transform="translate(384.2 714.5) scale(1 1.12)" text-anchor="end">0.02</text>
<text transform="translate(384.2 736.1) scale(1 1.12)" text-anchor="end">0</text>
<text transform="translate(384.2 757.7) scale(1 1.12)" text-anchor="end">-0.02</text>
<text transform="translate(384.2 779.3) scale(1 1.12)" text-anchor="end">-0.04</text>
<text transform="translate(384.2 800.9) scale(1 1.12)" text-anchor="end">-0.06</text>
<g font-size="9.0">
<text x="449.3" y="823.1" text-anchor="middle">x(t)</text>
<text x="449.3" y="832.4" text-anchor="middle">(c)</text>
<text transform="translate(362.1 743.9) rotate(-90)" text-anchor="middle">x(t+4)</text>
</g>
<path d="M556.6 798.9v-1.6 M556.6 688.9v1.6 M617 798.9v-1.6 M617 688.9v1.6 M677.4 798.9v-1.6 M677.4 688.9v1.6 M553.5 689.4h1.6 M677.5 689.4h-1.6 M553.5 743.1h1.6 M677.5 743.1h-1.6 M553.5 796.8h1.6 M677.5 796.8h-1.6" stroke="#404040" stroke-width="0.8" fill="none"/>
<rect x="553.5" y="688.9" width="124" height="110" fill="none" stroke="#404040" stroke-width="1.1"/>
<text transform="translate(556.6 810.5) scale(1 1.12)" text-anchor="middle">-0.05</text>
<text transform="translate(617 810.5) scale(1 1.12)" text-anchor="middle">0</text>
<text transform="translate(677.4 810.5) scale(1 1.12)" text-anchor="middle">0.05</text>
<text transform="translate(550.3 692.9) scale(1 1.12)" text-anchor="end">0.05</text>
<text transform="translate(550.3 746.6) scale(1 1.12)" text-anchor="end">0</text>
<text transform="translate(550.3 800.3) scale(1 1.12)" text-anchor="end">-0.05</text>
<g font-size="9.0">
<text x="615.5" y="823.1" text-anchor="middle">x(t)</text>
<text x="615.5" y="832.4" text-anchor="middle">(d)</text>
<text transform="translate(528.2 743.9) rotate(-90)" text-anchor="middle">x(t+4)</text>
</g>
<path d="M400.4 952.3v-1.6 M400.4 842v1.6 M456 952.3v-1.6 M456 842v1.6 M511.6 952.3v-1.6 M511.6 842v1.6 M387.4 842.8h1.6 M511.2 842.8h-1.6 M387.4 864.4h1.6 M511.2 864.4h-1.6 M387.4 886h1.6 M511.2 886h-1.6 M387.4 907.6h1.6 M511.2 907.6h-1.6 M387.4 929.2h1.6 M511.2 929.2h-1.6 M387.4 950.8h1.6 M511.2 950.8h-1.6" stroke="#404040" stroke-width="0.8" fill="none"/>
<rect x="387.4" y="842" width="123.8" height="110.3" fill="none" stroke="#404040" stroke-width="1.1"/>
<text transform="translate(400.4 963.9) scale(1 1.12)" text-anchor="middle">-0.05</text>
<text transform="translate(456 963.9) scale(1 1.12)" text-anchor="middle">0</text>
<text transform="translate(511.6 963.9) scale(1 1.12)" text-anchor="middle">0.05</text>
<text transform="translate(384.2 846.3) scale(1 1.12)" text-anchor="end">0.04</text>
<text transform="translate(384.2 867.9) scale(1 1.12)" text-anchor="end">0.02</text>
<text transform="translate(384.2 889.5) scale(1 1.12)" text-anchor="end">0</text>
<text transform="translate(384.2 911.1) scale(1 1.12)" text-anchor="end">-0.02</text>
<text transform="translate(384.2 932.7) scale(1 1.12)" text-anchor="end">-0.04</text>
<text transform="translate(384.2 954.3) scale(1 1.12)" text-anchor="end">-0.06</text>
<g font-size="9.0">
<text x="449.3" y="976.5" text-anchor="middle">x(t)</text>
<text x="449.3" y="987.4" text-anchor="middle">(e)</text>
<text transform="translate(362.1 897.15) rotate(-90)" text-anchor="middle">x(t+4)</text>
</g>
<path d="M568 952.3v-1.6 M568 842v1.6 M595.3 952.3v-1.6 M595.3 842v1.6 M622.6 952.3v-1.6 M622.6 842v1.6 M649.9 952.3v-1.6 M649.9 842v1.6 M677.2 952.3v-1.6 M677.2 842v1.6 M553.5 865.6h1.6 M677.5 865.6h-1.6 M553.5 889.9h1.6 M677.5 889.9h-1.6 M553.5 914.2h1.6 M677.5 914.2h-1.6 M553.5 938.5h1.6 M677.5 938.5h-1.6" stroke="#404040" stroke-width="0.8" fill="none"/>
<rect x="553.5" y="842" width="124" height="110.3" fill="none" stroke="#404040" stroke-width="1.1"/>
<text transform="translate(568 963.9) scale(1 1.12)" text-anchor="middle">-0.04</text>
<text transform="translate(595.3 963.9) scale(1 1.12)" text-anchor="middle">-0.02</text>
<text transform="translate(622.6 963.9) scale(1 1.12)" text-anchor="middle">0</text>
<text transform="translate(649.9 963.9) scale(1 1.12)" text-anchor="middle">0.02</text>
<text transform="translate(677.2 963.9) scale(1 1.12)" text-anchor="middle">0.04</text>
<text transform="translate(550.3 869.1) scale(1 1.12)" text-anchor="end">0.02</text>
<text transform="translate(550.3 893.4) scale(1 1.12)" text-anchor="end">0</text>
<text transform="translate(550.3 917.7) scale(1 1.12)" text-anchor="end">-0.02</text>
<text transform="translate(550.3 942) scale(1 1.12)" text-anchor="end">-0.04</text>
<g font-size="9.0">
<text x="615.5" y="976.5" text-anchor="middle">x(t)</text>
<text x="615.5" y="987.4" text-anchor="middle">(f)</text>
<text transform="translate(528.2 897.15) rotate(-90)" text-anchor="middle">x(t+4)</text>
</g>
</g>
<g font-family="Liberation Serif, serif" font-weight="bold" font-size="14.8" fill="#000" text-anchor="middle">
<text x="161.5" y="478.8">(I) Noise reduction effects of five noise reduction</text>
<text x="161.5" y="502">methods on cargo ship</text>
<text x="516.2" y="478.8">(II) Noise reduction effects of five noise reduction</text>
<text x="516.2" y="502">methods on cruise ship</text>
<text x="161.5" y="1009.6">(III) Noise reduction effects of five noise reduction</text>
<text x="161.5" y="1032.2">methods on ferryboat</text>
<text x="516.3" y="1009.6">(IV) Noise reduction effects of five noise reduction</text>
<text x="516.3" y="1032.2">methods on small ship</text>
</g>
</svg></body></html>
